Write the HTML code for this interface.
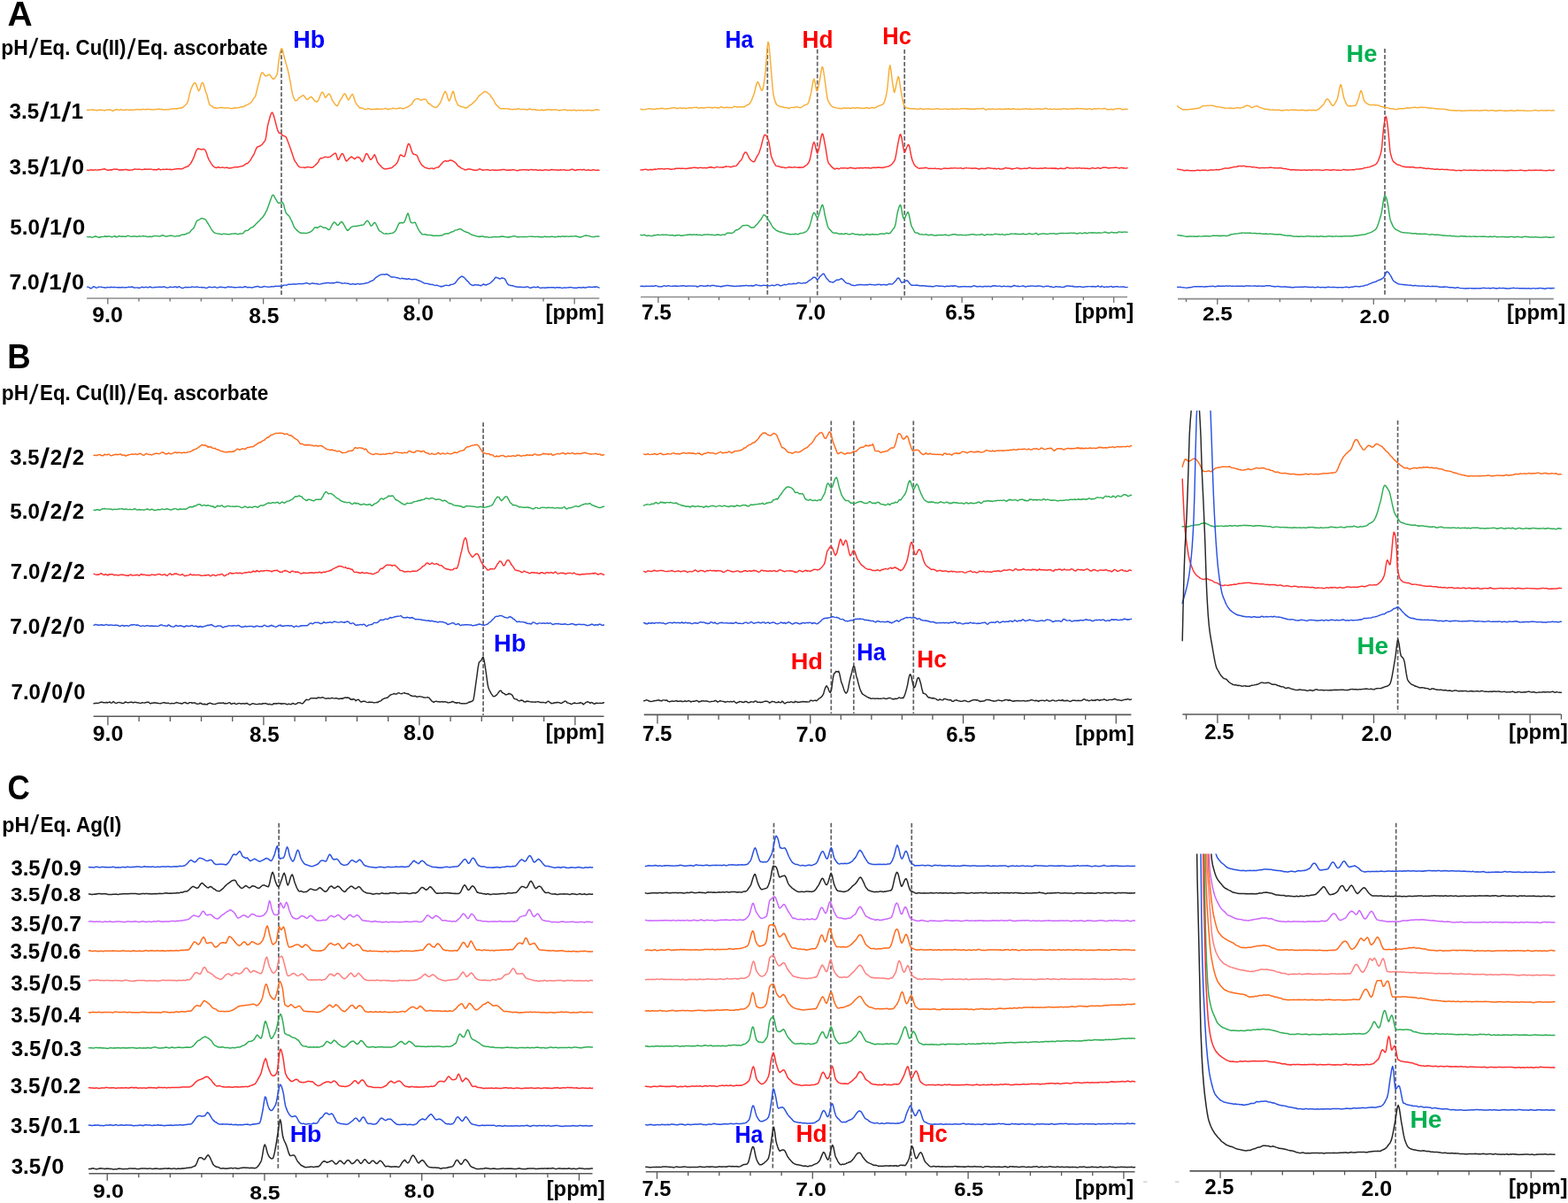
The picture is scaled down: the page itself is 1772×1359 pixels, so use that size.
<!DOCTYPE html>
<html><head><meta charset="utf-8"><style>
html,body{margin:0;padding:0;background:#fff;}
svg{display:block;}
text{font-family:"Liberation Sans",Arial,sans-serif;font-weight:bold;}
</style></head><body>
<svg width="1772" height="1359" viewBox="0 0 1772 1359">
<rect width="1772" height="1359" fill="#fff"/>
<text transform="translate(8.53,29.00) scale(0.9992,1)" font-size="38.99" fill="#000">A</text>
<text transform="translate(1.31,61.90) scale(0.9761,1)" font-size="23.48" fill="#000">pH</text>
<text transform="translate(32.41,65.09) matrix(0.7200,0,-0.2203,1,0,0)" font-size="30.74" fill="#000">/</text>
<text transform="translate(44.75,61.90) scale(0.9485,1)" font-size="23.48" fill="#000">Eq. Cu(II)</text>
<text transform="translate(143.48,65.57) matrix(0.7200,0,-0.1736,1,0,0)" font-size="31.28" fill="#000">/</text>
<text transform="translate(154.94,61.90) scale(0.9587,1)" font-size="23.48" fill="#000">Eq. ascorbate</text>
<text transform="translate(10.50,134.20) scale(1.0075,1)" font-size="24.00" fill="#000">3.5</text>
<text transform="translate(44.57,137.19) matrix(1.0000,0,-0.1291,1,0,0)" font-size="30.60" fill="#000">/</text>
<text transform="translate(55.78,134.20) scale(0.9840,1)" font-size="24.00" fill="#000">1</text>
<text transform="translate(69.37,137.19) matrix(1.0000,0,-0.1291,1,0,0)" font-size="30.60" fill="#000">/</text>
<text transform="translate(80.53,134.20) scale(1.0195,1)" font-size="24.00" fill="#000">1</text>
<text transform="translate(10.50,196.50) scale(1.0015,1)" font-size="24.14" fill="#000">3.5</text>
<text transform="translate(44.57,199.49) matrix(1.0000,0,-0.1291,1,0,0)" font-size="30.60" fill="#000">/</text>
<text transform="translate(55.78,196.50) scale(0.9782,1)" font-size="24.14" fill="#000">1</text>
<text transform="translate(69.37,199.49) matrix(1.0000,0,-0.1291,1,0,0)" font-size="30.60" fill="#000">/</text>
<text transform="translate(80.98,196.50) scale(1.0551,1)" font-size="24.14" fill="#000">0</text>
<text transform="translate(11.27,264.90) scale(0.9924,1)" font-size="24.43" fill="#000">5.0</text>
<text transform="translate(45.07,267.59) matrix(1.0000,0,-0.1183,1,0,0)" font-size="30.74" fill="#000">/</text>
<text transform="translate(55.99,264.90) scale(1.0277,1)" font-size="24.43" fill="#000">1</text>
<text transform="translate(70.36,267.59) matrix(1.0000,0,-0.1139,1,0,0)" font-size="30.74" fill="#000">/</text>
<text transform="translate(81.66,264.90) scale(1.0686,1)" font-size="24.43" fill="#000">0</text>
<text transform="translate(10.51,326.50) scale(1.0589,1)" font-size="23.29" fill="#000">7.0</text>
<text transform="translate(44.85,329.89) matrix(1.0000,0,-0.1008,1,0,0)" font-size="30.74" fill="#000">/</text>
<text transform="translate(55.36,326.50) scale(1.1056,1)" font-size="23.29" fill="#000">1</text>
<text transform="translate(70.05,329.89) matrix(1.0000,0,-0.0964,1,0,0)" font-size="30.74" fill="#000">/</text>
<text transform="translate(80.98,326.50) scale(1.0940,1)" font-size="23.29" fill="#000">0</text>
<text transform="translate(331.24,53.53) scale(0.9980,1)" font-size="27.07" fill="#0000FF">Hb</text>
<text transform="translate(819.58,53.72) scale(0.8974,1)" font-size="27.86" fill="#0000FF">Ha</text>
<text transform="translate(906.49,53.73) scale(0.9551,1)" font-size="27.48" fill="#FF0000">Hd</text>
<text transform="translate(997.35,50.32) scale(0.9221,1)" font-size="27.57" fill="#FF0000">Hc</text>
<text transform="translate(1521.54,69.52) scale(0.9598,1)" font-size="28.29" fill="#00B050">He</text>
<text transform="translate(104.23,363.97) scale(1.0798,1)" font-size="23.10" fill="#000">9.0</text>
<text transform="translate(281.16,364.66) scale(1.0477,1)" font-size="23.52" fill="#000">8.5</text>
<text transform="translate(455.55,362.16) scale(1.0501,1)" font-size="23.66" fill="#000">8.0</text>
<text transform="translate(616.49,360.79) scale(1.0006,1)" font-size="23.85" fill="#000">[ppm]</text>
<text transform="translate(725.02,360.86) scale(1.0038,1)" font-size="24.29" fill="#000">7.5</text>
<text transform="translate(899.22,360.86) scale(1.0202,1)" font-size="23.94" fill="#000">7.0</text>
<text transform="translate(1068.25,360.56) scale(1.0293,1)" font-size="23.52" fill="#000">6.5</text>
<text transform="translate(1214.48,359.98) scale(0.9864,1)" font-size="24.39" fill="#000">[ppm]</text>
<text transform="translate(1358.95,361.87) scale(1.0710,1)" font-size="22.68" fill="#000">2.5</text>
<text transform="translate(1536.54,364.87) scale(1.0732,1)" font-size="22.82" fill="#000">2.0</text>
<text transform="translate(1702.99,361.41) scale(1.0035,1)" font-size="23.74" fill="#000">[ppm]</text>
<line x1="98.1" y1="337.0" x2="677.3" y2="337.0" stroke="#8C8C8C" stroke-width="1.6"/>
<line x1="649.20" y1="337.0" x2="649.20" y2="343.50" stroke="#6E6E6E" stroke-width="1.3"/>
<line x1="614.04" y1="337.0" x2="614.04" y2="340.60" stroke="#6E6E6E" stroke-width="1.3"/>
<line x1="578.88" y1="337.0" x2="578.88" y2="340.60" stroke="#6E6E6E" stroke-width="1.3"/>
<line x1="543.72" y1="337.0" x2="543.72" y2="340.60" stroke="#6E6E6E" stroke-width="1.3"/>
<line x1="508.56" y1="337.0" x2="508.56" y2="340.60" stroke="#6E6E6E" stroke-width="1.3"/>
<line x1="473.40" y1="337.0" x2="473.40" y2="343.50" stroke="#6E6E6E" stroke-width="1.3"/>
<line x1="438.24" y1="337.0" x2="438.24" y2="340.60" stroke="#6E6E6E" stroke-width="1.3"/>
<line x1="403.08" y1="337.0" x2="403.08" y2="340.60" stroke="#6E6E6E" stroke-width="1.3"/>
<line x1="367.92" y1="337.0" x2="367.92" y2="340.60" stroke="#6E6E6E" stroke-width="1.3"/>
<line x1="332.76" y1="337.0" x2="332.76" y2="340.60" stroke="#6E6E6E" stroke-width="1.3"/>
<line x1="297.60" y1="337.0" x2="297.60" y2="343.50" stroke="#6E6E6E" stroke-width="1.3"/>
<line x1="262.44" y1="337.0" x2="262.44" y2="340.60" stroke="#6E6E6E" stroke-width="1.3"/>
<line x1="227.28" y1="337.0" x2="227.28" y2="340.60" stroke="#6E6E6E" stroke-width="1.3"/>
<line x1="192.12" y1="337.0" x2="192.12" y2="340.60" stroke="#6E6E6E" stroke-width="1.3"/>
<line x1="156.96" y1="337.0" x2="156.96" y2="340.60" stroke="#6E6E6E" stroke-width="1.3"/>
<line x1="121.80" y1="337.0" x2="121.80" y2="343.50" stroke="#6E6E6E" stroke-width="1.3"/>
<line x1="724.1" y1="335.5" x2="1274.0" y2="335.5" stroke="#8C8C8C" stroke-width="1.6"/>
<line x1="1258.70" y1="335.5" x2="1258.70" y2="342.00" stroke="#6E6E6E" stroke-width="1.3"/>
<line x1="1224.38" y1="335.5" x2="1224.38" y2="339.10" stroke="#6E6E6E" stroke-width="1.3"/>
<line x1="1190.06" y1="335.5" x2="1190.06" y2="339.10" stroke="#6E6E6E" stroke-width="1.3"/>
<line x1="1155.74" y1="335.5" x2="1155.74" y2="339.10" stroke="#6E6E6E" stroke-width="1.3"/>
<line x1="1121.42" y1="335.5" x2="1121.42" y2="339.10" stroke="#6E6E6E" stroke-width="1.3"/>
<line x1="1087.10" y1="335.5" x2="1087.10" y2="342.00" stroke="#6E6E6E" stroke-width="1.3"/>
<line x1="1052.78" y1="335.5" x2="1052.78" y2="339.10" stroke="#6E6E6E" stroke-width="1.3"/>
<line x1="1018.46" y1="335.5" x2="1018.46" y2="339.10" stroke="#6E6E6E" stroke-width="1.3"/>
<line x1="984.14" y1="335.5" x2="984.14" y2="339.10" stroke="#6E6E6E" stroke-width="1.3"/>
<line x1="949.82" y1="335.5" x2="949.82" y2="339.10" stroke="#6E6E6E" stroke-width="1.3"/>
<line x1="915.50" y1="335.5" x2="915.50" y2="342.00" stroke="#6E6E6E" stroke-width="1.3"/>
<line x1="881.18" y1="335.5" x2="881.18" y2="339.10" stroke="#6E6E6E" stroke-width="1.3"/>
<line x1="846.86" y1="335.5" x2="846.86" y2="339.10" stroke="#6E6E6E" stroke-width="1.3"/>
<line x1="812.54" y1="335.5" x2="812.54" y2="339.10" stroke="#6E6E6E" stroke-width="1.3"/>
<line x1="778.22" y1="335.5" x2="778.22" y2="339.10" stroke="#6E6E6E" stroke-width="1.3"/>
<line x1="743.90" y1="335.5" x2="743.90" y2="342.00" stroke="#6E6E6E" stroke-width="1.3"/>
<line x1="1331.0" y1="337.6" x2="1755.8" y2="337.6" stroke="#8C8C8C" stroke-width="1.6"/>
<line x1="1728.80" y1="337.6" x2="1728.80" y2="344.10" stroke="#6E6E6E" stroke-width="1.3"/>
<line x1="1693.50" y1="337.6" x2="1693.50" y2="341.20" stroke="#6E6E6E" stroke-width="1.3"/>
<line x1="1658.20" y1="337.6" x2="1658.20" y2="341.20" stroke="#6E6E6E" stroke-width="1.3"/>
<line x1="1622.90" y1="337.6" x2="1622.90" y2="341.20" stroke="#6E6E6E" stroke-width="1.3"/>
<line x1="1587.60" y1="337.6" x2="1587.60" y2="341.20" stroke="#6E6E6E" stroke-width="1.3"/>
<line x1="1552.30" y1="337.6" x2="1552.30" y2="344.10" stroke="#6E6E6E" stroke-width="1.3"/>
<line x1="1517.00" y1="337.6" x2="1517.00" y2="341.20" stroke="#6E6E6E" stroke-width="1.3"/>
<line x1="1481.70" y1="337.6" x2="1481.70" y2="341.20" stroke="#6E6E6E" stroke-width="1.3"/>
<line x1="1446.40" y1="337.6" x2="1446.40" y2="341.20" stroke="#6E6E6E" stroke-width="1.3"/>
<line x1="1411.10" y1="337.6" x2="1411.10" y2="341.20" stroke="#6E6E6E" stroke-width="1.3"/>
<line x1="1375.80" y1="337.6" x2="1375.80" y2="344.10" stroke="#6E6E6E" stroke-width="1.3"/>
<line x1="1340.50" y1="337.6" x2="1340.50" y2="341.20" stroke="#6E6E6E" stroke-width="1.3"/>
<line x1="318.0" y1="55.3" x2="318.0" y2="334.5" stroke="#606066" stroke-width="1.7" stroke-dasharray="4.7,2.3"/>
<line x1="867.3" y1="55.0" x2="867.3" y2="335.0" stroke="#606066" stroke-width="1.7" stroke-dasharray="4.7,2.3"/>
<line x1="923.7" y1="55.8" x2="923.7" y2="335.0" stroke="#606066" stroke-width="1.7" stroke-dasharray="4.7,2.3"/>
<line x1="1022.2" y1="56.1" x2="1022.2" y2="335.0" stroke="#606066" stroke-width="1.7" stroke-dasharray="4.7,2.3"/>
<line x1="1565.0" y1="55.0" x2="1565.0" y2="334.3" stroke="#606066" stroke-width="1.7" stroke-dasharray="4.7,2.3"/>
<path d="M98.5 124.3l1 -.2 1 .2 1 -.2 1 0 1 -.2 1 .1 1 .2 1 -.1 1 .3 1 .2 1 .2 1 -.3 1 -.3 1 .1 1 0 1 -.1 1 .1 1 .1 1 .5 1 -.2 1 -.1 1 -.6 1 .1 1 -.1 1 0 1 0 1 .3 1 .7 1 .2 1 -.2 1 -.7 1 -.4 1 -.4 1 .2 1 .4 1 .2 1 -.4 1 -.1 1 .2 1 .2 1 .2 1 -.1 1 -0 1 -.5 1 .1 1 .2 1 .2 1 -0 1 -.2 1 .1 1 0 .5 .1 .5 0 1 -.2 1 -.1 1 -.4 1 .2 1 -.4 1 .3 1 .1 1 .1 1 .1 1 -.5 1 -.1 1 .1 1 .1 1 .3 1 -.4 1 0 1 -.3 1 .2 1 .3 1 0 1 0 1 .2 1 .1 1 -.1 1 -.3 1 0 1 0 1 -.4 1 .1 1 0 1 .4 1 -.4 1 .3 1 .2 1 .3 1 -.3 1 -.1 1 0 1 .2 1 -.1 1 -.2 1 -.3 1 -.2 1 -.3 1 .1 1 .1 1 -.3 1 -.1 1 .2 .5 .3 .5 -.4 1 -.4 1 0 1 0 1 -.5 .5 0 .5 .1 1 -.5 1 -.8 1 -1.1 1 -.8 1 -1.1 1 -1.2 .5 -.9 .5 -1.6 1 -4.1 1 -4.6 1 -3.7 .5 -1.2 .5 -1.1 1 -2.3 1 -1.8 1 -1.1 .8 -.6 1.2 1.4 1 3 1 3 1 2 1 -1.3 1 -2.8 1 -3.7 1 -1.7 1 .5 1 2.9 1 3.5 1 3.5 .5 1.4 .5 .9 1 3.8 1 4 1 3.6 .5 1 .5 .3 1 .6 1 .6 1 .7 1 1.1 1 .1 .5 .1 .5 -.2 1 .6 1 -.2 1 -.2 1 -.2 1 0 1 -.2 1 -.1 1 .1 1 .4 1 .1 1 .1 1 -.2 1 -.2 1 .2 1 .2 1 .1 .5 0 .5 .2 1 .3 1 -.2 1 -.3 1 -.2 1 -.2 1 .2 1 -.1 1 0 1 -.4 1 .1 1 -.7 .5 0 .5 -.2 1 0 1 .1 1 -.5 1 -.2 1 -1.1 1 -.3 1 -.4 .5 -.2 .5 -.4 1 -.5 1 -.4 1 -.8 1 -1.3 1 -1.4 1 -1.8 1 -1.4 .5 -.6 .5 -.5 1 -3.3 1 -4.5 1 -4.1 .5 -1.8 .5 -1.6 1 -4.4 1 -4 1 -2.5 .6 -.8 .4 0 1 .7 1 1.5 1 1.3 .5 .1 .5 .3 1 -.3 1 -.3 1 -.9 .6 -.3 .4 .2 1 1 1 1.7 1 1 1 1.2 .5 -.2 .5 .1 1 -.9 1 -1.3 1 -1.7 .5 -1 .5 -1.9 1 -9.2 1 -8 1 -5.3 1 -4 1 -1 1 2.3 1 4.6 .5 1.8 .5 2.1 1 3.6 1 3.7 .9 2.9 1.1 4.3 1 4.4 1 5.1 .5 2.9 .5 2.4 1 5.9 1 5.3 .5 1.8 .5 1.6 1 2.2 1 1.8 1 .2 1 -.3 1 -.9 1 -1.7 .5 -.3 .5 -.2 1 -.6 1 -.7 1 -.9 1 -.3 .5 0 .5 .3 1 1.4 1 1.6 1 1 .7 .3 1.3 -.5 1 -1.2 1 -1 1 -.5 1 1 1 1.1 1 1.2 1 1.3 1 .6 .9 .6 1.1 -.2 1 -1.1 1 -2 1 -2.8 1 -2.4 1 -1.9 1 -.5 1 1.3 1 2.6 1 2.1 .4 .1 .6 -.4 1 -1.6 1 -1.3 1 -.8 1 .2 1 1.9 1 2.4 1 2.6 .5 .6 .5 .8 1 1.5 1 1.5 1 1.1 1 .6 .6 .5 .4 -.7 1 -1.5 1 -2.7 1 -1.7 .5 -.7 .5 -.6 1 -1.8 1 -2 1 -1.6 1 -.8 1 .9 1 2.3 1 2.4 1 1.6 1 -.8 1 -1.6 1 -2.1 1 -1.3 .6 -.7 .4 .1 1 2.2 1 3.3 1 3 .5 1 .5 .9 1 1.5 1 1 1 1.2 .5 .6 .5 .8 1 0 1 .1 1 0 1 .6 1 .5 1 .2 1 .2 1 -.2 .5 -.3 .5 -.5 1 0 1 .4 1 .3 1 .2 1 .2 1 -.4 1 .3 1 -.4 1 .3 1 -.5 1 .2 1 -.2 1 .3 1 .1 1 -.1 1 -.1 1 -.1 1 -.2 1 -.2 1 -.3 1 .2 1 .6 1 .5 1 -.2 .5 -.6 .5 .1 1 .1 1 -.2 1 -.4 1 -.2 1 .1 1 .3 1 .2 1 -.1 1 -.3 1 -.3 1 0 1 -.3 1 .5 1 .1 .5 .4 .5 -.2 1 -.3 1 -.3 1 -.5 1 -.3 1 -.3 1 -.6 1 -.7 .5 -.6 .5 0 1 -.6 1 -1.3 1 -1.7 1 -1.6 1 -1.1 1 -.7 1 -.2 .9 -.5 1.1 .2 1 .1 1 1 1 .4 1 0 1 -.4 1 -.6 1 .1 .4 -.2 .6 .1 1 .4 1 1.7 1 1.8 1 1.3 .5 -.1 .5 0 1 .7 1 1.2 1 .6 1 .8 1 .4 1 .5 1 -.1 1 -.2 1 -.9 1 -1.4 1 -1.3 .5 -.7 .5 -.6 1 -2.2 1 -2.8 .5 -1.1 .5 -1.7 1 -2.3 1 -2.4 .7 -.4 1.3 1.8 1 4 1 3 1 2 1 -1.5 1 -2.6 1 -3.3 1 -2.9 .5 -.5 .5 .2 1 3.8 1 4.4 .5 1.6 .5 1 1 2.2 1 2.1 .5 .5 .5 .3 1 .1 1 .9 1 .1 1 .4 1 0 1 .4 1 .5 1 .2 1 -.5 1 -.4 1 -.9 .5 -.4 .5 -.9 1 -.3 1 -.3 1 -1 1 -1 1 -1.1 1 -.5 .5 -.7 .5 -.3 1 -1.4 1 -1.6 1 -1.3 1 -1.4 1 -.5 1 -.8 1 -.9 1 -.8 1 -1 1 -.4 1 -.2 .8 .1 1.2 .8 1 .9 1 .8 1 .6 .5 .9 .5 1 1 1.6 1 1 1 1.4 1 2 1 2 .5 1 .5 .6 1 1 1 1 1 1 1 .9 1 .6 .7 .3 1.3 -.3 1 .1 1 -.1 1 .2 1 .1 1 -.1 1 .1 1 .1 1 .2 1 0 1 .3 1 .1 1 .2 .5 -.2 .5 -.1 1 -.2 1 .1 1 .1 1 -.2 1 -.5 1 .1 1 .2 1 .5 1 -.2 1 .1 1 0 1 -.1 1 .1 1 .2 1 .4 1 -.3 1 -.4 1 -.4 1 .3 1 .4 1 .4 1 -.3 1 -.1 1 .1 1 .2 1 .4 1 -.3 1 .4 1 .1 1 -.1 1 -.3 1 -.3 1 .9 1 -.3 1 0 1 -.6 1 .3 1 -.3 1 -.1 1 0 1 0 1 .4 1 -.2 1 .2 1 -.4 1 .1 1 .1 1 0 1 .1 1 .3 1 .4 1 0 1 -.2 1 -.3 1 .1 1 -.5 1 0 1 -.2 1 .5 1 .3 1 .3 1 -.2 1 0 1 0 1 .1 1 0 1 -.3 1 -.3 1 .2 1 .5 1 .3 1 -.6 1 0 1 0 1 .3 1 -.3 1 -.1 1 .3 1 .4 1 -.2 1 -.3 1 -.3 1 .5 1 -.5 1 .1 1 .1 1 .4 1 -.2 1 0 1 .1 1 -.3 1 -.4 1 -.3 1 0 1 .2 1 .1 .5 .3" fill="none" stroke="#F9AD35" stroke-width="1.45" stroke-linejoin="round" stroke-linecap="round" />
<path d="M98.5 192.1l1 .4 1 0 1 -.5 1 -.1 1 -.1 1 .6 1 -.4 1 .1 1 -.3 1 .1 1 .2 1 -.1 1 0 1 -.2 1 0 1 -.4 1 0 1 -.5 1 .1 1 -.2 1 .7 1 .4 1 .3 1 0 1 -.2 1 0 1 -.2 1 .3 1 -.7 1 -.1 1 -.4 1 .5 1 -.3 1 .2 1 .2 1 .7 1 -.3 1 .1 1 -.3 1 .3 1 -.3 1 0 1 -.2 1 0 1 .2 1 .3 1 .3 1 0 1 -.2 1 -.2 1 .2 .5 -.3 .5 -.2 1 -.3 1 -.3 1 .1 1 0 1 .1 1 -.1 1 .1 1 .2 1 .1 1 .1 1 -.1 1 -.2 1 -.3 1 .2 1 -.1 1 .1 1 -.1 1 .3 1 -.4 1 .1 1 .2 1 .3 1 .2 1 -.3 1 .2 1 .1 1 .1 1 -.9 1 -.2 1 .5 1 .5 1 -.2 1 -.2 1 -.1 1 .3 1 -.2 1 -.2 1 -.1 1 .1 1 .2 1 .1 1 -.3 1 .3 1 .2 1 -.3 1 -.2 1 -.3 1 0 1 -.1 .5 -.2 .5 .1 1 0 1 0 1 .1 1 .1 1 -.2 1 -.2 1 -.7 1 -.5 1 -.5 1 0 1 -.8 .5 .2 .5 -.6 1 -.5 1 -1.4 1 -1 1 -1.9 1 -1.9 .5 -1.1 .5 -.8 1 -2.4 1 -3 1 -2.7 .5 -1.3 .5 -.4 1 -1.2 .5 .2 .5 -.3 1 .5 1 .1 1 .4 1 0 .5 -.1 .5 -.5 1 .4 1 .4 .5 .7 .5 .9 1 2.5 1 3.2 1 2.6 .5 1.3 .5 .7 1 1.7 1 1.6 1 1.5 .5 1 .5 .5 1 .8 1 .7 1 .5 1 .2 .5 0 .5 -.5 1 0 1 -.2 1 .7 1 -.1 1 -.2 1 -.3 1 .5 1 .2 1 0 1 -.4 1 .1 1 .2 1 .5 1 .1 .5 -.3 .5 -.1 1 0 1 -.1 1 -.5 1 -.1 1 -.1 1 -.1 1 0 1 -.2 1 .1 1 -.4 1 -.2 .5 -.2 .5 0 1 -.2 1 -.2 1 -.6 1 -1 1 -.6 1 -.5 1 -.1 .5 -.5 .5 -.6 1 -.8 1 -1.2 1 -1.3 1 -2.1 1 -1.5 .5 -.9 .5 -.6 1 -2.1 1 -2.5 1 -2.5 1 -2 .9 -.3 1.1 -.3 1 -.5 1 -.4 .5 -.5 .5 -.2 1 -1.1 1 -1.4 1 -.9 1 -1.7 .5 -.9 .5 -2.5 1 -6.6 1 -6.6 .5 -2.2 .5 -1.8 1 -4 1 -3.5 1 -2.4 1 -1.3 1 1.4 1 2.9 .5 2 .5 1.5 1 4 1 3.9 .5 1.7 .5 1.9 1 2.6 1 1.5 .5 -.2 .5 0 1 .8 1 1.1 1 .7 .5 .6 .5 .1 1 .3 1 .4 1 1 1 2.5 1 2.5 1 2.8 1 2.6 1 3 1 3 1 3 1 3 1 2.8 1 1.9 1 1.4 1 1.5 1 1.5 1 1.2 1 .8 1 .4 1 0 1 0 1 0 1 .2 1 .2 1 -.3 1 -.3 1 -.4 1 .3 1 .1 1 .1 1 .2 .8 0 1.2 -.1 1 -.9 1 -.9 1 -.8 1 -1.3 .5 -.1 .5 -.9 1 -.8 1 -2.5 1 -1.4 1 -.9 1 .1 1 -.1 1 -.6 1 -.4 1 -.4 1 .2 1 .2 1 .1 1 -.2 1 -.1 1 -.3 1 -1 1 -.9 .5 -.4 .5 -.3 1 -.9 1 -.3 .9 -.2 1.1 2.9 1 3.6 .5 .9 .5 -.3 1 -1.3 1 -2.2 1 -2 1 -1.3 1 .5 1 1.8 1 2.5 1 2.5 1 1.3 .5 -.1 .5 -.7 1 -.7 1 -1.5 1 -.7 1 -1 .5 .3 .5 -.5 1 .9 1 .6 1 1.1 .5 -.2 .5 -.5 1 -.8 1 -.8 1 .3 .9 -.2 1.1 1 1 1.3 1 1.8 1 1.1 1 -.9 1 -2.5 1 -2.8 1 -2.5 1 -.5 1 1 1 2.2 1 1.9 1 1.4 .4 .4 .6 -.3 1 -1.1 1 -1.6 1 -1.7 .7 -1.1 1.3 2.1 1 3.4 1 2.8 .5 .8 .5 .4 1 1.8 1 .6 1 1.2 .5 .4 .5 .9 1 .6 1 .7 1 .5 1 .1 1 0 1 -.4 1 0 1 -.2 1 -.3 1 -.2 1 -.1 1 -.7 .5 -.8 .5 -.4 1 -.6 1 -.5 1 -1.4 1 -1.1 .5 -.9 .5 -.7 1 -2.9 1 -2.9 1 -1.9 1 .3 1 .5 1 .8 1 .4 .5 -.1 .5 -.7 1 -3.3 1 -4.1 1 -3.9 1 -2.4 1 .2 1 2.4 1 3.3 .5 1.6 .5 1.1 1 2.4 .5 .3 .5 .6 1 .1 1 .4 1 .1 1 1.2 1 2.4 1 2.5 .5 1 .5 .7 1 2 1 1.5 1 1.1 .5 .1 .5 .4 1 .9 1 .6 1 .4 1 .1 1 .5 1 .1 1 .3 1 -.6 1 0 1 -.1 1 .7 1 0 1 -.7 1 -.4 1 -.5 1 0 .5 -.1 .5 0 1 -1.3 1 -1 1 -1.2 1 -.9 .5 -.8 .5 -.4 1 -.9 1 -.6 1 -.2 1 .5 1 -.2 1 .1 1 -.8 1 0 1 -.5 .9 .4 1.1 .4 1 .8 1 .5 1 .9 .5 .3 .5 .5 1 1.4 1 1.2 1 .9 1 .2 .5 .6 .5 .5 1 .7 1 .3 1 .5 1 .2 .5 .7 .5 -.1 1 .2 1 -.4 1 -.3 1 -.3 1 0 1 .3 1 .1 1 .4 1 .1 1 .5 1 -.1 1 -.1 1 .2 1 -.2 1 -.3 1 -.9 1 0 1 .5 1 .5 1 .4 1 -.3 1 .1 1 -.2 1 -.1 1 0 1 -.1 1 .4 1 .2 1 .1 1 -.3 1 -.1 1 0 1 .2 1 0 1 -.1 1 .3 1 -.2 1 0 1 -.2 1 0 1 -.2 1 -.1 1 -.3 1 .1 1 .2 1 .4 1 .2 1 -.2 1 .2 1 -.3 1 .2 1 -.2 1 0 1 -.3 1 .1 1 .1 1 .2 1 .5 1 .1 1 0 1 -.5 1 -.2 1 -.1 1 0 1 -.1 1 .1 1 -.2 1 .2 1 -.3 1 .4 1 -.1 1 .5 1 -.5 1 -.3 1 -.1 1 .2 1 .3 1 -.1 1 -.2 1 0 1 .3 1 .4 1 -.1 1 -.1 1 -.3 1 .3 1 .1 1 .4 1 -.6 1 0 1 -.4 1 .4 1 -.1 1 .4 1 -.1 1 -.1 1 -.5 1 -.2 1 .2 1 0 1 .4 1 -.2 1 .1 1 0 1 .3 1 -.1 1 -.2 1 -.2 1 .3 1 -.1 1 -.1 1 -.1 1 .3 1 .2 1 -.1 1 .2 1 0 1 -.1 1 -.7 1 -.1 1 -.4 1 .4 1 .2 1 .7 1 .1 1 -.5 1 -.3 1 .1 1 -.1 1 -.1 1 0 1 .4 1 -.2 1 -.3 1 0 1 .8 1 .1 1 -.2 1 -.4 1 .2 1 .3 1 .2 1 -.1 1 -.4 1 -.2 1 0 1 .4 1 .2 1 -.2 1 0 1 0 .5 .2" fill="none" stroke="#FF3030" stroke-width="1.45" stroke-linejoin="round" stroke-linecap="round" />
<path d="M98.5 267.6l1 0 1 .1 1 -.2 1 .1 1 .5 1 .1 1 -.4 1 -.6 1 -.2 1 .3 1 -0 1 .6 1 .1 1 .4 1 -.7 1 -.2 1 .1 1 -.2 1 -0 1 -.7 1 .6 1 -.3 1 .3 1 -.4 1 -.1 1 .6 1 -0 1 .6 1 -.6 1 -.3 1 -.3 1 .2 1 .9 1 -.3 1 -.3 1 -.8 1 .3 1 .4 1 -0 1 -.2 1 -0 1 .4 1 -.1 1 -.1 1 -.8 1 -0 1 -0 1 .5 1 .2 1 .2 1 -0 .5 -.2 .5 -.3 1 .1 1 -0 1 .1 1 .3 1 .1 1 -.4 1 -.4 1 .4 1 .1 1 -.2 1 -.4 1 .2 1 .2 1 .1 1 .1 1 .4 1 -0 1 -.1 1 -.4 1 .7 1 -.4 1 -.1 1 -.6 1 -.1 1 -0 1 .1 1 -0 1 .1 1 .2 1 .1 1 -.2 1 -.9 1 .1 1 -.2 1 .6 1 .4 1 .4 1 -.3 1 -.2 1 -.2 1 -.1 1 -.3 1 .1 1 .2 1 .1 1 .4 1 .2 1 -0 1 -.6 1 .1 1 -.1 1 .3 .5 -.5 .5 -0 1 -.8 1 -.1 1 -.4 1 -0 1 -0 1 -.5 1 -.2 1 -.9 1 -0 1 -.3 1 -.9 1 -1.1 1 -1.4 1 -.7 1 -1 1 -1.5 1 -2.5 1 -2.7 1 -1.8 1 -.8 1 -.1 1 -.6 1 -.8 1 -.4 1 -.2 1 .5 1 .1 .8 .3 1.2 .8 1 1.4 1 2.1 1 1.2 1 1.8 1 1.7 1 1.8 1 1.5 1 1.4 1 1.1 1 .7 1 .4 1 .2 1 .3 1 .1 1 .1 1 .1 1 .3 1 .2 1 -.2 1 -.4 1 -0 1 .2 1 .2 1 -0 1 .1 1 .1 1 -0 1 -.4 1 -0 1 -.2 1 -.1 1 .1 1 -.4 1 .3 1 .1 1 .6 1 -.3 1 -.1 .5 -.4 .5 .1 1 -0 1 -.1 1 -.1 1 -1.2 1 -1.1 1 -1 1 -.1 1 -0 1 -.3 1 -1 1 -.9 1 -1 1 -.1 1 -.7 .8 -.2 1.2 -1.6 1 -.5 1 -1.4 1 -.9 1 -1.1 1 -.8 1 -1 1 -1.2 1 -1.1 1 -.9 1 -1.1 1 -1.6 1 -1.6 1 -2 1 -1.7 1 -2.7 1 -2.8 1 -2.9 1 -2.9 1 -2.6 1 -2.8 1 -.8 1 .7 1 2.2 1 1.6 1 1.7 1 1.8 1 1 .6 .2 .4 -.2 1 .1 1 -.2 1 -.5 .8 -0 1.2 2 1 4.4 1 3.4 1 2.6 1 1 1 .9 1 1 1 1.5 1 2.1 1 1.8 1 2.5 1 2.4 1 2.6 .4 .4 .6 .7 1 1.1 1 1.2 1 .7 1 1 1 .6 1 .5 1 .2 1 .1 1 .1 1 -.2 1 .2 1 .1 1 .1 1 -.6 1 -.1 1 -.4 1 -.2 1 -.8 .8 -.6 1.2 -1.1 1 -1.4 1 -1.2 1 -.4 .9 .2 1.1 .5 1 -.5 1 -.6 1 -.7 1 -.3 1 .6 1 .6 1 .6 1 -0 1 -.1 1 .3 1 1 1 .6 1 .5 1 -.4 1 -1.5 1 -2.1 1 -2 1 -1.3 1 -1.2 1 .4 1 .8 1 1.7 1 .5 .5 .2 .5 -.6 1 -.9 1 -1.6 1 -.9 .8 -.1 1.2 1.4 1 1.8 1 1.7 1 1.9 1 1.7 1 1.3 1 -.1 1 -1.1 1 -1.2 1 -1 1 -.5 1 -.5 1 -.3 1 -.1 1 -0 1 -.1 1 -0 1 -.4 1 .1 1 -.5 1 -0 1 -.5 1 .3 1 -.3 1 -.6 1 -1.6 1 -1.4 1 -.9 .7 -.4 1.3 1.1 1 1.7 1 2.3 .8 .9 1.2 -.5 1 -1.3 1 -1.6 1 -.3 1 .8 1 2.2 1 2 1 2.4 1 1.5 .6 .7 .4 -0 1 .6 1 .8 1 .6 1 .8 1 .2 1 -.1 1 -.2 1 .2 1 .1 1 -.1 1 -.2 1 -.2 1 -0 1 -.4 1 -.3 1 -.7 .5 -.4 .5 -.4 1 -1.7 1 -2.1 1 -2.3 1 -2.2 1 -1.5 .4 .3 .6 -.2 1 .1 1 -.3 1 .3 .7 -.2 1.3 -1.9 1 -2.8 1 -3 1 -2.5 .4 -.5 .6 .8 1 3.7 1 3.9 1 2.2 1 .1 1 .3 1 -.3 1 -.5 .4 -0 .6 .6 1 2.4 1 2.1 .8 1.9 1.2 2.1 1 1.6 1 1.3 1 1 .8 .6 1.2 .2 1 -.2 1 .1 1 .2 1 .5 1 -.1 1 .2 1 -.2 1 .2 1 .2 1 .2 1 .2 1 -.1 1 .4 1 -.4 .9 .1 1.1 -.1 1 .3 1 -.2 1 -.2 1 -0 1 -0 1 -.6 1 -.6 1 -.6 1 -.3 1 .2 1 -.4 1 .3 .5 -.4 .5 -0 1 -.7 1 -.5 1 -.4 1 -.2 1 -.5 1 -.6 1 -.6 1 -.2 1 -.2 1 -.3 1 -.6 1 -.1 1 .1 1 .4 1 .7 1 .8 1 .5 1 .3 1 .7 .8 -0 1.2 .6 1 .1 1 .9 1 .5 1 .6 1 .6 1 -0 1 .4 1 .3 1 .4 1 -0 1 .4 1 .2 1 .3 1 -.5 1 .2 .7 -.1 1.3 -.3 1 .6 1 -0 1 .5 1 -.5 1 .4 1 .1 1 .3 1 -.1 1 -0 1 -.2 1 -0 1 -.5 1 .2 1 -.1 1 .4 1 -.4 1 .1 1 -.2 1 .4 1 -.7 1 .1 1 -.2 1 .2 1 -.1 1 .5 1 .1 1 .2 1 .1 1 -.3 1 .3 1 -.5 1 .1 1 -.4 1 -.3 1 -.1 1 -.2 1 .3 1 .4 1 .4 1 .1 1 -.1 1 -.1 1 -0 1 -0 1 -.2 1 .1 1 -.1 1 .2 1 -.1 1 .1 1 -.2 1 -.3 1 -0 1 -0 1 .1 1 -0 1 -0 1 .2 1 .1 1 -0 1 -.1 1 -.2 1 .3 1 -0 1 .2 1 -0 1 .1 1 .1 1 -.5 1 -.2 1 -.1 1 .6 1 -.3 1 .1 1 -.1 1 .3 1 -.4 1 -.2 1 .1 1 .4 1 .2 1 -.1 1 -.1 1 -0 1 -.6 1 .2 1 -0 1 .4 1 -.6 1 -.1 1 -0 1 .3 1 -0 1 -.3 1 .1 1 .1 1 .1 1 -.1 1 -.1 1 -0 1 -0 1 .1 1 -.2 1 -.1 1 -0 1 .2 1 .2 1 .4 1 .2 1 .2 1 -.3 1 -.2 1 -.4 1 -.5 1 -.2 1 -.4 1 .2 1 -.1 1 .3 1 .2 1 .2 1 .4 1 .2 1 .2 1 -0 1 -.1 1 -.3 1 -.1 1 -.1 1 -0 1 -0 .5 -0" fill="none" stroke="#2FAE55" stroke-width="1.45" stroke-linejoin="round" stroke-linecap="round" />
<path d="M98.5 324.1l1 0 1 .6 1 .5 1 .7 1 -.6 1 -.4 1 -1.1 1 .1 1 .5 1 .7 1 0 1 -.4 1 -.5 1 -.1 1 0 1 .1 1 .3 1 .1 1 .2 1 .2 1 -0 1 -.2 1 -.3 1 .1 1 .1 1 -.2 1 -.2 1 .2 1 -.1 1 .3 1 -.4 1 .3 1 -0 1 .2 1 -.1 1 -.2 1 .4 1 -.1 1 -.1 1 -.3 1 .3 1 .2 1 -.1 1 0 1 -.2 1 -.1 1 -.4 1 .3 1 -.2 1 -0 1 -.2 1 .5 1 .6 1 -0 1 -.2 1 -0 1 .1 1 .3 1 -.1 1 -.1 1 -.5 1 -.4 1 .3 1 .3 1 -.2 1 -.3 1 .1 1 .5 1 -0 1 -.7 1 -0 1 -.1 1 .8 1 -0 1 -0 1 -.4 1 -0 1 -0 1 -0 1 -.1 1 -.3 1 .1 1 .1 1 .2 1 -.3 1 -.1 1 -.3 1 .5 1 .3 1 .5 1 -.2 1 -.2 1 -.3 1 -.3 1 .2 1 .1 1 .2 1 -.3 1 -.3 1 -.1 1 .3 .5 .7 .5 -.4 1 -.4 1 -.4 1 .7 1 .5 1 .4 1 .2 1 -.4 1 -.5 1 -.1 1 -0 1 .2 1 -.2 1 -.1 1 .2 1 -.1 1 -.3 1 -.3 1 .2 1 .3 1 .1 1 -.4 1 -.1 1 .2 1 .4 1 0 1 0 1 -.1 1 .3 1 -.2 1 .2 1 .1 1 .4 1 .1 1 -.3 1 -.7 1 -.3 1 .1 1 .4 1 0 1 .1 1 -.5 1 -0 1 .1 1 .6 1 .2 1 -.1 1 -.6 1 -.1 1 0 1 .2 1 0 1 .1 1 .1 1 .4 1 -.3 1 -.4 1 -.4 1 -0 1 .2 1 -.1 1 .1 1 .2 1 .1 1 .2 1 -0 1 -0 1 -.1 1 0 1 -.1 1 0 1 -.2 1 .3 1 .1 1 -.2 1 -.3 1 -.5 1 .3 1 -0 1 .8 1 -0 1 -.3 1 .1 1 .1 1 .4 1 -.4 1 -.1 1 -.6 1 .1 1 -.5 1 .1 1 -.4 1 .7 1 .3 1 .2 1 -0 1 -.2 1 -.3 .5 -.3 .5 -.3 1 .3 1 .2 1 .1 1 .1 1 .1 1 -.1 1 -.1 1 -.3 1 -0 1 .2 1 -.2 1 -.2 1 -.4 1 .2 1 .1 1 -.3 1 .1 1 .1 1 .5 1 -.3 1 -.6 1 -.7 1 -.1 1 -0 1 .1 1 -.3 1 -.6 1 -.1 1 -.1 1 .3 1 -.3 1 -.2 1 -0 .5 -0 .5 .1 1 -.1 1 .1 1 -.1 1 -.2 1 -.1 1 -.1 1 .1 1 .1 1 -.3 1 -0 1 -0 1 -.3 1 -.3 1 -.2 1 .3 1 .5 1 .3 1 -0 1 -.3 1 -.4 1 -.1 1 .4 1 -0 1 .4 1 -.4 1 .3 .6 -.1 .4 .5 1 .1 1 -0 1 -.2 1 -.5 1 .1 1 -.6 1 .2 1 -.3 1 -0 1 -.3 1 -.1 1 .1 1 .4 1 -.2 1 -.1 1 .1 1 -.2 1 .4 1 -.5 .9 -.2 1.1 -.5 1 .3 1 -0 1 .1 1 .3 1 .3 1 .5 1 -.1 1 -0 1 -.3 1 .1 1 .2 1 .2 1 -.1 1 .4 1 .4 1 .2 1 -.3 1 -.3 1 .3 1 0 1 .5 1 -.5 1 -.2 1 -.1 1 0 1 .6 1 -.4 1 -.1 1 -.1 1 -.2 1 0 1 -.3 1 -.3 .4 -.1 .6 -.2 1 .1 1 -.4 1 -.7 1 -.5 1 -.6 1 -.1 1 -.6 1 -.7 1 -1.2 .5 -.5 .5 -.6 1 -.5 1 -.8 1 -.6 1 -.8 1 -.4 1 -.2 1 -.4 1 .1 1 -.1 1 .2 1 -.2 .4 -.2 .6 0 1 .2 1 .5 1 .5 1 .8 1 .8 1 .4 1 -.1 1 .1 1 .1 1 0 1 .4 1 .2 1 .2 1 .3 1 .5 1 .2 1 -.2 1 -.5 1 .6 1 -.2 1 .4 1 0 1 .5 1 -.3 .8 -.2 1.2 -.2 1 .6 1 .2 1 .2 1 -.1 1 -.1 .5 -.1 .5 -.1 1 .2 1 .1 1 .6 1 .5 1 .2 1 .4 1 .3 1 .6 1 .5 1 .5 1 .8 1 0 1 .3 1 -.2 1 .4 1 .1 1 .5 1 .1 1 .1 1 0 1 .1 1 .6 1 .3 1 -0 1 -.1 1 .2 1 .4 1 .2 1 .6 1 -.2 1 .3 1 -.6 1 0 1 -.7 1 -.1 1 -.2 1 .2 1 .2 1 -.1 1 -.5 1 -.5 .9 -.1 1.1 -.2 1 -.4 1 -.4 1 -.8 .9 -1 1.1 -1.7 1 -1.2 1 -1.1 1 -.9 1 -.8 1 -.7 .7 .1 1.3 .5 1 .6 1 1.2 1 1.1 .8 .9 1.2 1 1 1.1 1 1.4 1 .9 1 .8 1 .2 .6 .6 .4 -.2 1 -.1 1 -.6 1 .2 1 -.1 1 .3 1 -.3 1 .5 1 .2 1 .3 1 -.6 1 -.6 1 -.8 1 .9 1 .1 1 .3 1 -.9 1 -.1 1 -.5 1 -.5 .9 -.6 1.1 -1.1 1 -.9 1 -1 1 -1.1 1 -1.5 1 -.7 .6 .3 .4 .1 1 .4 1 .3 1 .8 .9 -.3 1.1 -.5 1 -.3 1 .2 1 .4 1 .5 1 1.7 1 2 1 1.8 1 1.1 1 .2 1 .6 1 -.1 1 .3 1 .1 1 .3 1 .4 1 .3 1 .3 1 -.1 1 .2 1 0 1 0 1 .1 1 0 1 .3 1 -.1 1 -.1 1 .1 1 -.4 1 0 1 -.2 1 .7 1 .4 1 .3 1 -.5 1 .1 1 -.6 1 0 1 .1 1 .3 1 -.3 1 -.4 1 .3 1 .6 1 .3 1 .2 1 -.5 1 .2 1 -.2 1 .4 1 -.4 .5 .2 .5 -.2 1 .1 1 -.3 1 0 1 .2 1 -.1 1 -.1 1 -.1 1 .2 1 .2 1 .2 1 -.4 1 -.1 1 -.1 1 .4 1 -.2 1 .1 1 .3 1 .2 1 -.3 1 -.2 1 0 1 .2 1 -.1 1 -.1 1 -.1 1 -.1 1 -.3 1 .2 1 .2 1 .3 1 .1 1 -.1 1 .2 1 -.1 1 0 1 -.5 1 -.1 1 .1 1 .5 1 -.4 1 -.1 1 -.2 1 .4 1 0 1 0 1 -.5 1 -.1 1 -.2 1 .1 1 .1 1 .1 1 0 1 -.3 1 .1 1 -.2 1 .2 1 -.3 1 .5 1 .4 .5 .2" fill="none" stroke="#2A52E2" stroke-width="1.45" stroke-linejoin="round" stroke-linecap="round" />
<path d="M724 123.2l1 .3 1 .2 1 .2 1 0 1 -.3 1 -.1 1 -.4 1 -.2 1 -.1 1 -.2 1 .1 1 .4 1 .3 1 -.1 1 -.1 1 .2 1 -.2 1 -.5 1 -0 1 .2 1 .2 1 -.5 1 -.3 1 .2 1 -.1 1 .4 1 .1 1 .2 1 -.1 1 -.3 1 -0 1 -.1 1 -.1 1 -.3 1 -.3 1 -.2 1 -.1 1 .2 1 -0 1 .4 1 .5 1 -.2 1 -.1 1 -.5 1 -.1 1 .5 1 -.1 1 .2 1 -.5 1 .6 1 -0 1 -.1 1 -.3 1 -.1 1 -.3 1 -0 1 .3 1 .1 1 -.5 1 -.2 1 -0 1 -0 1 -.3 1 .6 1 .5 1 -0 1 -.4 1 -.2 1 .1 1 -0 1 .3 1 -0 1 -.2 1 -.4 1 -0 1 -0 1 -0 1 -.1 1 .3 1 -.1 1 .5 1 -.4 1 -.1 1 -.2 1 .1 1 .3 1 .1 1 .5 1 -.8 1 -.4 1 -.5 1 .6 1 .2 1 .5 1 -.5 1 .2 1 -.6 1 .4 1 .1 1 -0 1 .1 1 -0 1 .2 1 -.6 1 -.4 1 -.6 1 .2 1 .1 1 .6 1 -0 1 -0 1 -.6 1 .4 1 -.1 1 .1 1 -.2 1 .1 1 -.7 1 -.8 1 -.4 1 -.4 1 -.4 .4 -.7 .6 -.1 1 -1.3 1 -2 1 -2.4 1 -2.7 .9 -2.2 1.1 -3.7 1 -4.3 1 -4 1 -2.1 1 .6 1 2.4 1 2.6 1 2.7 1 1.3 .4 -.1 .6 -1.2 1 -5 1 -6.8 .6 -4.2 .4 -3.5 1 -12.8 1 -13.7 1 -7.6 1 2.9 1 11 .9 10.9 1.1 13.5 1 12.5 1 8.7 1 4.2 1 3.6 1 2.4 1 1.5 1 .7 1 .2 1 .8 1 .1 1 .5 1 -.4 1 .6 .9 .3 1.1 .3 1 -0 1 -.1 1 .4 1 .4 1 -0 1 -.5 1 -.4 1 -0 1 .1 1 -0 1 -.3 1 -.3 1 -.2 1 .2 .7 .1 1.3 .6 1 -.1 1 .1 1 -.6 1 -.7 1 -.8 1 -.8 1 -.2 1 -.3 1 -.4 .8 -.5 1.2 -2.3 1 -3.5 1 -4.2 .7 -2.9 1.3 -7.4 1 -5.8 .9 -2.1 1.1 3.5 1 6.7 1 3.4 1 -1.4 1 -4 1 -4.9 1 -5.4 1 -6.7 1 -4.6 .4 -.1 .6 1.1 1 5.6 1 7.2 .5 3.7 .5 3.3 1 7.9 1 6.4 .7 2.8 1.3 2.3 1 1.6 1 1.5 1 1 1 .7 1 .3 1 .2 1 .7 1 -0 1 .2 1 .2 1 -.1 1 .5 1 -.4 1 .5 1 -.6 1 -0 1 -.4 1 .4 1 -.1 1 .2 1 -.4 1 .1 1 .3 1 .2 1 -.2 1 -.4 1 -.3 1 .4 1 .2 1 -0 1 -.5 1 -.1 1 .1 1 .4 1 -0 1 .1 1 .1 1 .2 1 -.1 1 -.1 1 -.3 1 -.2 1 -.2 1 .4 1 .5 1 -.1 1 -.6 1 -.3 1 -0 1 .4 1 .1 .6 -0 .4 -.3 1 -.6 1 -.4 1 -.6 1 -.4 1 -.5 1 -.3 1 -.4 1 -.4 1 -.5 1 -1.4 1 -2.7 1 -3.8 1 -4.5 1 -6.9 1 -11.1 1 -10.1 .9 -3.4 1.1 6.1 1 9.1 1 6.8 1 6.7 .8 2.1 1.2 -4.2 .9 -4.9 1.1 -4.9 1 -3.7 .4 -.4 .6 1.9 1 6.9 .8 5.4 1.2 6.6 1 5.6 1 4.2 1 2.3 1 1.5 1 1 .4 .3 .6 .2 1 -.1 1 .1 1 .5 1 .1 1 -.2 1 0 1 -.1 .6 .1 .4 -.1 1 .2 1 .3 1 .1 1 .1 1 0 1 -.2 1 -.7 1 .3 1 .3 1 .7 1 -.3 1 -.3 1 0 1 0 1 -.1 1 .1 1 -.3 1 .2 1 .1 1 .2 1 .1 1 -.2 1 .2 1 -.3 1 -.3 1 0 1 -.1 1 .4 1 .1 1 .4 1 -.2 1 0 1 -.2 1 -.3 1 0 1 .1 1 .6 1 -.4 1 .1 1 .1 1 -.1 1 -.2 1 -.4 1 .6 1 0 1 0 1 -.4 1 .1 1 -.1 1 .3 1 .2 1 -.3 1 -.3 1 0 1 -.1 1 0 1 -.1 1 -.1 1 .5 1 -.3 1 .5 1 -.4 1 .2 1 .2 1 .1 1 -.1 1 0 1 .1 1 0 1 -.6 1 .1 1 .2 1 0 1 -.1 1 -.3 1 .2 1 -.3 1 -.1 1 .3 1 .9 1 .5 1 -.1 1 -.7 1 -.2 1 -0 1 .2 1 -.1 1 -.1 1 -.1 1 .2 1 .2 1 .2 1 -.2 1 -.2 1 -.1 1 -0 1 .1 1 -.1 1 .2 1 .3 1 -.4 1 .2 1 -.4 1 .4 1 -.5 1 .1 1 -.3 1 .7 1 -.2 1 .3 1 -.5 1 -0 1 -.2 1 .4 1 .2 1 .1 1 -.2 1 -0 1 .2 1 -.1 1 .2 1 -.5 1 -0 1 -0 1 .1 1 -.4 1 -0 1 .2 1 .4 1 -.2 1 -.2 1 .2 1 .2 1 .1 1 -.1 1 -.3 1 -.1 1 -.1 1 .3 1 -.2 1 -0 1 -.1 1 .3 1 .1 1 -.1 1 -.1 1 -.3 1 -.2 1 -.3 1 .3 1 .6 1 .2 1 -.2 1 -.3 1 .4 1 .2 1 .1 1 -.5 1 -0 1 .3 1 .1 1 -.2 1 -0 1 -.1 1 .5 1 -.4 1 -.1 1 -.3 1 -.1 1 -0 1 .1 1 .3 1 .1 1 -.1 1 -.1 1 -0 1 -.2 1 .1 1 -.3 1 .3 1 -0 1 -0 1 -.5 1 -0 1 .3 1 -0 1 .1 1 -.2 1 .1 1 -.2 1 .2 1 .4 1 .1 1 -0 1 -0 1 .1 1 -.5 1 -.1 1 .1 1 .5 1 .4 1 -.6 1 -.3 1 -.4 1 .7 1 -.2 1 -.1 1 -.5 1 .3 1 .2 1 -0 1 -0 1 .1 1 -.3 1 -.3 1 .3 1 .4 1 .6 1 -0 1 .2 1 -.4 1 -0 1 -.3 1 .5 1 -.2 1 .2 1 -.6 1 -.2 1 -.2 1 -0 1 -0 1 -.2 1 .1 1 .4 1 .7 1 .1 1 -.3 1 -.3 1 .2 1 .1 1 -.2" fill="none" stroke="#F9AD35" stroke-width="1.45" stroke-linejoin="round" stroke-linecap="round" />
<path d="M724 192l1 .1 1 -.4 1 0 1 -.2 1 -.1 1 -.1 1 .3 1 .4 1 .1 1 -.3 1 -.3 1 0 1 .5 1 -.6 1 0 1 -.4 1 .5 1 -.4 1 -.2 1 -.3 1 .2 1 -.1 1 .1 1 -.4 1 .5 1 .1 1 0 1 -.2 1 -.2 1 0 1 -.1 1 .2 1 .5 1 0 1 0 1 -.2 1 .1 1 -.1 1 -.5 1 -.2 1 0 1 0 1 -.1 1 .1 1 0 1 .2 1 -.4 1 .1 1 .2 1 .1 1 -.1 1 .1 1 -.3 1 0 1 -.4 1 .2 1 -.2 1 .1 1 -.6 1 .1 1 -.2 1 .3 1 0 1 .2 1 0 1 0 1 -.4 1 .1 1 .1 1 .2 1 0 1 -.3 1 .3 1 .1 1 0 1 -.4 1 -.1 1 -.6 1 .3 1 -.3 1 .7 1 -.1 1 .4 1 -.3 1 -.5 1 -.3 1 0 1 .3 1 .2 1 -.1 1 .1 1 -.1 1 .3 1 -.6 1 -.2 1 -.5 1 .3 1 -.2 1 0 1 .1 1 .5 1 .1 1 -.5 1 -.2 1 -.5 1 .1 .6 -.1 .4 0 1 -.2 1 -1.2 1 -1.2 1 -1.4 1 -1.4 .9 -.5 1.1 -1.6 1 -1.8 1 -2.9 1 -2 1 -1.4 .5 .1 .5 -.1 1 1.1 1 1.9 1 2 .4 1 .6 .9 1 1.3 1 1 1 .8 1 .8 1 0 1 -.9 1 -2.1 1 -2.2 .9 -1.5 1.1 -1.8 1 -2.1 1 -3.1 1 -3.2 .6 -2.4 .4 -1.5 1 -4.1 1 -3.3 1 -2.2 .6 .2 .4 -.3 1 .7 1 1.8 1 3 .5 1.3 .5 1.6 1 6 1 6.8 .7 3.2 1.3 3.4 1 2.3 1 2 1 1.5 1 1.5 1 .2 1 .3 1 -.1 1 .5 1 .3 1 .5 1 -.3 1 .3 1 -0 1 .6 .5 -.2 .5 .1 1 -0 1 -.4 1 -.4 1 -.1 1 .3 1 -0 1 .2 1 -.1 1 -.1 1 -.3 1 .2 1 .2 1 .1 1 -0 1 -.2 1 .5 1 -.5 1 .1 .4 -.1 .6 .4 1 -.5 1 -.9 1 -.5 1 -.8 1 -.6 1 -1.3 1 -1.3 1 -2.4 1 -4.2 1 -5 1 -5.3 1 -4.3 .9 -1.8 1.1 2.5 1 4.8 1 4 .8 1.3 1.2 -3 1 -4.4 1 -6.1 1 -4.9 1 -3.5 .4 -.1 .6 .7 1 4.2 1 5.5 .5 2.5 .5 2.7 1 6.4 1 6.3 1 4.3 .5 .8 .5 .4 1 1.3 1 1.4 1 .8 1 1.1 1 .5 1 1.1 1 -.1 .4 -.3 .6 -.5 1 -.1 1 .4 1 .3 1 -.4 1 -.5 1 -.1 1 .2 1 -0 1 -.3 1 .2 1 .1 1 0 1 .4 1 -.5 1 -.1 1 -.6 1 .5 1 -0 1 .3 1 -0 1 .6 1 -.4 1 -.2 1 -.3 1 .2 1 .1 1 -.5 1 .2 1 -.1 1 .5 1 -.4 1 -.1 1 -.3 1 .5 1 -.3 1 .3 1 -.4 1 .7 1 -.1 1 -.3 1 -.2 1 -.4 1 .4 1 -.2 1 .2 1 -.3 1 .1 1 -.3 1 .4 1 -.3 1 .6 1 -.5 1 .5 1 -.7 1 0 1 -.6 1 0 1 -.2 1 -.3 .7 -.2 1.3 -.7 1 -.8 1 -.9 1 -1.2 1 -1.1 1 -1.8 1 -3 1 -5.6 1 -6.1 .5 -2.6 .5 -2.8 1 -4.8 1 -4 .8 -.6 1.2 4.1 1 6.6 1 5.4 1 4.4 1 -.8 1 -3.2 .4 -1.2 .6 -1 1 -2.3 .8 -.3 1.2 2.8 1 6.3 1 4.8 1 3.8 1 2.2 1 2.5 1 1.3 1 1.1 1 .4 1 .9 1 .6 1 .2 1 -.3 1 -.1 1 0 1 0 1 -.1 1 0 1 -.5 1 .3 1 .3 1 .4 1 .3 1 -.3 1 .1 1 -.1 1 .3 1 -.2 1 -.2 1 -.1 1 .4 1 .1 1 -0 1 -.1 1 .2 1 .3 1 .1 1 -.4 1 -.4 1 -.4 1 .3 1 -.1 1 .2 1 .2 1 -.1 1 -.1 1 -.5 1 .3 1 -0 1 -0 1 -.2 1 -.2 1 .2 1 .2 1 -.1 1 .1 1 -.1 1 -.1 1 -.2 1 .7 1 .2 1 -0 1 -.7 1 -0 1 -.2 1 .2 1 -0 1 .1 1 .1 1 -.1 1 .3 1 -.2 1 .1 1 -.2 1 -0 1 .3 1 -.1 1 .5 1 .1 1 .3 1 -.6 1 -.3 1 -0 1 .4 1 -0 1 -.2 1 .1 1 -.5 1 -.1 1 -.5 1 .6 1 -.1 1 .2 1 .1 1 .2 1 .1 1 -.3 1 .3 1 .4 1 -.3 1 -.2 1 -.1 1 .8 1 -0 1 -.1 1 -.4 1 .2 1 -.6 1 -.5 1 -.1 1 .3 1 .3 1 -.3 1 .4 1 -.1 1 .9 1 -.4 1 .1 1 -.4 1 -0 1 -.3 1 -.3 1 .1 1 .1 1 .5 1 -.1 1 .3 1 -.3 1 .2 1 -.4 1 -.1 1 .2 1 .2 1 -.1 1 -.6 1 -.3 1 -.1 1 .5 1 .4 1 -0 1 -0 1 -.4 1 .2 1 .1 1 .2 1 .1 1 -.2 1 -.1 1 -.3 1 .5 1 -.3 1 .1 1 -.5 1 .4 1 -.4 1 .3 1 .1 1 .2 1 -.2 1 -.1 1 .2 1 -.2 1 .3 1 -.3 1 .5 1 -.5 1 .5 1 -.1 1 .5 1 -.5 1 -.2 1 -.2 1 .3 1 .2 1 -0 1 -0 1 -.2 1 -.6 1 -.6 1 .2 1 .5 1 .3 1 -0 1 -.2 1 .2 1 .1 1 -.3 1 -0 1 -.1 1 .3 1 -0 1 -.4 1 .1 1 .1 1 .4 1 -.2 1 -0 1 -.1 1 .3 1 -.2 1 .1 1 -.1 1 .5 1 -.2 1 .2 1 -.5 1 -.3 1 -.2 1 .3 1 .5 1 -0 1 -.4 1 -.1 1 -.5 1 .6 1 .2 1 .1 1 -.5 1 -.6 1 .1 1 -.1 1 -0 1 .1 1 .2 1 .2 1 .3 1 -.2 1 -0 1 -.4 1 .2 1 -.2 1 .1 1 -.4 1 .3 1 -.2 1 .4 1 .3 1 .3 1 -.6 1 -.2 1 -0 1 .6 1 -.2 1 .2 1 .1 1 -.1 1 -.3" fill="none" stroke="#FF3030" stroke-width="1.45" stroke-linejoin="round" stroke-linecap="round" />
<path d="M724 265.5l1 .2 1 -.1 1 0 1 -.5 1 .6 1 .3 1 .6 1 -.4 1 -.2 1 .1 1 .4 1 .1 1 -0 1 -.6 1 -.3 1 -.1 1 .2 1 -.4 1 -.2 1 -.1 1 .4 1 .1 1 -.2 1 -.2 1 -0 1 .1 1 .1 1 -.2 1 -0 1 .2 1 .1 1 .1 1 .1 1 -0 1 -0 1 -.3 1 .7 1 .1 1 .2 1 -.7 1 -0 1 .1 1 -.2 .4 -.1 .6 .1 1 .6 1 -0 1 .1 1 -.5 1 .1 1 -.3 1 -.1 1 -0 1 -.4 1 .1 1 -.3 1 .1 1 .3 1 -0 1 -.1 1 -.2 1 .1 1 .1 1 -.2 1 .2 1 .4 1 -.3 1 .1 1 -0 1 .5 1 -.3 1 -.3 1 -.3 1 -0 1 .1 1 -.2 1 .1 1 -0 1 .1 1 .1 1 -0 1 -.1 1 .3 1 .2 1 .2 1 -.5 1 -.1 1 -.2 1 .3 1 -.1 1 .6 .8 -.2 1.2 -.3 1 -.4 1 .2 1 .3 1 -.9 1 -.6 1 -.7 1 -0 1 -0 1 -0 1 .3 1 -.1 .4 -.3 .6 -0 1 -.6 1 -1 1 -1 1 -.8 1 .1 .8 -.5 1.2 -.7 1 -.5 1 -1 1 -1 1 -1 1 -.3 1 -.1 .7 -.1 1.3 -.1 1 -0 1 .1 1 .2 .4 .7 .6 .3 1 1 1 .2 1 .2 .4 -.2 .6 -0 1 -0 1 -1.1 1 -1.1 1 -1.1 .9 -.7 1.1 -1.2 1 -1.7 1 -1.1 .8 -.8 1.2 -2 1 -2 1 -1.4 .8 .1 1.2 .8 1 1.1 1 1.5 1 1.7 .5 .8 .5 .5 1 1.6 1 1.6 1 2 1 1.7 1 1.1 1 1.1 1 .6 1 1.1 1 .4 1 .5 1 .5 1 .3 1 .4 1 -.1 1 .6 1 .2 1 .4 1 -0 1 .4 1 .3 1 .2 1 -.1 1 .4 1 .4 .8 -.2 1.2 -.1 1 -.2 1 .3 1 -.2 1 -.5 1 .4 1 .2 1 .2 1 -.6 1 -.5 1 -.3 1 -0 1 -.2 1 -.3 1 -.4 .6 -.3 .4 -0 1 -.7 1 -.8 1 -1.4 1 -1.9 1 -2 1 -3.5 1 -3.5 1 -4.2 1 -2.6 .9 -1.4 1.1 1.1 1 1.9 1 2.2 .8 .7 1.2 -2.1 1 -3.3 1 -3.5 1 -3 1 -2.6 .7 -.2 1.3 4.6 1 6 .5 2.3 .5 2 1 4 1 4 1 2.8 .5 .8 .5 .5 1 1.1 1 1.1 1 1.1 1 1 1 .3 1 .2 1 .1 .4 -0 .6 -0 1 .2 1 .3 1 .4 1 -0 1 .1 1 -.3 1 .3 1 .1 1 .1 1 -.5 1 -.2 1 .1 1 .6 1 .1 1 .2 1 -.2 1 -.5 1 -.3 1 .1 1 .3 1 .5 1 -.1 1 .1 1 .1 1 -0 1 .7 1 -.3 1 -.2 1 -0 1 .3 1 .4 1 -.4 1 -.3 1 -.5 1 .2 1 .1 1 -0 1 .6 1 -.6 1 .1 1 -.4 1 .3 1 .2 1 -.3 1 .2 1 -0 1 .2 1 -.4 1 -.4 1 -0 1 -.4 1 .1 1 -0 1 .4 1 -.1 1 -.8 1 -.2 1 .1 1 .3 .7 -0 1.3 -.5 1 -1.2 1 -1.3 1 -1.7 1 -.9 1 -1.6 1 -3 1 -6 1 -6 .5 -2.3 .5 -1.9 1 -3.4 1 -2.1 .5 -.3 .5 .8 1 4.9 1 6.1 1 3.6 1 -.1 1 -1.2 1 -2.7 1 -2.2 1 -1.3 1 2.1 1 4.4 1 5.4 1 4 1 1.8 1 1.9 1 1.9 1 1.8 1 .4 1 -.1 1 .1 1 .7 1 .8 1 .2 1 .1 1 -.3 1 .5 1 -0 1 -.1 1 -.2 1 -0 1 .6 1 .1 1 .2 1 -.4 1 -0 1 -.1 1 .1 1 .5 1 .3 1 -.1 1 -.3 1 -0 1 -0 1 -.2 1 -0 1 -0 1 .3 1 -.4 1 .2 1 -.3 1 -0 1 -.2 1 .6 1 .2 1 .1 1 -.4 1 -0 1 -.4 1 -.2 1 -.3 1 .1 1 -.1 1 .3 1 -0 1 .6 1 -.1 1 -0 1 -.2 1 .1 1 -0 1 -0 1 .2 1 -0 1 .1 1 -.3 1 .2 1 -.2 1 -.1 1 -.1 1 -.3 1 -.2 1 -.1 1 .2 1 -0 1 .5 1 .1 1 .1 1 -.4 1 -0 1 .1 1 -.2 1 -.5 1 .1 1 .5 1 .6 1 .1 1 -.5 1 -.5 1 -0 1 .2 1 .1 1 -.2 1 .1 .9 .2 1.1 -.1 1 -.2 1 -.5 1 -.2 1 .2 1 .2 1 .1 1 -.1 1 .3 1 -0 1 -.1 1 -.3 1 .6 1 .3 1 .1 1 -.8 1 -.1 1 .1 1 .2 1 -.3 1 -.3 1 -.3 1 .1 1 -0 1 .1 1 -0 1 -.2 1 .4 1 -0 1 .1 1 -.1 1 .1 1 .1 1 -.4 1 -.2 1 .2 1 .4 1 .2 1 -0 1 -.4 1 -.2 1 -.6 1 .5 1 .1 1 .5 1 -.2 1 -.1 1 -.3 1 -.6 1 -.1 1 .7 1 .8 1 -0 1 -.5 1 -.2 1 -.1 1 -.1 1 -0 1 -0 1 .1 1 .1 1 .3 1 -.1 1 -.3 1 -0 .4 -.2 .6 -.1 1 .1 1 -0 1 -.1 1 -.1 1 .2 1 .5 1 -.3 1 .1 1 -.3 1 -.2 1 -.3 1 .1 1 -0 1 -0 1 -.1 1 .2 1 -0 1 -.1 1 -.1 1 .1 1 .1 1 -.3 1 -.2 1 -0 1 .5 1 -.3 1 -.1 1 .2 1 .5 1 .1 1 -.3 1 -.2 1 -.4 1 -0 1 .4 1 .3 1 -.2 1 -.4 1 -.5 1 .7 1 -0 1 .3 1 -.5 1 -.4 1 .1 1 .1 1 -.2 1 .2 1 -.1 1 -0 1 -0 1 .2 1 .1 1 -.3 1 -0 1 -0 1 .2 1 -0 1 -.2 1 -.3 1 -.5 1 .1 1 .3 1 .4 1 -0 1 .3 1 -.2 1 -.3 1 -.4 1 .1 1 .6 1 -.2 1 -.2 1 .3 1 .1 1 -.2 1 -.8 1 -.1 1 .2 1 .1 1 .3 1 -.2 1 -.2 1 -.2 1 .2 1 .3 1 -.1" fill="none" stroke="#2FAE55" stroke-width="1.45" stroke-linejoin="round" stroke-linecap="round" />
<path d="M724 323.3l1 .2 1 -.4 1 .4 1 -.1 1 .1 1 -.2 1 0 1 .1 1 -.2 1 .2 1 -.1 1 -.1 1 0 1 .1 1 -.1 1 -.2 1 -.4 1 .3 1 .2 1 .7 1 0 1 .1 1 -.2 1 .1 1 -.5 1 -.4 1 -.1 1 .4 1 .1 1 -.2 1 -.4 1 -0 1 .4 1 .3 1 -0 1 -.3 1 .1 1 -.3 1 .3 1 -.2 1 .2 1 -0 1 .2 1 -.3 1 -.1 1 -0 1 -0 1 -.2 1 -0 1 .4 1 -.1 1 .1 1 -0 1 -.3 1 .2 1 -.1 1 .1 1 -.1 1 .1 1 .1 1 -.1 1 0 1 .4 1 .5 1 -.2 1 -.5 1 -.5 1 -.1 1 0 1 .2 1 .3 1 0 1 .2 1 -.4 1 0 1 -.5 1 .3 1 .1 1 .3 1 -.7 1 -.1 1 .1 1 -0 1 .4 1 -0 1 .7 1 -.4 1 .1 1 .1 1 .5 1 -.4 1 .2 1 -.7 1 .2 1 -.4 1 .1 1 -.4 1 -0 1 -.1 1 .3 1 .1 1 .2 1 -0 1 .2 1 .1 1 .1 1 -0 1 -.1 1 -.1 1 -.1 1 -.1 1 .2 1 -.2 1 -0 1 -.3 1 .1 1 -0 1 -.1 1 -.4 1 .3 1 -0 1 .5 1 -.4 1 .2 1 -.4 1 .5 1 -.2 1 .2 1 -.8 1 -.4 1 -.1 1 .4 1 .3 1 -0 1 .3 1 -0 1 -0 1 -.3 1 -.1 1 .1 1 .1 1 .1 1 -0 1 -0 1 .2 1 .1 1 -.3 1 -.3 1 -0 1 .2 1 .2 1 -.3 1 -.5 1 -.5 1 -0 1 .3 1 .8 1 .2 1 .1 1 -.4 1 -.5 1 -.3 1 -.3 1 .6 1 -.3 1 -.4 1 -.4 1 -.1 1 .2 .8 -0 1.2 -.1 1 -.3 1 -.2 1 .3 1 -.1 1 -0 1 -.7 .7 -.3 1.3 -0 1 .1 1 .5 1 -0 1 -.1 1 -.4 1 -0 .6 -.1 .4 .5 1 -.6 1 -.4 1 -1 1 -.7 1 -.9 .9 -.2 1.1 -.9 1 -.9 1 -.9 1 -.4 1 .3 1 .6 1 1.6 .8 .3 1.2 -.9 1 -1.7 1 -1.3 1 -.8 1 -1 1 -.8 .9 -.1 1.1 1.4 1 2 1 1.8 1 .7 1 1.2 1 1.2 1 .7 1 .3 1 -0 1 .4 1 -.3 1 -.5 1 -1 1 -.7 .9 -.3 1.1 -0 1 -.2 1 -.3 1 -.5 .7 -.5 1.3 .6 1 .9 1 1.3 1 1 1 .9 1 .5 1 .3 1 .1 1 .3 1 .5 1 .8 1 .3 1 .1 .9 .2 1.1 .1 1 -.1 1 -.6 1 -0 1 -.3 1 .1 1 -.3 1 .3 1 -.3 1 .4 1 .1 1 -0 1 -.3 1 .1 1 -0 1 -0 1 -.3 1 -.1 1 .2 1 -.1 1 .2 1 -0 1 .5 1 -.2 1 -.2 1 -.2 1 -0 1 -.3 1 .2 1 .1 1 .5 1 -.4 1 -.1 1 -.1 1 .4 1 -0 1 .3 1 -.6 1 -.4 1 -.4 1 -0 1 .4 1 -0 1 -.5 1 -1.2 1 -.9 1 -1.1 1 -1.1 1 -1.6 1 -.6 .4 -.2 .6 .6 1 1.5 1 1.8 1 1.6 .5 -.2 .5 -.1 1 -.6 1 -.3 1 -.5 1 -.6 .4 -.2 .6 -.2 1 1 1 1.1 1 1.5 1 1 1 .9 1 .1 1 -0 1 .1 1 -.1 1 .1 1 -.4 1 .3 1 .2 1 .2 1 -.1 1 .2 1 .2 1 -.2 1 -.1 1 .3 1 -0 1 .2 1 -.1 1 .5 1 -.3 1 .2 1 -.1 1 .3 1 -.1 1 .1 .5 -.2 .5 -.1 1 -.3 1 -.3 1 .1 1 .1 1 .3 1 -.1 1 .1 1 .1 1 -.1 1 .1 1 .4 1 -.1 1 -.2 1 -.3 1 -0 1 .3 1 -.2 1 -.1 1 -.4 1 .4 1 -.2 1 .2 1 -.6 1 .5 1 .1 1 .5 1 .3 1 -.1 1 .1 1 -.3 1 .2 1 -.3 1 .1 1 -.3 1 .4 1 -0 1 .1 1 -.2 1 -0 1 -0 1 .4 1 -.3 1 -.2 1 -.8 1 .1 1 .3 1 .3 1 .3 1 -0 1 -.1 1 -.3 1 .1 1 .3 1 .1 1 -0 1 -.4 1 -0 1 -.1 1 .3 1 -.3 1 -0 1 -0 1 .3 1 .1 1 -.6 1 -.2 1 -.2 1 .3 1 -.3 1 .3 1 .2 1 .1 1 -.3 1 -.1 1 .6 1 .2 1 -.2 1 -.3 1 -.1 1 .4 1 -0 1 -.2 1 -0 1 .1 1 .3 1 -0 1 .2 1 -.7 1 -.3 1 -.5 1 .3 1 .3 1 .2 1 .2 1 -.2 1 .3 1 -0 .7 -.2 1.3 -.3 1 -.3 1 .5 1 .3 1 .4 1 -.4 1 -.1 1 -.3 1 .2 1 -.1 1 -.4 1 .2 1 -.1 1 .1 1 .3 1 -.1 1 .3 1 -.4 1 -.2 1 -.1 1 .2 1 .1 1 .2 1 .3 1 .4 1 -.2 1 -.4 1 -.1 1 -.2 1 -0 1 .1 1 .4 1 .3 1 -.4 1 .5 1 .5 1 -0 1 -.4 1 -.6 1 .1 1 .1 1 .3 1 -.1 1 -.1 1 .3 1 .2 1 .2 1 -.4 1 -.2 1 -.5 1 -.3 1 -.3 1 .1 1 -0 1 .4 1 -.1 1 .3 1 -.5 1 .8 1 -.2 1 .4 1 -.1 1 -0 1 -0 1 -.3 1 .2 1 -.1 1 .3 1 .1 1 .2 1 -.1 1 -.3 1 -.1 1 -.2 1 .1 1 -.2 1 -0 1 -0 1 .1 1 .1 1 -.3 1 .3 1 -.1 1 .3 1 -.2 1 -.3 1 -.6 1 .9 1 .1 1 .3 1 -1 1 .5 1 .4 1 .4 1 -.4 1 -0 1 -.3 1 .5 1 -.2 1 -.3 1 -.2 1 -.2 1 .9 1 -.2 1 .1 1 -.5 1 .1 1 -.1 1 .1 1 .2 1 .1 1 -0 1 -.1 1 -.1 1 -0 1 .1 1 .3 1 .2 1 .1 1 -.2" fill="none" stroke="#2A52E2" stroke-width="1.45" stroke-linejoin="round" stroke-linecap="round" />
<path d="M1330.7 119.8l1 1 1 .6 1 .8 1 .5 1 .7 1 .3 1 .3 1 -.2 1 0 1 0 1 -.1 1 .1 1 -.2 1 -.1 1 -.1 1 -.2 1 0 1 -.3 1 .1 1 -.3 1 -.2 1 0 .5 -.1 .5 .1 1 -.4 1 -.3 1 -.4 1 -.7 1 -.6 1 -.5 1 -.2 1 .2 1 -.1 1 -.1 1 -.1 1 .1 1 -.1 1 -.2 .8 0 1.2 .1 1 .2 1 .1 1 .4 1 .5 1 .1 1 .2 .4 -.1 .6 0 1 0 1 .3 1 .4 1 .2 1 -.1 1 .4 1 .1 1 .5 1 -.3 1 -0 1 -0 1 .1 1 0 1 -.2 1 .2 1 .1 1 .2 1 0 1 -.4 1 -.2 1 -.2 1 -.1 1 .1 1 .2 1 0 1 -.2 1 -.4 .5 .1 .5 -.2 1 -.3 1 -.7 1 -.6 1 -.3 1 -.2 1 .3 1 .2 1 .8 1 .7 .7 .4 1.3 -.1 1 -.6 1 -.2 1 -.6 .8 .1 1.2 -.3 1 .5 1 .5 1 .6 1 .3 1 .2 1 .4 1 .3 1 .5 1 .2 1 -.1 1 .2 1 0 1 .3 1 .3 1 .1 1 0 1 -.1 1 -.1 1 .4 1 -0 1 .1 1 -.1 1 -.1 1 -0 1 -0 1 .4 .9 .2 1.1 .2 1 -.2 1 -.2 1 -.1 1 -.1 1 -.1 1 -0 1 .2 1 .2 1 -.4 1 -.2 1 -.1 1 .2 1 -0 1 -0 1 -.1 1 .2 1 .2 1 -0 1 -0 1 .1 1 .1 1 -.6 1 .2 1 -.1 1 .5 1 -0 1 -.1 1 .1 1 -.2 1 .2 1 -.5 1 .2 1 -0 1 .3 1 -.3 1 -0 1 -0 1 .3 1 -.2 .7 -.3 1.3 -.7 1 -.7 1 -.7 1 -1.1 1 -1.1 1 -1 1 -1 1 -1.6 1 -2 1 -1.6 1 -.8 .4 .1 .6 .2 1 1.1 1 1.3 1 1.8 1 1.6 1 1.3 .5 .1 .5 -.1 1 -1.1 1 -1.4 1 -1.9 1 -2 .6 -1.3 .4 -1.2 1 -4.7 1 -5.5 1 -4 .5 -.6 .5 .6 1 4.1 1 5.5 1 4.8 1 2.7 1 2.4 1 1.9 1 1.4 1 .8 .4 -0 .6 -0 1 -.3 1 .2 1 -0 1 -.1 1 -.3 1 -0 1 -0 1 -1.3 1 -2.4 1 -2.9 .4 -.9 .6 -2.1 1 -4 1 -3 .4 -.3 .6 .8 1 3.4 1 4.2 1 3.2 1 1.1 1 .9 1 .9 1 .5 1 .7 1 -0 1 .6 1 -.1 1 -0 1 -.2 1 -0 1 .3 1 -0 1 .2 1 -.1 1 .3 1 .2 1 .7 1 .3 1 .3 1 .1 1 .3 1 .2 1 .3 1 .1 1 .2 1 .1 1 .5 1 .1 1 .4 1 -.2 1 .2 1 -.1 .4 .4 .6 -0 1 .3 1 .2 1 -.1 1 -.3 1 -.5 1 -.1 1 -.1 1 .1 1 .1 1 -0 1 -.1 1 -.3 1 -.2 1 -.2 1 -.2 1 .2 1 -.1 1 .1 1 -.2 1 -.2 1 -.1 1 -.3 1 .1 1 -0 1 .3 1 -0 1 .1 1 -.2 1 -.2 1 -.1 1 -0 1 .2 1 -0 1 -.1 1 .1 1 .1 1 .3 1 .1 1 -0 1 -0 1 .3 1 .1 1 -.2 1 -0 1 .3 1 .3 1 .1 1 .1 1 .1 1 -0 .4 -.1 .6 .1 1 .1 1 .1 1 -.1 1 -0 1 -0 1 .2 1 .3 1 .2 1 .2 1 .2 1 .2 1 .1 1 .1 1 .2 1 -.1 1 -0 1 .1 1 .2 1 -.1 1 -0 1 -0 1 -.2 1 .2 1 -0 .9 .4 1.1 -.1 1 -.1 1 -.2 1 -0 1 .2 1 -.1 1 -.1 1 -.2 1 -0 1 .1 1 -.1 1 .1 1 .1 1 -0 1 -0 1 -.2 1 -0 1 .1 1 .2 1 .1 1 -.1 1 -0 1 -.2 1 -0 1 -.2 1 -.2 1 .1 1 -.1 1 .3 1 .3 1 .1 1 -.3 1 -.2 1 -0 1 .2 1 -0 1 .1 1 .3 1 -0 1 -0 1 -.2 1 -.2 1 -.1 1 -.1 1 .2 1 .1 1 .2 1 -.1 1 .3 1 -.1 1 -0 1 -.3 1 .2 1 -.1 1 -0 1 -.3 1 .1 1 .2 1 .4 1 -.2 1 -.1 1 -.3 1 -.1 1 -.2 1 .2 1 .2 1 -0 1 -.1 1 .1 1 .1 1 -0 1 -.1 1 .2 1 -0 1 .1 1 -.1 1 -0 1 -0 1 -0 1 -.1 1 -.1 1 -.3 1 -.1 1 -.1 1 .2 1 .5 1 -0 1 -0 1 -.5 1 -0 1 .1 1 .2 1 -.1 1 .1 1 -.1 1 .2 1 -.3 1 -.1 1 -0 1 .2 1 .1 1 -0 1 -.1 1 -.1 .5 .1" fill="none" stroke="#F9AD35" stroke-width="1.45" stroke-linejoin="round" stroke-linecap="round" />
<path d="M1330.7 191.1l1 .2 1 .3 1 -.2 1 .3 1 .2 1 .4 1 .2 1 .2 1 -.2 .7 0 1.3 -.2 1 .2 1 0 1 .2 1 -.1 1 .2 1 -.2 1 .3 1 -.2 1 -0 1 -.1 1 -.4 1 -0 1 -0 1 .5 1 -.2 1 -.1 1 -.1 1 -0 1 -.1 1 -.1 1 .2 1 .2 1 .1 1 -.1 1 -.3 1 -.2 1 -.1 1 .1 1 .1 1 -0 1 -.2 1 -.1 1 -.3 1 .2 1 -.1 1 .1 1 -.2 1 -.1 1 -.3 1 -.4 1 -.2 1 -.4 1 -.1 1 -.1 .6 .2 .4 .1 1 -.1 1 -.1 1 -.3 1 -.2 1 -.2 1 -.2 1 -.3 1 -.2 1 -.1 1 .1 1 -.3 1 -.3 1 -.3 1 -.1 1 -0 1 .2 1 0 .5 0 .5 -.4 1 0 1 .3 1 .3 1 .2 1 .1 1 .1 1 -.2 1 .2 1 0 1 .5 1 -.2 1 .1 1 .1 1 .2 1 .2 1 -.1 1 .4 1 .1 1 .2 1 -.2 1 -.2 1 .1 1 0 1 .2 1 -.2 1 -.1 1 .1 1 0 1 -.1 1 -.2 1 -.2 1 .1 1 .2 1 .2 1 .1 1 0 1 .1 1 .1 1 0 1 -.1 1 -.1 1 -.1 .9 .2 1.1 .2 1 .3 1 .2 1 .1 1 0 1 .2 1 .3 1 .3 1 -.1 1 .5 1 0 1 .2 1 -.2 1 -.1 1 0 1 .3 1 -.1 1 .1 1 -.1 1 .2 1 0 1 .1 1 0 1 0 1 -.1 1 0 1 -.1 1 .3 1 -.1 1 .1 1 -.4 1 .2 1 -.1 1 .3 1 -.1 1 -.2 1 -.1 1 -0 1 .1 1 -.1 1 .1 1 .1 1 -0 1 -.1 1 .1 1 .3 1 .1 1 -.1 1 -.4 1 -.1 1 -.2 1 -0 1 .2 1 .1 1 .2 1 -.1 1 .1 1 -.2 1 -.2 1 -0 1 .1 1 .2 1 .1 1 -0 1 -.1 1 .1 1 .2 1 0 1 -.3 1 -.5 1 -.1 1 .2 1 .4 1 0 1 0 1 0 .4 -.1 .6 0 1 -.1 1 0 1 -.1 1 0 1 0 1 .1 1 -.5 1 -.3 1 -.2 1 .2 1 -.1 1 -.2 1 -.1 1 -0 1 -.1 1 -.4 1 -.5 1 -.1 1 -.2 .8 -0 1.2 -.4 1 -.1 1 -.2 1 -.4 1 -.4 1 -.4 1 -.3 1 -.5 1 -.4 1 -.8 1 -.7 1 -1.8 1 -1.7 1 -2.8 1 -2.8 1 -3.8 .4 -1.4 .6 -4.6 1 -11.9 .9 -9.2 1.1 -7.6 1 -5 .5 -.6 .5 .8 1 6.3 1 8 1 10.7 1 11.2 .6 4.3 .4 1.4 1 3.7 1 2.8 1 1.8 .4 .2 .6 .6 1 .7 1 1 1 .6 1 .5 1 .1 1 .3 1 .4 1 .6 1 .3 1 .3 1 -0 1 .3 1 .2 1 .1 1 -.3 1 .2 1 .1 1 .2 1 -.3 1 -.1 1 .2 1 .2 1 .3 1 .2 1 0 1 .1 1 -.1 1 0 1 -.2 1 0 1 .3 1 .2 1 .2 1 -.1 1 .4 1 .2 1 0 .7 -.3 1.3 .1 1 .2 1 .1 1 .1 1 .1 1 .1 1 .3 1 0 1 0 1 -.3 1 .1 1 .4 1 .1 1 0 1 -.1 1 -.1 1 .1 1 .1 1 .1 1 -.1 1 -.1 1 .1 1 .3 1 .1 1 .2 1 -.1 1 .1 1 0 1 .2 1 0 1 .3 1 .1 1 -.1 1 -.2 1 0 1 .1 1 .3 .9 -.1 1.1 -.3 1 -.3 1 -.1 1 .1 1 .2 1 .1 1 0 1 .1 1 -.2 1 0 1 0 1 .1 1 0 1 -.2 1 .1 1 -.1 1 .2 1 0 1 .1 1 .1 1 0 1 -.1 1 -.2 1 0 1 0 1 .4 1 -.2 1 .1 1 -.3 1 .2 1 -.1 1 0 1 .2 1 .1 1 -.3 1 -.2 1 .1 1 .4 1 -.2 1 0 1 0 1 .1 1 -.1 1 0 1 .1 1 0 1 -.1 1 .2 1 .2 1 -.1 1 0 1 -.3 1 .3 1 -.4 1 0 1 -.2 1 .3 1 0 1 .1 1 0 1 0 1 0 1 0 1 0 1 -.2 1 -.1 1 -.1 1 .1 1 .2 1 .1 1 .2 1 0 1 0 1 -.2 1 -.1 1 -.2 1 0 1 .1 1 0 1 0 1 -.1 1 .2 1 -.3 1 0 1 .1 1 .1 1 0 1 -.2 1 .1 1 0 1 .2 1 0 1 .1 1 0 1 .1 1 0 1 -.1 1 -.1 1 -.4 1 .2 1 .2 1 .1 1 -.1 1 -.3 .5 .1" fill="none" stroke="#FF3030" stroke-width="1.45" stroke-linejoin="round" stroke-linecap="round" />
<path d="M1330.7 265.6l1 0 1 .2 1 .2 1 .3 1 0 1 .1 1 .2 1 .3 1 .2 .7 .1 1.3 -.1 1 .2 1 -.3 1 -.1 1 .1 1 -.1 1 .2 1 -.1 1 0 1 .2 1 0 1 0 1 -.2 1 -.2 1 .1 1 .2 1 0 1 0 1 -.4 1 .1 1 0 1 0 1 -.1 1 0 1 .1 1 .2 1 -.1 1 -.2 1 -.3 1 -.3 1 .2 1 0 1 0 1 -.1 1 .1 1 .2 1 -.2 1 .2 1 -.2 1 .2 .5 -.1 .5 -.1 1 0 1 0 1 .1 1 0 1 .1 1 -.2 1 -.3 1 -.5 1 -.5 1 -.2 1 -.2 1 -.1 1 -.3 1 -.1 1 -.2 1 .2 1 -.2 1 -.1 1 -.4 1 0 1 -.1 1 -.1 .5 -.2 .5 .1 1 0 1 .1 1 0 1 .2 1 -.2 1 0 1 0 1 .1 1 0 1 .2 1 .1 1 -.1 1 -.1 1 .1 1 .2 1 0 1 .2 1 -.1 1 0 1 0 1 .3 1 .2 1 0 1 0 1 0 1 -.3 1 .3 1 .2 1 -.1 1 -.1 1 -.1 1 .2 1 -.1 1 .2 1 .2 1 .1 1 -.1 1 .1 1 .2 1 -.2 1 0 1 0 1 .2 1 .3 1 .1 1 .3 1 .1 1 .2 1 .1 1 .2 1 0 1 -.1 1 0 1 .1 1 .3 1 .1 1 .2 1 .3 1 -.1 1 -.1 1 -.1 1 .3 1 0 1 0 1 -.2 1 0 1 .1 1 .1 1 .1 1 -.2 1 -.1 1 -.3 1 .2 1 -.2 1 .2 1 0 1 .1 1 .1 1 -.2 1 .3 1 -.1 1 0 1 -.3 1 .4 1 0 1 0 1 -.2 1 -.2 1 .1 1 0 1 .4 1 0 1 .1 1 -.1 1 -.3 1 -.1 1 -.2 1 .1 1 .1 1 0 1 .1 1 .2 1 -.1 1 -.1 1 -.2 1 .1 1 .1 1 .1 1 -.1 1 0 1 -.1 1 .3 1 -.3 1 -.2 1 0 1 .1 1 .1 1 -.2 1 .2 1 -.1 1 0 1 -.2 1 .1 1 .1 .5 -.2 .5 -.4 1 -0 1 -.1 1 .1 1 -.2 1 -0 1 -.2 1 -.4 1 -0 1 -.1 1 -0 1 -.2 1 -.2 1 -0 1 -.5 .8 -.3 1.2 -.4 1 -.3 1 -.3 1 -.4 1 -.4 1 -.6 1 -.5 1 -.7 1 -.6 1 -.9 1 -1.3 1 -2.5 1 -2.7 1 -3 1 -3.2 1 -3.8 .4 -1.5 .6 -3.1 1 -6.6 1 -6.8 1 -3.4 1 .5 1 2.2 .7 2 1.3 6.7 1 7.2 1 6.5 .6 2.5 .4 1 1 2.4 1 2.3 1 1.9 1 1.4 1 .9 1 .8 1 .4 1 .6 1 .4 1 .7 1 .4 1 .3 1 .4 1 .1 1 .1 1 .1 1 .1 1 .1 1 -.1 1 .1 1 -0 1 .3 1 .1 1 .4 1 -.2 1 -0 1 -.1 1 .2 1 .2 1 .2 1 .1 1 -.1 1 -0 1 -0 1 .2 1 -0 1 -.1 1 0 1 -.1 1 .2 1 0 .7 .2 1.3 .3 1 .4 1 -.2 1 -.3 1 0 1 .1 1 .3 1 0 1 .1 1 0 1 0 1 -.1 1 .4 1 -.1 1 .1 1 .1 1 .3 1 .2 1 -.2 1 .1 1 .1 1 .2 1 -0 1 -.2 1 -0 1 .3 1 .1 1 .1 1 -.1 1 .2 1 .1 1 -0 1 .2 1 -0 1 .1 1 -.3 1 -.1 .9 -0 1.1 -0 1 .3 1 -.3 1 .2 1 -0 1 .4 1 -.3 1 0 1 -.1 1 .3 1 .1 1 -.3 1 0 1 -.1 1 .2 1 0 1 .1 1 .1 1 -.1 1 -.2 1 0 1 .2 1 0 1 0 1 -.2 1 .1 1 -0 1 .2 1 .2 1 -.1 1 0 1 -.3 1 .1 1 .2 1 0 1 -.1 1 -.5 1 .2 1 .3 1 .3 1 0 1 -.1 1 0 1 0 1 -.2 1 0 1 0 1 .2 1 .1 1 0 1 -.1 1 .1 1 .1 1 0 1 -.3 1 -.1 1 -.1 1 .4 1 .1 1 .3 1 -.3 1 -.2 1 -.3 1 .2 1 .1 1 .2 1 .1 1 0 1 0 1 -.4 1 -.1 1 -.1 1 .2 1 0 1 0 1 .2 1 .2 1 .1 1 -.2 1 .1 1 0 1 0 1 -.1 1 -.1 1 .2 1 0 1 .1 1 .1 1 .2 1 0 1 -.2 1 -.2 1 0 1 0 1 -.1 1 0 1 .1 1 .3 1 .1 1 -.3 1 .2 1 -.1 1 0 1 -.3 .5 -.1" fill="none" stroke="#2FAE55" stroke-width="1.45" stroke-linejoin="round" stroke-linecap="round" />
<path d="M1330.7 324.2l1 .2 1 0 1 -.2 1 .3 1 .1 1 .3 1 -.1 1 .1 1 .2 .7 0 1.3 .1 1 -.3 1 -.1 1 -.1 1 0 1 -.3 1 -.2 1 -.4 1 .1 .9 -.1 1.1 0 1 0 1 -.1 1 .1 1 0 1 0 1 -.1 1 -.1 1 .3 1 .1 1 0 1 -.3 1 -.1 1 .1 1 -.1 1 -.1 1 0 1 0 1 -.1 1 -.2 1 .2 1 .4 1 .1 1 -.4 1 -.2 1 -.3 1 .3 1 -.1 1 0 1 0 1 .1 1 -.1 1 0 1 -.1 1 0 1 -.1 1 .2 1 -.1 1 0 1 0 1 .3 1 -.1 1 -.1 1 .2 1 0 .8 -.1 1.2 -.1 1 0 1 0 1 0 1 -.1 1 .1 1 0 1 .1 1 .2 1 -.3 1 -.2 1 -.3 1 .2 1 0 1 .1 1 -.1 1 .2 1 0 1 0 1 -.1 1 0 1 -.1 1 .3 1 0 1 .1 1 -.3 1 .1 1 .1 1 0 1 -.1 1 .1 1 0 1 -.1 1 -.4 1 -.1 1 .1 1 0 1 .1 1 .1 1 .4 .6 .1 .4 0 1 0 1 .3 1 .1 1 0 1 -.2 1 -.2 1 .1 1 .2 1 .2 1 0 1 0 1 .1 1 .1 1 -.3 1 .2 1 0 1 .4 1 -.1 1 .2 1 -.2 1 .2 1 .2 1 0 1 0 1 -.3 1 .1 1 -.2 1 .1 1 -.1 1 .1 1 -.2 1 0 1 .1 1 -.1 1 .1 1 -.3 1 -.1 1 .1 1 .1 1 .4 1 -.2 1 .1 1 0 1 0 1 0 1 -.1 1 .3 1 .1 1 0 1 -.1 1 -.3 1 -.1 1 .3 1 .1 1 .1 1 -.2 1 .1 1 -.1 1 .2 1 .1 1 -.1 1 -.3 1 -.2 1 .1 1 .1 1 .2 1 -.1 1 0 1 -.1 1 .1 1 0 1 .1 1 .1 1 .1 1 0 1 -.2 1 0 1 .1 1 .1 1 -0 1 -.2 1 -.2 1 -.1 1 -0 1 .1 1 .3 .4 -.1 .6 .1 1 -.2 1 -.1 1 -.1 1 -.1 1 -.3 1 -.2 1 -.2 1 -0 1 .1 1 .1 1 -0 1 .2 1 -.4 1 -.1 1 -.3 1 -0 1 -.3 1 -.5 1 -.2 1 -.1 1 -.3 1 -.5 1 -.6 1 -.2 1 -.4 1 -.6 1 -.4 .4 -.2 .6 .1 1 -.3 1 -.3 1 -.7 1 -.5 1 -.5 1 -.3 1 -.3 1 -.5 1 -.5 1 -.7 .9 -.7 1.1 -1.7 1 -2.4 1 -1.9 .7 -.8 1.3 .7 1 1.2 1 1.4 .6 1 .4 .5 1 2 1 2 1 1.6 .4 .4 .6 .3 1 .8 1 .6 1 .6 1 .6 1 .3 1 .2 1 .1 1 .2 1 .1 1 -0 1 .3 1 -0 1 .2 1 -.1 1 .3 1 -0 1 .1 1 -0 1 -0 1 .4 1 .2 1 -0 1 -.3 1 -0 .9 .3 1.1 .1 1 .1 1 -.1 1 .2 1 -0 1 -.1 1 -.1 1 .2 1 .1 1 .2 1 .1 1 -0 1 -.2 1 -0 1 .2 1 .1 1 -.1 1 -.2 1 .2 1 -0 1 -0 1 -0 1 -0 1 .3 1 .1 .4 .1 .6 .2 1 -.1 1 .1 1 -.1 1 .2 1 -.3 1 .2 1 -.2 1 .1 1 .1 1 .2 1 .3 1 -0 1 .1 1 -0 1 -0 1 .1 1 .3 1 -0 1 -.2 1 -.3 1 .1 1 .3 1 .3 1 .2 1 -0 1 -0 1 .1 1 .2 1 .1 1 -.3 1 .1 1 -.1 1 -0 1 -.1 1 -0 1 .1 1 .1 .7 -0 1.3 .2 1 -.2 1 -.1 1 -0 1 .2 1 -.2 1 -0 1 -.1 1 .1 1 -.2 1 -.1 1 -.1 1 .2 1 -0 1 .1 1 -0 1 -.1 1 -0 1 .2 1 -0 1 -.2 1 -.1 1 -.1 1 .2 1 .2 1 .1 1 .2 1 -.4 1 -.1 1 -.2 1 .3 1 -0 1 -.1 1 -0 1 -0 1 .2 1 -0 1 .3 1 -0 1 .1 1 -.4 1 -0 1 -.1 1 -.1 1 -.1 1 -.2 1 .4 1 -0 1 -0 1 -.1 1 .1 1 .1 1 -0 1 -.1 1 .1 1 -0 1 -0 1 -.1 1 .1 1 .2 1 -0 1 -.2 1 -0 1 .1 1 .3 1 -0 1 -.3 1 -.2 1 -0 1 .3 1 -0 1 -.1 1 -.2 1 .1 1 -.3 1 .1 1 .1 1 .1 1 .1 1 .2 1 .2 1 -.2 1 -.3 1 -.2 1 .1 1 -.1 1 .2 1 -.2 1 .2 1 -.2 1 .1 .5 -.1" fill="none" stroke="#2A52E2" stroke-width="1.45" stroke-linejoin="round" stroke-linecap="round" />
<text transform="translate(8.32,415.90) scale(0.9377,1)" font-size="38.99" fill="#000">B</text>
<text transform="translate(1.72,452.20) scale(0.9847,1)" font-size="23.19" fill="#000">pH</text>
<text transform="translate(32.71,455.59) matrix(0.7200,0,-0.2203,1,0,0)" font-size="30.74" fill="#000">/</text>
<text transform="translate(45.05,452.20) scale(0.9604,1)" font-size="23.19" fill="#000">Eq. Cu(II)</text>
<text transform="translate(143.78,456.07) matrix(0.7200,0,-0.1736,1,0,0)" font-size="31.28" fill="#000">/</text>
<text transform="translate(155.23,452.20) scale(0.9741,1)" font-size="23.19" fill="#000">Eq. ascorbate</text>
<text transform="translate(11.30,524.60) scale(1.0070,1)" font-size="23.71" fill="#000">3.5</text>
<text transform="translate(44.96,527.68) matrix(1.0000,0,-0.1185,1,0,0)" font-size="31.01" fill="#000">/</text>
<text transform="translate(56.65,524.60) scale(1.0191,1)" font-size="23.71" fill="#000">2</text>
<text transform="translate(70.16,527.68) matrix(1.0000,0,-0.1185,1,0,0)" font-size="31.01" fill="#000">/</text>
<text transform="translate(81.85,524.60) scale(1.0191,1)" font-size="23.71" fill="#000">2</text>
<text transform="translate(11.17,585.60) scale(1.0347,1)" font-size="23.43" fill="#000">5.0</text>
<text transform="translate(44.97,588.49) matrix(1.0000,0,-0.1268,1,0,0)" font-size="30.47" fill="#000">/</text>
<text transform="translate(56.65,585.60) scale(1.0315,1)" font-size="23.43" fill="#000">2</text>
<text transform="translate(70.17,588.49) matrix(1.0000,0,-0.1268,1,0,0)" font-size="30.47" fill="#000">/</text>
<text transform="translate(81.85,585.60) scale(1.0315,1)" font-size="23.43" fill="#000">2</text>
<text transform="translate(11.84,654.00) scale(1.0423,1)" font-size="23.14" fill="#000">7.0</text>
<text transform="translate(45.48,657.19) matrix(1.0000,0,-0.1422,1,0,0)" font-size="30.60" fill="#000">/</text>
<text transform="translate(57.60,654.00) scale(0.9902,1)" font-size="23.14" fill="#000">2</text>
<text transform="translate(70.48,657.19) matrix(1.0000,0,-0.1466,1,0,0)" font-size="30.60" fill="#000">/</text>
<text transform="translate(82.67,654.00) scale(1.0262,1)" font-size="23.14" fill="#000">2</text>
<text transform="translate(11.32,716.40) scale(1.0523,1)" font-size="23.29" fill="#000">7.0</text>
<text transform="translate(45.48,719.29) matrix(1.0000,0,-0.1401,1,0,0)" font-size="30.74" fill="#000">/</text>
<text transform="translate(57.60,716.40) scale(0.9842,1)" font-size="23.29" fill="#000">2</text>
<text transform="translate(70.48,719.29) matrix(1.0000,0,-0.1445,1,0,0)" font-size="30.74" fill="#000">/</text>
<text transform="translate(82.54,716.40) scale(1.0307,1)" font-size="23.29" fill="#000">0</text>
<text transform="translate(12.54,790.20) scale(1.0326,1)" font-size="23.29" fill="#000">7.0</text>
<text transform="translate(46.07,793.38) matrix(1.0000,0,-0.1381,1,0,0)" font-size="31.14" fill="#000">/</text>
<text transform="translate(58.18,790.20) scale(0.9855,1)" font-size="23.29" fill="#000">0</text>
<text transform="translate(71.07,793.38) matrix(1.0000,0,-0.1381,1,0,0)" font-size="31.14" fill="#000">/</text>
<text transform="translate(83.15,790.20) scale(1.0216,1)" font-size="23.29" fill="#000">0</text>
<text transform="translate(557.92,736.33) scale(1.0152,1)" font-size="26.94" fill="#0000FF">Hb</text>
<text transform="translate(893.73,755.53) scale(1.0188,1)" font-size="26.67" fill="#FF0000">Hd</text>
<text transform="translate(968.34,746.32) scale(0.9133,1)" font-size="28.00" fill="#0000FF">Ha</text>
<text transform="translate(1036.30,753.72) scale(0.9449,1)" font-size="27.71" fill="#FF0000">Hc</text>
<text transform="translate(1533.39,739.12) scale(0.9869,1)" font-size="28.29" fill="#00B050">He</text>
<text transform="translate(104.73,837.37) scale(1.0668,1)" font-size="23.38" fill="#000">9.0</text>
<text transform="translate(281.97,837.97) scale(1.0348,1)" font-size="23.38" fill="#000">8.5</text>
<text transform="translate(456.05,835.97) scale(1.0823,1)" font-size="23.24" fill="#000">8.0</text>
<text transform="translate(616.69,835.00) scale(0.9830,1)" font-size="24.28" fill="#000">[ppm]</text>
<text transform="translate(726.04,837.46) scale(1.0152,1)" font-size="23.71" fill="#000">7.5</text>
<text transform="translate(899.81,837.56) scale(1.0548,1)" font-size="23.52" fill="#000">7.0</text>
<text transform="translate(1069.26,837.56) scale(1.0197,1)" font-size="23.52" fill="#000">6.5</text>
<text transform="translate(1215.08,836.57) scale(1.0008,1)" font-size="23.96" fill="#000">[ppm]</text>
<text transform="translate(1361.26,834.56) scale(1.0197,1)" font-size="23.52" fill="#000">2.5</text>
<text transform="translate(1538.42,837.47) scale(1.0864,1)" font-size="23.10" fill="#000">2.0</text>
<text transform="translate(1704.88,835.26) scale(0.9836,1)" font-size="24.49" fill="#000">[ppm]</text>
<line x1="105.6" y1="809.3" x2="682.5" y2="809.3" stroke="#585858" stroke-width="1.6"/>
<line x1="649.90" y1="809.3" x2="649.90" y2="819.30" stroke="#585858" stroke-width="1.3"/>
<line x1="614.70" y1="809.3" x2="614.70" y2="815.00" stroke="#585858" stroke-width="1.3"/>
<line x1="579.50" y1="809.3" x2="579.50" y2="815.00" stroke="#585858" stroke-width="1.3"/>
<line x1="544.30" y1="809.3" x2="544.30" y2="815.00" stroke="#585858" stroke-width="1.3"/>
<line x1="509.10" y1="809.3" x2="509.10" y2="815.00" stroke="#585858" stroke-width="1.3"/>
<line x1="473.90" y1="809.3" x2="473.90" y2="819.30" stroke="#585858" stroke-width="1.3"/>
<line x1="438.70" y1="809.3" x2="438.70" y2="815.00" stroke="#585858" stroke-width="1.3"/>
<line x1="403.50" y1="809.3" x2="403.50" y2="815.00" stroke="#585858" stroke-width="1.3"/>
<line x1="368.30" y1="809.3" x2="368.30" y2="815.00" stroke="#585858" stroke-width="1.3"/>
<line x1="333.10" y1="809.3" x2="333.10" y2="815.00" stroke="#585858" stroke-width="1.3"/>
<line x1="297.90" y1="809.3" x2="297.90" y2="819.30" stroke="#585858" stroke-width="1.3"/>
<line x1="262.70" y1="809.3" x2="262.70" y2="815.00" stroke="#585858" stroke-width="1.3"/>
<line x1="227.50" y1="809.3" x2="227.50" y2="815.00" stroke="#585858" stroke-width="1.3"/>
<line x1="192.30" y1="809.3" x2="192.30" y2="815.00" stroke="#585858" stroke-width="1.3"/>
<line x1="157.10" y1="809.3" x2="157.10" y2="815.00" stroke="#585858" stroke-width="1.3"/>
<line x1="121.90" y1="809.3" x2="121.90" y2="819.30" stroke="#585858" stroke-width="1.3"/>
<line x1="727.8" y1="807.4" x2="1278.4" y2="807.4" stroke="#585858" stroke-width="1.6"/>
<line x1="1261.25" y1="807.4" x2="1261.25" y2="817.40" stroke="#585858" stroke-width="1.3"/>
<line x1="1226.70" y1="807.4" x2="1226.70" y2="813.10" stroke="#585858" stroke-width="1.3"/>
<line x1="1192.15" y1="807.4" x2="1192.15" y2="813.10" stroke="#585858" stroke-width="1.3"/>
<line x1="1157.60" y1="807.4" x2="1157.60" y2="813.10" stroke="#585858" stroke-width="1.3"/>
<line x1="1123.05" y1="807.4" x2="1123.05" y2="813.10" stroke="#585858" stroke-width="1.3"/>
<line x1="1088.50" y1="807.4" x2="1088.50" y2="817.40" stroke="#585858" stroke-width="1.3"/>
<line x1="1053.95" y1="807.4" x2="1053.95" y2="813.10" stroke="#585858" stroke-width="1.3"/>
<line x1="1019.40" y1="807.4" x2="1019.40" y2="813.10" stroke="#585858" stroke-width="1.3"/>
<line x1="984.85" y1="807.4" x2="984.85" y2="813.10" stroke="#585858" stroke-width="1.3"/>
<line x1="950.30" y1="807.4" x2="950.30" y2="813.10" stroke="#585858" stroke-width="1.3"/>
<line x1="915.75" y1="807.4" x2="915.75" y2="817.40" stroke="#585858" stroke-width="1.3"/>
<line x1="881.20" y1="807.4" x2="881.20" y2="813.10" stroke="#585858" stroke-width="1.3"/>
<line x1="846.65" y1="807.4" x2="846.65" y2="813.10" stroke="#585858" stroke-width="1.3"/>
<line x1="812.10" y1="807.4" x2="812.10" y2="813.10" stroke="#585858" stroke-width="1.3"/>
<line x1="777.55" y1="807.4" x2="777.55" y2="813.10" stroke="#585858" stroke-width="1.3"/>
<line x1="743.00" y1="807.4" x2="743.00" y2="817.40" stroke="#585858" stroke-width="1.3"/>
<line x1="1336.4" y1="807.0" x2="1764.4" y2="807.0" stroke="#585858" stroke-width="1.6"/>
<line x1="1764.42" y1="807.0" x2="1764.42" y2="812.70" stroke="#585858" stroke-width="1.3"/>
<line x1="1729.10" y1="807.0" x2="1729.10" y2="817.00" stroke="#585858" stroke-width="1.3"/>
<line x1="1693.78" y1="807.0" x2="1693.78" y2="812.70" stroke="#585858" stroke-width="1.3"/>
<line x1="1658.46" y1="807.0" x2="1658.46" y2="812.70" stroke="#585858" stroke-width="1.3"/>
<line x1="1623.14" y1="807.0" x2="1623.14" y2="812.70" stroke="#585858" stroke-width="1.3"/>
<line x1="1587.82" y1="807.0" x2="1587.82" y2="812.70" stroke="#585858" stroke-width="1.3"/>
<line x1="1552.50" y1="807.0" x2="1552.50" y2="817.00" stroke="#585858" stroke-width="1.3"/>
<line x1="1517.18" y1="807.0" x2="1517.18" y2="812.70" stroke="#585858" stroke-width="1.3"/>
<line x1="1481.86" y1="807.0" x2="1481.86" y2="812.70" stroke="#585858" stroke-width="1.3"/>
<line x1="1446.54" y1="807.0" x2="1446.54" y2="812.70" stroke="#585858" stroke-width="1.3"/>
<line x1="1411.22" y1="807.0" x2="1411.22" y2="812.70" stroke="#585858" stroke-width="1.3"/>
<line x1="1375.90" y1="807.0" x2="1375.90" y2="817.00" stroke="#585858" stroke-width="1.3"/>
<line x1="1340.58" y1="807.0" x2="1340.58" y2="812.70" stroke="#585858" stroke-width="1.3"/>
<line x1="546.1" y1="477.2" x2="546.1" y2="807.9" stroke="#606066" stroke-width="1.7" stroke-dasharray="4.7,2.3"/>
<line x1="939.3" y1="475.5" x2="939.3" y2="806.0" stroke="#606066" stroke-width="1.7" stroke-dasharray="4.7,2.3"/>
<line x1="964.8" y1="475.5" x2="964.8" y2="806.0" stroke="#606066" stroke-width="1.7" stroke-dasharray="4.7,2.3"/>
<line x1="1032.3" y1="475.6" x2="1032.3" y2="806.0" stroke="#606066" stroke-width="1.7" stroke-dasharray="4.7,2.3"/>
<line x1="1579.6" y1="475.0" x2="1579.6" y2="804.6" stroke="#606066" stroke-width="1.7" stroke-dasharray="4.7,2.3"/>
<path d="M106.1 514.4l1 -.1 1 .2 1 0 1 -.2 1 -.4 1 -.3 1 0 1 .9 1 0 1 .4 1 -.6 1 -1.1 1 .3 1 .1 1 .3 1 -.8 1 0 1 1 1 .5 1 .1 1 -.3 1 -.4 1 -.4 1 -.1 1 -.2 1 .2 1 .2 1 -.3 1 -.1 1 -.4 1 .8 1 .6 1 -.4 1 .5 1 -.3 1 1.2 1 -.8 1 -.1 1 -.8 1 .2 1 -.4 1 -.2 1 -.3 1 .5 1 -.2 1 -.1 1 -.4 1 .4 1 .4 1 -.3 1 -.5 .9 -.4 1.1 .2 1 .7 1 .6 1 .5 1 -.3 1 -.9 1 -.6 1 -0 1 .8 1 .1 1 -0 1 -0 1 .6 1 -.4 1 -.5 1 -.3 1 -.2 1 -.3 1 -.2 1 .3 1 .3 1 -.2 1 -.4 1 -.6 1 -.6 1 .1 1 .5 1 .7 1 .6 1 .2 1 -.5 1 -.4 1 -.4 1 .8 1 .2 1 -.1 1 -.5 1 -.4 1 -.6 1 -0 1 -0 1 .7 1 -.6 1 -.2 1 .1 1 .3 1 .5 1 -.5 1 -.1 1 -.2 1 .4 1 -.1 1 -.2 1 -.5 1 -.1 1 -.2 1 -0 1 -.7 1 -.4 1 -1 1 -.1 1 -.6 1 -.2 .9 -.6 1.1 -.5 1 -1.2 1 -.1 1 -1 1 -.7 1 -.8 1 .2 1 .5 1 -.2 1 -.2 1 1 1 -0 1 1.5 .9 -.7 1.1 .6 1 -.5 1 .7 1 .8 1 .1 1 .4 1 -.4 .7 .8 1.3 .5 1 .5 1 -0 1 .7 1 .7 1 .1 1 .1 1 .3 1 .6 1 -0 1 .3 1 -.3 1 .1 1 -.4 1 .2 1 -.3 1 .3 1 -.4 1 .3 1 -.8 1 .2 1 -1 1 -.8 1 -.9 1 .3 .9 .6 1.1 .2 1 -.6 1 -.2 1 -.7 1 .4 1 .2 1 .3 1 -1 1 -.9 1 -.2 1 -0 1 -.3 1 -.3 1 -.1 1 .1 1 -.4 .6 -.4 .4 -.3 1 -.7 1 -.8 1 -.2 1 -1.1 1 -.5 1 -.8 1 .4 1 -.9 1 -.5 1 -1 1 -.3 1 -.4 1 -1.4 1 -.5 1 -1.1 1 .2 1 -.8 1 -.7 1 -1.2 1 -.3 1 -.2 1 -.3 1 -.5 1 -.6 1 -.2 1 -.1 1 .4 1 -.4 .9 -.1 1.1 -.1 1 .3 1 .1 1 .1 1 .9 1 -0 1 -.4 1 -.1 1 .5 1 .8 1 .6 1 -.1 1 .6 .5 -.4 .5 .9 1 .4 1 1.3 1 .6 1 .7 1 .4 1 .5 1 1.4 1 1.5 1 1.5 1 .3 1 -.3 1 .7 1 .2 1 .8 1 -.2 1 -0 1 .4 1 -.9 1 .6 1 -.2 1 .5 1 -.1 1 .2 1 .5 1 .1 1 -.5 1 .2 1 -0 .8 .6 1.2 -0 1 -.6 1 .1 1 -.2 1 .8 1 .3 1 1 1 .6 1 .6 1 .6 1 .4 1 .2 1 .2 1 .4 1 -.1 1 -.4 1 .4 1 .5 1 -.1 1 .3 .9 .5 1.1 .4 1 -.4 1 -.2 1 .6 1 .5 1 .4 1 .9 1 -.4 .9 -0 1.1 -0 1 -.3 1 -.4 1 -.9 1 -0 1 -.4 1 -.2 1 .1 .9 -0 1.1 -1 1 -1.4 1 -1.2 1 -0 1 .7 1 -0 1 -.4 1 -.1 1 -.1 1 .4 1 -.1 1 .6 1 .6 1 .7 .4 -.7 .6 -.2 1 .6 1 1.8 1 1.2 1 .8 1 .6 1 .4 1 .6 1 .2 1 .3 1 -.5 1 -.6 1 .1 1 -.1 1 .5 1 .1 1 .1 1 .3 1 -.3 1 -.1 1 -.1 1 .1 1 .1 1 -.1 1 -.7 1 .1 1 -.1 1 -.1 1 -0 1 .2 1 .1 1 -.5 1 -1 1 -.1 1 -.1 1 -.2 1 .2 1 .4 1 .1 1 -0 1 .1 1 .3 1 -0 1 -.2 1 -.4 1 .1 1 .3 1 -.1 1 -1 1 -.9 1 -.2 1 .6 1 .5 1 .4 1 .4 1 -.3 1 -.3 1 -1.2 1 -.1 1 -.2 1 .4 1 -.3 1 .7 .6 .5 .4 .1 1 -.9 1 -.2 1 .1 1 1.1 1 .6 1 .6 1 -.2 1 .5 1 .9 1 .1 1 -.4 1 -.8 1 .8 1 .4 1 -0 1 .1 1 -.4 1 -.7 1 -.9 1 .6 1 .9 1 .4 1 -.7 1 -.6 1 .2 1 .8 1 -0 1 -.3 1 -.6 1 -.1 1 .5 1 .3 1 .2 1 -.3 1 -.1 1 -.7 1 -.6 1 -.2 1 .3 1 .4 1 -.5 1 -.7 1 -.7 1 -.4 1 -0 1 -.3 .6 -0 .4 -.2 1 -.5 1 -.8 1 -1.5 1 -.8 1 -.5 1 -.1 .8 -0 1.2 -.5 1 -.5 1 -.4 .9 -.2 1.1 -.1 1 -.1 1 -.6 .9 .3 1.1 -.3 1 .7 1 1 1 1.4 .4 1.1 .6 .6 1 1.7 1 1.6 1 1 .9 .3 1.1 .4 1 .2 1 .5 1 -.5 1 .4 1 .1 1 1.1 1 -.1 1 .1 1 .1 1 1.4 1 .3 1 .2 1 -1 1 .8 1 -.2 1 .2 1 -.6 1 -.3 1 -.2 1 -.1 1 .1 .5 .6 .5 -0 1 .9 1 -.2 1 -.1 1 -.7 1 .2 1 .2 1 -0 1 -.3 1 -.3 1 -.2 1 .6 1 .1 1 -.1 1 -1 1 -.2 1 .1 1 .3 1 .5 1 .2 1 -.1 1 -.5 1 -.1 1 .2 1 -.1 1 -.9 1 .3 1 -0 1 .6 1 -.7 1 .4 1 -.1 1 .2 1 -1.1 1 -.2 1 -.1 1 .7 1 .3 1 -.1 1 .1 1 -.3 1 -0 1 -.3 1 -.6 1 -.6 .7 .5 1.3 -0 1 .4 1 -.4 1 .3 1 .5 1 -.8 1 .2 1 -.2 1 1.3 1 .3 1 -.4 1 -.4 1 -.4 1 -.2 1 -.5 1 .2 1 .3 1 -.2 1 -.5 1 -.4 1 -.2 1 .3 1 .5 1 .8 1 -.6 1 -.5 1 -.3 1 .5 1 .3 1 -.5 1 -.2 1 -.4 1 .9 1 .3 1 .1 1 -.1 1 -.6 1 .5 1 -.3 1 .2 1 .2 1 -.6 1 .1 1 -.5 1 -.1 1 -.3 1 .2 1 .6 1 .2 1 .2 1 .1 1 .6 1 -.2 1 -.1 1 -0 1 -0 1 -.2 1 -.5 1 .4 1 .7 1 -.1 1 -.1 1 -.1 1 1.1 1 .2 1 -.3 1 -.2 .4 -0" fill="none" stroke="#FF6A1A" stroke-width="1.45" stroke-linejoin="round" stroke-linecap="round" />
<path d="M106.1 576.2l1 .2 1 -.1 1 -.6 1 0 1 -.1 1 .9 1 -.2 1 -.6 1 -.5 1 -.5 1 0 1 -.2 1 .3 1 .1 1 .2 1 -.1 1 .1 1 -.2 1 .3 1 .1 1 .6 1 -.4 1 -.1 1 -.1 1 .1 1 0 1 -.2 1 -.2 1 0 1 -.1 1 -.1 1 -.2 1 .7 1 0 1 .3 1 -.7 1 .2 1 .4 1 .1 1 0 1 -.4 1 .5 1 -.1 1 0 1 -.3 1 -.6 1 .3 1 .6 1 .4 1 0 1 -.6 1 .8 1 -.5 1 .2 1 -.1 1 .4 1 -.1 1 -.4 1 -.4 1 0 1 -.3 1 .7 1 .2 1 .2 1 -.9 1 .1 1 .5 1 .6 1 0 1 -.2 1 -.1 1 -.4 1 -.2 1 .4 1 -.1 1 -.5 1 -.4 1 .2 1 .5 1 0 1 -.4 1 -.2 1 -.2 1 .3 1 .4 1 .4 1 .1 1 -.2 1 -.6 1 -.2 1 -.4 1 0 1 .3 1 .7 1 -.1 1 .2 1 -.9 1 .5 1 -.5 1 .6 1 -.2 1 -.3 1 .6 1 -.5 1 -.2 1 -.8 1 -.8 1 -.2 1 -.8 1 .8 1 -.4 1 .1 1 -1.2 1 .4 1 -.7 1 -.1 1 -1 1 -.4 1 0 1 0 1 .9 .9 .8 1.1 -.3 1 -.5 1 -.1 1 .8 1 0 1 -.3 1 -.3 1 .4 1 .1 1 .6 1 0 1 .5 1 -.3 1 1.3 1 .1 1 -.7 1 -.8 1 -1 1 1 1 -.2 1 0 1 -.7 1 0 1 1.2 1 .4 1 .3 1 -.7 1 -.1 1 -.6 1 .1 1 .1 1 .5 1 -.1 1 0 1 -.1 1 .4 1 -.1 1 0 1 -.3 1 0 1 .1 1 0 1 .6 1 .4 1 .5 1 -.1 1 -.7 1 -.3 1 -.4 1 .5 1 .5 1 .4 1 -.5 1 -.3 1 .1 1 .4 1 .2 1 -.9 .6 .1 .4 -.2 1 -.2 1 .1 1 .3 1 .7 1 -.6 1 -.8 1 -.8 1 -.1 1 -.1 1 .3 1 -.6 1 -.1 1 -.9 1 -.5 1 -.5 1 -.4 1 -.2 .6 .2 .4 .4 1 0 1 -.6 1 -.3 1 -.1 1 .5 1 -.1 1 -.2 1 -.5 1 .2 1 1 1 .4 1 -.6 1 -1 1 -.1 1 .3 .4 .3 .6 .5 1 -.5 1 -.6 1 -1 1 -.1 1 -.1 1 -.3 1 -.6 1 -.3 1 -.8 1 -.4 1 -1.4 1 -.8 1 -.7 1 .3 1 -.2 1 -.4 1 -.6 .5 .8 .5 -.2 1 .6 1 0 1 1.6 1 .9 1 .6 1 .5 1 .7 1 .3 .5 -.8 .5 -.7 1 .1 1 .2 1 .3 1 .3 1 .4 1 .5 1 -.4 1 -.6 1 -.7 1 .2 1 -.2 1 0 1 0 1 .1 1 -.4 1 -2.2 1 -1.2 1 -2.4 1 -1.2 1 -1.5 1 .6 1 .7 1 1.2 1 -.3 1 -.2 1 .2 1 .6 .7 .4 1.3 .7 1 1.2 1 1 1 .7 1 .6 1 .7 1 .4 .6 .2 .4 1 1 .4 1 .7 1 .1 1 .8 1 .1 1 -.1 1 .5 1 .3 1 -.3 1 0 1 -.1 1 .9 1 .7 1 .5 1 -.5 1 -.7 1 -.4 1 1.1 1 -.8 1 .6 1 -.2 1 1 1 .1 1 .6 1 -.4 1 -.3 1 -.5 1 .7 1 .1 1 .2 1 .1 1 -.1 1 -.7 1 .2 1 .6 .6 1 .4 -.1 1 -.2 1 -1.2 1 -.3 1 -.9 1 -.2 1 -.5 1 -.9 1 -.9 1 -1.4 1 -1.2 1 -.6 1 .4 1 .9 1 -.5 1 -.9 1 -.5 1 -.5 1 -.5 1 -1.3 1 .6 1 -.3 1 .2 1 -.5 1 .1 1 1.5 1 1.2 1 2 1 -.4 1 1 1 .3 1 1.1 1 .3 1 .8 1 1.1 1 0 1 .8 1 .2 1 .1 1 -1.3 1 -.5 1 .2 1 .1 1 -.2 1 .1 1 -.3 1 -.2 1 -.9 1 -.4 1 -.1 1 -.2 1 -.1 1 -.7 1 .1 .8 -.5 1.2 .3 1 -1 1 .3 1 -.4 1 0 1 -.7 1 -1 1 .2 1 .1 1 .4 1 .4 1 -.8 1 0 1 -.7 1 .5 1 .4 1 .5 1 .8 1 -.2 1 0 1 -.3 1 -.1 1 .2 1 .3 1 1.1 1 .3 1 0 1 -.6 .7 .1 1.3 .7 1 .8 1 1 1 .4 1 .7 1 -.2 1 .5 1 .3 1 .9 1 .5 1 0 1 .3 1 .1 1 0 1 .2 1 .3 1 -.1 1 .3 1 .3 1 1 1 -.3 1 .1 1 -1.1 1 -.3 1 -.3 1 .3 1 .2 1 -.3 1 .3 1 .1 1 .1 1 .1 1 0 1 .4 1 .1 1 .4 1 0 1 -.3 1 -.3 1 -.2 1 .3 1 .1 1 .7 1 -.1 1 -.2 1 -.2 1 -.4 1 0 1 -.4 1 -.1 1 -.6 1 -.2 1 -.6 1 -1.1 1 -2 1 -1.8 1 -2.2 1 -.8 1 -1.5 1 .3 1 .2 1 2.1 1 1.3 .8 .7 1.2 -1.4 1 -1.1 1 -1.3 1 -.9 1 0 1 .1 1 1.9 1 1.7 1 2.3 1 1.2 1 .6 .5 .6 .5 .6 1 .8 1 -.5 1 .4 1 .1 1 .5 1 .6 1 .2 1 .8 1 -.4 1 .3 1 0 1 .3 1 0 1 .1 1 .1 1 -.4 1 0 .6 0 .4 .5 1 -.3 1 .5 1 .3 1 .7 1 .1 1 .1 1 -.6 1 -.9 1 0 1 .2 1 .7 1 .1 1 -.2 1 -.5 1 -.3 1 -.1 1 .1 1 0 1 .1 1 .4 1 -.5 1 .1 1 -.3 1 .4 1 -.2 1 .3 1 -.4 1 .3 1 .2 1 .4 1 -.1 1 -.6 1 .1 1 .2 1 .3 1 0 1 0 1 0 1 -.6 1 -.6 1 -.1 1 1.3 1 .7 1 0 .8 -.7 1.2 -.5 1 .1 1 -.2 1 0 1 -.6 1 -.2 1 -.6 1 -.2 1 -.2 1 .4 1 .1 1 .2 1 -.8 1 -.3 1 -.8 1 -.1 1 -.4 1 -.5 1 -.1 1 -.5 1 .6 1 -.3 1 -.1 1 -.5 1 .2 1 1.3 1 .4 1 .6 1 0 1 .7 .4 .2 .6 .2 1 0 1 .7 1 .3 1 .4 1 0 1 -.3 1 -.2 1 -.7 1 -.2 .4 .1" fill="none" stroke="#2FAE55" stroke-width="1.45" stroke-linejoin="round" stroke-linecap="round" />
<path d="M106.1 648.2l1 .5 1 .4 1 .3 1 -.4 1 .2 1 -.2 1 -.7 1 -.6 1 .3 1 1 1 .3 1 .2 1 -.9 1 .6 1 0 1 .9 1 -1.3 1 .2 1 -.3 1 0 1 0 1 .5 1 .7 1 -.5 1 -0 1 .1 1 .4 1 -0 1 -.5 1 .1 1 -.6 1 .6 1 -.2 1 .2 1 .4 1 .1 1 .3 1 -.3 1 .6 1 -1 1 -.1 1 -.6 1 1.2 1 -.1 1 -.1 1 -.1 1 -.1 1 -.2 1 -.2 1 .6 1 .4 1 -.7 1 -.6 1 -.5 1 1 1 -.4 1 .3 1 -.1 1 .6 1 -.2 1 -.1 1 .4 1 0 1 -.1 1 -1 1 .2 1 .1 1 .3 1 .3 1 -.6 1 0 1 -.3 1 -.5 1 .3 1 .1 1 .7 1 0 1 .1 1 -.6 1 -.2 1 .6 1 .9 1 .1 1 -1.3 1 -.6 1 -.7 1 .8 1 .8 1 -.3 1 -.1 1 -1 1 .4 1 -.4 1 .5 1 .4 1 .1 1 .6 1 -.1 1 -.3 1 -.6 1 1 1 .6 1 .6 1 -.6 1 -.2 1 .1 1 -.2 1 -.5 1 -1 1 .9 1 .2 1 .3 1 -.8 1 .7 1 -.1 1 0 1 -.2 1 0 1 .1 1 .3 1 .5 1 .1 1 -.2 1 -.1 1 -.1 1 -.3 1 .3 1 -.4 1 -.2 1 0 1 .9 1 .5 1 -.6 1 -.9 1 .2 1 .3 1 .6 1 -.1 1 -.5 1 -.4 1 -.2 1 .2 1 -.4 1 -.4 1 -.1 1 .9 1 1.1 1 .1 1 -.7 1 -.8 1 -.2 1 -.2 1 -1.3 1 -.1 1 0 1 .9 1 -.5 1 0 1 -.1 1 -.2 1 -.2 1 0 1 .6 1 -.5 1 0 1 0 1 .7 1 -.3 1 -.4 1 -.2 1 -.4 1 .3 1 -.2 1 -.4 1 -.3 1 .2 1 .5 1 -.6 1 -.2 1 -1.1 1 .8 1 -.2 1 .3 1 -1.3 1 .5 1 .5 1 .4 1 -.8 1 -.2 1 .1 1 -.1 1 .1 1 -.3 1 -.1 1 -.1 1 0 1 .2 1 .1 .6 0 .4 .3 1 0 1 .8 1 -.8 1 -.3 1 -.4 1 .1 1 .1 1 -.5 1 .9 1 .3 1 1 1 -.1 1 -.1 1 .3 1 -1.3 1 0 1 -.8 1 .8 1 -.2 1 .6 1 .7 1 .5 1 0 1 -1.3 1 -.2 1 0 1 .6 1 .4 1 -.2 1 .4 1 -.4 1 .3 1 .5 1 .7 1 .6 1 -.4 1 .1 1 -1 1 .4 1 -.1 1 .4 1 .1 1 -.5 1 .1 1 -.3 1 .1 1 -.2 1 .2 1 .3 1 0 1 -.5 .6 -.1 .4 .1 1 .2 1 -.2 1 -.3 1 -.2 1 .2 1 .8 1 -.6 1 -.3 1 -.3 1 .4 1 -.2 1 -.8 1 -.1 1 -.1 1 -.2 .4 -.5 .6 -.3 1 .2 1 -1.1 1 -.6 1 -.5 1 -.4 1 -.5 1 -.6 1 -.3 1 -.5 1 -.7 .6 .4 .4 0 1 0 1 0 1 .5 1 .8 1 .1 1 0 .4 -.5 .6 .7 1 .7 1 .4 1 -.6 1 .7 1 .2 1 .7 1 -.3 1 1.7 1 1.3 1 .5 1 -.2 1 -.2 1 .6 1 -.2 1 .7 1 0 1 .1 1 -.9 1 .3 1 .5 1 .4 1 -.6 1 -.2 1 .3 1 .3 1 .2 1 .2 1 -.1 1 .7 1 0 1 0 1 -.6 1 -.5 1 -.1 1 -.8 1 -.1 1 -1.3 1 -1.5 1 -.9 1 -.6 1 .3 1 -1 1 -.7 1 -1 1 -1 .9 -.4 1.1 -.2 1 .4 1 -.3 1 .2 1 0 1 .9 1 -.7 1 0 1 -.2 1 .8 1 .8 1 1 1 1.2 1 .8 1 1.2 1 .3 1 .1 1 .3 1 .9 1 .2 1 0 1 -.4 1 .1 1 -.3 1 .3 1 .2 1 -.2 1 -.1 1 -.6 1 .2 1 0 1 -.1 1 .2 1 -.4 .9 -.1 1.1 -1.2 1 -.5 1 -.7 1 -1 1 -1.1 1 -.7 1 -.4 1 -.8 1 -1.2 1 -1.1 .9 -.1 1.1 .5 1 1 1 -.1 1 -.6 1 -.9 1 .4 1 .8 1 .3 1 -.3 1 -.6 .9 .7 1.1 .1 1 1.2 1 .1 1 .3 1 -.1 1 .9 1 1.1 1 .8 1 .5 1 .4 1 .5 1 0 1 .2 1 .5 .6 -.2 .4 .3 1 .1 1 -.1 1 -.4 1 -1.1 1 -.2 1 -.1 1 .2 1 -1.6 1 -3.4 1 -4.2 1 -4.4 1 -4.3 .5 -1.4 .5 -2.7 1 -4.5 1 -4.6 1 -2.5 1 -1.1 1 2 1 5.7 1 6 .8 2.5 1.2 1.9 1 1.5 1 1.5 1 .7 .4 -.3 .6 -.6 1 -1.2 1 -.8 1 -.8 1 0 1 .6 1 1.9 1 2.5 1 2.6 1 2 1 1.6 .4 .7 .6 .9 1 1.2 1 .8 1 1.3 1 1.1 1 1.4 1 -.3 .8 -.2 1.2 -1.2 1 .3 1 -.2 1 .2 1 .1 1 -.5 1 -1.5 1 -1.8 1 -1.9 1 -.9 1 -1.8 .7 -.6 1.3 .4 1 1.3 1 2 1 1.5 1 -.5 1 -1.8 1 -2.2 1 -1.4 .9 -.6 1.1 .3 1 1.7 1 1.5 1 2.3 1 .6 1 1.7 1 1.4 1 1.7 1 .4 1 -.1 1 .7 1 0 1 .4 1 .4 1 .8 1 .3 1 -.7 1 -.9 1 .3 1 .6 1 .6 1 -.2 1 .7 1 .5 1 .1 1 -.7 .6 -.3 .4 .1 1 0 1 .2 1 -.2 1 .3 1 .1 1 -.2 1 .7 1 .1 1 .2 1 -1.3 1 0 1 0 1 .9 1 .2 1 .1 1 -1.1 1 .1 1 -.3 1 .7 1 -.2 1 -.3 1 -.2 1 .5 1 .6 1 -.6 1 -1 1 .2 1 .9 1 .8 1 .1 1 -.4 1 -.3 1 -.2 1 .3 1 -.3 1 .3 1 .5 1 .3 1 -.1 1 -.7 1 .1 1 -.3 1 .1 1 .2 1 .3 1 .2 1 -.8 1 0 1 .7 1 .6 1 .1 1 -.1 1 .6 1 .1 1 0 1 -.6 1 0 1 -.2 1 .3 1 -.3 1 0 1 -.3 1 .2 1 -.3 1 .1 1 0 1 -.3 1 -.1 1 -.3 1 .8 1 -1.1 1 .5 1 .3 1 .8 1 .3 1 -.7 1 -.1 1 -.5 1 .4 1 .7 1 .6 .4 -.4" fill="none" stroke="#FF3030" stroke-width="1.45" stroke-linejoin="round" stroke-linecap="round" />
<path d="M106.1 706.4l1 -.6 1 -.5 1 .5 1 .2 1 .4 1 -.4 1 0 1 0 1 -.3 1 .6 1 -.1 1 .1 1 -.4 1 -.5 1 .6 1 -0 1 .6 1 -.7 1 .2 1 -.1 1 .3 1 .1 1 .1 1 -.4 1 .2 1 -.1 1 .3 1 .3 1 .6 1 .1 1 -.9 1 -.1 1 -.1 1 1 1 -.4 1 -.2 1 -0 1 -0 1 .5 1 -.4 1 -.5 1 -.4 1 -.3 1 .4 1 -.5 1 .2 1 .1 1 .4 1 -.3 1 .2 1 .4 1 .6 1 .2 1 -.2 1 -.3 1 -0 1 .5 1 -0 1 -.5 1 -.3 1 .2 1 .3 1 .3 1 -.4 1 .2 1 -.3 1 .7 1 -.4 1 .1 1 -.2 1 .3 1 .2 1 -.5 1 -.3 1 -.7 1 -0 1 -0 1 .6 1 .2 1 -.1 1 .3 1 .1 1 -0 1 -1.1 1 -0 1 .9 1 .5 1 .3 1 .1 1 .3 1 -.4 1 -.9 1 -.4 1 .5 1 .4 1 -.1 1 -.5 1 -.1 1 .7 1 -.1 1 .7 1 -.3 1 .3 1 -.9 1 -0 1 -0 1 .6 1 -.4 1 -0 1 -.7 1 -.1 1 .7 1 .3 1 .1 1 -.5 1 .1 1 1.1 1 -.3 1 .3 .6 -.9 .4 .3 1 -.2 1 1 1 -.6 1 .1 1 -.6 1 -.1 1 -.4 1 -.4 1 -.2 1 .2 1 -.6 1 .1 1 -.5 1 1 1 .4 1 .7 1 .3 1 .1 1 -.7 1 -.1 1 -.3 1 .2 1 -.2 1 .7 1 .9 1 .4 1 -.6 1 -.5 1 -0 1 -.1 1 -.3 1 -.6 1 .1 1 -0 1 .2 1 -0 1 -0 1 -.5 1 .2 1 .1 1 .2 1 -.4 1 -.3 1 .2 1 .8 1 .6 1 .2 1 .2 1 -.4 1 -0 1 -.8 1 .7 1 -.1 1 -0 1 -.4 1 .1 1 -0 1 -.1 1 -0 1 .8 1 -.3 1 .2 1 -.9 1 -0 1 -.1 1 .5 1 .1 1 -0 1 -.1 1 .3 1 -.5 1 -1 1 -.1 1 .4 1 .8 1 .3 1 -.4 1 .5 1 -1.2 1 .2 1 -.7 1 1 1 -0 1 .7 1 .2 1 .1 1 -.6 1 -.3 1 -1 1 .4 1 -.6 1 1.1 1 -.1 1 .4 1 -.5 1 -0 1 -.1 1 -.3 1 .1 1 -.1 1 .6 1 -.4 1 -.1 1 .5 1 .5 1 .8 1 -.8 .9 -.2 1.1 -.4 1 .6 1 .2 1 -.1 1 -.7 1 -.3 1 .2 1 -.2 1 -.1 1 -.1 1 .1 1 -0 1 -0 1 -.5 1 -.8 1 -1.3 1 -.2 1 .3 1 .6 1 -.5 1 -.7 1 -.5 1 .3 1 -.1 .8 -.1 1.2 .3 1 .3 1 .7 1 -0 1 -.3 1 -.8 1 -.8 1 .9 1 -.1 1 .3 1 -.5 1 -0 1 -.2 1 -.3 1 .4 1 .5 1 -.4 1 -.9 1 -.2 1 .3 1 .3 1 .2 1 .2 1 -0 1 -.2 1 -.4 1 -0 1 .4 1 .1 1 .4 1 -.7 .9 -0 1.1 -.5 1 -.2 1 .6 1 1.2 1 .7 1 -0 1 -.6 1 -0 1 .6 1 1.2 1 .5 1 -0 1 -.2 1 -0 1 -.1 1 -.4 1 .1 1 .3 1 -.4 1 -.3 1 .4 1 1.1 1 .8 1 -.4 1 -.7 1 -.5 1 -.1 1 -.2 1 -0 1 -.7 1 -1 1 -.5 1 -0 1 .3 1 -.4 1 -.3 1 -1.2 1 -.7 1 -1.1 1 .6 1 -.4 1 .3 1 -.6 1 -.6 1 -.4 1 .6 1 .1 1 -.7 1 -1 1 -.4 1 .5 1 -.2 1 -.2 1 -.5 1 -.5 1 .2 1 -.5 1 -0 .8 -.1 1.2 -.1 1 -.2 1 -.3 1 1 1 .8 1 .3 1 -0 1 .1 1 -0 1 -.6 1 .3 1 .1 1 .7 1 -.7 1 .4 1 -.5 1 .9 1 .4 1 .7 1 .2 1 -.3 .9 .2 1.1 .1 1 -0 1 .2 1 .1 1 .5 1 -.1 1 .1 1 .2 1 .2 1 .4 1 -.4 1 .4 1 -.3 1 .9 1 -.6 1 .2 1 -.1 1 .7 1 .2 1 -.2 1 .2 1 .6 1 .1 1 -.4 1 -.4 1 .4 1 -.1 1 -0 1 .4 1 .4 1 .2 1 .4 1 .8 1 .9 1 -.4 1 -.2 1 -.6 1 -.3 1 -.5 1 .2 1 .3 1 1 1 .4 1 -.1 1 -.6 1 -.2 1 1 1 1 1 -.2 1 -.4 1 -0 1 .1 1 -.4 1 -0 1 .1 1 -.1 1 .1 1 .1 1 .2 1 -.3 1 .6 1 .4 1 -.1 1 -.3 1 -.2 1 .1 1 -.7 1 -.1 1 -.5 1 .3 1 -0 1 .4 1 .3 .4 -0 .6 .1 1 .4 1 -.6 1 -.2 1 -.4 1 -.3 1 -1 1 -1.1 1 -.3 .6 -.5 .4 -.4 1 -1.1 1 -1.1 1 -.8 1 -1.4 1 -.6 1 -.5 1 .2 1 -.2 1 -.5 1 -.3 1 -0 1 .4 .5 .1 .5 .3 1 .4 1 .7 1 .1 1 .5 1 .1 1 -.1 1 -1 1 .1 .7 -.6 1.3 1.3 1 .3 1 1.4 1 .1 1 1.2 1 .8 1 1 1 -0 1 -.4 1 .2 1 .2 1 .1 1 -0 1 -0 1 .2 1 .6 1 -.3 1 1.1 1 -0 1 .3 1 -0 1 -0 1 .6 .6 -.4 .4 -.6 1 -1.1 1 .1 1 .3 1 .6 1 .6 1 .2 1 -.3 1 -.6 1 -0 1 .2 1 .1 1 -.2 1 -.1 1 .1 1 .4 1 -.3 1 -0 1 -.3 1 .7 1 -.6 1 -.1 1 .7 1 .8 1 .3 1 -.5 1 -.5 1 .1 1 -.3 1 .4 1 -.3 1 .3 1 .2 1 .3 1 -0 1 -.1 1 -0 1 -.5 1 .3 1 .2 1 .4 1 -0 1 -.2 1 -.1 1 -.5 1 -.1 1 .1 1 .1 1 .8 1 -.2 1 .6 1 -.7 1 .2 1 -.4 1 -0 1 .4 1 -.2 1 .1 1 -0 1 -.1 1 .5 1 .1 1 .5 1 .2 1 -.4 1 .1 1 -.6 1 -.3 1 -.5 1 .8 1 .2 1 .6 1 -1 1 .6 1 -.4 1 .3 1 -1 1 .1 1 .3 1 .9 1 .1 1 -.5 .4 -.1" fill="none" stroke="#2A52E2" stroke-width="1.45" stroke-linejoin="round" stroke-linecap="round" />
<path d="M106.1 794.7l1 -.3 1 .1 1 -.3 1 .4 1 -.4 1 -.3 1 -.4 1 -.3 1 -.1 1 .2 1 .5 1 -0 1 .1 1 -.6 1 .7 1 -.5 1 -.1 1 -.4 1 1.1 1 -0 1 -.5 1 -1 1 .6 1 .9 1 .3 1 -.2 1 -.7 1 .1 1 -.1 1 .3 1 .2 1 .4 1 -0 1 -.2 1 -1 1 -.2 1 .4 1 .3 1 0 1 -.1 1 -.3 1 -0 1 -.1 1 .6 1 -0 1 -.6 1 .2 1 -0 1 .5 1 -.1 1 .3 1 .3 1 -.1 1 -.3 1 -.4 1 .3 1 .2 1 -.5 1 .1 1 -.5 1 -.1 1 .1 1 1.1 1 .6 1 -.6 1 -0 1 -.4 1 .3 1 -.6 1 .6 1 .1 1 -0 1 .2 1 .1 1 .3 1 -.5 1 -.2 1 -.4 1 -0 1 -.1 1 .6 1 .1 1 -.1 1 -.1 1 .4 1 .3 1 -.1 1 -.4 1 .2 1 .1 1 -.2 1 -.4 1 -.6 1 .2 1 .2 1 .5 1 .1 1 -0 1 .5 1 -.2 1 -.6 1 -.6 1 -.1 1 .5 1 .5 1 .4 1 -.5 1 -.8 1 0 1 .1 1 .7 1 -.4 1 .1 1 -.3 1 .8 1 .4 1 .3 1 -.2 1 -.1 .6 -.7 .4 .2 1 -.3 1 1.1 1 -0 1 .5 1 -.7 1 .7 1 -.2 1 .3 1 -1.1 1 -.1 1 -.7 1 .6 1 0 1 .7 1 .1 1 0 1 .2 1 -.6 1 -.1 1 -.5 1 -.2 1 -.1 1 .2 1 0 1 -.1 1 -.4 1 .9 1 -.2 1 .3 1 0 1 -.2 1 -.4 1 -.5 1 .4 1 1.1 1 0 1 -.5 1 -.3 1 0 1 .9 1 .1 1 -.2 1 -.6 1 -.1 1 .1 1 .4 1 0 1 -.2 1 0 1 .2 1 0 1 -.5 1 0 1 .5 1 .8 1 .4 1 -.2 1 -.7 1 -.5 1 -.1 1 .4 1 .2 1 .3 1 0 1 -.2 1 .1 1 -.6 1 .6 1 -.3 1 .2 1 -.8 1 .2 1 0 1 -.4 1 .6 1 .2 1 .6 1 -.5 1 .2 1 .4 1 .1 1 -.1 1 -1.1 1 .2 1 -.4 1 .6 1 -.6 1 .1 1 -.3 1 .4 1 -.2 1 .8 1 -.7 1 .4 1 -.4 1 .2 1 .3 1 .5 1 0 1 -.5 1 .1 1 .4 1 -.1 1 -.8 1 -.3 1 .4 1 .6 .9 .1 1.1 -.6 1 -.7 1 -.6 1 .2 1 -.1 1 .6 1 .3 1 0 1 -.9 1 -1.3 1 -1.3 1 -1 1 .3 1 .1 1 -.1 1 -.8 1 -1 1 .2 1 -.3 1 .3 1 -.3 1 .1 1 -.1 1 .4 1 -1 1 0 1 .2 1 .2 1 -.1 1 -.6 1 .2 1 .5 1 .4 1 .4 1 0 1 -.4 1 -0 1 .3 1 -.1 1 -.1 1 -.6 1 .3 1 .3 1 .2 1 -.3 1 -.2 1 .4 1 .2 1 .6 .6 -.5 .4 0 1 -.1 1 -.2 1 .5 1 -1.1 1 .1 1 -.7 1 .5 1 0 .8 -.5 1.2 .9 1 -.2 1 1.7 1 -.2 1 .4 1 -1 1 .6 1 .4 1 1.3 1 -.8 1 -.5 1 -.2 1 1 1 1.1 1 .8 1 -.3 1 -.6 1 0 1 0 1 .5 1 .4 1 .3 1 .2 1 -.6 1 .2 1 0 1 .1 1 .1 1 .4 1 .1 1 -.3 1 0 .9 -.3 1.1 .2 1 -1 1 -.2 1 -.5 1 -.6 1 -1.2 1 -.3 1 -.5 1 -.5 1 -.1 .9 -.3 1.1 -.1 1 -1.4 1 -.6 1 -1.1 1 -.4 1 -.3 1 -.3 1 -.6 1 .3 1 .3 1 0 1 -.9 1 -.4 1 .1 1 .5 1 .2 1 .1 1 -.6 1 -.2 1 -.3 1 .7 1 .1 1 .4 1 -.4 1 1 1 .6 1 .8 1 .2 1 .3 1 .2 1 0 1 -.3 1 .5 1 .6 1 -.1 1 -.4 1 -0 1 .1 1 .2 1 .2 1 .3 1 .5 1 -.2 1 .2 1 -.2 1 -.3 1 .5 1 .2 1 1.7 1 .9 1 1.3 1 .5 1 .7 1 -.7 1 -.3 1 -.3 1 .5 1 .1 1 .1 1 .3 1 -.3 1 .1 1 -.4 1 .6 1 -.3 1 -.2 1 .5 1 .1 1 .7 1 -.2 1 -.3 .6 .2 .4 -0 1 -.6 1 -.5 1 .2 1 .5 1 .7 1 -.2 1 .7 1 -.7 1 .2 1 -.1 1 .8 1 .1 1 -0 1 .1 1 .1 1 -.3 1 .3 1 -.3 1 -.3 1 -.5 1 -.8 1 .2 1 -.8 1 -0 1 -1 .4 -0 .6 -1.5 1 -5.6 1 -7.5 1 -7.2 1 -7 1 -7.9 1 -5.4 .4 -1.2 .6 -.7 1 -.6 .6 -.6 .4 -.8 1 -2 1 -1.4 1 4.1 1 5.7 1 6.7 1 7.4 1 7.2 .9 3.9 1.1 2.8 1 1.6 1 2.2 1 1.3 1 1.5 1 .3 1 -.1 1 -.7 1 -.7 .9 -1.1 1.1 -1.5 1 -1.3 1 -1.1 1 .1 .6 .5 .4 1.3 1 .4 1 .9 1 .2 1 1.1 1 .1 1 -.3 1 -.4 1 -.9 .8 .9 1.2 -.1 1 .7 1 .9 1 2 1 1.8 1 .2 1 .3 1 -0 1 1.2 1 .5 1 .3 1 -.5 1 -.4 1 .2 1 .3 .4 .7 .6 .6 1 -.1 1 .3 1 -1 1 .2 1 -.1 1 .5 1 .2 1 .1 1 -0 1 -0 1 .2 1 -.2 1 .3 1 -.3 1 -.1 1 -.2 1 .3 1 .5 1 -0 1 -0 1 .1 1 -0 1 .1 1 .3 1 -0 1 -.9 1 -.6 1 -.1 1 1 1 .6 1 .8 1 -.2 1 -0 1 -.7 1 .3 1 -.6 1 .3 1 -.5 1 .3 1 .2 1 .3 1 .4 1 -.4 1 -.7 1 -.6 1 -.7 1 .1 1 .5 1 1.3 1 .1 1 .3 1 .2 1 .8 1 .1 1 -.6 1 -.5 1 -.4 1 .3 1 .3 1 -0 1 -0 1 -.4 1 .2 1 -.9 1 .7 1 .2 1 1.5 1 -.8 1 -.6 1 -1.1 1 -.2 1 -.6 1 .6 1 .4 1 .8 1 -.9 1 .1 1 .8 1 .6 1 .2 1 -1 1 .3 1 -.3 1 .4 1 -.2 1 -.1 1 .2 1 -.1 1 -.1 1 -.6 .4 -0" fill="none" stroke="#262626" stroke-width="1.45" stroke-linejoin="round" stroke-linecap="round" />
<path d="M727.6 512.9l1 .4 1 .3 1 -.3 1 -.5 1 0 1 .6 1 .2 1 -.2 1 -.1 1 .1 1 -.4 1 -.5 1 .1 1 .7 1 .2 1 -.3 1 -.5 1 -.4 1 -.2 1 .4 1 .9 1 -0 1 .1 1 -.1 1 -.2 1 -.2 1 -.5 1 .3 1 .1 1 .2 1 -.5 1 -.5 1 -.2 1 -.2 1 .9 1 -.2 1 .3 1 -.3 1 .3 1 .3 1 -.2 1 -.5 1 -.3 1 -.2 1 -.2 1 0 1 .5 1 .2 1 -.2 1 -.6 1 .6 1 -.5 1 .4 1 -.2 1 .6 .6 -.5 .4 -.1 1 .6 1 .4 1 -.1 1 -.4 1 -.5 1 .5 1 -.3 1 1.2 1 .3 1 .3 1 -.7 1 -.9 1 0 1 0 1 -.3 1 -.7 1 -.1 1 .3 1 .5 1 -.2 1 .2 1 -.1 1 .1 1 .4 1 .6 1 -.4 1 -.4 1 -.6 1 -.4 1 -.5 1 -.1 1 .6 1 .7 1 -.2 1 0 1 -.4 1 .1 1 0 1 -.5 1 -.7 1 .2 1 .5 1 1 1 -.7 1 -.3 1 -.7 1 -.7 1 .2 1 -.2 1 .2 1 -.4 1 -.1 1 -.5 1 -.1 1 -.5 1 -.6 1 -1.1 1 -.3 1 -.2 .6 -.5 .4 -.5 1 -1 1 -.5 1 -1 1 .1 1 -.3 1 -1 1 -.8 1 -.3 1 .1 1 -1.1 .7 -1 1.3 -.9 1 -1.2 1 -1.1 1 -2.1 1 -.6 1 -1.6 1 -.6 1 -.9 1 .3 .5 -.1 .5 -.3 1 .7 1 .9 1 .8 1 0 .7 .6 1.3 .1 1 -.2 1 -.9 1 -1 1 -.5 1 .4 1 .8 1 1 .4 .2 .6 1.9 1 2.2 1 2.5 1 2.1 1 2.7 1 2.1 .7 .5 1.3 .2 1 .9 1 .5 1 1.7 1 .6 1 1.4 1 0 1 .2 1 .1 1 .6 1 .2 1 -.6 1 -.5 1 -.7 1 .1 1 .3 1 .1 1 -.2 1 -.1 1 -.4 1 -.8 1 -.5 1 -1 1 -.5 1 -.9 1 -.3 1 -.3 1 -.7 1 -1.1 1 -1.2 1 -.9 1 -.7 .9 -.7 1.1 -1.8 1 -1.4 1 -1.7 1 -1.7 1 -1.2 1 -.8 1 -1 1 -.9 1 -1.1 1 -.1 .6 -.4 .4 .2 1 1.1 1 2.3 1 2.4 1 .9 .7 0 1.3 -2.4 1 -1.9 1 -2.3 1 -1 .4 .6 .6 .4 1 3.7 1 3.7 .6 2.3 .4 1.4 1 2.3 1 2.8 1 2.4 1 3.1 1 1.8 .9 .3 1.1 -.8 1 -.7 1 -.2 1 .5 1 .6 1 .8 1 0 1 .2 1 -.9 .4 0 .6 -.5 1 .2 1 .2 1 0 1 -.1 1 -.6 1 -.7 1 -.8 1 .3 1 -.1 1 0 1 -1.3 1 -.9 1 -.8 1 -1 1 -.3 1 -.5 1 .1 1 -.1 1 -.8 1 -.5 1 -1.1 1 .9 1 -.3 1 .5 1 -.9 1 .4 1 -.5 1 -.1 .6 -1.2 .4 .6 1 2.7 1 3.8 .8 .8 1.2 .1 1 -.1 1 0 1 .6 1 .7 1 .5 1 -.4 1 -.6 1 .2 1 -.4 1 -.3 1 -.1 1 -.2 1 -.5 1 -1.2 1 -.5 1 -1.1 1 -.2 1 -.1 1 .1 .7 -.5 1.3 -2.9 1 -3.4 1 -4.1 1 -3.9 1 -1.5 .6 .2 .4 0 1 .9 1 1.4 1 2.9 1 .7 .7 .3 1.3 -1 1 -1.3 1 -1.3 1 .6 1 2.2 1 3.9 1 3 1 3.2 1 2.7 .9 1.2 1.1 -.1 1 -.4 1 -.6 1 .5 1 -.5 1 .5 1 .2 1 1.6 1 1.3 1 .5 .9 .9 1.1 .4 1 -.4 1 -.8 1 -.8 1 1.2 1 .2 1 0 1 -.5 1 -.3 1 .6 1 .4 1 0 1 .1 1 -.1 1 .2 1 0 1 -.3 1 .5 1 -.3 1 .1 1 .2 1 .4 1 0 1 -1.6 1 -.2 1 -.1 1 1.1 1 -.2 1 .1 1 -.3 1 .4 1 .5 1 .5 1 -.9 1 -.7 1 -.4 1 -.4 1 .4 1 -.5 1 .9 1 -.6 1 .4 1 -.9 1 -.8 1 -.4 1 0 1 .3 1 0 1 .5 1 .6 1 -.2 1 -.7 1 -.4 1 -.1 1 0 1 -.2 1 .6 1 .4 1 -.6 1 .2 1 -.6 1 .7 1 -1 1 .7 1 0 .9 .7 1.1 -.3 1 -.3 1 0 1 -.8 1 -.5 1 -.9 1 .5 1 .2 1 .1 1 .3 1 .2 1 .1 1 -.8 1 .5 1 .2 1 .2 1 -.7 1 -.1 1 -.1 1 .2 1 -.2 1 0 1 .1 1 -.3 1 .6 1 -.4 1 0 1 -.1 1 -.3 1 .2 1 0 1 0 1 -.5 1 -.2 1 .4 1 -.6 1 -.1 1 0 1 .4 1 .2 1 -.6 1 0 1 -.5 1 .3 1 0 1 -.1 1 -.2 1 .3 1 -.5 1 .3 .7 .2 1.3 .3 1 -.4 1 -.4 1 .4 1 .6 1 -.1 1 -.2 1 -.8 1 0 1 -.1 1 0 1 -.3 1 .7 1 .4 1 -.2 1 -.4 1 -1.1 1 .4 1 0 1 1 1 .2 1 -.2 1 -.3 1 -.3 1 -.1 1 -.3 1 .1 1 -.3 1 .7 1 .8 1 1 1 .6 1 -.9 1 -.8 1 -.7 1 -.2 1 .4 1 -.4 1 .4 1 -.4 1 .7 1 .3 1 .4 1 -1 1 0 1 -.4 1 -.1 1 -.3 1 .5 1 -.1 .5 .2 .5 -.5 1 .4 1 -.1 1 0 1 -.2 1 .1 1 -.7 1 .5 1 -.8 1 1.2 1 -.8 1 .9 1 -1 1 .9 1 -.4 1 .5 1 -.8 1 .3 1 0 1 .2 1 -.3 1 -.3 1 .3 1 -.2 1 .5 1 -.5 1 0 1 .4 1 0 1 -.1 1 -.6 1 -.3 1 -.3 1 .3 1 -.3 1 .8 1 -.4 1 .5 1 -.4 1 -.2 1 .5 1 -.2 1 -.3 1 -.6 1 .5 1 -.2 1 -.3 1 -.2 1 .6 1 .4 1 -.5 1 -.3 1 -.5 1 .3 1 -.1 1 .2 1 -.2 1 .1 1 -.1 1 -.2 1 .2 1 0 1 .1 1 -.6 1 .3 1 .1 1 .1 1 -.8 1 -.2" fill="none" stroke="#FF6A1A" stroke-width="1.45" stroke-linejoin="round" stroke-linecap="round" />
<path d="M727.6 571.2l1 -.5 1 -.6 1 -.1 1 -.4 1 .3 1 .2 1 0 1 -.3 1 -.7 1 .3 1 -.1 1 -.5 1 -1.1 1 -.1 1 .7 1 .7 1 -.4 1 -.5 1 -1 1 .7 1 -.6 1 .9 1 -.6 1 .9 1 -.6 1 -.2 1 0 1 0 1 .4 1 -.7 1 .5 .9 .1 1.1 .5 1 .2 1 -.4 1 0 1 -.1 1 1.1 1 .3 1 .4 1 .2 1 .6 1 .6 1 -.5 1 .6 1 0 1 .8 1 .1 1 -.5 1 .4 1 -.3 1 1.1 .4 -.5 .6 .2 1 -.9 1 -.3 1 .3 1 .2 1 .5 1 -.4 1 -.1 1 -.2 1 -0 1 .6 1 -.1 1 -.2 1 .3 1 .6 1 .2 1 -.8 1 -.4 1 -.2 1 .8 1 -.1 1 -.1 1 -.6 1 -.4 1 .2 1 -.3 1 .3 1 .3 1 .6 1 -.4 1 -.2 1 -.3 1 -.2 1 -.2 1 .4 1 .5 1 -.1 1 -.6 1 -.1 1 .2 1 .3 1 .4 1 .1 1 .2 1 -.5 1 -.2 1 -.3 1 .2 1 -.1 1 .8 1 -.6 1 0 1 -1 1 .5 1 -.1 1 .7 1 -.3 1 -.3 1 -.5 1 .1 1 -.5 1 .4 1 -.4 1 1.2 1 -.3 1 .7 1 -.5 1 -.8 1 -.8 1 .3 1 -0 1 .3 1 -.6 1 -.1 1 .1 1 -.3 1 -0 1 -.5 1 .2 1 -.1 1 -.4 1 -.3 .6 -.1 .4 .9 1 .3 1 -.1 1 -.9 1 -.6 1 .4 1 -.5 1 -.5 1 .4 1 -.6 1 -.2 1 -2.2 1 0 1 -.5 1 -.5 1 -.3 .4 .5 .6 0 1 -1.5 1 -1.5 1 -1.6 1 -.9 1 -1.5 1 -1.7 1 -1.2 1 -1.4 1 -.7 1 -1.5 1 -.3 1 -.4 1 .6 1 -.1 1 .5 1 .5 1 .7 1 1.2 1 1.6 .9 1.5 1.1 .2 1 -.4 1 .4 1 .8 1 .6 1 -.3 1 .1 1 -.1 1 .9 1 1.9 1 2.5 1 1.1 1 .5 1 .4 1 .3 .7 -.4 1.3 -.5 1 .3 1 .7 1 .3 1 -.1 1 -.6 1 .3 1 .4 1 .1 1 -.6 1 -.5 1 -.1 .4 .5 .6 0 1 -1.4 1 -1.8 1 -2.2 1 -1.4 1 -3 1 -4.2 1 -3.7 1 -1.5 1 1.1 1 1.7 1 1.6 1 1 1 -1.4 1 -2.7 1 -3.1 1 -2.9 1 -1.3 .6 -.5 .4 .3 1 3.1 1 4.6 .7 3 1.3 4.2 1 3.2 1 2.5 1 1.5 1 1.7 1 .9 1 1.3 1 -.2 1 .2 1 -.1 1 1.3 1 .4 1 1.3 1 -.2 1 0 1 -.2 1 .5 1 .1 1 -.5 1 -.6 1 -.3 1 -.2 1 -.7 1 .3 1 -.1 1 .8 1 .3 1 .8 1 0 1 -.1 1 .1 1 -.4 1 -.6 1 -.9 1 .1 1 1 1 .8 1 -.2 1 .2 1 -.2 1 .6 .4 -.7 .6 -.2 1 -.8 1 .5 1 .1 1 1.2 1 .5 1 .1 1 .2 1 .2 1 .3 1 .5 1 -.6 1 -.4 1 -.7 1 .8 1 .5 1 -.8 1 -1 1 -.1 1 0 1 -.2 1 -1.2 1 .5 1 .1 1 -.6 1 -1.8 1 -.9 .5 .3 .5 .3 1 -1.1 1 -1.5 1 -1.3 1 -1.4 1 -1.3 1 -2 1 -2.9 1 -4.1 1 -3.9 1 -2.1 .5 -.4 .5 .2 1 2.5 1 3.4 1 2.6 .4 .9 .6 .3 1 -1.6 1 -2.4 1 -1.8 .4 -.3 .6 .5 1 1.4 1 3.2 1 2.7 1 2.7 1 1.8 1 2.1 1 2.1 1 1.4 1 .6 1 .9 1 .7 1 .1 1 .7 1 -1 1 .8 1 -.8 1 .7 1 -.2 1 .3 1 .4 1 0 1 .1 1 .1 1 .1 1 -.7 1 -.5 1 -.1 1 .4 1 .5 1 .2 1 .1 1 -.4 1 -.5 1 .1 1 .8 1 -.1 1 .9 1 -.7 1 .5 1 -.8 1 -.4 1 .3 1 0 1 .2 1 -.2 1 .6 1 .1 1 0 1 -.1 1 -.2 1 .3 1 .4 1 .3 1 -.8 1 -.5 1 -.1 1 1 1 -.2 1 .2 1 -.8 1 .3 1 0 1 .5 1 -.3 1 0 1 -.1 1 -.2 1 -.7 1 -.3 1 -.1 1 .9 .9 .5 1.1 -.3 1 -.9 1 -1 1 0 1 -.2 1 .1 .7 -.4 1.3 -.2 1 .4 1 -.2 1 .6 1 -.5 1 .7 1 -.5 1 -.2 1 -.1 1 -.1 1 -.1 1 -.4 1 .2 1 0 1 -.1 1 .1 1 .1 1 -.4 1 -.2 1 .4 1 .5 1 .6 1 -1.1 1 0 1 -1.2 1 .7 1 -.3 1 .6 1 -.1 1 -.1 1 -.2 1 -.3 1 .6 1 .7 1 -.2 1 -.6 1 -.4 1 -.2 1 -.1 1 .1 1 .2 1 1 1 -.5 .7 .7 1.3 -.1 1 .1 1 -.4 1 -1.3 1 .2 1 -.1 1 .6 1 .4 1 -.8 1 .5 1 -.5 1 .9 1 -.8 1 .2 1 -.2 1 .5 1 .1 1 -.1 1 -1 1 -.2 1 .3 1 .9 1 -.3 1 -.4 1 .1 1 .4 1 .2 1 .4 1 -.3 1 .4 1 -.5 1 .1 1 .1 1 .3 1 .4 1 .1 1 -.3 1 -.1 1 -.2 1 .1 1 0 1 -.1 1 -.1 1 -.1 1 -.4 1 .2 1 .2 1 -.4 1 0 1 -.6 .5 .4 .5 -.1 1 -.1 1 .3 1 -.4 1 -.2 1 .5 1 -.1 1 -.1 1 -.7 1 .8 1 -.2 1 .4 1 -.9 1 .5 1 -.5 1 .5 1 -.4 1 .6 1 -.6 1 -.3 1 -.7 1 .4 1 .6 1 .1 1 -.4 1 .2 1 -.1 1 -.4 1 -.7 1 -.6 1 .1 1 .1 1 0 1 0 1 .1 1 .4 1 .4 1 -1.4 1 -.6 1 -.8 1 .8 1 -.1 1 -.2 1 .3 1 .7 1 -.1 1 -.1 1 -1.3 1 .5 1 .2 1 1 1 -.6 1 -.9 1 -.5 1 .6 1 .3 1 .1 1 -.4 1 -.6 1 -.9 1 -.4 1 .1 1 .7 1 .1 1 1.2 1 -.3 1 -.4 1 -.7 1 .1" fill="none" stroke="#2FAE55" stroke-width="1.45" stroke-linejoin="round" stroke-linecap="round" />
<path d="M727.7 645.4l1 .6 1 .2 1 -.3 1 -1 1 .1 1 -.1 1 .6 1 -.1 1 -0 1 -.4 1 -.5 1 -.3 1 .6 1 .1 1 .3 1 -.4 1 -0 1 -.4 1 .2 1 -.3 1 .5 1 -.1 1 .4 1 .3 1 .2 1 -.1 1 -0 1 -.3 1 -.1 1 -.1 1 -.3 1 -.2 1 .6 1 .5 1 .2 1 -.4 1 -.1 1 -.2 1 -.3 1 .4 1 .6 1 -0 1 -.4 1 -.3 1 -.2 1 .1 1 .2 1 .6 1 .8 1 -.4 1 -.4 1 -.4 1 .2 1 .3 1 -.2 1 -.6 1 -.6 1 -.5 1 .5 1 .7 1 .6 1 -.2 1 -.9 1 -.2 1 -.1 1 .4 1 -0 1 .9 1 .1 1 -.2 1 -1.2 1 .4 1 -0 1 -.2 1 -.4 1 .4 1 .1 1 .2 1 -.6 1 .7 1 -.3 1 .5 1 -.7 1 .2 1 .1 1 .1 1 .1 1 .3 1 1 1 .3 1 -.4 1 -.7 1 -.6 1 -.4 1 -.4 1 .5 1 .3 1 .3 1 .5 1 .1 1 .3 1 -.5 1 -0 1 -.1 1 -.6 1 -0 1 .2 1 .9 1 -.1 1 .1 1 -.2 1 -.1 1 -.9 1 -.1 1 -.1 1 .8 1 .1 1 -.3 1 -.5 1 0 1 .9 1 -.7 1 .1 1 -.8 1 .7 1 -.5 1 .7 1 .2 1 .8 1 .1 1 -.3 1 -1.2 1 -.5 1 .1 1 .7 1 -.2 1 -0 1 .2 1 .3 1 -0 1 -.1 1 -.4 1 .2 1 .2 1 .1 1 -.4 1 -.3 1 .1 1 .9 1 -.1 1 -0 1 -.9 1 -.7 1 -.1 1 .4 1 .4 1 .4 1 .3 1 .5 1 -.4 1 -.5 1 -0 1 -0 1 .1 1 -.4 1 .6 1 -.4 1 .5 1 -.1 1 1 1 -.2 1 .5 1 -.3 1 -.4 1 -1.1 1 -.3 1 .4 1 .6 1 .3 1 .1 1 -.8 1 -.4 1 -.4 1 .9 1 -.3 1 .3 1 -.2 1 .5 1 -.6 1 -.2 1 -.9 1 -.2 1 -.2 1 .1 1 .2 1 .1 1 -0 1 -.3 1 -.8 1 -.8 1 -1 1 -1.2 1 -1.2 .9 -1.4 1.1 -3.8 1 -5.5 1 -4.6 .5 -1.1 .5 -.4 1 -1.8 1 -1.7 1 -1.2 .6 .1 .4 .7 1 1.4 1 2.6 1 2.8 1 2.6 .7 .1 1.3 -2.5 1 -4 1 -4.3 1 -4.4 1 -2.9 1 .9 1 3.8 1 2.2 1 -1.2 1 -3.1 1 -1.5 1 1.2 1 4 1 4.9 1 4.3 1 3.1 1 -.5 1 -1.7 1 -2.7 1 -.9 1 .9 1 2.4 1 3.1 .6 1.6 .4 1.2 1 1.5 1 1.4 1 1.6 1 1.7 1 1.1 1 .7 1 .4 1 1.3 1 .7 1 .8 1 .4 1 .4 1 .2 1 -.2 1 .2 1 .3 1 .7 1 .3 1 -.2 1 .1 1 -0 1 -.1 1 -.8 1 .6 1 .5 1 .1 1 -.6 1 -.9 1 .4 1 -.8 1 -0 1 -.6 1 .4 1 .2 1 .1 1 -1.1 1 -.3 1 -.4 1 1.1 1 -.3 1 -.3 1 -.6 1 -.3 .4 .8 .6 -.2 1 .9 1 -.1 1 1.3 1 .3 .9 .9 1.1 -.8 1 -.1 1 -1.5 1 -1.3 1 -2.4 1 -1.5 1 -2.8 1 -3.4 1 -5.1 1 -5.4 1 -4.7 1 -2.9 .4 -.1 .6 .4 1 3.9 1 4.9 1 3.9 .4 .6 .6 .1 1 -.5 1 -2.2 1 -2.2 1 -.9 .6 .2 .4 .7 1 1 1 3 1 4.2 1 3.3 1 2.6 .5 .7 .5 .9 1 1.7 1 .7 1 .9 1 .6 1 .7 1 1 1 .6 1 -.3 .7 -0 1.3 .1 1 .7 1 .3 1 .9 1 -.2 1 -.1 1 -.6 1 .1 1 .6 1 -.2 1 .7 1 -.4 1 -0 1 -.2 1 .3 1 .5 1 -0 1 .3 1 -.6 1 .1 1 -.2 1 .6 1 -.5 1 .2 1 .2 1 .4 1 -0 1 -.1 1 -.2 1 .1 1 -.1 1 -0 1 -0 1 .4 1 .6 1 .2 1 -.2 1 -.8 1 -.2 1 -.3 1 -.1 1 -.7 1 .7 1 .7 1 .2 .7 -.3 1.3 -.2 1 .8 1 .4 1 -.4 1 -.4 1 -1 1 .2 1 -.1 1 .4 1 -.4 1 -.2 1 .7 1 .2 1 -0 1 -.4 1 .4 1 -.2 1 .1 1 .2 1 .1 1 -.4 1 -.6 1 .1 1 -.1 1 .3 1 -.7 1 .1 1 -.4 1 .9 1 -0 1 -.1 1 -.5 1 -.6 1 -.3 1 -.1 1 .3 1 .2 1 -.4 1 -.3 1 -.4 1 .4 1 .2 1 .5 1 .3 1 -.5 1 -1.1 1 -.4 1 .2 1 .9 1 .2 1 -0 1 -.2 1 -0 1 -.1 .8 -.7 1.2 -.2 1 .3 1 .5 1 .3 1 -.1 1 -.1 1 -.3 1 .6 1 -.1 1 .2 1 -1 1 .6 1 -.4 1 .2 1 -0 1 1 1 -.5 1 -.2 1 -1.1 1 .9 1 .1 1 -0 1 -.1 1 .2 1 .2 1 -0 1 -.1 1 .3 1 -.5 1 -0 1 -0 1 .1 1 .9 1 .2 1 .4 1 -1.3 1 -.5 1 -.1 1 .3 1 -.3 1 -.4 1 .3 1 -0 1 .9 1 -.4 1 -0 1 -.9 1 .5 1 .6 1 -.1 1 -.1 1 .1 1 .1 1 -.7 1 -.6 1 .2 1 .5 1 .9 1 .5 1 .2 1 -.9 1 -.7 1 -.1 1 .3 1 .3 1 -.3 1 .1 1 .3 1 .3 1 -.5 1 -.4 1 -.5 1 -.1 1 .5 1 .3 1 1.3 1 -.1 1 .2 1 -.9 1 -.4 1 -0 1 .1 1 .7 1 .1 1 .4 1 -.4 1 -.6 1 .1 1 -.2 1 .3 1 -.1 1 .1 1 -.1 1 -.7 1 .5 1 .7 1 .1 1 .1 1 .1 1 .8 1 -0 1 -.8 1 -1 1 -.5 1 .4 1 .9 1 .6 1 -.1 1 -.3 1 -.5 1 -.5 1 -.3 1 .4 1 .9 1 .2 1 -.3 1 .5 1 .2 1 -.1 1 -1.2 1 -.3 1 .3 .7 .4" fill="none" stroke="#FF3030" stroke-width="1.45" stroke-linejoin="round" stroke-linecap="round" />
<path d="M727.7 703.7l1 -.1 1 1.1 1 -.3 1 .5 1 -1.2 1 .3 1 0 1 .3 1 -.7 1 .2 1 .2 1 .2 1 -.6 1 0 1 0 1 .3 1 -.6 1 .3 1 .1 1 .2 1 0 1 -.1 1 .6 1 .4 1 -.1 1 -.3 1 -.6 1 -.2 1 -.2 1 -.1 1 .4 1 .1 1 -.1 1 -.6 1 .1 1 .4 1 .1 1 -.3 1 -.1 1 .5 1 0 1 -.2 1 -.9 1 1.1 1 -.2 1 .2 1 -.7 1 .3 1 .6 1 -.4 1 .2 1 -.2 1 .5 1 .5 1 0 1 -.5 1 -.4 1 -.2 1 .5 1 0 1 .3 1 -.8 1 -.6 1 -.3 1 .5 1 -.1 1 0 1 .1 1 .4 1 .5 1 0 1 .7 1 -.5 1 .1 1 -1.4 1 -.1 1 .2 1 .8 1 .1 1 -.8 1 .7 1 .6 1 .4 1 -.4 1 -.5 1 -.4 1 0 1 -.2 1 .2 1 .3 1 .1 1 0 1 -.2 1 0 1 .4 1 -.2 1 .1 1 0 1 -.3 1 .6 1 0 1 -.5 1 -.3 1 -.6 1 .9 1 .2 1 .4 1 -.2 1 -.1 1 .3 1 .2 1 -.4 1 -.2 1 -.8 1 -.1 1 0 1 .8 1 .3 1 -.4 1 -.5 1 -.9 1 .4 1 .7 1 .8 1 -.2 1 -.5 1 -.1 1 -.1 1 -.4 1 0 1 .7 1 .1 1 -.2 1 -.7 1 .2 1 -.2 1 1.1 1 0 1 -.6 1 -.2 1 .1 1 1 1 -.4 1 -.3 1 -.3 1 -.3 1 .1 1 .5 1 .8 1 .2 1 .2 1 -.4 1 -.3 1 -.6 1 -.6 1 .8 1 -.2 1 .5 1 -.8 1 1.3 1 -.6 1 -.1 1 -1 1 0 1 .7 1 .5 1 .6 1 .5 1 -.6 1 -.3 1 -.8 1 .1 1 .1 1 .8 1 -.1 1 .6 1 -.6 1 .2 1 -1.1 1 .2 1 .2 1 .3 1 -.5 1 -.1 1 0 1 .2 1 -.5 1 .2 1 .2 1 .9 1 -.5 1 -.3 1 -.2 1 .8 .7 .3 1.3 .1 1 -.8 1 -.6 1 -1 1 -.7 1 -1.4 1 -.5 1 -.7 1 -.5 1 -.1 .7 -.3 1.3 .4 1 -.5 1 -.1 1 -.3 1 0 1 -.3 1 -.6 1 0 .9 .4 1.1 .3 1 .2 1 -.3 1 .6 1 .1 1 .9 1 .5 1 .2 1 -.1 1 .1 1 .7 1 .8 1 .4 1 -.1 .6 .3 .4 -.1 1 .1 1 -.4 1 -.4 1 -0 1 -.3 1 .3 1 -1 1 -.1 1 -.5 1 .2 1 -.4 1 .3 .5 -.2 .5 0 1 -.2 1 .3 1 .1 1 -.1 1 .3 1 .6 1 .3 1 -.3 1 .3 1 .1 .5 .5 .5 -.6 1 .6 1 .1 1 .4 1 -.1 1 -.1 1 .7 1 .3 1 .6 1 -1.1 1 -.2 1 -.2 1 .8 1 0 1 .4 1 -.4 1 .1 1 .1 1 .2 1 -.1 1 -.1 1 -.5 1 .5 1 -.3 1 1.1 1 -.1 1 .7 1 -.7 1 -.3 1 -.6 1 -.7 1 -.4 1 -.4 1 .8 1 .6 1 -.5 .9 -1.3 1.1 -.5 1 -.4 1 -.1 1 -.8 1 -.4 1 -.4 1 -.3 1 .3 1 -.2 1 0 1 -.2 1 .5 1 .1 1 -.2 1 0 1 -.2 1 .4 1 .7 1 .9 1 -.7 1 -.1 1 .3 1 1.1 1 .3 1 .3 1 .3 1 0 1 -.3 1 .7 1 -.4 1 .7 1 -.2 1 .9 1 -.1 1 .3 1 -.2 .7 -.2 1.3 .7 1 .2 1 .7 1 -.2 1 .2 1 -.3 1 -.2 1 .3 1 -.1 1 -.1 1 -.1 1 .1 1 .3 1 -.4 1 0 1 .2 1 .5 1 -.3 1 -.3 1 -.6 1 .6 1 -.3 1 -.2 1 -.6 1 0 1 1.3 1 .2 1 .6 1 -1 1 .4 1 .1 1 .6 1 .3 1 -.1 1 -.3 1 -.3 1 -.3 1 0 1 .5 1 -.4 1 -.2 1 -.8 1 .6 1 .3 1 .3 .7 -.6 1.3 .5 1 0 1 .3 1 0 1 -.4 1 .4 1 -.2 1 -.1 1 -.6 1 -.1 1 0 1 -.3 1 .3 1 1.1 1 .7 1 -.3 1 -.9 1 -.8 1 0 1 -.3 1 .3 1 -.3 1 .4 1 .1 1 -.8 1 -.6 1 .1 1 1 1 .4 1 -.1 1 -.8 1 -.3 1 -.4 1 .6 1 0 1 -.3 1 0 1 -.1 1 .3 1 -.9 1 0 1 -.1 1 .9 1 -.1 1 -.7 1 -.9 1 .3 1 .8 1 .3 1 -.7 1 0 1 -.1 1 .2 1 -.8 .8 -.7 1.2 .1 1 1 1 .7 1 -.5 1 -.1 1 -.3 1 -.3 1 -.5 1 .4 1 .3 1 .2 1 -.1 1 .3 1 .4 1 .1 1 .1 1 0 1 -.2 1 .1 1 -.6 1 .1 1 -.3 1 .5 1 .3 1 -.2 1 -.7 1 -.6 1 -.1 1 .1 1 .3 1 .1 1 .7 1 .5 1 .9 1 -.4 1 -.2 1 -.7 1 .2 1 -.1 1 .1 1 -.3 1 .4 1 .6 1 -.1 1 -1.3 1 -1.4 1 0 1 .5 1 .9 1 .2 1 .1 1 -.2 1 -.3 1 .3 1 1 1 .2 1 -.5 1 -.4 1 .1 1 -.1 1 -.2 1 .3 1 -.3 1 .2 1 -.8 1 .3 1 0 1 .3 1 -.1 1 -.7 1 -.2 1 -.3 1 .6 1 .2 1 -.1 1 0 1 .1 1 1 1 0 1 0 1 -.7 1 -.2 1 -.3 1 .2 1 0 1 -.1 1 -.3 1 .6 1 -.2 1 -.2 1 -.4 1 .5 1 .7 1 .5 1 -.4 1 -.3 1 -.1 1 .6 1 -.6 1 -.8 1 -.3 1 .5 1 -.2 1 .2 1 -.5 1 .5 1 0 1 .3 1 .1 1 -.3 1 -.1 1 .1 1 -.3 1 -.2 1 -.9 1 .7 1 -.1 1 .7 1 -.5 1 .3 1 -.4 1 -.2 .7 -.2" fill="none" stroke="#2A52E2" stroke-width="1.45" stroke-linejoin="round" stroke-linecap="round" />
<path d="M727.7 791.7l1 -.2 1 -.4 1 -.4 1 .4 1 .4 1 .5 1 .3 1 .2 1 -.1 1 -.2 1 -.5 1 .1 1 -.4 1 .1 1 -.4 1 0 1 -.4 1 .9 1 -.1 1 .4 1 -1 1 0 1 .2 1 -.2 1 .3 1 -.2 1 1.3 1 .1 1 .4 1 -.5 1 .1 1 -.6 1 .4 1 0 1 -.1 1 -.4 1 -.2 1 .9 1 -.2 1 .1 1 -.3 1 0 1 .5 1 0 1 -.1 1 -.4 1 -.2 1 .7 1 -.4 1 -.5 1 .2 1 .3 1 1 1 -.7 1 -.1 1 -.2 1 .1 1 -.1 1 -.7 1 .1 1 .6 1 .9 1 -.5 1 .1 1 -.8 1 .3 1 -.4 1 .4 1 -.1 1 -.1 1 .1 1 .3 1 .3 1 .3 1 0 1 -.4 1 -.1 1 0 1 0 1 -1 1 .1 1 .4 1 1.1 1 -.3 1 -.3 1 -.8 1 .4 1 .1 1 .3 1 .1 1 .2 1 .6 1 -.4 1 -.3 1 0 1 .3 1 -.1 1 -.4 1 .3 1 .1 1 -.5 1 0 1 .9 1 .8 1 .2 1 -.7 1 -.2 1 -.7 1 0 1 .1 1 .6 1 -.1 1 .3 1 -.9 1 0 1 0 1 .8 1 .3 1 -.2 1 .1 1 -1 1 .3 1 0 1 .4 1 -.9 1 -.5 1 .2 1 1.2 1 0 1 .1 1 -.3 1 .6 1 -.4 1 0 1 -.5 1 -.4 1 -.2 1 .1 1 -.1 1 .5 1 .5 1 .9 1 -.7 1 -.4 1 -.7 1 .3 1 .1 1 .5 1 .5 1 -.1 1 0 1 -.9 1 .6 1 .4 1 -.2 1 -1.2 1 .2 .9 1.3 1.1 .9 1 -.1 1 -1 1 -.2 1 -.2 1 .4 1 -.4 1 -.3 1 -.2 1 .8 1 -.1 1 .1 1 -1.3 1 .6 1 .1 1 .7 1 -.5 1 .1 1 -.2 1 -.2 1 0 1 -.3 1 .2 1 -.1 1 .4 1 -.4 1 .5 1 -.2 1 -.2 1 -1.4 1 -.1 1 .2 1 .6 1 -.6 1 -.1 1 -.2 .7 .7 1.3 -.8 1 -.9 1 -1.2 1 -.3 1 -.9 1 -.8 1 -1.4 1 -1.9 1 -3.7 1 -3.1 1 -1.7 .6 -.3 .4 .8 1 1.5 1 2.9 1 1.8 .8 .6 1.2 -4 1 -7.4 1 -6.8 .9 -3.4 1.1 -.7 1 -1.7 1 .3 1 .1 .5 .2 .5 -.8 1 2.6 1 4.8 1 4.8 1 2.4 1 2.9 1 3.2 1 2.5 1 1.4 .7 .3 1.3 -2 1 -4 1 -5.8 1 -4.5 1 -3.8 1 -3.6 1 -4.5 1 -2.3 1 .8 1 5 1 5 .6 2.2 .4 .7 1 4.4 1 3.7 1 3.4 1 2.6 1 2.1 1 1.6 1 .4 1 .8 1 .5 1 .8 1 .6 1 .5 1 .7 1 -.1 .4 .4 .6 .3 1 .3 1 -.2 1 -.2 1 .2 1 .1 1 0 1 -.1 1 -.1 1 .4 1 -.1 1 .1 1 -.2 1 -.1 1 -.2 1 -.3 1 .5 1 .2 1 .3 1 -.5 1 -.4 1 -.2 1 0 1 .4 1 .2 1 .7 1 -.1 1 .2 1 -.8 1 .4 1 -.3 1 -.3 1 -.8 1 -.1 1 .8 1 -.3 1 0 .6 -.4 .4 .6 1 -1.8 1 -2.4 1 -3.4 1 -3.6 1 -4.2 1 -5.9 1 -4 .9 -1.7 1.1 2 1 4.6 1 4.6 1 3.6 .5 0 .5 0 1 -2.6 1 -3.6 1 -3.6 1 -1.3 1 .9 1 2.9 1 3.5 1 4.9 1 3.6 .6 2.1 .4 -.3 1 .6 1 .3 1 .8 1 1.6 1 1.1 1 .8 1 -.4 1 .8 1 -.1 1 .5 1 -.5 1 .5 1 .1 1 .3 1 1 1 .5 1 .1 1 -1.1 1 .3 1 .5 1 .2 1 -.2 1 -1.2 1 -.1 1 .3 1 .2 1 .7 1 0 1 .2 1 -.2 1 .2 1 1.3 1 .1 1 0 1 -1 1 -.1 1 -.4 1 .6 1 .3 1 .3 1 .1 1 .4 1 -.1 1 -.2 1 -.4 1 -.2 1 0 1 .4 1 .4 1 .4 1 -.1 1 0 1 -.7 1 -.4 1 -.4 1 0 .7 -.7 1.3 .4 1 -.2 1 .6 1 -.5 1 .8 1 .4 1 .7 1 -.5 1 .1 1 -.2 1 0 1 -.2 1 -.9 1 -.3 1 0 1 -.2 1 .4 1 0 1 .6 1 .1 1 .1 1 .6 1 -.2 1 .1 1 -.3 1 -.5 1 -.2 1 -.2 1 .5 1 0 1 .3 1 0 1 -.3 1 -.1 1 -.6 1 -.3 1 .2 1 .2 1 .6 1 -.8 1 .7 1 0 1 .7 1 0 1 .3 1 -.7 1 .3 1 -.5 1 .6 1 -.6 1 .5 1 -.1 1 .1 1 -.1 1 -.2 1 0 1 .2 1 .2 1 .1 1 -.6 1 .2 1 -.3 1 .1 1 -.8 1 .1 1 0 1 .4 1 .2 1 .4 1 -.7 1 .6 1 -.1 1 .8 1 -1 1 .2 1 -.4 1 .2 1 -.2 1 .4 1 .2 1 -.4 1 -.6 1 .3 1 .5 1 .6 1 -.3 1 -.1 1 -.7 1 -.2 1 .2 1 .6 1 .2 1 -.1 1 -.2 1 -.5 1 -.1 1 .4 1 -.2 1 .3 1 -1 1 1.2 1 -.4 1 .7 1 -.8 1 .3 1 -.2 1 .5 1 .4 1 .3 1 -.7 1 -.5 1 -.2 1 .1 1 -.1 1 .5 1 -.2 1 .1 1 -.2 1 .3 1 0 1 -.1 1 -.1 1 -.9 1 -.8 1 .2 1 .8 1 .4 1 -.1 1 .3 1 .5 1 -.4 1 -.3 1 -.4 1 .7 1 -.2 1 -.2 1 .4 1 -.8 1 -.1 1 -.3 1 .8 1 .4 1 -.7 1 .2 1 -.3 1 -.1 1 -.7 1 .6 1 .3 1 .6 1 -.2 1 -.1 1 -.6 1 0 1 .2 1 0 1 -.3 1 -.5 1 -.3 1 .3 1 .5 1 .6 1 -.1 1 -.1 1 .4 1 .2 1 .2 1 -.6 1 -.2 1 -.3 1 -.1 1 0 1 -.5 1 -.1 1 .2 1 .7 1 -.2 .7 -.4" fill="none" stroke="#262626" stroke-width="1.45" stroke-linejoin="round" stroke-linecap="round" />
<defs><clipPath id="clipBR"><rect x="1330" y="463.8" width="440" height="360"/></clipPath></defs>
<g clip-path="url(#clipBR)"><path d="M1336.2 527.4l1 -3.5 1 -3 1 -1.9 .8 -.3 1.2 .9 1 .9 1 .2 .5 -.1 .5 .2 1 -.2 1 -.8 1 -.8 1 -.6 1 -.2 .8 -.2 1.2 .5 1 .9 1 1.3 1 1.5 .8 1.1 1.2 2.2 1 2.3 1 2.1 1 1.8 .8 .6 1.2 .3 1 0 1 0 1 -.3 1 -.4 1 0 1 .4 1 .4 .5 .2 .5 -.3 1 -.8 1 -.8 1 -1.1 1 -.7 1 -.5 .8 -.1 1.2 -.4 1 -.2 1 0 1 0 1 -.6 1 -.1 1 -.2 1 .3 1 -.1 1 .1 1 .1 1 -.1 1 -.1 1 -.3 1 .4 1 .7 1 .4 1 0 1 .1 1 .5 1 0 1 .4 1 .2 1 .6 1 0 1 .4 1 0 1 .4 1 0 1 -.1 1 -.2 1 -.1 1 -.1 1 -.6 1 -.3 1 0 1 .7 1 .1 1 0 1 -.4 1 -.2 1 -.4 1 -.3 1 -.5 1 -.2 1 .1 1 .5 1 -.1 1 .1 .8 -.4 1.2 0 1 0 1 -.2 1 .7 1 .4 1 .5 1 0 1 0 1 .4 1 .5 1 .3 1 .3 1 0 1 .8 1 .4 1 .7 1 -.1 1 -.3 1 .1 .8 .4 1.2 .7 1 .1 1 .2 1 .1 1 0 1 -.3 1 0 1 .3 1 .4 1 -.2 1 .4 1 .2 1 .3 1 -.4 1 0 1 .1 1 -.1 1 .5 1 -.1 1 .5 1 -.2 .9 -.1 1.1 .2 1 -.1 1 .1 1 -.2 1 0 1 .1 1 -.5 1 -.4 1 .2 1 .2 1 .4 1 -.4 1 .1 1 -.4 1 .1 1 .2 1 .3 1 -.1 1 -.3 1 0 1 .3 1 0 1 0 1 -.4 1 0 1 -.1 1 -.1 1 -.4 1 -.2 1 .2 1 .1 1 -.1 1 0 1 0 1 -.4 1 0 1 -.1 1 .2 1 -.5 1 0 1 -.1 1 -.1 1 -1.2 1 -1.4 1 -2.4 1 -2.5 1 -2.4 1 -2.1 1 -2.1 1 -1.8 1 -1.7 1 -1.3 .8 -.8 1.2 -1.5 1 -.7 1 -1.2 1 -.7 1 -1.1 .8 -.2 1.2 -2.1 1 -2.1 1 -2.8 1 -2.3 1 -1.8 1 -1 1 .1 1 .7 1 1.9 1 2.2 .8 1.3 1.2 1.8 1 1.5 1 1.7 1 .4 1 -.3 1 -1.3 1 -1.2 1 -1.2 1 -.5 .4 -.4 .6 0 1 .2 1 1 1 .4 .8 .3 1.2 -.6 1 -1.1 1 -1.2 1 -.8 1 .2 1 .2 1 .5 1 .6 1 .6 1 .6 1 .6 1 1.1 1 1.1 1 1.4 1 .8 1 .9 1 .7 1 1.1 1 1.5 1 1.1 1 1 1 .9 1 1.4 1 1.2 1 .9 1 .9 1 1 1 1 .4 0 .6 .5 1 .7 1 1.3 1 .6 1 .8 1 .5 1 1.1 1 .2 1 .4 1 -.2 1 -.1 .5 .1 .5 .4 1 .6 1 .3 1 -.4 1 -.3 1 -.2 1 -.3 1 -.3 1 .1 1 .2 1 .4 1 -.5 1 -.1 1 -.6 1 .5 1 -.1 1 0 1 -.6 1 .2 1 -.1 1 .1 1 -.3 1 0 1 .3 1 .3 1 .2 1 -.2 1 -.1 1 .3 1 .3 1 -.2 1 .1 1 -.2 1 .4 1 .3 1 .6 1 -.1 1 .2 1 -.2 1 .7 1 .3 1 .5 1 .4 1 .2 1 .1 1 0 1 .2 .6 0 .4 .1 1 .2 1 .3 1 .6 1 .4 1 .5 1 .1 1 0 1 .3 1 .4 1 .6 1 0 1 .3 1 .3 1 .3 1 .1 1 .1 1 .3 1 .3 1 .1 1 .3 1 0 1 .3 1 -.2 1 -.2 1 0 1 .1 1 .2 1 -.2 1 -.1 1 0 1 .1 1 0 1 0 1 -.1 1 .1 1 -.1 1 -.1 1 .1 1 -.1 1 .1 1 -.2 1 -.1 1 -.3 1 0 1 0 1 .6 1 .2 1 -.1 1 -.2 1 -.1 1 .1 1 -.1 1 -.3 1 -.2 1 .1 1 .1 1 .2 1 -.2 1 .2 1 0 1 .2 1 -.5 1 -.3 1 -.4 .4 .3 .6 .1 1 .3 1 -.1 1 .1 1 -.3 1 0 1 -.2 1 -.1 1 -.4 1 -.3 1 -.3 1 .1 1 .3 1 -.2 1 -.3 1 -.4 1 .3 1 -.1 1 0 1 -.1 1 0 1 .2 1 -.1 1 0 1 -.4 1 -.3 1 .5 1 0 1 .3 .8 -.5 1.2 0 1 .1 1 0 1 -.2 1 -.5 1 0 1 .2 1 .5 1 .3 1 .1 1 -.2 1 -.2 1 -.3 1 0 1 0 1 .5 1 0 1 .3 1 -.2 1 -.1 1 -.3 1 0 1 .2 1 .2 1 -.1 1 -.2 1 .3 1 .6 1 .4 1 -.3 1 0 1 -.2 .2 0" fill="none" stroke="#FF6A1A" stroke-width="1.45" stroke-linejoin="round" stroke-linecap="round" />
<path d="M1336.2 594.8l1 -.2 1 .1 1 .4 1 .2 1 0 1 -.3 1 -.3 1 -.1 1 -.4 1 -.3 1 -.2 1 -.2 1 -.3 .8 -.1 1.2 -.2 1 0 1 0 1 -.1 1 0 1 -.6 1 -.6 1 -.5 1 .2 .8 -.4 1.2 .2 1 -.1 1 .5 1 .6 1 .1 1 .7 1 .5 1 .6 1 .3 1 -0 1 .3 1 .5 1 .1 1 -.6 1 -.4 1 0 1 .2 1 -0 1 -.3 1 -0 1 .2 1 .3 1 -.2 1 -0 1 -.4 1 .4 1 -.1 1 -.1 1 -.5 1 0 1 .3 1 .3 1 -.3 1 -.1 1 -.3 1 .2 1 .3 1 .2 1 -0 1 -.6 1 .1 1 -.2 1 .2 1 -.2 1 -.2 1 .1 1 -.2 1 .5 1 -.4 1 .3 1 -.1 1 .2 1 0 1 0 1 .4 1 0 1 .2 1 -.6 1 .2 1 -.3 1 .4 1 -.4 1 -.1 1 .1 1 .3 1 .2 1 0 1 .1 1 .2 1 -0 1 -0 1 .1 1 .2 1 -0 1 -0 1 .1 1 .6 1 .1 1 .2 1 -.4 1 -.2 1 -.1 1 -0 1 .2 1 .3 1 -.1 1 .4 1 -.3 1 -0 1 -.1 1 .2 1 .2 1 -.1 1 -0 1 .2 1 -.1 1 .2 1 -.2 1 .3 1 -.1 1 .2 1 -.5 1 .2 1 -.1 1 .3 1 -.1 .9 -0 1.1 -.2 1 .3 1 -0 1 .1 1 -.2 1 -.1 1 .2 1 -0 1 .2 1 -.4 1 -.1 1 -.4 1 .3 1 -.1 1 -.1 1 -.2 1 .4 1 .2 1 .3 1 -.1 1 0 1 .1 1 .1 1 -0 1 -.4 1 -0 1 .3 1 .1 1 -.2 1 -.1 1 -.1 1 .1 1 -.1 1 0 1 -.2 1 -.5 1 0 1 -.1 1 .4 1 -.1 1 .2 1 .1 1 .2 1 -.1 1 -.1 1 -.2 1 -.1 1 -.2 1 .1 1 .3 1 .2 1 .1 1 -.3 1 -.2 1 -.6 1 .2 1 -.1 1 -.1 1 0 1 .1 1 .1 1 -.6 1 -.2 1 .3 1 .3 1 .3 1 .3 1 0 1 -.3 1 -.6 .6 .4 .4 0 1 .1 1 -.4 1 0 1 -.3 1 -.1 1 -.5 1 -.4 1 -1 1 -.7 1 -.6 1 -.3 1 -.7 1 -.7 1 -1 1 -1.4 1 -1.9 1 -2.2 1 -2.8 1 -3.1 1 -4.1 1 -3.3 .6 -2.3 .4 -1.1 1 -4.6 1 -5.2 1 -4.7 1 -2.8 .6 -.6 .4 0 1 .7 1 1.5 1 1.5 1 1.8 .9 1.6 1.1 4 1 4.4 1 4.9 1 4.3 1 4 .8 2.6 1.2 2.3 1 1.6 1 1.3 1 1.6 1 1.6 1 1.3 1 .7 1 .5 .7 .1 1.3 .4 1 .3 1 .5 1 .4 1 0 1 .3 1 -.1 1 .5 1 0 1 .4 1 -.2 1 .1 1 -.1 1 .3 .4 -.3 .6 .4 1 .1 1 .6 1 -.2 1 .2 1 -.2 1 0 1 -.1 1 0 1 .4 1 .1 1 .3 1 -.3 1 .3 1 .3 1 .2 1 .1 1 0 1 .2 1 -.5 1 -.1 1 .2 1 .6 1 .6 1 -.3 1 0 1 -.6 1 0 1 -.2 1 .1 1 .3 1 .5 1 .2 1 -.2 1 0 1 .1 1 0 1 0 1 0 1 .4 1 -.3 1 -.1 1 -.1 1 -.1 .5 .1 .5 .1 1 .4 1 0 1 -.3 1 -.1 1 .3 1 .1 1 .2 1 -.5 1 .1 1 .1 1 -.3 1 .3 1 0 1 .4 1 -.6 1 .3 1 .2 1 .2 1 -.7 1 .1 1 -.3 1 .3 1 -.2 1 .1 1 -.1 1 -.1 1 .4 1 .2 1 .4 1 -.4 1 .2 1 -.1 1 .4 1 -.3 1 .1 1 -.4 1 .2 1 0 1 .1 1 -.3 1 0 1 -.2 1 0 1 -.2 1 .4 1 0 1 .6 1 .1 1 -.3 1 -.3 1 -.3 1 .1 1 -.2 1 .4 1 .5 1 .2 1 -.4 1 -.2 1 0 1 -.2 1 -.1 1 .3 1 .2 1 -.1 1 -.7 1 .6 1 .3 1 .4 1 0 1 -.3 1 -.5 1 -.1 1 -.2 1 .5 1 0 1 .3 1 .2 1 -.1 1 -.2 1 -.4 1 .1 1 .1 1 .3 1 -.2 1 .2 1 -.3 1 0 1 -.4 1 .1 1 .1 1 .2 1 0 1 0 1 .3 1 0 1 -.2 1 0 1 .1 1 -.2 1 -.2 1 .5 1 .1 1 .1 1 -.8 1 .1 1 .1 1 .3 1 .1 1 -.1 1 .4 1 -.2 1 0 1 .3 1 .3 1 -.2 1 -.7 1 -.3 1 .3 1 .3 1 -.1 .2 -.1" fill="none" stroke="#2FAE55" stroke-width="1.45" stroke-linejoin="round" stroke-linecap="round" />
<path d="M1336.2 541.1l.9 20.3 1.1 22.7 .5 8.4 .5 6.1 1 9.1 1 7.5 1 6.5 1 6 1 4.5 .8 2.8 1.2 3.7 1 2.6 1 2.7 1 1.8 .8 1.4 1.2 1.4 1 1.4 1 .6 1 .9 1 .7 1 1 1 .4 1 .3 1 .4 1 .3 1 -.1 1 -.6 1 -.2 1 .1 1 .4 1 .4 1 .6 1 .1 1 .4 1 .5 1 .8 1 .7 1 .4 1 .2 .8 .1 1.2 .5 1 .7 1 .8 1 .3 1 .4 1 .3 1 0 1 0 1 -.5 .8 .2 1.2 0 1 .3 1 -.1 1 -.3 1 -.1 1 -.4 1 .3 1 -.4 1 -.1 1 -.3 1 .3 1 -.1 1 -.4 1 -.6 1 -.1 1 .2 1 -.2 1 0 1 -.3 1 0 1 -.3 1 -.1 1 0 1 0 1 -.2 1 .2 1 -.2 1 .5 1 -.1 1 .4 1 .1 1 .2 1 0 1 -.1 1 0 1 .2 1 .2 1 0 1 .1 1 0 1 0 1 0 1 .2 1 .2 1 .3 1 0 1 -.1 1 .2 1 .2 1 .1 1 -.3 1 .1 1 -.2 1 .1 1 0 1 .3 1 .2 1 .3 1 .2 .8 -.1 1.2 -.4 1 -.1 1 .3 1 .6 1 .3 1 0 1 0 1 -.3 1 -.1 1 -.1 1 .4 1 .3 1 .1 1 .3 1 -.1 1 0 1 -.3 1 -.2 1 .2 1 .1 1 .5 1 0 1 .3 1 -.3 1 -.1 1 0 1 .3 1 0 1 -.1 1 .2 1 0 1 .3 1 -.3 1 .4 1 -.1 1 .2 1 -.2 1 -.2 1 .4 1 .1 1 .6 1 -.1 1 -.1 1 -.3 1 0 1 .2 1 0 1 0 1 .1 1 .3 1 .2 .4 -.1 .6 -.2 1 -.3 1 -.5 1 .3 1 .3 1 -.2 1 -.2 1 -.3 1 .5 1 -.3 1 0 1 -.3 1 .4 1 .1 1 .5 1 -.4 1 -.3 1 -.4 1 .5 1 .1 1 .3 1 -.2 1 .1 1 -.5 1 -.4 1 -.2 1 0 1 -.1 1 .2 1 .4 1 0 1 -.1 1 -.1 1 0 1 .1 1 -.2 1 .1 1 0 1 -.1 1 -.5 1 -.1 1 -.3 1 .1 1 -.2 1 .6 1 -.1 1 -.1 1 -.6 1 -.2 1 -.5 1 -.4 1 -.1 1 .1 1 .2 1 -.2 1 -.2 1 .2 1 -.2 1 .2 1 -.6 1 -.4 1 -1 1 -.8 1 -.9 1 -1.1 1 -1.5 1 -2 1 -2.1 1 -4.3 1 -7 1 -5.4 .6 -1.1 .4 .3 1 1.9 1 2.6 .5 .4 .5 -.8 1 -7.7 1 -11.5 1 -10.8 1 -6 1 1.4 1 4.8 1 11.9 1 20.7 .4 4.1 .6 3.3 1 4 1 2.8 1 1.3 1 .7 1 .9 1 .6 1 .2 1 .3 1 .3 1 0 1 0 1 .1 1 .6 1 .4 1 .5 1 .3 1 0 1 -.2 1 0 .4 0 .6 0 1 .4 1 .1 1 .3 1 .1 1 0 1 .2 1 .4 1 .2 1 .1 1 0 1 .4 1 .1 1 -.1 1 0 1 -.1 1 0 1 0 1 .3 1 .1 1 .2 1 -.2 1 .1 1 -.1 1 .4 1 .5 1 0 1 0 1 -.2 1 .4 1 -.1 1 .2 1 -.3 1 .3 1 .1 1 .3 1 -.1 1 -.4 1 .1 1 0 1 -.2 1 .2 1 .2 1 .7 .5 -.2 .5 0 1 -.1 1 -.3 1 .1 1 -.2 1 .6 1 -.1 1 .2 1 -.4 1 -.4 1 0 1 .3 1 .7 1 -.3 1 0 1 -.3 1 0 1 -.1 1 .3 1 .5 1 -.3 1 0 1 -.2 1 .3 1 -.3 1 0 1 -.3 1 .3 1 .5 1 .1 1 .2 1 -.3 1 -.2 1 -.2 1 -.1 1 .1 1 .1 1 .1 1 -.1 1 -.5 1 -.2 1 .2 1 .6 1 .1 1 0 1 0 1 .2 1 -.2 1 -.2 1 -.1 1 0 1 -.1 1 -.1 1 .1 1 .3 1 0 1 -.2 1 -.2 1 .2 1 -.1 1 .1 1 .1 1 .2 1 -.2 1 -.3 1 -.1 1 .1 1 .4 1 .2 1 0 1 -.4 1 -.3 1 .2 1 0 1 .4 1 -.2 1 .4 1 -.1 1 -.1 1 -.1 1 -.2 1 -.1 1 0 1 .1 1 0 1 0 1 .1 1 .2 1 -.2 1 .2 1 -.1 1 .3 1 -.2 1 .3 1 -.1 1 -.2 1 0 1 -.2 1 0 1 -.4 1 .1 1 .2 1 .1 1 -.3 1 .4 1 .2 1 .4 1 -.3 1 .1 1 -.2 1 .2 1 -.2 1 0 1 -.1 1 .1 1 .1 1 -.4 1 -.2 1 -.2 1 .1 1 .2 .2 .1" fill="none" stroke="#FF3030" stroke-width="1.45" stroke-linejoin="round" stroke-linecap="round" />
<path d="M1336.2 681.3l1 -3.5 1 -3.4 1 -3.7 .8 -2.9 1.2 -4.6 1 -4.5 1 -5.3 .5 -2.9 .5 -3.5 1 -7.8 1 -9.4 1 -11.6 1 -15.3 .5 -9.4 .5 -12.1 .8 -25.5 1.2 -50.3 1 -35.6 1 -14 1 -9.9 1 -8.8 1 -6.4 1 -5.6 1 -3.2 1 -2 .8 .3 1.2 .6 1 2.3 1 3.7 1 5.1 1 6.5 1 7.2 1 9.8 .8 8 1.2 32.4 1 30.2 1 28.6 1 22.5 1 18.9 .5 8.5 .5 7.8 1 13.7 1 11.9 1 8.9 1 7.6 1 6.3 1 5.7 1 4.4 1 3.1 1 2.4 1 2.3 1 2.6 1 2.1 1 1.7 1 1.4 1 1.4 .8 1.1 1.2 .8 1 1 1 .6 1 .9 1 .6 1 .4 1 .8 1 .3 1 .5 .8 0 1.2 .3 1 .2 1 .2 1 .6 1 -0 1 .2 1 -0 1 .4 1 -.1 1 .1 1 -.3 1 .2 1 .2 1 .6 .8 -.5 1.2 -.3 1 -.2 1 .1 1 .5 1 -0 1 -0 1 .1 1 -0 1 -.1 1 -.8 1 -.2 1 .3 1 .5 1 -.1 1 -.1 1 -.3 1 .2 1 .2 1 -.3 1 -0 1 -.2 1 .1 .5 .3 .5 -.2 1 .2 1 -.6 1 .5 1 .2 1 .2 1 -.1 1 -0 1 .4 1 -.1 1 .4 1 .1 1 .6 1 -0 1 .3 1 .3 1 .4 1 -0 1 .3 1 .2 1 -0 1 -.2 1 -0 1 .2 1 .2 1 .2 1 .5 1 .1 1 .1 .9 -0 1.1 -.2 1 -.1 1 -.5 1 -0 1 .2 1 .2 1 .1 1 .2 1 .4 1 .1 1 -.5 1 -.5 1 -0 1 -.1 1 .2 1 -.1 1 .2 1 -.1 1 .4 1 -0 1 .3 1 -.3 1 .3 1 -.4 1 .1 1 -.4 1 -0 1 .4 1 -0 1 .1 1 -.7 1 .1 1 .3 1 .3 1 -.2 1 -.3 1 -.2 1 -0 1 -0 1 .3 1 .3 1 -.1 1 -.5 1 .2 1 .2 1 .2 1 -.3 1 -.2 1 .1 1 -.5 1 -0 1 .4 1 .6 1 -0 1 -.2 1 -.1 1 .3 1 -.2 .8 -.2 1.2 -.1 1 .2 1 -0 1 -0 1 -.1 1 -0 1 -.1 1 -0 1 -.3 1 -.2 1 -.3 1 .5 1 -.5 1 -.4 1 -.8 1 -0 1 -0 1 -0 1 -.1 1 -.2 1 -.1 1 -0 1 -.1 1 -.3 1 -.4 1 -.2 1 -.2 1 -.1 1 -.3 1 -.3 1 -.4 1 -.5 1 -.2 1 -.4 1 -.4 1 -.5 1 .1 1 -.1 1 -.4 1 -1.1 1 -.5 1 -.5 1 -.1 .9 -.6 1.1 -.2 1 -.5 1 -.7 1 -.8 1 -.9 1 -.2 1 -.2 1 -.7 1 -.4 .4 -.3 .6 .4 1 .7 1 .9 1 1.3 1 1.3 .7 .6 1.3 1.4 1 .8 1 1.4 1 .5 1 1 1 .5 1 .9 1 .3 1 .5 1 .1 1 .1 .4 .3 .6 -.2 1 .5 1 0 1 .6 1 .1 1 0 1 .2 1 0 1 .1 1 .2 1 .1 1 .1 1 0 1 -.2 1 .1 1 .1 1 -.1 1 0 1 .2 1 .1 1 -.1 1 -.1 1 .1 1 .2 1 0 1 0 1 .3 1 .2 1 .3 1 0 1 -.3 1 .2 1 -.1 1 .6 1 -.3 1 .1 1 -.6 1 .2 1 -.2 1 .3 1 .2 1 .4 1 -.2 1 -.1 1 -.3 1 .1 1 -.2 .5 .1 .5 .1 1 -.3 1 .2 1 -0 1 .3 1 -.1 1 .3 1 -0 1 .1 1 -.3 1 .2 1 -.2 1 -0 1 .1 1 -.1 1 -.2 1 -.2 1 .2 1 -.1 1 -0 1 -.1 1 .4 1 .1 1 .2 1 -0 1 -0 1 -.2 1 -0 1 .1 1 -0 1 .2 1 -.2 1 .3 1 0 1 .2 1 -.3 1 -.1 1 -.1 1 -.2 1 .1 1 .4 1 .2 1 -.1 1 -.2 1 .2 1 -0 1 -.1 1 0 1 -.1 1 .1 1 -.3 1 .2 1 -0 1 .7 1 -.3 1 -.2 1 -.1 1 .1 1 .4 1 -0 1 -.2 1 -.4 1 -.2 1 .3 1 .2 1 -.1 1 -0 1 -.3 1 -0 1 -.4 1 .7 1 -.3 1 .7 1 -.1 1 .5 1 -.2 1 -.2 1 -.2 1 .2 1 -.2 1 -0 1 -.1 1 .1 1 .3 1 -.4 1 -0 1 -.3 1 .1 1 .1 1 -0 1 .1 1 .1 1 .1 1 .1 1 -0 1 -.1 1 -0 1 .1 1 .1 1 .2 1 -.1 1 .1 1 -.1 1 .3 1 -.4 1 -.1 1 -.1 1 -0 1 .1 1 -.3 1 -.1 1 -0 1 .3 1 -.1 1 -.1 1 -0 1 .4 1 -.1 1 -0 1 -.4 1 -0 .2 -0" fill="none" stroke="#2A52E2" stroke-width="1.45" stroke-linejoin="round" stroke-linecap="round" />
<path d="M1336.2 723.8l1 -43.7 1 -36 .5 -14.3 .5 -11.8 1 -18.4 1 -19.9 1 -26.2 .8 -23.4 1.2 -38.5 1 -16.5 1 -11.3 1 -15.3 1 -17.6 1 -16.5 1 -11.4 .8 -3.3 1.2 7.4 1 14.5 1 18.3 1 18.7 1 17.3 .8 16.3 1.2 37.8 1 21.4 .8 16.4 1.2 28.6 .8 21.2 1.2 37.2 .5 12.5 .5 9.7 1 16.6 1 12 1 8.2 1 6.5 1 5.7 .8 4.3 1.2 7.2 1 5.6 1 5.3 1 4.2 .8 2.3 1.2 2.1 1 1.7 1 1.9 1 1.6 1 1.3 1 1 1 1.2 1 .8 1 .4 .8 -0 1.2 .7 1 1.1 1 1.2 1 .9 1 .7 1 .7 1 .5 1 .6 1 .3 .8 .1 1.2 .1 1 -0 1 .5 1 .2 1 -.3 1 .4 1 -0 1 .6 1 -.1 1 -.1 1 -.1 1 -.2 1 .6 1 -.2 .8 .3 1.2 -.3 1 .2 1 -.6 1 -.4 1 -0 1 -.2 1 -.2 1 -.3 1 -0 1 -.3 1 -.3 1 -.3 1 -.5 1 -.6 1 -.6 1 .1 1 .1 1 .3 1 .1 .8 -.2 1.2 .1 1 -.3 1 -0 1 .1 1 .5 1 .7 1 .3 1 .5 1 -.1 1 .1 1 -.1 1 .4 1 .4 1 .5 1 .2 1 .3 1 .5 1 .2 1 .1 1 .1 1 .5 1 .7 1 .5 1 -.3 1 -.3 1 -.1 1 .3 1 .7 1 .2 1 .4 1 -0 1 .4 1 .3 1 .2 1 .2 1 -.1 .9 -0 1.1 -.5 1 -0 1 .2 1 .2 1 -0 1 -0 1 -0 1 .4 1 .2 1 .4 1 -.2 1 -.3 1 -.4 1 .3 1 -0 1 .6 1 -.4 1 -.1 1 -1 1 -0 1 -.1 1 .5 1 .3 1 -0 1 -.1 1 -.1 1 .1 1 .2 1 .1 1 -.1 1 -.1 1 -0 1 .1 1 .2 1 -.3 1 .2 1 -.3 1 .2 1 -.3 1 .1 1 -.3 1 .3 1 -.2 1 .2 1 -0 1 -.2 1 .1 1 -.2 1 .1 1 -0 1 -.1 1 .4 1 -.2 1 .2 1 -.1 1 .2 1 -.5 1 -.2 1 -.3 1 -.1 1 -.1 1 .3 1 -.2 1 .2 1 -.2 1 .4 1 -0 1 -.1 1 -.1 1 -.1 1 -0 1 -.1 1 -.1 1 -.1 1 -.2 1 -0 1 -.2 1 .3 1 .1 1 .2 1 -.1 1 -.3 1 .1 1 .5 1 .1 1 -.1 1 -.6 1 -.4 1 -.1 1 -.1 1 -0 1 -0 1 .1 1 -.4 1 -.3 1 -.5 1 -.3 1 -.4 1 -.3 1 -.2 1 -.3 1 -.8 .9 -.6 1.1 -1.7 1 -3.4 1 -4.7 1 -5.7 1 -5.8 1 -6 .4 -2.1 .6 -4.2 1 -8.4 1 -7.3 .7 -1.8 1.3 5.5 1 7.6 1 5.2 1 1.3 1 .9 1 1.4 1 3.3 1 6.1 1 6.9 1 5.2 .5 1.9 .5 .9 1 1.6 1 1 1 1 1 .9 1 .3 1 .4 1 .6 1 .5 .4 .3 .6 -0 1 .3 1 .4 1 .6 1 .2 1 .2 1 -.2 1 -.2 1 .3 1 .1 1 .5 1 -0 1 .1 1 .1 1 .4 1 .6 1 -0 1 -.2 1 -.5 1 -0 1 -0 1 .5 1 .4 1 .1 1 .3 1 -.1 1 .2 1 -.2 1 .1 1 -0 1 .4 1 -0 1 -0 1 -.2 1 .3 1 .3 1 .2 1 -0 1 -.3 1 .2 1 .3 1 .3 1 -.2 1 -.4 .5 -.3 .5 .1 1 -0 1 .1 1 .4 1 .2 1 .2 1 -.5 1 .3 1 -.2 1 .2 1 -.2 1 .1 1 -.1 1 .1 1 .4 1 .1 1 -0 1 -.5 1 .2 1 -.3 1 .5 1 -.1 1 .2 1 -.2 1 -.1 1 -.1 1 .1 1 .3 1 -0 1 -.3 1 -.3 1 -0 1 .4 1 .2 1 .2 1 -.1 1 .1 1 .1 1 .1 1 -.4 1 .1 1 -.1 1 .5 1 -.7 1 .1 1 -.1 1 .4 1 -0 1 -.2 1 -.1 1 .2 1 .1 1 .3 1 -0 1 -.1 1 -.1 1 -.1 1 .3 1 .3 1 -0 1 -.1 1 .1 1 -.1 1 -0 1 -.4 1 -.3 1 .4 1 .2 1 .6 1 -.1 1 -.2 1 -.3 1 -.2 1 .1 1 .3 1 .3 1 -.3 1 .2 1 -.3 1 .2 1 -.3 1 -0 1 -.3 1 -.2 1 -0 1 .5 1 .2 1 .1 1 -.3 1 -0 1 .1 1 .6 1 .1 1 -.1 1 -.3 1 -.1 1 -.1 1 .2 1 -.1 1 -.2 1 -.1 1 .1 1 .2 1 -.3 1 .2 1 -.1 1 -0 1 .1 1 -0 1 -.3 1 -.3 1 -0 1 .7 1 .2 1 -.2 1 -.4 1 .3 1 .2 1 .2 1 -.1 1 .2 .2 -.1" fill="none" stroke="#262626" stroke-width="1.45" stroke-linejoin="round" stroke-linecap="round" /></g>
<text transform="translate(8.50,902.82) scale(0.9093,1)" font-size="38.45" fill="#000">C</text>
<text transform="translate(2.29,939.70) scale(0.9747,1)" font-size="23.77" fill="#000">pH</text>
<text transform="translate(33.90,942.49) matrix(0.7200,0,-0.1981,1,0,0)" font-size="30.47" fill="#000">/</text>
<text transform="translate(45.53,939.70) scale(0.9488,1)" font-size="23.77" fill="#000">Eq. Ag(I)</text>
<text transform="translate(12.40,988.80) scale(1.0131,1)" font-size="23.57" fill="#000">3.5</text>
<text transform="translate(46.08,991.99) matrix(1.0000,0,-0.1335,1,0,0)" font-size="30.60" fill="#000">/</text>
<text transform="translate(57.82,988.80) scale(1.0421,1)" font-size="23.57" fill="#000">0.9</text>
<text transform="translate(11.90,1017.80) scale(1.0646,1)" font-size="22.57" fill="#000">3.5</text>
<text transform="translate(45.77,1020.99) matrix(1.0000,0,-0.1247,1,0,0)" font-size="30.60" fill="#000">/</text>
<text transform="translate(57.32,1017.80) scale(1.0908,1)" font-size="22.57" fill="#000">0.8</text>
<text transform="translate(12.30,1051.90) scale(1.0135,1)" font-size="23.86" fill="#000">3.5</text>
<text transform="translate(46.36,1054.80) matrix(1.0000,0,-0.1088,1,0,0)" font-size="30.20" fill="#000">/</text>
<text transform="translate(57.40,1051.90) scale(1.0431,1)" font-size="23.86" fill="#000">0.7</text>
<text transform="translate(11.60,1082.80) scale(1.0288,1)" font-size="23.43" fill="#000">3.5</text>
<text transform="translate(45.56,1086.09) matrix(1.0000,0,-0.1052,1,0,0)" font-size="30.74" fill="#000">/</text>
<text transform="translate(56.70,1082.80) scale(1.0711,1)" font-size="23.43" fill="#000">0.6</text>
<text transform="translate(12.30,1119.40) scale(1.0448,1)" font-size="23.14" fill="#000">3.5</text>
<text transform="translate(46.37,1122.10) matrix(1.0000,0,-0.1108,1,0,0)" font-size="30.07" fill="#000">/</text>
<text transform="translate(57.41,1119.40) scale(1.0664,1)" font-size="23.14" fill="#000">0.5</text>
<text transform="translate(12.29,1154.70) scale(1.0227,1)" font-size="23.71" fill="#000">3.5</text>
<text transform="translate(46.46,1157.69) matrix(1.0000,0,-0.0979,1,0,0)" font-size="30.34" fill="#000">/</text>
<text transform="translate(57.32,1154.70) scale(1.0315,1)" font-size="23.71" fill="#000">0.4</text>
<text transform="translate(12.69,1193.30) scale(1.0289,1)" font-size="23.57" fill="#000">3.5</text>
<text transform="translate(46.86,1196.09) matrix(1.0000,0,-0.0979,1,0,0)" font-size="30.34" fill="#000">/</text>
<text transform="translate(57.71,1193.30) scale(1.0550,1)" font-size="23.57" fill="#000">0.3</text>
<text transform="translate(11.79,1235.20) scale(1.0259,1)" font-size="23.71" fill="#000">3.5</text>
<text transform="translate(46.07,1237.80) matrix(1.0000,0,-0.1060,1,0,0)" font-size="29.80" fill="#000">/</text>
<text transform="translate(56.91,1235.20) scale(1.0462,1)" font-size="23.71" fill="#000">0.2</text>
<text transform="translate(12.00,1280.20) scale(1.0133,1)" font-size="23.71" fill="#000">3.5</text>
<text transform="translate(45.87,1282.89) matrix(1.0000,0,-0.1200,1,0,0)" font-size="30.34" fill="#000">/</text>
<text transform="translate(57.23,1280.20) scale(1.0184,1)" font-size="23.71" fill="#000">0.1</text>
<text transform="translate(12.70,1325.50) scale(1.0416,1)" font-size="23.14" fill="#000">3.5</text>
<text transform="translate(46.67,1328.29) matrix(1.0000,0,-0.1289,1,0,0)" font-size="30.34" fill="#000">/</text>
<text transform="translate(58.18,1325.50) scale(1.1007,1)" font-size="23.14" fill="#000">0</text>
<text transform="translate(327.76,1289.74) scale(1.0144,1)" font-size="26.39" fill="#0000FF">Hb</text>
<text transform="translate(830.48,1290.53) scale(0.9309,1)" font-size="26.86" fill="#0000FF">Ha</text>
<text transform="translate(899.48,1289.53) scale(0.9887,1)" font-size="26.80" fill="#FF0000">Hd</text>
<text transform="translate(1038.04,1289.83) scale(0.9349,1)" font-size="27.29" fill="#FF0000">Hc</text>
<text transform="translate(1593.47,1274.23) scale(1.0270,1)" font-size="27.43" fill="#00B050">He</text>
<text transform="translate(105.12,1353.47) scale(1.0998,1)" font-size="22.82" fill="#000">9.0</text>
<text transform="translate(282.16,1355.27) scale(1.0800,1)" font-size="22.96" fill="#000">8.5</text>
<text transform="translate(456.86,1352.57) scale(1.0725,1)" font-size="22.96" fill="#000">8.0</text>
<text transform="translate(617.69,1351.41) scale(1.0020,1)" font-size="23.74" fill="#000">[ppm]</text>
<text transform="translate(725.46,1350.67) scale(1.0271,1)" font-size="23.00" fill="#000">7.5</text>
<text transform="translate(899.21,1351.07) scale(1.0806,1)" font-size="22.96" fill="#000">7.0</text>
<text transform="translate(1078.16,1350.87) scale(1.0544,1)" font-size="22.68" fill="#000">6.5</text>
<text transform="translate(1214.68,1350.29) scale(1.0038,1)" font-size="23.85" fill="#000">[ppm]</text>
<text transform="translate(1361.47,1349.17) scale(1.0286,1)" font-size="23.10" fill="#000">2.5</text>
<text transform="translate(1538.42,1351.07) scale(1.0864,1)" font-size="23.10" fill="#000">2.0</text>
<text transform="translate(1704.88,1348.88) scale(0.9833,1)" font-size="24.39" fill="#000">[ppm]</text>
<line x1="1292" y1="1335" x2="1296.5" y2="1335" stroke="#BBBBBB" stroke-width="1"/>
<line x1="1328" y1="1335" x2="1332.5" y2="1335" stroke="#BBBBBB" stroke-width="1"/>
<line x1="100.5" y1="1325.7" x2="669.5" y2="1325.7" stroke="#585858" stroke-width="1.6"/>
<line x1="654.45" y1="1325.7" x2="654.45" y2="1333.70" stroke="#585858" stroke-width="1.3"/>
<line x1="618.90" y1="1325.7" x2="618.90" y2="1330.20" stroke="#585858" stroke-width="1.3"/>
<line x1="583.35" y1="1325.7" x2="583.35" y2="1330.20" stroke="#585858" stroke-width="1.3"/>
<line x1="547.80" y1="1325.7" x2="547.80" y2="1330.20" stroke="#585858" stroke-width="1.3"/>
<line x1="512.25" y1="1325.7" x2="512.25" y2="1330.20" stroke="#585858" stroke-width="1.3"/>
<line x1="476.70" y1="1325.7" x2="476.70" y2="1333.70" stroke="#585858" stroke-width="1.3"/>
<line x1="441.15" y1="1325.7" x2="441.15" y2="1330.20" stroke="#585858" stroke-width="1.3"/>
<line x1="405.60" y1="1325.7" x2="405.60" y2="1330.20" stroke="#585858" stroke-width="1.3"/>
<line x1="370.05" y1="1325.7" x2="370.05" y2="1330.20" stroke="#585858" stroke-width="1.3"/>
<line x1="334.50" y1="1325.7" x2="334.50" y2="1330.20" stroke="#585858" stroke-width="1.3"/>
<line x1="298.95" y1="1325.7" x2="298.95" y2="1333.70" stroke="#585858" stroke-width="1.3"/>
<line x1="263.40" y1="1325.7" x2="263.40" y2="1330.20" stroke="#585858" stroke-width="1.3"/>
<line x1="227.85" y1="1325.7" x2="227.85" y2="1330.20" stroke="#585858" stroke-width="1.3"/>
<line x1="192.30" y1="1325.7" x2="192.30" y2="1330.20" stroke="#585858" stroke-width="1.3"/>
<line x1="156.75" y1="1325.7" x2="156.75" y2="1330.20" stroke="#585858" stroke-width="1.3"/>
<line x1="121.20" y1="1325.7" x2="121.20" y2="1333.70" stroke="#585858" stroke-width="1.3"/>
<line x1="729.8" y1="1323.8" x2="1282.5" y2="1323.8" stroke="#585858" stroke-width="1.6"/>
<line x1="1269.90" y1="1323.8" x2="1269.90" y2="1331.80" stroke="#585858" stroke-width="1.3"/>
<line x1="1234.74" y1="1323.8" x2="1234.74" y2="1328.30" stroke="#585858" stroke-width="1.3"/>
<line x1="1199.58" y1="1323.8" x2="1199.58" y2="1328.30" stroke="#585858" stroke-width="1.3"/>
<line x1="1164.42" y1="1323.8" x2="1164.42" y2="1328.30" stroke="#585858" stroke-width="1.3"/>
<line x1="1129.26" y1="1323.8" x2="1129.26" y2="1328.30" stroke="#585858" stroke-width="1.3"/>
<line x1="1094.10" y1="1323.8" x2="1094.10" y2="1331.80" stroke="#585858" stroke-width="1.3"/>
<line x1="1058.94" y1="1323.8" x2="1058.94" y2="1328.30" stroke="#585858" stroke-width="1.3"/>
<line x1="1023.78" y1="1323.8" x2="1023.78" y2="1328.30" stroke="#585858" stroke-width="1.3"/>
<line x1="988.62" y1="1323.8" x2="988.62" y2="1328.30" stroke="#585858" stroke-width="1.3"/>
<line x1="953.46" y1="1323.8" x2="953.46" y2="1328.30" stroke="#585858" stroke-width="1.3"/>
<line x1="918.30" y1="1323.8" x2="918.30" y2="1331.80" stroke="#585858" stroke-width="1.3"/>
<line x1="883.14" y1="1323.8" x2="883.14" y2="1328.30" stroke="#585858" stroke-width="1.3"/>
<line x1="847.98" y1="1323.8" x2="847.98" y2="1328.30" stroke="#585858" stroke-width="1.3"/>
<line x1="812.82" y1="1323.8" x2="812.82" y2="1328.30" stroke="#585858" stroke-width="1.3"/>
<line x1="777.66" y1="1323.8" x2="777.66" y2="1328.30" stroke="#585858" stroke-width="1.3"/>
<line x1="742.50" y1="1323.8" x2="742.50" y2="1331.80" stroke="#585858" stroke-width="1.3"/>
<line x1="1344.5" y1="1322.9" x2="1756.9" y2="1322.9" stroke="#585858" stroke-width="1.6"/>
<line x1="1730.30" y1="1322.9" x2="1730.30" y2="1330.90" stroke="#585858" stroke-width="1.3"/>
<line x1="1695.18" y1="1322.9" x2="1695.18" y2="1327.40" stroke="#585858" stroke-width="1.3"/>
<line x1="1660.06" y1="1322.9" x2="1660.06" y2="1327.40" stroke="#585858" stroke-width="1.3"/>
<line x1="1624.94" y1="1322.9" x2="1624.94" y2="1327.40" stroke="#585858" stroke-width="1.3"/>
<line x1="1589.82" y1="1322.9" x2="1589.82" y2="1327.40" stroke="#585858" stroke-width="1.3"/>
<line x1="1554.70" y1="1322.9" x2="1554.70" y2="1330.90" stroke="#585858" stroke-width="1.3"/>
<line x1="1519.58" y1="1322.9" x2="1519.58" y2="1327.40" stroke="#585858" stroke-width="1.3"/>
<line x1="1484.46" y1="1322.9" x2="1484.46" y2="1327.40" stroke="#585858" stroke-width="1.3"/>
<line x1="1449.34" y1="1322.9" x2="1449.34" y2="1327.40" stroke="#585858" stroke-width="1.3"/>
<line x1="1414.22" y1="1322.9" x2="1414.22" y2="1327.40" stroke="#585858" stroke-width="1.3"/>
<line x1="1379.10" y1="1322.9" x2="1379.10" y2="1330.90" stroke="#585858" stroke-width="1.3"/>
<line x1="315.2" y1="930.0" x2="314.3" y2="1321.3" stroke="#606066" stroke-width="1.7" stroke-dasharray="4.7,2.3"/>
<line x1="874.5" y1="929.7" x2="873.3" y2="1321.4" stroke="#606066" stroke-width="1.7" stroke-dasharray="4.7,2.3"/>
<line x1="939.3" y1="929.7" x2="938.5" y2="1321.4" stroke="#606066" stroke-width="1.7" stroke-dasharray="4.7,2.3"/>
<line x1="1030.3" y1="930.1" x2="1029.8" y2="1321.5" stroke="#606066" stroke-width="1.7" stroke-dasharray="4.7,2.3"/>
<line x1="1577.7" y1="929.8" x2="1577.0" y2="1321.2" stroke="#606066" stroke-width="1.7" stroke-dasharray="4.7,2.3"/>
<path d="M100.5 979.6l1 .1 1 0 1 0 1 .1 1 .1 1 -0 1 -.5 1 -.2 1 0 1 .3 1 .3 1 0 1 .1 1 -.3 1 -.3 1 .1 1 .2 1 .2 1 -.2 1 .2 1 -.1 1 .1 1 -0 1 -0 1 -.1 1 -.3 1 -.2 1 .2 1 .2 1 .6 1 -.2 1 -.1 1 -.1 1 .2 1 -0 1 -0 1 -.4 1 -0 1 -.1 1 .3 1 -0 1 -.1 1 -.4 1 -0 1 .1 1 .2 1 .1 1 -.2 1 .1 1 -.4 1 .2 1 -.1 1 -0 1 -.3 1 -.1 1 -0 1 .3 1 .1 1 .3 1 -0 1 -.3 1 -.4 1 -.2 1 .2 1 .3 1 -0 1 .1 1 -.2 1 .3 1 -.2 1 .1 1 -.2 1 -0 1 .3 1 .1 1 .1 1 -.3 1 -0 1 -0 1 .2 1 -.2 1 -.3 1 -.1 1 .2 1 -0 1 -0 1 .1 1 -.1 1 -.3 .5 -.2 .5 .3 1 .2 1 .1 1 .1 1 -.1 1 -.3 1 -0 1 -.2 1 .2 1 -.1 1 .2 1 -.2 1 -.3 1 -.2 1 .3 1 -.1 1 -0 .4 -.3 .6 -.1 1 -.2 1 -.6 1 -.8 .7 -.6 1.3 -1.4 1 -1.2 1 -1 1 -.6 .6 -0 .4 .1 1 .7 1 .8 1 .4 .8 .2 1.2 -.8 1 -.9 1 -1.5 1 -.7 .8 -.7 1.2 .3 1 -0 1 .4 1 .3 1 .5 1 .8 1 .5 1 .4 1 0 1 -.3 1 -.4 1 -.2 .5 -.1 .5 -.1 1 .7 1 1.1 1 1.7 1 .8 1 .7 1 -0 1 .1 1 -0 1 -.2 1 -.1 1 0 1 .1 1 -0 1 .2 1 -0 1 .4 .4 -.1 .6 .2 1 -.9 1 -.8 1 -1.3 .6 -.8 .4 -.6 1 -1.6 1 -2 1 -1.9 1 -1.6 .6 -.5 .4 -0 1 .4 1 .3 .4 -0 .6 -.4 1 -1.2 1 -1.3 1 -1 .6 -0 .4 .4 1 1.6 1 2.7 1 1.2 1 .8 1 .1 1 .9 1 -.2 .4 -.2 .6 -.1 1 1.3 1 1.1 1 1 .6 .1 .4 -0 1 -.7 1 -.5 1 -.6 .8 -.4 1.2 .3 1 .4 1 .8 1 .5 1 .5 .5 .3 .5 .2 1 -.5 1 -.5 1 -.5 1 -.3 1 -.5 1 -.8 1 -.4 1 -.2 1 .3 1 .5 1 1 1 .9 1 .3 1 -1.1 1 -2 1 -2.4 .4 -1 .6 -1.6 1 -3.8 1 -3.5 .9 -1.5 1.1 5 1 7.1 .8 2.4 1.2 -.4 1 -.4 1 -.1 1 -.4 1 -2.1 1 -3.9 1 -3.8 1 -2.3 1 1.6 1 4.8 1 4.1 1 2.4 1 1.9 1 1.3 .6 .1 .4 -.4 1 -1.7 1 -2.8 1 -3.3 1 -3.1 1 -1.5 1 1 1 3.3 1 3.8 .8 2 1.2 2.1 1 1.4 1 1.6 1 .8 .7 .5 1.3 .1 1 .5 1 .3 1 .4 1 .4 1 .2 .7 .1 1.3 -.2 1 -.4 1 -.3 1 -.5 1 -.2 1 -.7 .8 -.4 1.2 -1.2 1 -1.2 1 -1.1 1 -.4 1 0 1 .2 1 .3 1 .4 1 0 1 -1.9 1 -2.3 1 -2.3 1 -1.3 1 .7 1 1.6 1 2.1 1 1.1 .4 0 .6 .3 1 -.3 1 0 1 -.4 1 .7 1 .8 1 1.6 1 1.5 1 1.1 .6 .3 .4 .1 1 .6 1 .3 1 .1 1 -.3 1 -.1 1 -.3 1 -.8 1 -1.1 1 -1.2 1 -1.3 1 -.6 .6 .1 .4 -0 1 .5 1 .8 1 .6 1 .3 1 -.6 1 -.9 1 -1 1 -.2 1 .4 1 1.2 1 1.4 1 1.6 1 1.2 1 .8 .4 .3 .6 -.1 1 .3 1 .4 1 .3 1 .2 1 .1 1 .2 1 .2 .9 -.2 1.1 .3 1 .1 1 .3 1 -.2 1 -.2 1 -.3 1 -.3 1 .3 1 -.3 1 .3 1 0 1 .5 1 -.2 1 0 1 -.3 1 -.2 1 -.2 1 0 .5 0 .5 .4 1 .1 1 -.1 1 -.1 1 -.1 1 0 1 -.2 1 -.1 1 .2 1 -.1 1 .2 1 -.2 1 0 1 -.3 1 .4 1 -.2 1 .4 1 -.3 1 .3 1 -.4 1 -.1 .5 0 .5 -.2 1 -.5 1 -1.6 1 -.8 1 -1.3 1 -1.2 1 -1 .6 -.2 .4 .7 1 .6 1 .5 1 .8 1 .5 .5 .4 .5 -.4 1 -.9 1 -1.4 1 -.6 .8 -.1 1.2 .8 1 .6 1 1.3 1 1 1 1 1 .4 1 .2 1 .5 1 .3 1 .7 1 .1 1 .4 1 -.2 1 .4 1 -.2 1 .1 1 .1 .4 .5 .6 0 1 -.3 1 .2 1 -.2 1 .4 1 -.5 1 -.2 1 -.3 1 0 1 -.2 1 0 1 .4 1 .2 1 .1 1 -.5 1 0 1 -.1 1 -.1 1 -.1 1 -.1 1 0 1 -.1 1 -.4 1 -.6 1 -1.2 1 -1.1 1 -1.1 1 -1.3 1 -1.3 1 -.9 1 -.4 1 .5 1 1.5 1 1.8 1 1.1 1 -.7 1 -1.6 1 -1.9 1 -1.5 .9 -.5 1.1 .4 1 1.3 1 1.6 1 2.1 1 1.6 1 1.2 1 .5 1 .5 1 .2 1 .3 1 -.1 1 .1 1 0 1 .4 1 .3 1 .2 1 0 1 0 1 0 1 0 1 .1 1 .4 .5 -.3 .5 .1 1 -.5 1 .3 1 -.3 1 -.1 1 .1 1 .1 1 .4 1 -.3 1 -.2 1 -.1 1 0 1 0 1 -.4 1 0 1 -.4 1 0 1 -.1 1 .3 1 .1 1 -.1 1 -.2 1 -.3 1 .2 1 -.3 .9 0 1.1 -.9 1 -1.2 1 -1.4 1 -1.3 1 -1.1 1 -1.1 .9 -.4 1.1 .4 1 .8 1 .7 1 .1 1 -.6 1 -1.8 1 -1.8 1 -1.5 1 -.7 1 .4 1 1.5 1 2.1 1 2.1 1 1.2 .7 0 1.3 -.8 1 -1.1 1 -.9 1 -.6 .4 .2 .6 .3 1 .9 1 1.1 1 1.4 1 1.2 1 1.1 1 .9 .7 .7 1.3 .1 1 .1 1 0 1 .3 1 .3 1 .2 1 .1 1 .4 1 .1 1 .3 1 0 1 0 1 -.5 1 0 1 -.2 1 .7 1 -.2 1 .2 1 -.5 1 -.1 1 0 1 .2 1 .4 1 .1 1 .2 1 0 1 -.3 1 0 1 -.4 1 .3 1 -.2 1 .2 1 .1 1 .1 1 -.2 1 -.4 1 -.1 1 .1 1 .3 1 0 1 .3 1 .2 1 0 1 -.4 1 -.3 1 .1 1 .2 1 .2 1 -.5 1 -.1 1 .1 1 .3 1 -.1 .1 -.1" fill="none" stroke="#2A52E2" stroke-width="1.5" stroke-linejoin="round" stroke-linecap="round" />
<path d="M100.5 1010.1l1 0 1 .1 1 .2 1 .1 1 -.3 1 .1 1 -.2 1 .1 1 -.4 1 -.1 1 -.1 1 -.1 1 .2 1 -.1 1 .3 1 -.1 1 -0 1 -.1 1 0 1 .4 1 .2 1 .2 1 -.1 1 .2 1 -.1 1 -.1 1 -.1 1 -0 1 -.1 1 0 1 -.1 1 .3 1 0 1 -.1 1 -.2 1 -.1 1 -.1 1 -.2 1 0 1 .1 1 0 1 0 1 0 1 0 1 -.1 1 -.1 1 0 1 -.1 1 0 1 -.1 1 0 1 .1 1 .1 1 .2 1 0 1 .3 1 -.2 1 0 1 -.2 1 -.1 1 0 1 -.1 1 .2 1 -.3 1 .1 1 -.1 1 .3 1 -.1 1 .2 1 -.1 1 .2 1 -.2 1 0 1 -.1 1 .1 1 -.1 1 .1 1 -.3 1 0 1 -.2 1 .2 1 0 1 .1 1 -.1 1 -.3 1 -.2 1 -.1 1 .1 1 0 .5 .4 .5 -.1 1 .1 1 -.2 1 .1 1 .1 1 -.2 1 -.2 1 0 1 .2 1 -.4 1 -.1 1 .1 1 .1 1 -.4 .6 -.4 .4 0 1 .2 1 -.1 1 -.6 1 -.3 1 -.3 1 .1 .7 0 1.3 -.8 1 -.8 1 -1.1 1 -.9 1 -1.1 1 -.6 .7 -.4 1.3 .7 1 .4 1 .7 .9 .2 1.1 -.2 1 -1 1 -1.4 1 -1.7 1 -1.1 .6 -.3 .4 0 1 .7 1 .9 1 1.2 .8 .5 1.2 1.1 1 .7 .6 .1 .4 .1 1 -.8 1 -.4 .5 -.2 .5 .2 1 .7 1 .9 1 .8 .7 .2 1.3 .9 1 .9 1 .3 1 .2 1 .1 1 -.2 1 -.8 1 -.8 1 -.8 1 -.9 1 -1.1 1 -1.2 1 -.8 1 -1.1 1 -.7 1 -.7 .6 -.4 .4 -.2 1 -.9 1 -.8 1 -.6 1 -.1 1 -.4 1 .2 1 .9 1 2.1 1 1.7 .5 .8 .5 .2 1 1.2 1 1.2 1 .7 .7 .4 1.3 -.7 1 -.6 1 -1 1 -.7 1 .2 1 .7 1 .8 1 .7 1 -.2 1 -.7 1 -.9 1 -.4 .4 .1 .6 -0 1 .3 1 .3 1 .9 1 .4 1 .5 1 -0 1 -.3 1 -1 1 -1 1 -.7 1 -.2 1 -.1 1 .3 1 .5 1 .5 1 .2 .4 .3 .6 -.3 1 -3 1 -4.7 1 -4.5 1 -3.3 .7 -.7 1.3 3.2 1 4.6 .8 2.8 1.2 2.9 1 2 1 .9 .4 -0 .6 -.7 1 -2.4 1 -2.8 1 -2.8 1 -3.3 1 -2.7 .7 -.7 1.3 3.2 1 4.8 1 4.2 .9 1.5 1.1 -2.3 1 -3.4 1 -3.5 1 -2.3 .6 -.5 .4 .2 1 2.7 1 4.1 .7 2.2 1.3 3.4 1 2.4 1 1.9 1 1.6 .6 .4 .4 .2 1 -.3 1 -.1 1 .4 1 .6 1 -0 1 -.1 .7 -.2 1.3 -0 1 -.7 1 -.8 1 -1.1 1 -.5 1 -.2 .7 .3 1.3 .4 1 .5 1 .2 1 .1 1 -.2 1 -.5 1 -.9 1 -.9 .9 -.3 1.1 .5 1 .8 1 1 1 .9 1 .8 1 .4 1 -.1 1 -.9 1 -1.2 1 -1.7 1 -1.2 1 -.7 .6 -.3 .4 -.1 1 .6 1 1.2 1 .4 1 .1 1 -.7 1 -.7 1 -.8 .4 .1 .6 .3 1 .5 1 1 1 1.2 1 1.3 1 .8 1 .5 .4 .6 .6 -0 1 -.4 1 -1.6 1 -.9 1 -1 1 -.7 1 -.9 1 -.7 .9 0 1.1 .5 1 .9 1 .8 1 .5 1 -.2 1 -.7 1 -.9 .6 -.2 .4 -.4 1 .7 1 .9 1 1.5 1 1.1 1 1.1 1 .5 1 .7 1 .3 1 .6 1 0 1 .2 1 .1 1 0 1 .4 1 .2 .9 .4 1.1 -.1 1 -.2 1 -.4 1 0 1 -.1 1 .3 1 0 1 0 1 -.7 1 0 1 -.2 1 .7 1 0 1 0 1 -.2 1 .1 1 .1 1 0 .5 -.5 .5 -.2 1 -.2 1 .3 1 -.1 1 -.1 1 -.1 1 .1 1 .4 1 .2 1 .2 1 0 1 -.2 1 -.4 1 .1 1 -.1 1 .2 1 -.2 1 0 1 0 1 .1 1 .3 1 .3 1 0 1 -.2 1 -.2 1 -.3 1 -.2 1 0 1 0 1 .3 1 -.5 1 -.5 1 -1 1 -1 1 -1.5 1 -1 1 -.9 .8 0 1.2 .3 1 1 1 .7 1 .8 1 -.4 1 -.8 1 -1.2 1 -1 .9 -.2 1.1 .7 1 1.2 1 1.1 1 1.2 1 1.5 1 1.1 1 .6 1 -.1 1 .2 1 -.2 1 0 1 -.1 1 .2 1 -.2 1 -.2 1 -.1 1 0 1 0 1 0 1 .1 1 .1 1 -.1 1 .2 1 .2 1 .1 1 0 1 .1 1 -.1 1 .1 1 0 1 .2 1 -.3 .4 -.1 .6 -.4 1 -1.1 1 -1.9 1 -2.2 1 -2.2 1 -1.3 .7 -.3 1.3 1.4 1 1.9 1 1.8 1 .6 1 -.7 1 -1.3 1 -1.5 1 -1 .6 -.2 .4 .3 1 .6 1 1.4 1 1.6 1 2.1 1 1.4 .5 .1 .5 0 1 .4 1 .3 1 0 1 .3 1 .2 1 .2 1 0 1 .3 1 .3 .4 -.2 .6 -.4 1 .1 1 .2 1 .5 1 -.1 1 0 1 -.3 1 0 1 -.1 1 0 1 .2 1 -.1 1 -.1 1 -.1 1 -.1 1 0 1 -.2 1 -.2 1 .1 1 -.1 1 .3 1 -.1 1 -.2 1 -.4 1 -.2 1 0 1 .1 1 0 1 0 1 -.2 1 -.2 1 .1 .9 0 1.1 -.3 1 -.9 1 -1.3 1 -1.2 1 -1.4 1 -1 1 -.9 1 -.2 1 .3 1 .4 1 .6 .9 .2 1.1 -.4 1 -1.6 1 -2 1 -2.1 1 -1.4 .5 0 .5 .1 1 1.7 1 1.5 1 2.5 1 1.6 1 1 1 -.6 1 -1 1 -.8 1 -.1 .4 0 .6 .2 1 .7 1 1.6 1 1.4 1 1.4 1 1 .7 .8 1.3 0 1 0 1 -.2 1 .5 1 .5 1 .4 1 .3 1 .1 1 -.1 1 0 1 -.1 1 .4 1 .2 1 .1 1 -.2 1 -.2 1 0 1 -.1 1 -.1 1 0 1 -.1 1 .3 1 -.2 1 0 1 0 1 .4 1 .1 1 0 1 -.4 1 -.2 1 0 1 .2 1 .1 1 .1 1 .2 1 0 1 -.3 1 -.4 1 .1 1 .2 1 .4 1 -.1 1 -.2 1 -.3 1 .4 1 .3 1 .1 1 -.3 1 -.3 1 0 1 .2 1 .1 1 0 .1 -.3" fill="none" stroke="#262626" stroke-width="1.5" stroke-linejoin="round" stroke-linecap="round" />
<path d="M100.5 1041.1l1 -.2 1 -.3 1 .3 1 .1 1 .2 1 0 1 0 1 0 1 -.3 1 .3 1 0 1 -.1 1 0 1 .3 1 .3 1 -.2 1 -.2 1 -.3 1 0 1 .2 1 .2 1 -.1 1 -.4 1 -.1 1 .4 1 .3 1 0 1 -.1 1 -.1 1 -0 1 -.2 1 -0 1 -0 1 -.2 1 .2 1 .1 1 0 1 .2 1 0 1 .3 1 -.2 1 -.3 1 -.1 1 -0 1 -.1 1 .1 1 .2 1 -.1 1 .2 1 -.4 1 .1 1 -.3 1 .1 1 .2 1 .3 1 .1 1 .1 1 -.3 1 0 1 -.5 1 -.1 1 .3 1 .2 1 .3 1 -.2 1 .1 1 -.3 1 -.2 1 .3 1 .3 1 -.1 1 -.3 1 -.3 1 .1 1 0 1 .1 1 -.2 1 -.2 1 0 1 .1 1 .4 1 .1 1 -.1 1 .1 1 -.2 1 .1 1 0 1 -.1 1 -.1 .5 0 .5 .1 1 -.1 1 -.1 1 -.2 1 -.2 1 0 1 .1 1 .2 1 0 1 -.4 1 .2 1 -.2 1 .1 1 -.3 1 -.1 1 0 1 -.1 1 -.4 1 0 1 -.3 1 -.1 .7 -.1 1.3 -.4 1 -.3 1 -1 1 -.8 1 -1 1 -.7 1 -.6 1 -.3 1 .5 1 .4 1 .3 1 .3 .4 .1 .6 .3 1 -.9 1 -1.5 1 -1.8 1 -1.5 1 -.8 1 .6 1 1.4 1 1.7 1 .7 1 .1 1 -.3 1 -.3 .8 -.3 1.2 .5 1 .6 1 1.2 1 .7 1 1 1 .5 1 .4 .5 0 .5 .1 1 -.1 1 -.7 1 -1 1 -1.1 1 -.9 1 -.5 .6 -.5 .4 -.2 1 -.7 1 -.9 1 -.6 1 -.9 1 -.4 1 -.6 1 -.7 1 -.1 1 .2 1 .9 .9 .7 1.1 1 1 1.2 1 1.5 1 2.1 1 1.3 .5 .3 .5 -.2 1 -.4 1 -.5 1 -.8 1 -.7 1 -.5 1 -.2 .6 .1 .4 0 1 .6 1 .7 1 .7 .8 .2 1.2 -.6 1 -1.1 1 -1.2 1 -.8 .7 .1 1.3 .3 1 .4 1 .5 1 .8 1 .4 1 .1 1 0 .5 .2 .5 .1 1 -.4 1 -.1 1 -.4 1 -.2 1 -1 .8 -.6 1.2 -1.7 1 -1.6 .7 -1.4 1.3 -6.3 1 -4.2 1 1.9 1 4.8 .6 2.5 .4 1.4 1 2.7 1 1.9 1 .8 1 0 1 .1 1 -.1 .7 .1 1.3 -7.5 1 -6.2 1 .4 1 2.2 1 2.3 1 1 1 -1.3 1 -3 1 -2.2 1 1 1 3 1 4 1 2.4 1 2.8 1 2 1 1.6 .6 .7 .4 -.1 1 .6 1 .4 1 .4 .8 0 1.2 -.3 1 -.5 1 -.9 1 -1 1 -.6 1 -.1 1 .2 1 .3 1 .7 1 1 1 .4 1 -.3 1 -.9 1 -1.1 1 -.6 1 -.1 1 .6 1 .7 1 1.1 1 1.1 1 .8 1 .9 1 .5 .8 .1 1.2 -.1 1 -0 1 .1 1 -.4 1 -.3 1 -.2 1 .3 1 -.1 1 .1 1 -1 1 -.9 1 -1.4 1 -.7 1 -.8 .6 -.2 .4 -.2 1 .6 1 .6 1 .4 1 -.2 1 -.7 1 -.7 1 -.6 .4 -.1 .6 0 1 .6 1 1 1 .9 1 1 1 .8 1 .7 .4 .2 .6 0 1 -.9 1 -.7 1 -1.4 1 -1 1 -1.1 .8 -.2 1.2 .3 1 1 1 .8 1 .4 1 -.4 1 -.6 1 -.8 1 -.6 1 .3 1 1.1 1 1.1 1 1.3 1 1.2 1 1 .6 .3 .4 .2 1 0 1 .1 1 -.1 1 .5 1 0 1 0 1 .2 1 .1 1 .5 1 -.2 .9 0 1.1 -.4 1 -.2 1 .1 1 .3 1 .4 1 -.1 1 0 1 0 1 .4 1 .1 1 0 1 0 1 -.4 1 0 1 -.3 1 .5 1 .2 1 .1 .5 -.3 .5 -.2 1 .1 1 0 1 0 1 -.2 1 .1 1 .1 1 0 1 0 1 -.1 1 .3 1 0 1 0 1 -.1 1 0 1 -.1 1 -.1 1 -.3 1 .2 1 -.2 1 .2 1 -.1 1 .3 1 .1 1 0 1 -.2 1 -.5 1 .1 1 -.1 1 -.1 1 -.1 1 .4 1 .2 1 .1 1 0 1 0 1 -.2 1 -.5 1 -1 1 -1.2 1 -1.4 1 -1.5 1 -1.3 .8 -.4 1.2 .6 1 .7 1 .9 1 .7 1 .7 1 -.5 1 -.9 1 -1.1 1 -.6 1 .2 1 .8 1 .4 1 .9 1 .7 1 1.5 1 .8 1 .4 1 -.3 1 -.1 1 .1 1 .2 1 .4 1 .1 1 .1 1 -.1 1 .3 1 .2 1 -.1 1 -.2 1 .1 1 .2 1 -.2 1 -.9 1 -1 1 -.9 1 -1 1 -1.1 1 -1.6 1 -1.3 1 -.8 1 .3 1 1 1 1.5 1 1.4 1 1.1 1 -.1 1 -1.6 1 -1.9 1 -1.3 .5 -.1 .5 .1 1 .7 1 .9 1 1.8 1 1.4 1 1.7 1 .3 .5 .4 .5 -.2 1 .3 1 .1 1 .1 1 .4 1 .2 1 .1 1 0 1 -.1 1 .1 1 .1 1 .3 1 0 1 -.1 1 -.2 1 .1 1 -.1 1 .2 1 -.3 1 .1 1 0 1 .3 1 -.3 1 -.1 1 -.2 1 .2 1 0 1 .4 1 .1 1 -.2 1 0 1 0 1 .1 1 -.3 1 0 1 .3 1 -.3 1 -.1 1 -.1 1 .4 1 .1 1 -.4 .9 .1 1.1 -.5 1 -.4 1 -1.6 1 -1.2 1 -1.3 1 -.3 .9 -.4 1.1 -.3 1 -.3 1 -.1 1 0 1 -1.1 1 -1.8 1 -2.3 1 -1.5 .7 -.4 1.3 1.4 1 2.2 1 2.4 1 1.5 1 .6 1 -.5 1 -.9 1 -1.3 1 -.6 1 .5 1 1.4 1 1.9 1 1.6 1 1.2 .9 .6 1.1 .3 1 .3 1 .4 1 .1 1 .1 1 -.1 1 .3 1 .3 1 .3 1 .3 1 0 1 -.2 1 -.1 1 .2 1 .1 1 .1 1 0 1 0 1 -.1 1 -.4 1 -.1 1 -.2 1 .2 1 0 1 .3 1 .2 1 0 1 -.1 1 -0 1 -.2 1 0 1 -.1 1 -0 1 -0 1 .1 1 .4 1 -.1 1 -0 1 .1 1 .1 1 -.3 1 -0 1 -.2 1 .2 1 -0 1 .3 1 .3 1 -.6 1 -0 1 -.5 1 .5 1 -.4 1 .3 1 .1 1 .3 1 -.1 .1 -.2" fill="none" stroke="#CC66FF" stroke-width="1.5" stroke-linejoin="round" stroke-linecap="round" />
<path d="M100.5 1073.9l1 -.1 1 .4 1 .2 1 -0 1 .1 1 -.3 1 .1 1 -.1 1 .3 1 .2 1 -.2 1 -0 1 -.3 1 .4 1 -0 1 .2 1 -.4 1 -.2 1 -0 1 -0 1 .1 1 -.1 1 -0 1 .1 1 -0 1 -0 1 -.3 1 .3 1 -.1 1 .1 1 -.1 1 .1 1 .1 1 0 1 .1 1 -.2 1 0 1 -.2 1 0 1 -.1 1 .3 1 .2 1 0 1 -.2 1 0 1 .1 1 .3 1 -.3 1 0 1 -.6 1 .4 1 -.1 1 .3 1 0 1 0 1 -.1 1 -.2 1 .2 1 .3 1 -0 1 -0 1 -.3 1 -.3 1 -.3 1 -0 1 .3 1 .2 1 -0 1 -.2 1 -.1 1 -.2 1 .2 1 .1 1 .4 1 -.3 1 -.2 1 -.1 1 .1 1 .2 1 .1 1 -0 1 -.2 1 -.2 1 .4 1 -.1 1 .3 1 -.2 1 -.3 1 -0 .5 -0 .5 .3 1 -.3 1 -.1 1 .2 1 -0 1 .1 1 -.1 1 -.1 1 -.2 1 -.1 1 .4 1 -0 1 -.1 1 -.3 1 -.3 1 .1 1 -.1 1 .1 1 -.1 1 -0 1 -.2 1 .2 1 -.3 1 -.2 1 -1.3 1 -1.5 1 -1.7 1 -1.7 1 -1.4 1 -1.1 .8 -.1 1.2 .8 1 1.1 1 .8 1 .3 1 -1 1 -1.6 1 -2.4 1 -1.7 1 -1.5 .7 -.2 1.3 2 1 2.9 1 2.1 1 -.1 1 -.2 1 -.4 1 -0 .5 -.3 .5 -0 1 .5 1 1.5 1 1.6 1 1.2 1 .6 1 -.3 1 -.4 1 -1 1 -1.1 1 -1.2 1 -.7 1 -.3 1 .1 1 -.4 1 .3 1 -0 .4 .6 .6 -.5 1 -1.8 1 -2.7 1 -2 .6 -.5 .4 -.1 1 .5 1 .7 1 1.2 .9 .9 1.1 1.4 1 1.3 1 1.3 1 1 1 .9 1 .8 .9 .3 1.1 -.4 1 -.9 1 -1.3 1 -.9 1 -.8 .6 -.1 .4 -0 1 1.1 1 1.4 1 1 1 -.2 1 -.2 1 -1.3 1 -1 1 -1 .7 .2 1.3 .4 1 .7 1 .4 1 .9 1 .3 1 .1 1 -.2 1 -.5 1 -.7 1 -1.2 1 -1.5 .7 -1 1.3 -3.6 1 -4.2 1 -4.3 1 -2.9 .7 -.6 1.3 4.1 1 5.2 .5 2 .5 1.7 1 3.6 1 3.2 1 1.2 1 -.5 1 -.8 1 -1.1 .5 -.4 .5 -1.6 1 -6 1 -6.3 1 -3.7 1 1.7 1 2.1 1 -.5 1 -1.8 1 -1 1 2.1 1 5 1 5.6 .5 2.3 .5 1.9 1 3.7 1 2.3 1 .1 1 -.3 1 -.3 1 -.3 1 -.4 1 -.8 1 -.4 1 -.4 1 -.1 1 -0 1 .3 1 .6 1 1 1 .6 1 .7 1 -.9 1 -1 1 -1.2 .7 -.1 1.3 .4 1 .9 1 .7 1 1.3 1 1.2 1 1.2 1 .5 1 .4 1 .1 1 -0 1 .1 1 .3 1 .1 1 -.1 1 -0 1 -.2 1 .2 1 -.4 1 -.3 .4 -.2 .6 -.2 1 -.4 1 -1.2 1 -1.1 1 -1.1 1 -1.2 1 -1.3 1 -.8 1 -.5 .6 .1 .4 .1 1 .6 1 .8 1 .5 .8 0 1.2 -.2 1 -.9 1 -.4 .4 -.3 .6 .4 1 .8 1 1.5 1 1.4 1 1.2 1 .5 1 -.4 1 -.7 1 -1 1 -1.3 1 -1.2 1 -1 1 -.4 .8 0 1.2 .8 1 1.1 1 .9 1 .4 1 -.4 1 -.6 1 -.7 1 -.3 1 .4 1 .5 1 .8 1 1.2 1 1.7 1 1.4 1 1 1 0 1 0 1 .1 1 .4 1 .4 1 -.1 1 -.4 1 -.2 1 .4 1 .1 1 0 1 0 1 -.1 1 .1 1 -.1 1 .2 1 .1 1 0 1 .1 1 -.1 1 .4 1 -.2 1 -.1 1 -.4 1 .1 1 .2 1 .5 1 .1 1 -.4 .5 -.5 .5 0 1 0 1 .3 1 0 1 .1 1 .1 1 -.2 1 0 1 -.2 1 .5 1 -.2 1 -.3 1 -.3 1 -.1 1 -.1 1 .3 1 .1 1 0 1 -.3 1 .1 1 0 1 0 1 .1 1 .2 1 -.1 1 0 1 .1 1 .1 1 -.6 1 -.1 1 -.2 1 .4 1 -.3 1 -.1 1 -.4 1 0 1 .3 1 -.3 1 -.7 1 -1.3 1 -1.3 1 -1.2 1 -1.3 1 -.6 1 -.6 .5 .1 .5 -.1 1 1 1 1.1 1 .9 1 .3 .5 .3 .5 .1 1 -.5 1 -1.6 1 -1.2 1 -.7 1 .3 1 .8 1 1.2 1 1.3 1 1.4 1 1.3 1 .6 .5 .1 .5 .3 1 .4 1 0 1 -.3 1 .4 1 .3 1 .2 1 -.2 1 0 1 .1 1 -.1 1 -.3 1 -.1 1 .1 .6 .4 .4 -.1 1 -.8 1 -1.3 1 -1.5 1 -1.7 1 -1.7 1 -1.6 1 -.9 1 .1 1 1.3 1 1.9 1 1.6 .6 .4 .4 .1 1 -1.4 1 -2.5 1 -2.3 .8 -.8 1.2 1.4 1 1.8 1 2.1 1 1.8 1 1.8 1 1.3 .8 0 1.2 -.1 1 -.3 1 .3 1 .5 1 .2 1 -.3 1 -.4 1 0 1 .1 1 .3 1 -.1 1 -.1 1 .1 1 .3 1 .2 1 -.3 1 -.1 1 .4 1 0 1 -.1 1 -.5 1 .2 1 -.1 1 .1 1 -.1 1 -.1 1 -.2 1 .1 1 0 1 0 1 -.1 1 -.1 1 .1 1 -0 1 .1 1 -.4 1 -.1 1 -.2 .6 .3 .4 .1 1 -.4 1 -.8 1 -1.2 1 -1.3 1 -1.3 1 -1.2 1 -.8 1 -.6 1 0 1 .1 1 .6 .6 .3 .4 .1 1 -1.7 1 -2.4 1 -2.2 .9 -.6 1.1 1.2 1 2.3 1 2.6 1 1.4 1 0 1 -.4 1 -.4 1 -.5 1 -.2 1 .5 1 1.3 1 1.6 1 1.6 1 1.5 1 .7 .4 .3 .6 .1 1 .1 1 .1 1 0 1 0 1 .1 1 0 1 .3 1 .1 1 .1 1 -.2 1 .2 1 .1 1 .1 1 -.3 1 -.1 1 .4 1 .2 1 .2 1 -.3 1 -.1 1 .1 1 -.2 1 0 1 -.2 1 .1 1 .3 1 0 1 .5 1 0 1 0 1 0 1 -.1 1 .1 1 .1 1 0 1 .1 1 -.4 1 .1 1 0 1 .4 1 -.2 1 .2 1 -.1 1 .1 1 -.4 1 0 1 -.2 1 .3 1 -.2 1 -.2 1 .1 1 .2 1 .3 1 0 1 -.1 1 .2 1 0 1 .1 1 -.2 .1 -.1" fill="none" stroke="#FF6A1A" stroke-width="1.5" stroke-linejoin="round" stroke-linecap="round" />
<path d="M100.5 1107.7l1 .2 1 -.5 1 .1 1 -.3 1 .1 1 0 1 .1 1 -.2 1 -.2 1 0 1 .4 1 0 1 .3 1 -.1 1 0 1 .1 1 0 1 .1 1 -.4 1 0 1 .1 1 .1 1 .1 1 .1 1 -.1 1 .1 1 -.1 1 .2 1 -.5 1 .2 1 -.1 1 .4 1 -.3 1 .1 1 0 1 .4 1 .1 1 -.1 1 -.5 1 -.1 1 -.2 1 0 1 .1 1 0 1 .5 1 0 1 .2 1 .3 1 0 1 -.1 1 -.3 1 .2 1 -.4 1 0 1 -.3 1 .1 1 -.2 1 0 1 .2 1 .1 1 -.1 1 -.1 1 .2 1 .1 1 .2 1 -.1 1 .2 1 -.2 1 -.4 1 .3 1 .2 1 .1 1 -.2 1 -.2 1 0 1 .2 1 .2 1 .1 1 -.1 1 -.2 1 0 1 -.3 1 -.3 1 0 1 .1 1 .2 1 -.2 1 0 1 .1 .5 .1 .5 -.1 1 -.2 1 .1 1 .2 1 0 1 .2 1 -.3 1 0 1 .3 1 -.1 1 .2 1 -.6 1 .3 1 -.2 1 .3 1 -.1 1 -.3 1 .2 1 0 1 .2 1 -.6 1 -.4 1 -.1 1 .3 .5 0 .5 -.4 1 -.8 1 -1.2 1 -1.2 1 -1.8 1 -1.2 1 -1.2 1 -.4 1 0 1 .6 1 .5 1 .5 .5 -.1 .5 0 1 -1.7 1 -2.2 1 -2.2 1 -1.2 .4 -.2 .6 0 1 1.2 1 2.1 1 1.6 .6 .7 .4 -.1 1 .5 1 .4 1 .8 1 .4 1 1 1 .7 1 1.2 1 .6 1 .8 1 .2 1 .5 1 .3 1 .7 .8 0 1.2 -.3 1 -.8 1 -1 1 -1.1 1 -1.3 1 -.7 1 -.7 1 -.3 1 -.1 1 .6 1 .8 1 .6 .5 .2 .5 -.5 1 -.9 1 -.9 1 -.5 .7 -.3 1.3 .2 1 .2 1 .5 .9 .3 1.1 -.4 1 -.5 1 -1 1 -1.2 1 -1.4 1 -1.3 1 -.8 1 -.2 .4 .2 .6 .3 1 1 1 1.5 1 1.6 .6 .5 .4 0 1 -.7 1 -.9 1 -.5 .8 .2 1.2 .5 1 .6 1 .4 1 .4 1 .5 1 .4 1 .4 .6 -.5 .4 0 1 -2.1 1 -3.2 1 -4.2 1 -4.1 1 -3.3 1 -1.4 1 2.5 1 4.9 .8 3 1.2 2.5 1 2.3 1 1.7 1 1.1 .7 .3 1.3 -.8 1 -1.3 1 -1.6 1 -3.6 1 -6.2 1 -4.2 1 -.5 1 -.7 .9 -.3 1.1 1.8 1 3.7 .7 2.6 1.3 5.1 1 4.3 1 3.4 .9 1.3 1.1 -.1 1 -.5 1 -.5 1 -.8 1 -.5 1 -.4 1 .1 1 .8 1 .8 1 .8 1 .3 1 -.3 1 -.5 1 -.7 1 -.5 .5 -.4 .5 .1 1 .7 1 1.2 1 1 1 1.1 1 1.2 1 1 1 .6 .9 0 1.1 0 1 0 1 -.1 1 .1 1 0 1 .1 1 -.2 1 .2 1 -.1 1 0 1 -.3 1 .2 1 .2 1 .2 1 -.3 1 -.1 .9 -.2 1.1 -.3 1 -.9 1 -1.1 1 -1.6 1 -.9 1 -1.3 1 .1 .6 -.4 .4 .5 1 .1 1 1.2 1 .5 1 -.5 1 -1 1 -1.2 1 -.2 .4 0 .6 .3 1 .6 1 1 1 1.3 1 1.1 1 .9 1 .6 .4 .2 .6 .1 1 -.5 1 -.9 1 -1.1 1 -1 1 -1.4 1 -.8 1 -.9 1 .8 1 1.1 1 1.5 1 .8 .4 0 .6 -.2 1 -1 1 -1.2 1 -1.3 .6 -.1 .4 0 1 1 1 1 1 1 1 1.5 1 1.1 1 .9 1 .5 .4 .2 .6 .5 1 .1 1 .3 1 .1 1 -.2 1 -.1 1 0 1 .2 1 0 1 -.1 1 .2 1 -.1 1 -.3 1 -.1 1 0 1 .3 1 .2 1 0 1 0 1 -.2 1 0 1 -.1 1 0 1 .3 1 -.1 1 .1 1 -.1 .5 .1 .5 .2 1 .2 1 .1 1 .1 1 -.2 1 .1 1 -.1 1 0 1 0 1 -.2 1 -.2 1 -.4 1 .2 1 0 1 .3 1 -.3 1 .1 1 -.1 1 .2 1 0 1 0 1 .1 1 .1 1 -.4 1 0 1 -.1 1 .2 1 -.2 .6 -.3 .4 .2 1 -.3 1 0 1 -.5 1 -.4 1 -.6 1 -.5 .6 -.2 .4 -.3 1 -.9 1 -1 1 -1.1 1 -.7 .6 -.3 .4 0 1 .6 1 1 1 .8 1 .5 .5 -.1 .5 -.1 1 -.6 1 -.8 1 -.6 .8 -.3 1.2 .7 1 .7 1 1.1 1 .7 1 1 1 .6 .8 .3 1.2 .4 1 .4 1 .6 1 .1 1 .3 .5 -.2 .5 .1 1 .2 1 -.1 1 -.3 1 -.2 1 0 1 0 1 -.2 1 -.4 1 .1 1 0 1 -.2 1 -.2 1 -.1 .6 0 .4 -.2 1 -.9 1 -1.1 1 -1.3 1 -1.3 1 -1.7 1 -1.2 .6 -.5 .4 .1 1 1.2 1 1.5 1 1.7 .8 .8 1.2 -.6 1 -.9 1 -1.1 1 -1 .8 -.7 1.2 .3 1 1.3 1 1.5 1 1.5 1 1.2 1 .8 1 .6 1 .3 1 .4 1 .1 1 .3 .8 -.1 1.2 .2 1 -.3 1 -.2 1 .2 1 .3 1 .1 1 -.2 1 .2 1 .3 1 -.3 1 -.5 1 -.5 1 -.1 1 .2 1 .4 1 0 1 -.4 1 -.7 1 -.2 1 .1 .9 .2 1.1 -.6 1 -.7 1 -1.2 1 -1.1 1 -1.2 .6 0 .4 -.2 1 -.4 1 -.3 1 -.2 .8 -.4 1.2 -1.4 1 -1.6 1 -1.6 1 -1.1 1 .1 1 1.2 1 2 1 1.9 1 .8 .7 .2 1.3 -.4 1 .2 1 -.1 .9 -.2 1.1 0 1 1 1 1.3 1 1.8 1 1 .6 .3 .4 .2 1 .2 1 .5 1 .1 1 .4 1 .2 1 .3 1 .2 1 .4 1 .2 1 -.1 1 0 1 .4 1 .3 1 -.2 1 -.2 1 -.1 1 .1 1 -.1 1 -.3 1 -.2 1 .1 1 .6 1 0 1 -.1 1 -.3 1 0 1 0 1 .2 1 .1 1 -.1 1 -.1 1 0 1 -.1 1 -.2 1 -.2 1 .1 1 .1 1 0 1 -.1 1 .4 1 .1 1 .3 1 -.4 1 .1 1 -.5 1 0 1 -.1 1 .3 1 .1 1 -.3 1 0 1 .1 1 .4 1 0 1 -.1 1 .1 1 -.2 1 .1 1 -.3 1 .2 1 .2 1 -.1 1 0 1 0 1 0 1 -.1 1 -.2 1 .4 1 .2 1 0 1 -.6 1 -.3 1 .1 1 .3 .1 .1" fill="none" stroke="#FF7F7F" stroke-width="1.5" stroke-linejoin="round" stroke-linecap="round" />
<path d="M100.5 1143.7l1 .1 1 .1 1 -.5 1 .1 1 -.2 1 .3 1 -.1 1 .3 1 -.2 1 0 1 -.4 1 .2 1 0 1 .4 1 0 1 0 1 -.3 1 .1 1 -.1 1 .1 1 -.1 1 0 1 -.1 1 .1 1 .1 1 .3 1 0 1 -.4 1 -.3 1 -.3 1 .2 1 .1 1 .3 1 .1 1 -.1 1 0 1 .1 1 -.2 1 -.1 1 -.1 1 .3 1 .1 1 .2 1 -.1 1 -.2 1 -.2 1 .2 1 .2 1 .1 1 -.1 1 .1 1 -.1 1 0 1 .1 1 0 1 .1 1 -.2 1 -.1 1 -.2 1 -.2 1 .2 1 -.1 1 .2 1 -.2 1 .4 1 .1 1 .1 1 -.1 1 -.2 1 .1 1 -.1 1 .1 1 0 1 -.2 1 .2 1 0 1 .2 1 -.2 1 -.1 1 .4 1 -.1 1 -.1 1 -.5 1 -.4 1 .1 1 0 1 .4 1 -.2 1 .2 .5 .3 .5 0 1 0 1 -.2 1 .2 1 -.1 1 0 1 .1 1 -.1 1 -.6 1 -.1 1 -.1 1 .6 1 -.2 1 0 1 -.6 1 .1 1 -.1 1 .5 1 -.1 1 0 1 -.2 1 -.5 1 0 1 -.1 1 .1 .9 -.1 1.1 -.7 1 -1 1 -1.3 1 -1.2 1 -1 1 -.8 .9 -.3 1.1 -.1 1 .5 1 .3 .5 .3 .5 -.6 1 -1.2 1 -1.9 1 -1.5 1 -1.2 .4 -.1 .6 .2 1 .7 1 .6 1 .9 1 .6 1 .9 1 .9 1 1.4 1 1.2 1 .9 1 .5 1 .3 1 .4 1 .5 1 .9 1 .8 1 .3 1 -0 .8 -0 1.2 -0 1 .1 1 .1 1 .1 1 .1 1 -.2 1 -.2 1 .1 1 -.1 1 0 1 -.5 1 -.3 1 -.2 1 -.7 1 -.4 1 -.8 1 -.5 1 -.8 1 -.7 1 -.5 1 -.5 1 -.1 1 -.2 1 -.1 1 -0 1 -.2 1 -.2 1 -.2 1 -.1 1 0 .8 -.2 1.2 -.1 1 -.2 1 -.1 1 -.4 1 0 1 -.3 1 .5 1 .4 1 .9 .7 -.1 1.3 -.3 1 -1.2 1 -1.1 1 -1.5 1 -1.9 1 -2.6 1 -4.3 1 -4.7 1 -4.2 1 -2.3 1 .8 1 3 1 4 1 3.1 .5 1.4 .5 .7 1 1.7 1 1 1 1 1 .6 .4 -0 .6 -.6 1 -2.4 1 -3.1 1 -3.6 1 -5.2 1 -4.2 .8 -1.4 1.2 1.9 1 3 .6 2.2 .4 1.7 1 8.2 1 7.6 .4 1.7 .6 .4 1 1 1 .3 .9 .7 1.1 -.7 1 -.7 1 -1 .5 .1 .5 .2 1 .9 1 1 1 .9 1 .5 .4 -.1 .6 -0 1 -.8 1 -.4 1 -.6 .6 -.1 .4 .1 1 .7 1 1.5 1 1.4 1 1.2 1 .8 1 .3 1 -.2 1 .4 1 -.1 1 .5 1 -.2 1 -0 1 -0 1 .1 1 -.1 1 .1 1 .2 1 .1 1 .2 1 -0 .8 .1 1.2 -.4 1 -.2 1 -.5 1 -.3 1 -.7 1 -.5 .9 -.9 1.1 -.7 1 -.9 1 -.8 1 -1 1 -.9 1 -.4 1 .2 1 1.1 1 .9 .7 .5 1.3 -.9 1 -1.2 1 -1 1 .4 1 .6 1 1.1 1 1.2 1 1.3 1 1.1 1 .8 1 .6 1 .3 .4 .4 .6 0 1 -.5 1 -1.1 1 -.9 1 -.9 1 -1.2 1 -1.1 1 -1 1 -.4 .6 -.2 .4 .2 1 .9 1 1.6 1 .9 .8 .3 1.2 -1 1 -1.2 1 -.8 1 -.3 1 .3 1 .6 1 1.1 1 1.6 1 1.6 1 1.2 1 .5 .8 0 1.2 .3 1 .1 1 0 1 -.5 1 .2 1 .1 1 .5 1 -.3 1 -.2 1 -.4 1 .5 1 .1 1 0 1 0 1 -.5 1 .4 1 .1 1 .2 1 -.3 1 -.4 1 .3 1 .2 1 .1 1 .2 1 -.1 .5 .2 .5 -.2 1 .1 1 0 1 -.1 1 -.2 1 -.3 1 0 1 .2 1 .4 1 0 1 -.2 1 -.3 1 -.1 1 -.2 1 -.2 1 0 1 .3 1 .2 1 -.4 1 -.9 1 -.8 1 -.9 1 -.8 1 -.7 1 -.7 1 -.2 .9 -.4 1.1 .3 1 .5 1 .7 1 .5 .4 .1 .6 0 1 -.7 1 -1.1 1 -1.2 .4 0 .6 .5 1 .7 1 .8 1 1.1 1 1.2 1 .8 1 .5 .7 .1 1.3 -.1 1 -.2 1 -.3 1 0 1 .1 1 .4 1 .1 1 -.1 1 0 1 -.1 1 0 1 -.1 1 .1 1 0 1 .3 1 -.1 1 .3 1 -.1 1 0 1 -.1 1 -.2 1 .3 1 .2 1 0 1 -.5 1 -.2 1 .3 1 .3 1 -.2 1 -.5 1 -.9 1 -.7 1 -1 1 -1.2 1 -1.2 1 -1 1 -.6 1 -.8 1 -.3 1 .1 1 1.7 1 1.8 1 1.6 .4 0 .6 -.4 1 -1 1 -1.7 1 -1.8 1 -.9 1 .3 1 1.2 1 1.1 1 1.5 1 1.2 1 1.2 1 .7 .4 .3 .6 -.1 1 -.4 1 -.6 1 -.8 1 -.8 1 -.9 1 -.9 1 -1.2 1 -.5 1 -.4 1 -.3 1 -.8 1 -.8 1 -.3 .5 0 .5 .5 1 .7 1 .7 1 .9 1 1 1 .3 .9 0 1.1 -.5 1 0 1 .1 .4 .2 .6 .4 1 .6 1 .8 1 1.1 1 1 1 .9 1 1 1 .6 1 .3 1 -.1 1 -.1 1 .2 1 .1 1 .1 1 0 1 .4 1 .1 1 .4 1 -.5 1 .1 1 0 1 -.1 1 .4 .7 0 1.3 .2 1 0 1 -.2 1 .2 1 -.2 1 .1 1 -.2 1 -.1 1 -.2 1 .2 1 .1 1 0 1 -.2 1 -.3 1 .2 1 .1 1 .1 1 -.2 1 0 1 .1 1 0 1 0 1 .1 1 0 1 .2 1 .1 1 0 1 -.1 1 -.1 1 .1 1 .2 1 .1 1 -.1 1 0 1 -.2 1 -.1 1 0 1 .1 1 .2 1 -.1 1 .2 1 -.1 1 0 1 -.5 1 .1 1 0 1 .1 1 -.3 1 -.2 1 .2 1 .1 1 .2 1 -.3 1 0 1 0 1 .1 1 .2 1 .2 1 .1 1 .1 1 -.1 1 -.2 1 -.1 1 .2 1 .1 1 .1 1 -.2 1 0 1 -.4 1 -.2 1 -.1 1 .4 1 0 1 .2 1 0 1 .1 1 -.2 1 -.3 1 .1 1 0 1 .1 1 -.1 1 .1 1 .2 .1 .1" fill="none" stroke="#FF6A1A" stroke-width="1.5" stroke-linejoin="round" stroke-linecap="round" />
<path d="M100.5 1183.8l1 -.1 1 .1 1 0 1 .2 1 -.1 1 0 1 -.3 1 -0 1 -.2 1 .3 1 -.1 1 .2 1 -.2 1 .1 1 .2 1 -.1 1 .1 1 0 1 .3 1 .1 1 .1 1 -.1 1 -.4 1 -.1 1 -.2 1 .3 1 0 1 .2 1 -.3 1 .1 1 -.2 1 0 1 -.1 1 .1 1 .2 1 0 1 -.1 1 0 1 0 1 -.1 1 .2 1 -.2 1 .4 1 -.4 1 .1 1 -.1 1 0 1 -.1 1 -.2 1 .3 1 -.1 1 .4 1 -0 1 .3 1 -.2 1 -.2 1 -.2 1 0 1 .2 1 .2 1 -.1 1 -.2 1 .3 1 -.2 1 .1 1 -.6 1 .4 1 -.1 1 .2 1 .1 1 -.3 1 -.3 1 -.5 1 .2 1 -.1 1 .1 1 .4 1 .2 1 .2 1 -0 1 -0 1 -0 1 -.1 1 -0 1 -.1 1 -.5 1 -.1 1 .1 1 .2 .5 .2 .5 .2 1 .2 1 -.4 1 -.3 1 -.3 1 .5 1 .1 1 .1 1 -.1 1 -.2 1 -.2 1 -0 1 -.1 1 .1 1 .2 1 -0 1 .2 1 -.2 1 -.1 1 -0 1 -.2 1 .2 1 -.2 1 .2 1 -.1 .9 -0 1.1 -.6 1 -.4 1 -.8 1 -.9 1 -1.4 1 -1.1 1 -1.2 1 -1 .4 -.3 .6 -.1 1 -.4 1 -.6 1 -.9 1 -.8 1 -.6 1 -.5 1 -.5 .8 .2 1.2 .5 1 .5 1 .6 1 .8 1 1 .5 .2 .5 .4 1 1.3 1 1.8 1 1.4 1 1 1 .6 1 .4 1 .7 1 .2 1 .3 1 -.1 1 .3 1 -.4 1 -0 1 .1 1 .5 1 -0 1 -0 1 -0 1 .1 1 .2 1 .3 1 -.1 1 -.1 1 -.2 1 -0 1 .2 1 -.1 1 -.2 1 -.4 1 -.1 1 -0 1 .1 1 -.3 1 -.7 1 -.6 1 -.2 1 -.3 1 -.6 1 -.5 1 -1 1 -.9 1 -1.1 1 -.4 1 -0 1 -.2 1 -.3 1 -.5 1 -.7 .8 -.7 1.2 -1.9 1 -1.7 1 -1.3 .4 .2 .6 .2 1 1.3 1 1.2 1 .9 .6 -.1 .4 -.6 1 -3.4 1 -5.4 1 -5.5 1 -4 .5 -.2 .5 .5 1 2.8 1 3.5 .4 1.3 .6 2.1 1 4.2 1 3.6 .9 1.4 1.1 -.5 1 -1.4 1 -1.8 1 -2.1 .8 -1.6 1.2 -3.7 1 -4.6 1 -4.8 1 -4 1 -2.5 .5 -.6 .5 .3 1 3 1 4.5 1 5.8 1 7.1 .4 1 .6 .6 1 .4 1 .6 1 .3 .6 .2 .4 -.1 1 .6 1 .8 1 .8 1 .4 1 .2 1 .3 1 .3 1 .7 1 .7 .5 .6 .5 -0 1 .8 1 1.4 1 1.7 1 1.4 1 1.1 .9 .5 1.1 .2 1 .1 1 -0 1 .4 1 .4 1 .3 1 -0 1 -.3 1 .2 .7 -0 1.3 -0 1 -.2 1 .2 1 -0 1 .1 1 -.3 1 .3 1 -.1 1 -.2 1 -.3 1 -.3 1 -.1 1 -1.1 1 -.8 1 -1.5 1 -1.4 1 -.8 .4 .1 .6 .4 1 .4 1 .8 1 .6 .6 -0 .4 -.3 1 -1.2 1 -1.1 1 -1 1 .4 1 .8 1 1.1 1 1.2 .4 .5 .6 .6 1 .5 1 .8 1 .7 1 .7 1 .1 1 .4 .4 -.1 .6 -0 1 -.7 1 -.4 1 -1.1 1 -1 1 -1.1 1 -.9 1 -.6 1 -.6 1 -.1 1 -.1 1 .8 1 .9 1 1.1 1 .6 1 -.3 1 -1 1 -1.3 1 -1.2 .5 -.2 .5 -.1 1 .9 1 .9 1 1.4 1 1.3 1 1.4 1 .9 1 .5 1 .1 1 .2 1 -.2 1 -.2 1 -.2 1 .1 1 .1 1 .3 1 .3 1 -.3 1 -.1 1 -.3 1 .2 1 -.1 1 .1 1 -.3 1 .2 1 .2 1 .1 1 .1 1 -0 1 -.1 1 .1 1 -.1 .5 -0 .5 -.1 1 .1 1 .1 1 -.5 .6 -.2 .4 -.2 1 -.1 1 -.5 1 -.6 1 -1 1 -.9 1 -.9 1 -.8 1 -.7 1 -.2 .5 .1 .5 .5 1 .7 1 1.2 1 .5 .7 .1 1.3 -.7 1 -1.2 1 -1 .9 -.4 1.1 .6 1 .6 1 .6 1 .9 1 1 1 1.3 1 .7 1 .2 .4 -.3 .6 -.1 1 .1 1 .2 1 -0 1 .1 1 .1 1 -0 1 -0 1 -0 1 .1 1 .2 1 -.3 1 -.1 1 -.1 1 .3 1 -.3 1 -0 1 -.1 1 .4 1 -.1 1 -0 1 -.1 1 -.1 1 -0 1 -.2 1 .1 1 .1 1 .3 1 .1 1 .1 1 -0 1 -0 1 -.3 1 -.1 1 .1 .7 -0 1.3 .1 1 -.3 1 -0 1 -.6 1 -.4 1 -.9 1 -.6 1 -.6 1 -1.1 1 -2.7 1 -3.1 1 -2.7 1 -1.3 1 .5 1 1.2 1 1.4 1 .4 1 -.2 1 -1.9 1 -2.4 1 -2.5 1 -1.3 1 .7 1 2.5 1 3.5 1 2.3 .5 .9 .5 .4 1 .8 1 .5 1 .2 1 .8 1 .4 1 .8 1 .4 1 .7 1 .8 1 .8 1 .7 1 .8 1 .4 .6 -0 .4 .2 1 .2 1 .3 1 -.1 1 -0 1 .2 1 .3 1 .2 1 -.1 1 -.1 1 .2 1 .2 1 .2 1 -0 1 -0 1 -0 1 -0 1 .2 1 -0 1 .1 1 -.1 1 .1 1 -.1 1 -0 .6 -.1 .4 -.2 1 -.1 1 -.1 1 .2 1 .2 1 .1 1 -.2 1 -.1 1 .3 1 -.1 1 .2 1 -.1 1 .2 1 .2 1 -.1 1 -.3 1 -.1 1 .1 1 -0 1 -.1 1 -0 1 .2 1 -0 1 -.3 1 -0 1 -.2 1 .4 1 .1 1 .1 1 -.3 1 -0 1 .1 1 .1 1 -.2 1 -.2 1 -.1 1 -.1 1 .2 1 .1 1 .3 1 -.1 1 .1 1 -.2 1 .1 1 .2 1 .2 1 -.1 1 -.1 1 -.2 1 -.1 1 -.4 1 -.2 1 .3 1 .3 1 .1 1 -.1 1 -.3 1 .1 1 .2 1 .2 1 -0 1 -.3 1 -0 1 .1 1 -0 1 -0 1 -0 1 .1 1 -.2 1 .1 1 -.1 1 -.1 1 -0 1 .2 1 .3 1 -.2 1 -.4 1 -.1 1 -.2 1 .2 1 .1 1 .1 1 .2 1 -0 1 .3 1 -.1 1 -0 1 -.2 1 -.2 1 -.2 1 -.2 1 -0 1 -.1 1 -0 1 -.1 1 .1 1 .1 1 .2 1 -.1 .1 -0" fill="none" stroke="#2FAE55" stroke-width="1.5" stroke-linejoin="round" stroke-linecap="round" />
<path d="M100.5 1228.8l1 -.1 1 .2 1 .1 1 .1 1 .2 1 -.1 1 .1 1 -.2 1 0 1 .1 1 .3 1 0 1 -.2 1 -.3 1 -.1 1 .2 1 0 1 -.2 1 -.5 1 0 1 .2 1 .3 1 0 1 0 1 -.1 1 .1 1 -.2 1 .1 1 .3 1 .2 1 .1 1 -.4 1 0 1 .1 1 -.1 1 0 1 -.2 1 .3 1 0 1 0 1 -.4 1 0 1 .2 1 .2 1 .1 1 -.4 1 -.1 1 -.4 1 .3 1 .1 1 .3 1 -.5 1 .2 1 -.1 1 .6 1 0 1 -.2 1 0 1 -.1 1 .4 1 -.4 1 0 1 0 1 .3 1 0 1 -.3 1 -.2 1 -.2 1 .2 1 -.2 1 .3 1 -.1 1 .3 1 -.4 1 .5 1 .1 1 -.1 1 -.6 1 -.2 1 .1 1 .2 1 0 1 .1 1 0 1 -.2 1 .1 1 .2 1 .1 1 -.2 .5 -.3 .5 0 1 .3 1 .1 1 -.2 1 -.2 1 0 1 .1 1 0 1 0 1 -.1 1 .1 1 0 1 .1 1 -.1 1 -.3 1 -.2 1 -.1 1 0 1 0 1 .1 1 -.1 1 .2 1 -.1 1 .1 1 -.3 .9 -.3 1.1 -.6 1 -.6 1 -.9 1 -1.2 1 -1.1 1 -1.1 1 -.6 1 -.7 .4 -.2 .6 -.4 1 -.3 1 -.3 1 -.4 1 -.4 1 -.4 1 -.7 1 -.6 1 -.5 1 -.2 1 .1 1 .6 1 1.1 1 .9 .5 .5 .5 .6 1 1.3 1 1.5 1 .9 1 1.4 1 .8 1 .7 1 .2 1 -.1 1 -.1 1 0 1 .4 1 .3 1 .4 1 0 1 .3 1 -.1 1 .1 1 -.1 1 .1 1 -.4 1 .4 1 -.1 1 .3 1 0 1 -.1 1 -.2 1 -.2 1 0 1 .1 1 -.2 1 .2 1 0 1 .1 1 -.2 1 0 1 -.3 1 .2 1 -.3 1 .2 1 -.2 1 .3 1 -.2 1 -.2 1 -.6 1 -.3 1 -.4 1 -.3 1 -.3 .8 -.6 1.2 -.7 1 -1.5 1 -1.5 1 -1.9 1 -1.7 1 -1.8 .9 -1.8 1.1 -3.2 1 -3.9 1 -4.1 1 -3.5 1 -2.3 .8 -1.1 1.2 3.5 1 4.3 .4 1.8 .6 1.4 1 2.6 1 2.4 1 2 1 1 1 .6 1 -.4 1 -.1 1 -1.2 1 -1.1 1 -3.4 1 -8 1 -8.9 1 -6.2 .5 -.9 .5 .4 1 3 1 4.4 1 5.7 1 7.8 1 5.8 1 2.4 1 2 1 1.2 1 1.2 1 1 1 1 1 .6 1 -.2 1 -.5 1 -.7 1 -.6 1 -.4 .8 0 1.2 .7 1 1.3 1 .7 1 .5 1 0 1 .3 1 -.1 1 0 1 -.2 1 -.1 1 -.4 1 -.4 1 -.1 1 0 1 .2 1 .2 .7 -.1 1.3 .4 1 .7 1 1.2 1 .8 1 .7 1 .6 .8 .3 1.2 0 1 -.3 1 -.5 1 -.8 1 -.9 1 -.3 1 -.5 1 -.4 1 -.6 1 0 1 -.3 1 .2 1 .4 1 .5 .6 .1 .4 -.3 1 -.5 1 -1 1 -.1 1 .2 1 .8 1 .9 1 1.4 1 1.3 1 .7 1 .3 1 .1 1 .3 1 0 1 .1 1 .1 1 .1 1 -.3 1 0 1 -.5 1 -.3 1 -.7 1 -.7 1 -.9 1 -1.2 1 -1.1 1 -.8 1 -.2 1 .6 1 1.3 1 1.2 .6 .1 .4 -.3 1 -1.2 1 -1.2 1 -1.1 .9 -.2 1.1 .4 1 1.2 1 1.6 1 1.7 1 1.3 1 .8 1 .5 1 .1 1 0 1 .1 1 .3 1 .3 1 .1 1 0 1 0 1 0 1 .2 1 -.2 1 0 1 .2 1 .1 1 -.2 1 -.4 1 -.4 1 -.4 1 -.6 1 -.4 1 -1 1 -1.3 1 -1.3 1 -.7 1 -.5 .5 -.2 .5 .2 1 .6 1 .9 1 .3 .7 0 1.3 -.7 1 -.8 1 -.4 1 -.3 .4 .2 .6 -.1 1 .6 1 .7 1 1.4 1 1.1 1 1.1 1 .7 1 .3 1 .5 1 -.2 1 .5 1 -.2 1 .3 1 -.5 1 .1 1 -.1 1 .4 1 0 1 0 1 -.2 1 .2 1 .1 1 .3 1 -.3 1 0 1 0 1 .1 1 -.2 1 -.1 1 -.1 1 -.1 1 0 1 .1 1 0 1 -.3 1 -.1 1 -.3 1 .4 .8 -.1 1.2 -.2 1 -.7 1 -.9 1 -1 1 -1.4 1 -.9 1 -.6 1 -.1 1 0 1 0 1 .3 1 .2 .5 0 .5 -.3 1 -1.1 1 -1.4 1 -1.8 1 -1.1 .8 -.4 1.2 1.3 1 1 1 1.2 .6 .2 .4 .2 1 -.1 1 -.3 1 0 1 -.7 1 -2.2 1 -2.4 .7 -.8 1.3 1.6 1 2.8 1 2.7 .9 1.3 1.1 -.5 1 -1.1 1 -1.5 1 -.6 .6 .1 .4 .5 1 .8 1 .9 1 1.6 1 1.7 1 2 1 1.2 .9 .7 1.1 -.2 1 -.1 1 -.1 1 .7 1 .4 1 .3 1 0 1 .2 1 .1 1 .3 1 .1 1 .5 .6 0 .4 -.3 1 -.1 1 0 1 .2 1 -.3 1 0 1 0 1 0 1 -.1 1 .2 1 .2 1 -.1 1 -.2 1 -.1 1 .2 1 0 1 .1 1 .1 1 .1 1 -.1 1 -.1 1 -.4 1 -.1 1 -.2 1 0 1 .1 1 .3 1 .2 1 0 1 -.2 1 0 1 .2 1 .3 1 0 1 0 1 -.4 1 -.1 1 0 1 .1 1 -.1 1 .3 1 .2 1 .1 1 -.2 1 -.1 1 -.1 1 -.1 1 -.1 1 .2 1 0 1 0 1 -.3 1 -.1 1 0 1 .1 1 .3 1 .1 1 0 1 -.2 1 0 1 -.3 1 .2 1 0 1 .4 1 -.1 1 0 1 -.2 1 -.2 1 .1 1 -.1 1 .3 1 -.3 1 .2 1 0 1 .1 1 .3 1 -.1 1 .1 1 -.6 1 .1 1 -.3 1 .1 1 -.3 1 .2 1 .4 1 .1 1 0 1 -.3 1 0 1 -.3 1 .1 1 .1 1 0 1 -.3 1 -.2 1 .2 1 .2 1 -.2 1 .1 1 -.1 1 .3 1 .1 1 0 1 -.1 1 -.1 1 .4 1 .1 1 .1 1 0 1 -.1 1 -.3 1 -.1 1 .2 1 .1 1 0 1 .1 1 .1 1 .1 1 -.2 1 -.2 1 .1 1 .2 1 0 .1 -.3" fill="none" stroke="#FF3030" stroke-width="1.5" stroke-linejoin="round" stroke-linecap="round" />
<path d="M100.5 1271.1l1 .1 1 .1 1 .2 1 .1 1 -.3 1 -.1 1 -.1 1 .2 1 -.3 1 -.1 1 .1 1 .5 1 0 1 .1 1 0 1 .2 1 -.2 1 -.2 1 -.3 1 0 1 .1 1 -.1 1 -.1 1 -.3 1 .2 1 .2 1 .2 1 .1 1 -.5 1 -.2 1 -.1 1 .5 1 .3 1 -.2 1 -.2 1 -.3 1 .3 1 0 1 .3 1 -.1 1 -.1 1 -.3 1 .2 1 -.1 1 .1 1 -.1 1 .1 1 .3 1 -0 1 .4 1 -0 1 -.2 1 -0 1 -0 1 -0 1 -.2 1 -.1 1 -.3 1 .3 1 .1 1 .4 1 -.4 1 -.3 1 -.3 1 .1 1 .2 1 -.1 1 .1 1 -0 1 .3 1 .2 1 -.1 1 -.2 1 -.2 1 .4 1 -.3 1 -.1 1 -.2 1 .2 1 .3 1 -.2 1 .1 1 -0 1 .4 1 .2 1 -.2 1 -.1 1 -.3 1 -0 .5 -0 .5 -.1 1 .3 1 -.4 1 .3 1 -.2 1 .3 1 -.1 1 -.3 1 -.1 1 -0 1 .2 1 -0 1 -.3 1 -.1 1 -0 1 .2 1 -0 1 -.2 1 .1 1 -.2 1 -.1 1 -.2 1 -0 1 -.4 1 .1 .9 -.1 1.1 -.4 1 -1.1 1 -1.4 1 -1.1 1 -1.7 1 -1.3 1 -1.3 1 -.6 1 -.4 1 -.1 1 .1 1 .4 1 .1 1 -.2 1 -.3 .4 .1 .6 -.1 1 -1.4 1 -1.5 1 -1.1 .4 .2 .6 .5 1 1.2 1 1.6 1 1.8 1 1.7 1 1.3 1 1 1 1 1 .6 1 .5 1 .6 1 .7 1 .7 1 -0 .8 -0 1.2 -.1 1 -.1 1 .2 1 -.1 1 .2 1 -.1 1 -.1 1 .1 1 .2 1 -0 1 .2 1 -.4 1 .4 1 .3 1 -.1 1 -.1 1 -.2 1 .4 1 .1 1 -0 1 -0 1 -.2 1 .2 1 -0 1 -0 1 -.4 1 -.1 1 -0 1 -.1 1 -.1 1 .2 1 .3 1 .2 1 -0 1 -.5 1 -.1 1 -.4 1 .2 1 -.2 1 -.1 1 -.3 1 -.1 1 -.3 .5 -0 .5 -.5 1 -2.5 1 -4.5 1 -4.9 .7 -3.6 1.3 -8.8 1 -5.2 1 .8 1 4.1 1 4.1 .4 1.3 .6 1.5 1 2.1 1 1.2 .5 .2 .5 .3 1 -.4 1 -1.1 1 -1.8 1 -1.6 .8 -1.2 1.2 -4.3 1 -5.6 .7 -3.7 1.3 -6.7 1 -3 1 .6 1 2.4 1 3.4 1 4.6 1 7.2 1 5.5 1 3 1 2.5 1 2.3 1 1.6 1 1.4 1 1 1 .8 1 -0 1 -.2 1 -.5 .7 -.1 1.3 .5 1 1.5 1 1.8 1 2 1 1.4 1 .9 1 .4 1 .2 1 -.1 1 -0 1 .5 .7 .3 1.3 -0 1 -.3 1 -.3 1 -.1 1 .4 1 .1 1 -.2 1 -.6 1 -.3 1 .2 1 -0 1 .2 1 -.6 1 -1.2 1 -1.8 1 -1.7 1 -.9 1 -.5 1 -.9 1 -1.4 1 -1.6 1 -.9 1 -.5 1 .3 1 .6 1 .8 .5 .2 .5 -0 1 -.5 1 -.6 1 .4 1 1.1 1 2.1 1 1.7 1 2 1 1.8 1 1.3 .4 -0 .6 .1 1 .3 1 .5 1 .2 1 .1 1 .1 1 -0 1 .2 .8 .2 1.2 .1 1 -.1 1 -.4 1 -.7 1 -.7 1 -.9 .9 -.5 1.1 -.9 1 -.9 1 -1.2 1 -.5 .8 -.4 1.2 1 1 1.3 1 1.3 .4 .2 .6 -0 1 -1.3 1 -1.7 1 -1.3 1 -.5 1 .4 1 1.6 1 2 1 2 1 1.1 1 .3 1 -.1 1 -0 1 .2 1 .3 1 .3 1 -.2 1 .1 .7 -.2 1.3 -.5 1 -1.1 1 -1.2 1 -1.5 1 -1.2 1 -1.1 .8 -.1 1.2 .4 1 .9 1 .8 1 .5 1 -.2 1 -.8 1 -.4 1 -0 .8 -0 1.2 -0 1 .6 1 1.1 1 1 1 .8 1 .8 1 1 1 .6 .6 .1 .4 -.1 1 .2 1 .2 1 -0 1 -.4 1 .1 1 -.1 1 .1 1 -.2 1 -0 1 .5 1 .1 1 -.1 1 -.4 1 -0 1 .2 1 .1 1 .2 1 -0 1 -.4 1 -.2 1 -.5 1 -.8 1 -1.3 1 -1.2 1 -.8 1 -.6 1 -.5 .5 -.3 .5 -.1 1 .3 1 .5 1 .2 1 -.7 1 -1.2 1 -1.3 1 -1.2 1 -1 1 -.7 .4 -.2 .6 .1 1 1 1 1.3 1 1.4 1 1.3 1 .9 .6 .3 .4 -.2 1 -.2 1 -.4 1 0 1 .1 1 .6 1 .7 1 .9 1 1 1 .7 1 1 1 .4 1 .1 1 -.2 1 .2 1 .3 1 0 1 -.3 1 -.1 1 -.9 1 -1.3 1 -1.9 1 -2.1 1 -1.3 1 -.4 1 .9 1 1.2 1 1.2 1 1.1 .9 .5 1.1 -.9 1 -1.7 1 -1.9 .6 -.3 .4 -.3 1 1.1 1 1.1 1 1.5 1 1.5 1 1.6 1 1 1 .6 1 .2 1 .3 1 .1 1 .3 1 .2 1 .4 1 .1 1 .2 1 -.3 1 0 1 -.2 1 -.1 1 .3 1 -.2 1 .2 1 -.1 1 0 1 0 1 -.1 1 .2 1 -.3 1 .3 1 -.2 1 0 1 0 1 .5 1 .3 1 .2 1 -.5 1 .1 1 -.2 1 .1 1 .2 1 .3 1 .1 1 -.5 1 -.2 1 .1 1 .2 1 .2 1 -.2 1 0 1 0 1 0 1 -.1 1 .1 1 0 1 .1 1 -.3 1 .1 1 0 1 .1 1 0 1 0 1 -.1 1 0 1 -.1 1 0 1 .2 1 -.3 1 -.2 1 -.2 1 .3 1 .6 1 .1 1 .3 1 -.5 1 -.2 1 -.4 1 0 1 .2 1 .1 1 .2 1 -.1 1 0 1 -.3 1 -.1 1 .3 1 0 1 0 1 -.2 1 .1 1 .2 1 .1 1 -.2 1 -.1 1 0 1 .5 1 .1 1 -.1 1 -.2 1 -.2 1 .1 1 -.2 1 0 1 -.2 1 .2 1 .3 1 .1 1 .2 1 0 1 .2 1 -.1 1 -.1 1 -.2 1 .1 1 -.1 1 -.1 1 0 1 .1 1 .1 1 -.2 1 -.2 1 -.2 1 .2 1 0 1 .4 1 0 1 0 1 -.2 1 -.4 1 .1 1 -.2 1 .4 1 0 1 .2 1 -.2 1 -.1 1 -.2 1 .3 1 .2 1 .1 1 -.2 1 -.2 1 .1 1 -.1" fill="none" stroke="#2A52E2" stroke-width="1.5" stroke-linejoin="round" stroke-linecap="round" />
<path d="M100.5 1320.6l1 -.2 1 .1 1 -.5 1 0 1 -.3 1 .4 1 .3 1 .4 1 -.1 1 -.1 1 -.3 1 -.3 1 -.2 1 .2 1 -0 1 .1 1 .3 1 -.1 1 .1 1 -.4 1 .2 1 -.1 1 .3 1 -.1 1 .1 1 .1 1 .4 1 0 1 -.1 1 -0 1 -0 1 -.1 1 -.4 1 -.2 1 .1 1 .1 1 .3 1 -.1 1 .2 1 -.2 1 .1 1 0 1 -.1 1 0 1 -.4 1 0 1 -.2 1 .2 1 0 1 .2 1 -.2 1 -.1 1 .3 1 .2 1 .1 1 0 1 -.2 1 -.2 1 -.2 1 0 1 .1 1 -.1 1 .1 1 0 1 .1 1 0 1 0 1 -.1 1 -.2 1 .2 1 .3 1 .2 1 -.3 1 -.1 1 -.2 1 .2 1 -.3 1 .4 1 .1 1 .1 1 -.3 1 .2 1 -.2 1 .1 1 -.2 1 0 1 -.1 1 0 1 .3 .5 -.3 .5 -.2 1 .1 1 .3 1 .1 1 .1 1 -.3 1 -.2 1 .1 1 .4 1 .1 1 -.2 1 -.2 1 .1 1 .1 1 0 1 -.2 1 -.4 1 .2 1 -.2 1 .1 1 -.5 .7 .1 1.3 -.2 1 .1 1 -.3 1 -.1 1 -.2 1 -.4 1 -.4 1 -.6 .8 .1 1.2 -1.7 1 -2.1 1 -2.7 1 -2.1 1 -1 .5 -.1 .5 0 1 .1 1 .6 1 .8 1 .7 .4 0 .6 -.4 1 -1.5 1 -1.6 1 -1.2 .6 -.4 .4 .1 1 1.4 1 1.6 1 2.4 1 2.1 1 2.4 1 1.4 .7 .6 1.3 .7 1 .8 1 0 1 .3 1 .2 1 .8 1 .4 1 -.1 1 -.2 1 0 1 .2 1 .1 1 .3 1 -.2 1 0 1 -.3 1 0 1 -.2 1 -.1 1 .2 1 .2 1 -.3 1 -.1 1 0 1 .5 1 .1 1 -.2 1 0 1 -.4 1 0 1 -.3 1 0 1 -.2 1 0 1 .3 1 -.1 1 0 1 0 1 .2 1 .1 1 -.2 1 .2 1 -.2 1 .3 1 .1 1 -.3 1 -.2 1 -.6 1 -1.1 1 -1.2 1 -1.8 1 -1.7 .6 -1.2 .4 -1.1 1 -4.8 1 -6.3 1 -5 .8 -1.4 1.2 2.6 1 4.1 1 3.6 .4 .9 .6 1.1 1 1.7 1 1.1 1 .7 1 .1 1 -.5 1 -2.8 1 -4.4 .8 -4.2 1.2 -7.1 1 -6.8 .7 -4.2 1.3 -9.3 1 -4.9 1 2.7 1 8.6 1 7.3 1 3.5 1 2.4 1 2.1 .8 1.8 1.2 3.4 1 3.4 1 3 1 2.4 .8 .2 1.2 -.1 1 -.3 1 0 .7 0 1.3 1.1 1 2.3 1 2 1 1.8 1 1 1 1.2 1 1.1 1 .9 1 .5 1 .5 1 .5 1 .5 .7 .3 1.3 -.2 1 0 1 -.1 1 -.2 1 0 1 -.4 1 .2 1 .1 1 .2 1 -.1 1 -.2 1 0 1 -.3 .8 .3 1.2 -.6 1 -.8 1 -1.4 1 -1.5 1 -1 1 -.9 .9 -.2 1.1 .3 1 .7 1 .6 .4 -.2 .6 -.1 1 -.4 1 -.3 1 -.7 1 -.3 1 0 1 .9 1 1 1 1.1 1 .8 1 -.3 1 -.9 1 -1.4 1 -1 1 -.3 1 .4 1 1.1 1 1.1 1 .9 .4 .2 .6 -.5 1 -1.4 1 -1.2 1 -1.1 .7 -.1 1.3 .4 1 1.2 1 1.3 1 1.1 .6 0 .4 -.1 1 -.5 1 -.8 1 -1.1 1 -1.3 1 -.7 1 .3 1 1.2 1 1.6 1 1 .5 .2 .5 -.4 1 -1 1 -1.7 1 -1 .7 -.6 1.3 .9 1 1.4 1 1.3 1 .7 .6 .3 .4 0 1 -.8 1 -1.2 1 -.9 .9 -.3 1.1 .6 1 1 1 1.2 1 .6 1 -.3 1 -1.2 1 -1.1 1 -.7 1 .5 1 .8 1 1.1 1 1.5 1 1.4 1 1.2 .4 0 .6 .1 1 -.4 1 .1 1 0 1 .5 1 0 1 .3 1 -.2 1 -.2 1 0 1 -.1 1 .2 1 -.1 1 .3 1 .2 1 -.5 1 -1.3 1 -1.8 1 -1.6 1 -1.2 1 -.9 .6 -.6 .4 -.2 1 1.1 1 1.6 1 .7 1 -.2 1 -1.4 1 -1.8 1 -2.3 1 -1.8 1 -1.1 1 .4 1 1.3 1 1.5 1 1.8 1 2.2 1 1.3 .8 .3 1.2 -1.3 1 -1 1 -.9 .5 0 .5 -.1 1 .8 1 1 1 1.5 1 1.4 1 1.4 1 .8 .8 .6 1.2 .4 1 .2 1 0 1 .2 1 .2 1 0 1 -.1 1 .1 1 .2 1 -.1 1 .1 1 .2 1 .5 1 .2 .5 -.2 .5 -.3 1 -.1 1 -.1 1 -.1 1 .2 1 -.3 1 0 1 -.7 1 .1 1 -.4 1 0 1 -.3 1 -.4 1 -1.2 1 -1.6 1 -2.1 1 -1.7 1 -.7 1 .7 1 1.5 1 1.4 1 1.2 .5 .1 .5 0 1 -1.3 1 -1.3 1 -1.9 .9 -.7 1.1 .1 1 .9 1 1.2 1 1.5 1 1.6 1 1.7 1 .9 1 .7 1 .2 1 .4 1 .4 1 .5 1 .5 1 -.1 1 0 1 -.1 1 0 1 -.1 1 -.1 1 .2 1 -.3 1 -.1 1 -.5 1 .2 1 .1 1 .2 1 0 1 .4 1 0 1 -.2 1 0 1 -.2 1 .3 1 -.2 1 .4 1 -.1 1 .1 1 0 1 0 1 -.2 1 0 1 -.2 1 -.1 1 0 1 .4 1 -.1 1 0 1 -.2 1 .1 1 -.1 1 .1 1 -.1 1 .1 1 0 1 .2 1 .1 1 0 1 -.1 1 -.1 1 -.3 1 -.2 1 .2 1 .2 1 .3 1 0 1 -.1 1 .3 1 -.3 1 .3 1 -.6 1 .2 1 -.2 1 0 1 -.1 1 0 1 .1 1 0 1 0 1 .1 1 .2 1 0 1 -.2 1 .1 1 0 1 -.1 1 -.2 1 0 1 .3 1 -.2 1 0 1 0 1 -.1 1 .2 1 -.4 1 .3 1 -.1 1 .1 1 -.4 1 -.1 1 .2 1 .3 1 .3 1 .1 1 -.1 1 -.3 1 -.3 1 .1 1 .1 1 .2 1 0 1 0 1 -.1 1 .1 1 .1 1 0 1 0 1 -.6 1 .3 1 .1 1 .4 1 0 1 -.4 1 .1 1 0 1 .5 1 -.2 1 -.1 1 -.5 1 -.2 1 .1 1 .2 1 .1 1 0 1 .2 1 .1 1 0 1 -.2 1 .1 1 .1 1 -.1 1 .1 1 -.5 1 .1 1 0" fill="none" stroke="#262626" stroke-width="1.5" stroke-linejoin="round" stroke-linecap="round" />
<path d="M729.5 978.4l1 .1 1 -.4 1 -.1 1 -.2 1 .1 1 0 1 0 1 .2 1 0 1 -.3 1 -.2 1 .2 1 .2 1 .2 1 -.1 1 -0 1 -0 1 .1 1 .2 1 -.3 1 -.1 1 -.2 1 .2 1 -.2 1 -.1 1 -0 1 .3 1 .1 1 -.2 1 .1 1 .1 1 .3 1 -.3 1 -.1 1 -.1 1 .1 1 -.2 1 -.1 1 -.4 1 .2 1 -.1 1 .5 1 .1 1 .3 1 -0 1 -.1 1 -.2 1 -.1 1 -.1 1 -.1 1 -.1 1 .1 1 .4 1 .1 1 -.2 1 -.6 1 -.4 1 0 1 .4 1 .2 1 0 1 -.1 1 0 1 .2 1 .1 1 0 1 -.2 1 -.3 1 0 1 0 1 .4 1 .1 1 -.1 1 0 1 -.3 1 .2 1 -.1 1 0 1 -.1 1 -.1 1 .3 1 -.1 1 -.1 1 0 1 .1 1 .2 1 -.2 1 -.2 1 0 1 .1 1 .5 1 -.2 1 -.3 1 -.4 1 0 1 0 1 -.1 1 -.1 1 .1 1 .2 1 -.1 1 .4 1 -.2 1 .1 1 -.5 1 .1 1 0 1 0 1 -.2 1 .2 1 0 1 .2 1 -.5 .7 .3 1.3 -.6 1 -.7 1 -1.4 1 -.9 .5 -.9 .5 -.8 1 -2.9 1 -3.4 1 -3.6 1 -2.8 1 -1 1 1.8 1 3.6 .4 1.3 .6 1.8 1 3.3 1 2.6 1 1.3 1 0 1 .2 1 .2 1 -.2 1 -.1 .9 0 1.1 0 1 -.9 1 -1.1 1 -1.7 1 -2.1 1 -1.7 1 -2.8 1 -4.1 1 -5.3 1 -5 1 -3.8 .7 -.9 1.3 1.7 1 2.8 1 4.2 1 4.6 .5 .3 .5 -.1 1 .4 1 .2 1 -.3 1 -.3 1 .6 1 1.9 1 2.5 1 2.4 1 2.3 1 2 1 1.9 1 1.4 1 1.5 1 .6 .5 .6 .5 0 1 .7 1 .2 1 .2 1 .2 1 .3 1 .5 1 .3 1 -.2 1 -.3 1 .1 1 .4 1 .1 1 -.1 1 -.1 1 -.3 1 -.2 1 0 1 0 1 .4 1 -.2 1 -.3 1 -.5 1 -.3 1 -.5 .7 -.4 1.3 -1.6 1 -2.3 1 -2.5 .7 -1.7 1.3 -2.8 1 -2.1 .9 -.7 1.1 .5 1 2.1 1 2.3 1 2.4 1 1.1 .4 -.1 .6 -1 1 -3.1 1 -3.9 1 -3.3 .8 -1.2 1.2 2.3 1 4.7 1 3.9 1 2.3 1 1.4 1 1.7 1 1 1 .9 1 .1 1 -.1 1 -.2 1 -.2 1 .3 1 -.2 1 -.2 1 .1 1 .2 .5 .1 .5 -.3 1 -.1 1 -.3 1 -.5 1 -.5 1 -.7 1 -.7 1 -1.3 1 -1.2 1 -1 1 -1.6 1 -1.9 1 -2.3 1 -1.6 1 -1.1 .5 0 .5 .1 1 1.2 1 1.6 1 2 1 2 1 1.7 1 1.5 1 1.4 1 1.7 1 1.1 .8 .6 1.2 .3 1 .3 1 .2 1 .1 1 .1 1 .1 1 .1 .5 -.1 .5 0 1 -.2 1 -.1 1 .1 1 -.1 1 .1 1 0 1 0 1 -.2 1 .2 1 .1 1 .1 1 -.3 1 -.2 1 -.1 .7 .1 1.3 -.9 1 -1.5 1 -1.9 1 -2.4 .8 -2.1 1.2 -4.5 1 -4.5 1 -2.9 .5 -.5 .5 .4 1 2.7 1 4.2 1 4.3 1 2.9 .6 .5 .4 .1 1 -1.4 1 -2.7 1 -2.8 1 -1.7 .4 .1 .6 .6 1 1.8 1 3.5 1 3.1 1 2.7 .4 .5 .6 .9 1 1.1 1 .5 1 .6 1 .8 .5 .5 .5 -.1 1 -.2 1 -.1 1 .1 1 0 1 -.1 1 -.1 1 -.2 1 0 1 0 1 .4 1 .1 1 0 1 -.4 1 -.1 1 .1 1 .2 1 .2 1 .3 1 .2 1 -.4 1 -.4 1 -.4 1 .2 1 -0 1 .4 1 -.1 1 -.1 1 0 1 .1 1 .3 1 .1 1 0 1 .2 1 -.3 1 .1 1 -.1 1 -.3 1 .1 1 -.1 1 .4 1 .2 1 -0 1 -.1 1 -.1 1 .1 1 .2 1 -.1 1 -0 1 -.1 1 .3 1 -.2 1 -.1 1 -.4 1 -0 1 -.2 1 .1 1 0 1 .2 1 -0 1 .1 1 .2 1 .1 1 -.1 1 -.2 1 -.1 1 .2 1 -.1 1 .1 1 .2 1 .2 1 -.3 1 -0 1 .1 1 .1 1 -.2 1 -0 1 .1 1 -.1 1 -0 1 -.3 1 .1 1 -.2 1 .2 1 .2 1 .3 1 .1 1 -.3 1 -.2 1 .1 1 -0 1 -0 1 -0 1 .2 1 -.2 1 -.1 1 -.1 1 .2 1 -.1 1 -0 1 -.1 1 -.1 1 -0 1 .5 1 .3 1 .5 1 -.6 1 -.1 1 -.3 1 -0 1 -.1 1 -0 1 .4 1 -0 1 -.2 1 -.2 1 .4 1 .1 1 -.1 1 -.3 1 -.1 1 -.2 1 -0 1 .3 1 .2 1 -0 1 -.2 1 .1 1 .2 1 -.1 1 -0 1 .4 1 -0 1 -.3 1 -.5 1 -.2 1 -0 1 -0 1 .2 1 -0 1 -0 1 -.1 1 .1 1 .1 1 .1 1 -0 1 -0 1 .1 1 .3 1 -.1 1 -.2 1 -.4 1 .2 1 -.1 1 .1 1 -.1 1 .3 1 -.1 1 0 1 0 1 .1 1 -.2 1 .1 1 -.2 1 .3 1 -.4 1 .2 1 -.2 1 .3 1 -.1 1 .4 1 -.1 1 .2 1 -.2 1 0 1 .1 1 .1 1 -.2 1 -.2 1 -.2 1 .2 1 0 1 -.2 1 -.2 1 0 1 .3 1 .3 1 -.3 1 0 1 -.2 1 .2 1 0 1 0 1 -.1 1 -.3 1 .3 1 .1 1 .4 1 .1 1 .2 1 .1 1 -.3 1 -.3 1 -.1 1 -.1 1 .3 1 .2 1 .1 1 -.1 1 -.1 1 0 1 -.4 1 -.3 1 -.3 1 .3 1 .3 1 .3 1 .1 1 -.1 1 .1 1 -.3 1 .1 1 -.2 1 .1 1 -.1 1 .1 1 -.1 1 -.1 1 .2 1 -.1 1 .4 1 -.2 1 .1 1 -.1 1 .1 1 .1 1 0 1 -.1 1 -.1 1 0 1 -.1 1 .1 1 .2 1 -.1 1 0 1 -.1 1 .1 1 0 1 -.1" fill="none" stroke="#2A52E2" stroke-width="1.5" stroke-linejoin="round" stroke-linecap="round" />
<path d="M729.5 1008.8l1 .3 1 .3 1 -.1 1 -.1 1 -.1 1 -.1 1 -.2 1 0 1 0 1 0 1 -.1 1 .1 1 .1 1 -.1 1 -.1 1 -.3 1 .1 1 .2 1 .3 1 -.3 1 -.2 1 0 1 0 1 -.2 1 .1 1 .4 1 .1 1 -.1 1 0 1 -.2 1 0 1 -.1 1 .1 1 0 1 0 1 .1 1 0 1 -.1 1 -.1 1 .1 1 .2 1 0 1 .2 1 -.1 1 -.2 1 -.3 1 -.1 1 .3 1 -.2 1 .1 1 -.6 1 .2 1 -.2 1 .5 1 .1 1 .2 1 -.1 1 -.2 1 0 1 -.3 1 .2 1 -.2 1 .3 1 -.1 1 .1 1 0 1 .4 1 .2 1 -.7 1 -.3 1 -.2 1 .3 1 -.2 1 0 1 0 1 .3 1 -.2 1 .2 1 -.1 1 .3 1 -.3 1 -.1 1 -.3 1 .3 1 0 1 -.1 1 -.1 1 0 1 .1 1 0 1 -.3 1 0 1 .1 1 .4 1 -.1 1 -.3 1 -.1 1 -.1 1 -.1 1 0 1 .1 1 .2 1 .2 1 -.1 1 .1 1 -.3 1 .3 1 .1 1 -.1 1 -.4 1 -.4 1 -.1 1 .2 1 -.7 1 -.7 1 -1.6 1 -1.4 1 -1.5 .5 -.7 .5 -.7 1 -3.2 1 -3.4 1 -3.2 1 -2.1 .5 -.4 .5 .2 1 3 1 3.6 .4 1.5 .6 1.7 1 2.5 1 2 1 1.8 1 .9 1 -.1 1 -.3 1 -.3 1 -.4 1 -.2 1 -.4 .4 -.2 .6 -.9 1 -2.3 1 -3 1 -3.4 .4 -1.6 .6 -3 1 -6 1 -4.1 .5 -.3 .5 .1 1 .3 1 .3 .7 .6 1.3 3.2 1 4.3 1 3.2 .7 .7 1.3 -.7 1 -.3 1 -.4 1 -.2 1 -.3 1 .8 1 1.9 1 2.9 1 2.8 .9 1.6 1.1 1.4 1 1 1 1.1 1 .9 1 .7 .5 .4 .5 .2 1 .8 1 .5 1 .8 1 .3 1 .3 .8 -.1 1.2 0 1 -.2 1 .1 1 .2 1 0 1 0 1 -.4 1 -.1 1 0 1 .1 1 .2 1 0 1 0 1 .1 1 -.4 .6 0 .4 -.3 1 -.3 1 -1.4 1 -1.1 1 -1.7 1 -1.3 .9 -1.6 1.1 -2.2 1 -2.2 1 -2 .9 -.7 1.1 .9 1 2.5 1 2.2 1 1.6 .6 .1 .4 -.1 1 -1.5 1 -3.3 1 -3.6 1 -3.4 .8 -1 1.2 2.7 1 5.1 1 4.2 1 2.6 1 2.1 1 1.7 1 1.2 1 .3 1 .3 1 0 1 .3 1 0 1 .3 1 -.1 1 .1 1 -.5 1 -.1 1 -.4 1 -.5 1 -1 1 -.9 1 -.9 1 -1.1 1 -1.2 1 -.7 1 -.9 1 -.5 1 -1.4 1 -1.3 1 -1.7 1 -1.6 1 -1.3 1 -.5 1 1.2 1 1.6 1 2.2 1 2 1 2.6 1 1.9 .6 .7 .4 .5 1 1.1 1 1 1 .3 1 .5 1 .2 .9 .5 1.1 0 1 .2 1 .4 1 -.4 .5 .2 .5 -.3 1 .2 1 -.1 1 -.1 1 -.2 1 -.2 1 .3 1 0 1 .4 1 -.5 1 .1 1 -.3 1 -.1 1 -.4 1 0 1 -.3 1 -.3 .4 .1 .6 -.4 1 -2.4 1 -4.3 1 -4.5 1 -4 1 -3.1 1 -1.8 1 .8 1 2.9 1 4.5 1 4.2 1 3.1 .6 .4 .4 -.6 1 -1.9 1 -2.4 1 -2.4 1 -1.2 .4 -.2 .6 .7 1 2.5 1 4 1 3.3 1 2.7 .4 .1 .6 .6 1 .3 1 .7 1 .3 1 .7 1 .4 1 .5 1 -.4 1 -.3 1 0 1 0 1 .2 1 -0 1 .1 1 -.1 1 -.2 1 .2 1 .1 1 -0 1 -0 1 -.1 1 -.1 1 -.3 1 .2 1 -0 1 .4 1 -.2 1 -0 1 -.3 1 -0 1 .3 1 -0 1 -.2 1 -.1 1 .1 1 .2 1 -.1 1 .2 1 -.3 1 -0 1 -0 1 .3 1 .1 1 -.2 1 -.1 1 -.1 1 0 1 .2 1 .3 1 0 1 -.1 1 -.2 1 .2 1 -.3 1 -0 1 -.1 1 .1 1 -0 1 -.2 1 0 1 .1 1 .1 1 .1 1 .1 1 .2 1 -.1 1 -.2 1 -.1 1 -.2 1 0 1 .2 1 .1 1 .1 1 -.3 1 .1 1 -0 1 .1 1 -.3 1 -.2 1 -0 1 .2 1 .2 1 -0 1 -.3 1 -.1 1 -.1 1 .4 1 .2 1 .1 1 .1 1 -0 1 -.1 1 -.3 1 .1 1 -0 1 .2 1 -.4 1 .2 1 -0 1 .4 1 -.3 1 -.2 1 -.1 1 -0 1 .1 1 -.1 1 .1 1 .1 1 -.1 1 -.1 1 .1 1 .3 1 -.2 1 -.2 1 -0 1 .3 1 -.1 1 -.1 1 -.3 1 -0 1 .4 1 -.1 1 .3 1 -.3 1 .4 1 -0 1 .2 1 -.1 1 -0 1 -.3 1 -.1 1 -.1 1 .4 1 -0 1 -.1 1 -0 1 -0 1 -0 1 -.4 1 .1 1 -.1 1 .1 1 -0 1 -.1 1 -.2 1 -.4 1 .3 1 .2 1 .3 1 -0 1 .1 1 .5 1 .2 1 -.1 1 -.5 1 .1 1 -.2 1 -0 1 -.1 1 .1 1 .2 1 -.4 1 .1 1 -.2 1 .1 1 -.3 1 -0 1 -0 1 .3 1 .2 1 .1 1 -0 1 -.1 1 -.2 1 .1 1 -.1 1 .2 1 .2 1 -.1 1 -.1 1 -0 1 -0 1 .2 1 .3 1 -0 1 -.1 1 -.3 1 -.3 1 -0 1 -.1 1 .3 1 -.1 1 -0 1 -.1 1 .2 1 .2 1 .1 1 -0 1 -.2 1 -0 1 -.2 1 .1 1 -.2 1 .2 1 -.1 1 .2 1 .1 1 .1 1 .1 1 -.3 1 -.1 1 -.4 1 .1 1 .2 1 .3 1 -0 1 -.1 1 -.3 1 -.2 1 -0 1 -.1 1 .4 1 -.2 1 .5 1 -.5 1 .3 1 -.5 1 .2 1 -.2 1 .4 1 .2 1 .3 1 -.3 1 -.1 1 -.4 1 .1 1 .1 1 -0 1 -0 1 -.2 1 -0 1 .2 1 -.3 1 .4 1 -.1 1 .3 1 -0 1 -.2 1 .1 1 -.1 1 .1 1 -0 1 -.2 1 .1" fill="none" stroke="#262626" stroke-width="1.5" stroke-linejoin="round" stroke-linecap="round" />
<path d="M729.5 1039.5l1 .1 1 .3 1 .3 1 -.1 1 -.3 1 .2 1 0 1 .3 1 -.2 1 0 1 -.1 1 0 1 .1 1 0 1 0 1 -.4 1 .1 1 -.1 1 .3 1 -.3 1 0 1 -.1 1 .1 1 .1 1 0 1 0 1 0 1 .3 1 0 1 -.2 1 -.4 1 .1 1 .3 1 .1 1 -.1 1 -.1 1 -.2 1 .2 1 0 1 .3 1 -.4 1 0 1 .1 1 .2 1 -.1 1 -.3 1 0 1 .2 1 .2 1 .1 1 0 1 -.1 1 -.3 1 -.4 1 .1 1 .2 1 .2 1 .2 1 -.1 1 0 1 -.5 1 -.1 1 -.2 1 .2 1 .5 1 .2 1 .1 1 -.5 1 -.1 1 -.2 1 .3 1 0 1 .3 1 -.3 1 0 1 0 1 .3 1 .3 1 -.2 1 -.1 1 -.3 1 .1 1 -.2 1 0 1 -.2 1 0 1 -.1 1 .3 1 -.4 1 .1 1 -.1 1 .2 1 0 1 .2 1 0 1 .1 1 -.3 1 -.1 1 -.2 1 0 1 .2 1 .1 1 .2 1 0 1 -.2 1 -.3 1 .1 1 .2 1 -.1 1 .2 .6 -.3 .4 .4 1 -.8 1 -.4 1 -1 1 -.8 1 -1.2 .9 -1.2 1.1 -2.7 1 -4 1 -3.7 1 -3.1 .6 -.2 .4 .4 1 2.8 1 3.7 .8 2.3 1.2 2.1 1 1.5 1 1.5 1 1.3 1 1 1 .4 1 0 1 -.3 1 -.5 1 -.4 1 -.6 .7 -.4 1.3 -5 1 -6.5 1 -5.5 .6 -1.5 .4 -.3 1 -.8 1 -.8 .5 -.6 .5 -.3 1 -.9 1 -.1 1 1.1 1 3.1 .5 1.1 .5 1.6 1 3 1 2.6 .7 .5 1.3 -.8 1 -1.2 1 -1.3 1 -.8 .4 -.2 .6 .3 1 1.2 1 2.1 1 2 1 2 1 1.3 1 1.6 1 1.5 1 1.7 1 1.5 1 .8 .5 0 .5 -.5 1 .4 1 .4 1 .5 1 .2 1 .1 1 -.2 1 -.1 .4 -.1 .6 .3 1 0 1 .1 1 .3 1 -.1 1 -.3 1 -.5 1 .1 1 .1 1 .6 1 -.3 1 -.2 1 -.5 1 .2 1 .4 1 .3 1 -.1 .7 -.3 1.3 -1.7 1 -2.7 1 -2.8 1 -2.7 1 -2.3 1 -1.1 1 .5 1 1.9 1 2.1 1 1.8 .8 .3 1.2 -2.2 1 -3.8 1 -4 1 -2.6 .5 -.4 .5 .5 1 2.1 1 3.2 .7 1.8 1.3 3.2 1 2.2 1 2 1 1.6 .4 .5 .6 .4 1 .4 1 .3 1 0 1 .2 1 .2 1 .4 1 0 1 .2 1 .2 1 0 .5 -.4 .5 -.3 1 -.1 1 -.1 1 -.1 1 -.3 1 -.8 1 -1 1 -.8 1 -.7 1 -.7 1 -1.6 1 -2 1 -2 1 -1.7 1 -1.1 .5 -.2 .5 .2 1 1.2 1 1.8 1 2.1 1 1.9 1 2 1 1.5 .6 .5 .4 .1 1 .3 1 .7 1 .5 1 .5 1 .6 .9 -0 1.1 .5 1 -.1 1 .7 1 .1 .5 .2 .5 -.7 1 -0 1 .1 1 .5 1 -.1 1 .1 1 -.1 1 -.1 1 -.4 1 -.4 1 0 1 -.1 1 -.1 1 -.5 1 -.3 1 -.2 1 -.4 .4 -.3 .6 -.4 1 -2.2 1 -3.3 1 -4 1 -3.3 1 -2.3 .9 -1 1.1 1.2 1 2.8 1 3.4 1 3.4 1 1.7 1 -.1 1 -2.6 1 -2.7 1 -2.2 .5 -.2 .5 .1 1 1.4 1 2.6 1 3.2 1 2.9 1 1.9 .4 .5 .6 .3 1 .6 1 .5 1 .5 1 .3 1 .3 1 .5 1 -0 .9 .2 1.1 -.3 1 -0 1 -.4 1 -.2 1 .1 1 .1 1 .5 1 .1 1 .2 1 .2 1 .1 1 -.2 1 -.5 1 -.2 1 0 1 .2 1 0 1 -.1 1 .1 1 .1 1 .3 1 0 1 -.2 1 0 1 -.1 1 .2 1 -.1 1 -.1 1 -.2 1 -.3 1 -.1 1 -0 1 -.1 1 .3 1 .2 1 .2 1 -0 1 -.3 1 .3 1 -.3 1 .3 1 -.3 1 .1 1 -0 1 -0 1 .2 1 -0 1 .1 1 .1 1 -0 1 -.1 1 -.3 1 -0 1 -.3 1 -.1 1 -0 1 .4 1 .2 1 -.1 1 -.2 1 -.1 1 .2 1 .1 1 .1 1 -.2 1 .2 1 -.3 1 -0 1 -.3 1 .3 1 -0 1 -0 1 .2 1 -.1 1 .2 1 -.1 1 -0 1 -0 1 .1 1 -0 1 -.1 1 .1 1 -.3 1 -.1 1 -.1 1 .2 1 .1 1 -.1 1 -.2 1 .1 1 .1 1 .2 1 -.3 1 -.3 1 .2 1 .1 1 .3 1 -.2 1 .1 1 -0 1 -0 1 -.4 1 -.1 1 -0 1 .1 1 .2 1 .3 1 .3 1 -.2 1 .2 1 -.2 1 -0 1 -.4 1 -0 1 .1 1 .1 1 -0 1 -.3 1 -0 1 .1 1 -.1 1 -.1 1 .1 1 -0 1 -0 1 .3 1 .3 1 -0 1 -.3 1 -.1 1 -0 1 .2 1 -0 1 .2 1 -.2 1 -.1 1 -0 1 .3 1 .1 1 -.2 1 -.1 1 -0 1 .1 1 -.2 1 -.1 1 -.1 1 -0 1 -.2 1 .3 1 .1 1 .3 1 -.3 1 .1 1 -0 1 -0 1 .1 1 -.1 1 .1 1 -.1 1 -.1 1 -.1 1 -0 1 .1 1 -0 1 .1 1 -.1 1 -.2 1 -0 1 -0 1 .2 1 .3 1 .1 1 .2 1 -.3 1 -.1 1 -.2 1 -0 1 .1 1 .1 1 -0 1 -.1 1 -0 1 -.3 1 -0 1 -.1 1 .5 1 .2 1 .2 1 -.2 1 -.3 1 -.2 1 -.2 1 .2 1 -0 1 -0 1 .1 1 .2 1 .3 1 -.1 1 -.1 1 -.1 1 -0 1 -.1 1 -.1 1 -.3 1 -0 1 -0 1 .3 1 -0 1 -.1 1 .4 1 .2 1 .1 1 -.5 1 -0 1 -.2 1 -.2 1 -0 1 .4 1 .1 1 -.4 1 -.4 1 .4 1 .2 1 -0 1 -.2 1 .2 1 .2 1 -0 1 .2 1 -.2 1 .1 1 -.2 1 -0 1 -.1 1 -.3 1 -0 1 .3 1 .5 1 .1 1 -.2 1 -.4 1 -0 1 -.2 1 .1" fill="none" stroke="#CC66FF" stroke-width="1.5" stroke-linejoin="round" stroke-linecap="round" />
<path d="M729.5 1073.5l1 -.3 1 -.1 1 -0 1 .3 1 0 1 .1 1 .2 1 -.1 1 -.5 1 -.3 1 .1 1 .6 1 .3 1 -.1 1 -.2 1 -.3 1 0 1 -.3 1 .1 1 .2 1 .2 1 -.2 1 -.1 1 -.4 1 0 1 -.3 1 .3 1 .4 1 .4 1 -.1 1 -.2 1 -.1 1 .1 1 -.1 1 -.3 1 .3 1 -0 1 -0 1 -.5 1 .2 1 -0 1 .2 1 -.4 1 .1 1 .1 1 .2 1 -0 1 -.1 1 -0 1 .1 1 .2 1 -.3 1 .1 1 -0 1 .1 1 -.2 1 -.1 1 .2 1 .1 1 .1 1 .2 1 -.3 1 -0 1 -.1 1 -0 1 -.4 1 -0 1 -0 1 -0 1 -.2 1 .2 1 -0 1 .3 1 -.4 1 0 1 -.2 1 .3 1 .4 1 0 1 -.2 1 -.5 1 .1 1 .1 1 .2 1 -.2 1 0 1 -.1 1 0 1 0 1 0 1 .1 1 0 1 -.3 1 -.4 1 -.2 1 .2 1 .3 1 .2 1 0 1 -.1 1 -.3 1 -.1 1 0 1 -.1 1 0 1 -.2 1 -.1 1 -.2 1 -.2 1 -.2 1 -.4 1 -.3 1 -.3 1 -.7 1 -.4 1 -1.2 1 -2.5 1 -4 1 -3.8 1 -3.5 1 -2 1 .8 1 4 1 5 .8 2.6 1.2 2.1 1 1.5 1 .8 1 .6 .5 -.3 .5 -.1 1 -.2 1 -.4 1 0 1 -.7 1 -1 .9 -.8 1.1 -4.3 1 -6.8 1 -6.7 .8 -2.4 1.2 -.5 1 -.1 1 -.1 1 .3 1 -.2 1 1 1 2.5 1 3.4 .5 1.3 .5 1.2 1 2.5 1 1.4 .7 .3 1.3 -.9 1 -.8 1 -1.3 1 -.8 .4 -.3 .6 .5 1 1.7 1 2.4 1 2.5 1 2 1 1.6 1 1.8 1 1.8 1 1.4 1 .8 1 .1 .5 .1 .5 -.1 1 .3 1 0 1 .5 1 .3 1 0 1 -.1 1 .1 1 .3 1 .1 1 .1 1 -.2 1 .4 1 .1 1 .4 1 -.1 1 -.4 1 -.1 1 -.4 1 .1 1 -.6 1 .1 1 0 1 .1 1 -.4 .7 -.7 1.3 -1.9 1 -2.5 1 -3 1 -3.2 1 -2.8 1 -1.3 1 .7 1 2.8 1 2.8 1 1.6 1 -1.5 1 -3.2 1 -4.5 1 -3.6 1 -2.3 .5 0 .5 .4 1 4 1 4.7 .7 2.7 1.3 3.2 1 2.4 1 1.9 1 1.4 .4 .1 .6 -.1 1 0 1 0 1 .3 1 -.2 1 0 1 -.1 1 .1 1 .1 1 .1 1 .1 .5 -.1 .5 -.4 1 -.4 1 -.4 1 -.6 1 -.7 1 -1 1 -.8 1 -1.2 1 -1 1 -.9 1 -1.2 1 -1.4 1 -1.8 1 -1.3 1 -.7 .5 -.2 .5 .1 1 .8 1 1.7 1 2.2 1 2.3 1 2.4 1 1.6 .6 .5 .4 .5 1 .9 1 .8 1 .6 1 .9 1 .3 .9 .2 1.1 -.3 1 .3 1 -.1 1 .3 .5 .3 .5 0 1 -.2 1 -.4 1 .1 1 .2 1 -.2 1 -.1 1 0 1 -.3 1 -.3 1 -.1 1 .1 1 -.1 1 0 1 -.2 .7 -.2 1.3 -1.6 1 -2.5 1 -3.3 1 -3.8 1 -3.7 1 -3.2 1 -2 1 -.9 1 .8 1 2.7 1 4.1 1 4.7 1 2.9 .6 .6 .4 -.4 1 -1.7 1 -2.7 1 -2.8 1 -1.8 .4 -.4 .6 .4 1 2 1 3.1 1 3.9 1 3.4 1 2.1 1 .4 1 .5 1 .5 1 .5 1 .6 1 0 1 .3 1 -.2 1 0 1 -.3 1 0 1 -.1 1 .3 1 0 1 .3 1 -.3 1 .2 1 -.2 1 .1 1 -.1 1 -.2 1 .1 1 0 1 .4 1 0 1 .1 1 -.4 1 0 1 .4 1 0 1 -.4 1 -.1 1 .4 1 .3 1 -.3 1 -.3 1 0 1 0 1 .1 1 0 1 .3 1 -.2 1 0 1 -.1 1 .1 1 .1 1 -.1 1 -.1 1 -.3 1 -.1 1 .2 1 .3 1 .1 1 -.1 1 -.1 1 .2 1 .1 1 -.1 1 -.5 1 .4 1 .1 1 .5 1 -.3 1 -.1 1 -.2 1 -.1 1 .2 1 .2 1 0 1 -.3 1 -.2 1 .2 1 .3 1 -.3 1 -.1 1 -.6 1 .2 1 .1 1 .5 1 .3 1 .1 1 -.3 1 .1 1 .1 1 0 1 -.4 1 0 1 -.1 1 -.1 1 0 1 .2 1 0 1 -.1 1 0 1 0 1 .1 1 -.2 1 .1 1 -.1 1 .3 1 -.2 1 .2 1 .3 1 -.1 1 -.2 1 -.4 1 .1 1 -.1 1 -.1 1 0 1 .5 1 .2 1 -.2 1 -.6 1 .2 1 .2 1 0 1 -.3 1 .2 1 .4 1 .4 1 0 1 -.1 1 -.2 1 -.4 1 .1 1 0 1 .2 1 0 1 .3 1 -.2 1 -.2 1 -.3 1 .1 1 .2 1 0 1 -.1 1 -.1 1 -.1 1 0 1 .1 1 0 1 .1 1 0 1 0 1 -.1 1 -.2 1 .2 1 .1 1 .2 1 -.1 1 .1 1 0 1 .2 1 -.2 1 -.3 1 -.1 1 .1 1 .4 1 -.1 1 -.1 1 -.1 1 .2 1 .1 1 -.3 1 -.3 1 0 1 .1 1 .5 1 -.2 1 .1 1 -.4 1 .2 1 .3 1 -.2 1 -.1 1 -.4 1 .4 1 -.1 1 .1 1 -.2 1 .3 1 .1 1 .1 1 -.5 1 -.2 1 0 1 .2 1 .3 1 -.3 1 .5 1 -.2 1 .4 1 -.5 1 -.2 1 0 1 .4 1 .2 1 .1 1 -.2 1 -.1 1 -.1 1 0 1 .1 1 .1 1 -.1 1 .2 1 -.1 1 -.1 1 -.1 1 -.2 1 0 1 -.2 1 .2 1 .2 1 .1 1 0 1 0 1 -.2 1 .1 1 -.2 1 .2 1 .2 1 .1 1 -.2 1 -.5 1 -.1 1 0 1 .1 1 -.1 1 0 1 .1 1 .1 1 0 1 .3 1 0 1 0 1 -.1 1 0 1 0 1 -.2 1 -.1 1 0 1 .3 1 -.1 1 .1 1 -.2 1 .2 1 .3 1 0 1 -.2 1 0 1 .1" fill="none" stroke="#FF6A1A" stroke-width="1.5" stroke-linejoin="round" stroke-linecap="round" />
<path d="M729.5 1106.7l1 -.2 1 -.1 1 -.2 1 .4 1 -0 1 -0 1 -0 1 -.3 1 .2 1 -0 1 -0 1 -.3 1 -.3 1 .2 1 .3 1 .1 1 -.4 1 -.1 1 -0 1 .4 1 -.2 1 .2 1 -.1 1 .3 1 -.1 1 .1 1 -.2 1 .1 1 -.3 1 .3 1 -.1 1 .1 1 -.1 1 -0 1 .1 1 .1 1 -0 1 -0 1 .2 1 -.1 1 -.2 1 -.2 1 .2 1 .3 1 .1 1 .1 1 -.3 1 0 1 -.4 1 .1 1 -.2 1 .2 1 0 1 .2 1 -.1 1 -.2 1 .1 1 .3 1 0 1 -.4 1 -.3 1 .2 1 .2 1 0 1 -.1 1 .2 1 0 1 -.3 1 -.3 1 0 1 .2 1 -.2 1 .4 1 -.1 1 .1 1 -.1 1 .1 1 .1 1 0 1 -.2 1 .2 1 -.3 1 -0 1 -.4 1 0 1 .2 1 .3 1 .3 1 -.1 1 -.4 1 -.4 1 -.3 1 .1 1 .3 1 .2 1 .1 1 -.3 1 0 1 0 1 -.1 1 0 1 -.2 1 .5 1 -.2 1 .2 1 -.4 1 -.1 .4 -.3 .6 -.2 1 .1 1 .2 1 0 1 0 1 -.5 1 -.3 1 -.7 1 -.7 .9 -.7 1.1 -2.4 1 -4 1 -4.6 1 -3.7 1 -1.8 1 1.6 1 4.1 1 4.4 .6 1.5 .4 .6 1 1.4 1 1.3 1 1.1 1 .7 1 .4 1 0 1 -.3 1 -.5 1 -.9 1 -1.4 1 -1.8 .4 -1 .6 -1.9 1 -6.2 1 -5.7 .6 -1.8 .4 -.2 1 -.8 1 -.4 1 -.6 .6 -.4 .4 .4 1 2.3 1 3.3 .7 1.4 1.3 2.7 1 1.3 .9 .7 1.1 -.3 1 -.7 1 -1 1 -.9 1 -.7 1 .4 1 1.7 1 2.2 1 2.2 1 1.5 1 1.5 1 1.3 1 1.1 1 1.3 1 1 1 1.2 .5 0 .5 .2 1 .2 1 .4 1 .1 1 .5 1 0 1 .3 1 .1 1 .2 1 .3 1 0 1 0 1 0 1 .3 1 .1 1 0 1 -.4 1 -.1 1 -.2 1 .1 1 -.1 1 -.3 1 -.4 1 -.3 1 -.1 .7 .3 1.3 -1.6 1 -2.3 1 -2.8 1 -2.3 1 -2.3 1 -1.9 .9 -.8 1.1 1.4 1 1.9 1 2.6 1 1.5 .6 .1 .4 -.2 1 -2.5 1 -4 1 -4.3 1 -2.3 1 1.3 1 4.3 1 4.5 .5 1.3 .5 .9 1 2.1 1 1.6 1 1.1 1 1 1 .9 1 .7 1 .1 1 .2 1 -.1 1 -.3 1 -.2 1 .1 .9 .2 1.1 .1 1 -.2 1 -.6 1 -.6 1 -1.1 1 -.9 1 -1.1 1 -.7 1 -1 .4 -.3 .6 -.9 1 -1 1 -1.3 1 -1.1 1 -1.3 1 -1 1 -.7 .5 .2 .5 .1 1 1 1 1.2 1 1.9 1 1.9 1 1.7 1 1.5 .6 .6 .4 .4 1 .3 1 .9 1 .8 1 .9 1 .5 1 -.1 1 .4 .5 .1 .5 .2 1 0 1 0 1 .2 1 -.2 1 0 1 0 1 .2 1 -.1 1 .2 1 -.1 1 .1 1 .1 .5 .1 .5 .1 1 -.1 1 .4 1 0 1 .2 1 -.6 1 -.2 .4 -.2 .6 .2 1 -.7 1 -1.2 1 -1.8 1 -1.6 .5 -1 .5 -1 1 -4.1 1 -4.3 1 -3.4 .7 -.6 1.3 1.8 1 3.2 1 3.5 1 3 1 1.5 1 -.8 1 -2 1 -2.8 1 -1.8 .4 -.3 .6 .7 1 2.2 1 3.4 1 2.7 1 1.6 1 1.1 1 1 1 .8 .5 -0 .5 .3 1 .6 1 .7 1 .4 1 .1 .6 -.4 .4 .1 1 .1 1 .4 1 -.3 1 -.2 1 -.4 1 .2 1 .3 1 -0 1 .1 1 -.3 1 .4 1 -.2 1 -.1 1 -.3 1 .1 1 .2 1 -.1 1 .1 1 .2 1 -0 1 .1 1 -.1 1 .3 1 .2 1 .2 1 -.3 1 -.1 1 -.3 1 .1 1 -0 1 -0 1 -.1 1 .1 1 -.1 1 -0 1 -.3 1 -.1 1 .2 1 .3 1 .1 1 -.2 1 .1 1 -0 1 -0 1 -.3 1 .1 1 .1 1 .3 1 -0 1 .1 1 -.5 1 -.3 1 .2 1 .5 1 .2 1 -.1 1 -.2 1 -.1 1 -.2 1 .1 1 -0 1 -0 1 -.3 1 -0 1 .1 1 .4 1 -.1 1 -0 1 -.3 1 -.1 1 -0 1 .2 1 -0 1 -.1 1 -.4 1 .2 1 .2 1 -0 1 .1 1 -.1 1 .6 1 -.2 1 -0 1 -.2 1 .2 1 -.1 1 -.1 1 -.1 1 .2 1 -.2 1 -.2 1 .2 1 .3 1 .1 1 .1 1 -0 1 .1 1 -.1 1 -.1 1 -.1 1 -0 1 -.1 1 -0 1 -.5 1 -.1 1 -.2 1 .6 1 -.1 1 .2 1 -.1 1 .2 1 -0 1 -.2 1 -.2 1 -0 1 .2 1 .4 1 -0 1 -.2 1 -0 1 -.1 1 .1 1 -0 1 -.1 1 -0 1 -.1 1 .5 1 -.1 1 -0 1 -0 1 .2 1 -.1 1 -.3 1 -.3 1 .2 1 -.2 1 .2 1 -.3 1 .3 1 -.1 1 .3 1 -.3 1 -.3 1 -.2 1 .1 1 .4 1 .1 1 .3 1 -.3 1 -.2 1 -.2 1 .2 1 .1 1 .2 1 -.1 1 .3 1 -.1 1 .2 1 -.7 1 -.1 1 -0 1 .3 1 .1 1 -.4 1 .1 1 .2 1 .2 1 .2 1 -.3 1 .1 1 -.1 1 .1 1 -.3 1 -0 1 -0 1 -0 1 .2 1 -0 1 -0 1 -0 1 -.2 1 .2 1 -.4 1 .4 1 -0 1 .2 1 -.3 1 -.2 1 .2 1 .1 1 .3 1 -.3 1 -0 1 -.3 1 .2 1 -.3 1 .3 1 -.3 1 .4 1 -.1 1 .1 1 -0 1 .2 1 -.1 1 -.1 1 -.1 1 .2 1 .3 1 -.1 1 -.1 1 -.2 1 -0 1 .1 1 .1 1 -.2 1 -.1 1 .2 1 -0 1 .2 1 -.4 1 -.1 1 -.4 1 .4 1 -0 1 .2 1 .1 1 .1 1 -.2 1 -.3 1 -.3 1 .3 1 .1 1 .1 1 -.1 1 .1 1 .3 1 .3 1 -.2 1 -0 1 -.1 1 .1 1 -.5 1 -.1" fill="none" stroke="#FF7F7F" stroke-width="1.5" stroke-linejoin="round" stroke-linecap="round" />
<path d="M729.5 1142l1 -.2 1 .3 1 -.4 1 .4 1 .1 1 0 1 -.5 1 0 1 .3 1 .1 1 0 1 -.1 1 .1 1 -.1 1 -.2 1 -.2 1 0 1 .2 1 .4 1 -.3 1 .1 1 .1 1 .3 1 0 1 -.4 1 -.1 1 -.1 1 0 1 -.2 1 -.2 1 -.1 1 .3 1 .3 1 .4 1 -.2 1 0 1 -.4 1 0 1 0 1 .1 1 -.2 1 -.1 1 0 1 .3 1 -.1 1 0 1 -.2 1 0 1 .2 1 .1 1 .2 1 0 1 -.1 1 -.1 1 -.1 1 -.1 1 -.1 1 0 1 -.2 1 -.1 1 .1 1 .2 1 .1 1 0 1 0 1 .2 1 .1 1 -.1 1 -.1 1 -.1 1 -.3 1 .2 1 -.2 1 .4 1 -.4 1 .1 1 0 1 -.1 1 .1 1 -.6 1 .2 1 -0 1 .2 1 -0 1 .1 1 -.3 1 -.1 1 -.1 1 .2 1 -.2 1 -.1 1 -0 1 .1 1 .3 1 .2 1 -0 1 .1 1 -.3 1 .3 1 -.2 1 -0 1 -.6 1 .1 1 -.2 1 .4 1 -.5 1 -.1 .4 -.3 .6 -0 1 -0 1 -0 1 -.2 1 -.3 1 -.5 1 -.7 1 -.8 1 -1.1 .9 -.9 1.1 -2.9 1 -4.5 1 -4.5 1 -2.3 1 1.1 1 4.2 1 5.1 1 4.2 .6 1.2 .4 -0 1 .7 1 .4 1 .3 1 -0 1 -0 1 -.2 1 -.3 1 -.7 1 -.8 1 -1.7 .7 -1.1 1.3 -5.9 1 -6.7 1 -5.5 .6 -1.5 .4 -.5 1 -1.2 1 -.5 1 -.2 .6 .2 .4 .3 1 2.9 1 4.1 1 2.9 1 1.6 1 1.3 1 1.3 .7 .3 1.3 -.5 1 -1.3 1 -1 1 -.3 1 1 1 1.3 1 2 1 2.3 1 2.1 1 1.4 1 .9 1 1.2 1 .9 1 1 1 .6 .5 .2 .5 .3 1 .3 1 .4 1 .4 1 .2 1 .1 1 .1 1 .2 1 .2 .9 .2 1.1 .3 1 -.2 1 -.1 1 -.2 1 -0 1 -.2 1 -.1 1 -0 1 -.1 1 -.1 1 -0 1 -.3 1 -0 1 -.2 1 .1 .7 -.4 1.3 -1.8 1 -2.2 1 -2.2 .7 -1.3 1.3 -2.6 1 -2.2 1 -1 1 .5 1 2.2 1 2.6 1 1.8 .6 .3 .4 -.7 1 -2.2 1 -3.5 1 -3.1 1 -2.5 .8 -.7 1.2 2.2 1 4.1 1 3.9 1 2.5 1 2.2 1 1.8 1 1.2 1 .4 1 -.2 1 -.2 1 -.4 1 -0 1 -0 1 -.2 1 -.6 1 -.3 1 -.4 .5 .1 .5 -.5 1 -0 1 -.9 1 -.1 1 -1 1 -.5 1 -1 1 -1.1 1 -1.1 1 -1.1 1 -1 1 -.8 1 -1 1 -.7 1 -.7 1 .5 1 .9 1 2 1 1.5 1 1.9 1 1.3 1 1.2 .6 .5 .4 .3 1 .8 1 .9 1 .6 1 .1 1 .3 .9 .2 1.1 .5 1 .3 1 .3 1 .4 .5 -0 .5 -.1 1 -.3 1 -0 1 .4 1 -.1 1 -0 1 -.1 1 .1 1 -0 1 -.1 1 -.2 1 -.1 1 -0 1 .4 1 .2 1 -0 1 -.1 1 -.1 1 -0 1 -.1 1 -1.1 1 -1.3 1 -1.3 1 -1.4 1 -1.7 .9 -2 1.1 -2.9 1 -3.4 1 -2.8 1 -1.3 1 1.4 1 3.3 1 3.9 1 3.3 1 1.6 1 -.7 1 -2.1 1 -2.5 1 -2.5 1 -1.4 1 .7 1 2.5 1 3.7 1 3.2 1 2.3 .4 .3 .6 .3 1 .8 1 .8 1 .7 1 .2 1 -0 1 -.3 1 .1 1 .1 1 -0 1 -.2 1 .1 1 -.1 1 .1 1 .1 1 .2 1 -.1 1 -0 1 -.2 1 -0 1 -.3 1 .1 1 .4 1 .3 1 .1 1 -0 1 .2 1 -.3 1 -.3 1 -.2 1 -.2 1 .1 1 -0 1 .4 1 -.2 1 .1 1 -.2 1 -0 1 .1 1 .1 1 .1 1 -.2 1 .1 1 -.2 1 .1 1 -.1 1 .1 1 .2 1 -.1 1 -.1 1 -.2 1 -0 1 .2 1 -.2 1 -0 1 -.1 1 .3 1 -.4 1 .3 1 .2 1 .3 1 -.4 1 -.2 1 .3 1 .3 1 .3 1 -.5 1 0 1 -.4 1 .2 1 -.1 1 0 1 -.1 1 -.4 1 -.1 1 0 1 .6 1 -.1 1 .3 1 -.4 1 .3 1 -.1 1 .2 1 -.1 1 -.1 1 -.2 1 -.3 1 .1 1 .3 1 .2 1 -0 1 -.4 1 -.1 1 -.5 1 .2 1 -.2 1 .1 1 0 1 .4 1 -.1 1 .2 1 -.4 1 -0 1 -.1 1 -0 1 -.2 1 -.2 1 .3 1 .1 1 -.2 1 -.3 1 -.2 1 .3 1 .2 1 .1 1 -.4 1 -.4 1 .1 1 .2 1 .1 1 -.2 1 -.4 1 .1 1 -.2 .8 .1 1.2 -.1 1 0 1 .1 1 -.2 1 .4 1 -.4 1 .3 1 -.4 1 .3 1 -.1 1 .2 1 0 1 -.2 1 0 1 .2 1 -.2 1 .1 1 0 1 .3 1 -.3 1 -.2 1 0 1 .2 1 -.3 1 -.4 1 0 1 .4 1 .3 1 -.3 1 0 1 .2 1 .1 1 -.3 1 -.1 1 .1 1 .1 1 -.2 1 -.2 1 0 1 .1 1 0 1 .3 1 -.2 1 -.2 1 0 1 .3 1 -.1 1 -.2 1 .1 1 -.3 1 -.2 1 -.4 1 .3 1 .2 1 .2 1 0 1 -.3 1 -.1 1 -.2 1 -.3 1 -.1 1 .1 1 .2 1 0 1 .1 1 .1 1 .1 .5 -.2 .5 .1 1 .3 1 -.2 1 -.2 1 -.4 1 .1 1 -.2 1 0 1 .2 1 .1 1 -.2 1 -.2 1 .1 1 0 1 .1 1 -.1 1 .2 1 -.1 1 -.1 1 -.3 1 0 1 -.2 1 -.2 1 .1 1 -.1 1 .1 1 -.3 1 .1 1 -.2 1 -.1 1 .1 1 .1 1 -.1 1 -.1 1 0 1 .2 1 -.3 1 .1 1 .3 1 .1 1 -.6 1 -.1 1 .1 1 .3 1 -.3 1 -.2 1 -.2 1 -.2 1 .1 1 -.1 1 .3 1 -.2 1 .2 1 -.4 1 0 1 -.3" fill="none" stroke="#FF6A1A" stroke-width="1.5" stroke-linejoin="round" stroke-linecap="round" />
<path d="M729.5 1181.8l1 .1 1 -.1 1 .4 1 .1 1 .1 1 -.3 1 -.2 1 .1 1 .2 1 -.1 1 -.2 1 -.4 1 .2 1 0 1 .3 1 -.1 1 0 1 -.1 1 0 1 .3 1 0 1 0 1 -.3 1 0 1 .1 1 -.1 1 0 1 -.1 1 .3 1 .1 1 -.1 1 -.2 1 -.3 1 .1 1 0 1 0 1 0 1 .4 1 .2 1 -.1 1 -.4 1 .1 1 .1 1 0 1 -.4 1 .1 1 -.2 1 .2 1 -.2 1 .4 1 0 1 0 1 0 1 -.2 1 .2 1 -.1 1 -.1 1 -.3 1 -.3 1 .3 1 .1 1 .1 1 .2 1 -.1 1 -.2 1 -.5 1 -.1 1 .1 1 .2 1 .3 1 0 1 -.1 1 -.2 1 -.1 1 .6 1 .2 1 0 1 -.3 1 0 1 -.1 1 .2 1 -.3 1 .3 1 -.1 1 .2 1 -.1 1 -.4 1 .2 1 -0 1 .4 1 -0 1 -.3 1 -.4 1 -.3 1 -.1 1 .3 1 -.1 1 -.1 1 -.4 1 -0 1 -0 1 .3 1 .1 1 .1 1 -.2 1 .1 1 .1 .4 .2 .6 -.1 1 -.4 1 -.6 1 -.3 1 -.3 1 -.3 1 -.7 1 -1 1 -1.1 .9 -.9 1.1 -3 1 -4.7 1 -4.9 1 -2.8 1 .9 1 4 1 5.1 1 3.9 .6 1.2 .4 .3 1 1.1 1 .6 1 .1 1 .1 1 .1 1 .4 1 -.4 1 -.8 1 -1.5 1 -1.4 1 -1.4 .4 -.8 .6 -2.3 1 -7.4 1 -6.9 .6 -2 .4 -.9 1 -1.6 1 -1.2 1 -.3 1 1.4 1 3.6 1 5 1 4.2 .5 1.1 .5 .7 1 .3 1 .4 .7 -.1 1.3 -.5 1 -.9 1 -.9 .6 -.4 .4 0 1 1.1 1 1.9 1 2.3 1 1.9 1 1.8 1 1.1 1 1.2 1 1 1 1.3 1 1 1 .8 1 .6 1 .3 1 .3 1 -.4 1 .1 1 -.1 1 0 1 -.2 1 -.2 1 .4 1 .1 1 .2 1 -.1 1 .4 1 -.2 1 -.3 1 -.2 1 .2 1 .5 1 -.2 1 .1 1 -.3 1 .1 1 -.7 1 -.2 .7 -.1 1.3 -1.4 1 -2.3 1 -2.6 .7 -1.3 1.3 -2.7 1 -1.6 1 -.7 1 .7 1 2.1 1 2.5 1 1.6 .6 .2 .4 -.3 1 -1.9 1 -3.5 1 -3.5 1 -2.7 .8 -.8 1.2 2.4 1 4 1 4.2 1 2 1 2 1 1.3 1 1.4 1 .9 1 .8 .6 0 .4 -.3 1 -.3 1 .1 1 -.1 1 -.3 1 -.3 1 .2 1 .2 .5 -.4 .5 -.2 1 -.5 1 -.2 1 -.6 1 -.3 1 -.8 1 -.9 1 -1.5 1 -.7 1 -.8 1 -1 1 -1.7 1 -2 1 -1.3 .7 -.4 1.3 .8 1 1.4 1 1.9 1 1.9 1 1.8 1 1.7 1 1.5 .6 .5 .4 .2 1 .5 1 .1 1 .3 1 .4 1 .5 1 .2 1 .2 .5 .1 .5 .5 1 .2 1 0 .5 0 .5 -.4 1 .1 1 -.3 1 .5 1 -.2 1 .2 1 0 1 .1 1 -.2 1 -.3 1 0 1 0 1 -.1 1 .1 1 .2 1 -.1 1 -.3 1 -.1 1 .2 1 .1 1 0 1 .2 1 .1 1 0 1 -.8 1 -1.3 1 -2.2 1 -2.3 1 -2.9 1 -2.2 1 -3.4 1 -2.6 1 -1.8 .5 -.1 .5 .3 1 2.4 1 3.8 1 3.9 1 2.6 .6 .2 .4 -.2 1 -2 1 -2.8 1 -2.2 .8 -.8 1.2 1.3 1 1.9 1 2.5 1 2.9 1 2.3 1 1.8 .6 .3 .4 .3 1 .3 1 .6 1 .6 1 .2 1 .1 1 -.4 .4 0 .6 -.1 1 .3 1 -.1 1 0 1 0 1 -.1 1 .1 1 -.3 1 .6 1 -.2 1 -.1 1 0 1 .2 1 .2 1 .1 1 -.3 1 -.1 1 -.3 1 -.1 1 0 1 0 1 .4 1 -.2 1 .1 1 -.6 1 .1 1 -.1 1 .2 1 0 1 0 1 -.1 1 .1 1 0 1 .1 1 .1 1 -.1 1 .2 1 -.1 1 -.1 1 0 1 -.2 1 -.1 1 -.1 1 .2 1 .1 1 .3 1 -.1 1 -.3 1 -.3 1 -0 1 .2 1 .1 1 -.1 1 -.1 1 -0 1 .2 1 -0 1 -.1 1 -.3 1 .2 1 -.1 1 .1 1 -.1 1 -.1 1 -.5 1 .1 1 .2 1 .2 1 -.1 1 -.3 1 -0 1 .2 1 .2 1 -.2 1 -.1 1 -.2 1 .6 1 -.1 1 -.1 1 -.4 1 -.1 1 -.1 1 -.1 1 .1 1 -.1 1 .2 1 -.1 1 -.2 1 -.1 1 -.3 1 .2 1 -.2 1 .1 1 -.1 1 -0 1 -.1 1 -0 1 .1 1 -0 1 .1 1 .3 1 -.2 1 -.1 1 -.4 1 .3 1 -.2 1 -.1 1 -.2 1 .3 1 -.1 1 -0 1 -.2 1 -0 1 -0 1 .3 1 .2 1 -.2 1 -.1 1 -.3 1 .3 1 -.4 1 .1 1 -.1 1 .1 1 -.2 1 -.1 1 .3 1 .2 1 .1 1 -.3 .7 -.1 1.3 -.1 1 .2 1 -.3 1 -.1 1 -.3 1 .1 1 .2 1 -.1 1 .1 1 -.2 1 .1 1 -.2 1 -.2 1 .2 1 .2 1 .1 1 -.4 1 -.2 1 -0 1 -0 1 .1 1 -0 1 -0 1 -.1 1 -.1 1 .1 1 -0 1 -.3 1 -0 1 -.1 1 .2 1 -0 1 -0 1 .1 1 -.3 1 .1 1 -.1 1 .3 1 -.1 1 -0 1 -0 1 -0 1 -0 1 -.1 1 .1 1 -0 1 -.2 1 -.2 1 -.2 1 .1 1 -.2 1 .2 1 -.4 1 .1 1 -0 1 .2 1 -.1 1 -.1 1 -.1 1 -.4 1 -0 1 .1 1 .1 1 -0 1 -0 1 .1 1 -.1 .4 .1 .6 -.2 1 .2 1 -.1 1 .1 1 -.3 1 -.3 1 .3 1 -.2 1 .1 1 -.4 1 .4 1 -0 1 -0 1 -.3 1 .1 1 -0 1 -.1 1 -.1 1 -.1 1 -.1 1 -.2 1 -.1 1 -.2 1 -.2 1 .1 1 -0 1 -0 1 -0 1 .2 1 -.2 1 -.4 1 .1 1 -0 1 .2 1 -.2 1 -.1 1 -0 1 .2 1 .1" fill="none" stroke="#2FAE55" stroke-width="1.5" stroke-linejoin="round" stroke-linecap="round" />
<path d="M729.5 1227.2l1 0 1 .2 1 0 1 .2 1 .3 1 0 1 -.2 1 -.2 1 -.2 1 -.1 1 0 1 .2 1 .2 1 -0 1 -.5 1 -.2 1 -.1 1 .4 1 -0 1 .1 1 -.1 1 .2 1 -.1 1 .2 1 -.2 1 .2 1 -.2 1 .2 1 -.4 1 -0 1 -0 1 -.2 1 .1 1 -0 1 .7 1 -0 1 .2 1 -.4 1 -.1 1 -.1 1 .1 1 .3 1 -.3 1 -.3 1 -.1 1 .3 1 .4 1 -.2 1 -0 1 -.1 1 -.1 1 -.2 1 -.2 1 .1 1 .2 1 .1 1 -.4 1 -0 1 .2 1 -.1 1 -.1 1 -.2 1 .5 1 .2 1 -.1 1 -.3 1 -.5 1 .2 1 .1 1 .4 1 -.3 1 -.3 1 -.1 1 .2 1 .2 1 -.1 1 -0 1 .1 1 .2 1 .2 1 .1 1 -.3 1 -.5 1 -.1 1 -.1 1 -.2 1 -0 1 .1 1 .4 1 -.3 1 -.3 1 .1 1 .3 1 .1 1 -.3 1 -.3 1 .2 1 .4 1 .2 1 -0 1 -.3 1 -.2 1 -.2 1 .2 1 -0 1 -0 1 -.2 .4 .2 .6 -0 1 -.3 1 -.6 1 -.3 1 -.4 1 -.6 1 -.6 1 -.9 1 -.9 .9 -.8 1.1 -2.7 1 -4.1 1 -4.5 1 -3.4 1 -1.3 1 2.6 1 5.1 1 4.8 .6 1.4 .4 .8 1 1.3 1 1.2 1 1.2 1 .9 1 .5 .9 -.1 1.1 -.3 1 -.8 1 -.9 1 -1.1 1 -1.7 1 -1.8 1 -2.2 1 -4.7 1 -7.7 .9 -5.7 1.1 -4.6 1 -3.1 .6 -.5 .4 .5 1 3.8 1 5.2 .7 3 1.3 3.8 1 3.2 1 1.6 .7 .9 1.3 -.8 1 -.7 1 -1 1 -.4 1 .8 1 1.7 1 2.2 1 2.5 1 1.9 1 1.1 1 .8 1 .9 1 1.3 1 1.1 1 .7 1 .8 1 .2 1 .4 1 -0 1 .6 1 -0 1 .2 1 .2 1 .3 1 .1 1 -.3 1 -0 1 -.2 1 -.1 1 -.1 1 .2 1 .2 1 -0 1 -.2 1 -.2 1 -.1 1 -.1 1 -0 1 -.2 1 -.3 1 -.5 1 -.1 1 -.6 1 -2 1 -2.6 1 -2.9 1 -2.7 1 -1.9 .6 -.4 .4 -0 1 1.4 1 2 1 2.3 1 1.4 .4 .2 .6 -.2 1 -1.2 .8 -1.4 1.2 -4.7 1 -4.8 .9 -2.1 1.1 2.5 1 4.7 1 5 .9 2.9 1.1 1.2 1 1.4 1 .9 1 .6 1 .3 1 .2 1 .2 1 .1 1 -.2 1 .2 1 -.1 1 .2 .5 -0 .5 .2 1 -.3 1 -.6 1 -.7 1 -.8 1 -.6 1 -.8 1 -1.2 1 -1 1 -.9 1 -.8 1 -1.9 1 -1.7 1 -1.7 1 -.9 .5 .2 .5 .1 1 .8 1 .9 1 1.5 1 1.9 1 2 1 1.6 .6 .4 .4 .2 1 .6 1 .7 1 .7 1 1.1 1 .8 1 .5 1 .2 .5 .1 .5 .1 1 .1 1 .1 .5 -.1 .5 .3 1 -0 1 .3 1 -.4 1 .3 1 -.1 1 .3 1 -.2 1 -.6 1 -.3 1 .1 1 .7 1 -0 1 -0 1 -.3 1 .3 1 -0 1 .2 1 -.4 1 -.4 1 -.2 1 -.1 1 .3 1 -.1 1 .2 .9 -.3 1.1 -.6 1 -1.5 1 -1.4 1 -2 1 -2.1 .8 -1.5 1.2 -3.1 1 -3 1 -2.7 1 -1.9 .4 .1 .6 .6 1 4.2 1 4.8 1 3.2 1 -.1 1 -1.1 1 -2.3 1 -2.3 1 -1.6 .9 -.5 1.1 1.5 1 2.6 1 3.5 1 3.2 1 1.8 1 .6 1 .8 1 .7 1 .5 1 .4 1 .3 1 .1 1 -.3 1 -0 1 -0 1 -0 1 -.1 1 -.1 1 -0 1 .1 1 .4 1 -.1 1 -.2 1 -.1 1 -.2 1 .2 1 .1 1 .4 1 -0 1 -.2 1 -.3 1 -.2 1 -.1 1 .5 1 -.1 1 -.1 1 -.6 1 .4 1 .2 1 .2 1 -0 1 -.1 1 .1 1 .1 1 -0 1 -.1 1 -.1 1 .1 1 .1 1 -.1 1 -.1 1 -.1 1 .2 1 -.1 1 -0 1 -.3 1 -.1 1 -0 1 .2 1 .2 1 -0 1 .3 1 -.3 1 .3 1 -.2 1 -.1 1 -.2 1 -.3 1 .2 1 .2 1 .3 1 .2 1 -.3 1 -.1 1 -.2 1 -.1 1 .1 1 .2 1 .1 1 -.1 1 -.3 1 .1 1 .1 1 -.3 1 -.2 1 .2 1 .2 1 .3 1 -.2 .9 -.1 1.1 -.2 1 .2 1 -0 1 -.2 1 -.2 1 -.1 1 .4 1 -.1 1 -.1 1 -.4 1 .1 1 .1 1 .1 1 .1 1 -0 1 .4 1 .2 1 -.1 1 -.1 1 -.3 1 .2 1 -.4 1 -0 1 .1 1 .2 1 -.1 1 -0 1 -0 1 -.3 1 -.2 1 -0 1 .1 1 .3 1 -0 1 -0 1 -.3 1 -0 1 -.1 1 -.1 1 -.3 1 .1 1 .1 1 .1 1 -.1 1 -0 1 .1 1 -.3 1 .2 1 .2 1 .2 1 -.2 1 -.2 1 -.1 1 .1 1 -.1 1 -.1 1 -.1 1 -.2 1 -0 1 -.3 1 .2 1 -.1 1 -0 1 -.1 1 .2 1 .2 1 .2 .6 -0 .4 -.2 1 -.3 1 -.1 1 .3 1 .3 1 .2 1 -.2 1 -.4 1 -0 1 -.2 1 -0 1 -.3 1 -0 1 .1 1 .3 1 .1 1 .2 1 -.2 1 -.1 1 -.4 1 -.3 1 -.1 1 .2 1 -.1 1 -0 1 -.1 1 .1 1 .1 1 .2 1 -0 1 -.1 1 -.2 1 -0 1 -0 1 -.2 1 -.1 1 -0 1 .1 1 .4 1 -.2 1 -0 1 -.3 1 .1 1 .1 1 .1 1 -0 1 -0 1 -.3 1 .1 1 -.1 1 -.2 1 -0 1 .1 1 -0 1 -.1 1 -0 1 .1 1 .1 1 -.3 1 .2 1 -.2 1 -.3 1 -.3 1 -.1 1 .4 1 -.1 1 .2 1 -.1 1 .1 1 -.2 1 -.1 1 -.1 1 -0 1 -.2 1 -0 1 -.2 1 .3 1 .2 1 -0 1 -.2 1 -.5 1 -.1 1 .1 1 .5 1 .1 1 -0 1 -.6 1 .3 1 .2 1 .2" fill="none" stroke="#FF3030" stroke-width="1.5" stroke-linejoin="round" stroke-linecap="round" />
<path d="M729.8 1270.6l1 .3 1 .1 1 -.3 1 -.2 1 -.3 1 .3 1 0 1 .4 1 0 1 0 1 -.2 1 0 1 -.1 1 0 1 .3 1 -.3 1 .1 1 -.5 1 .2 1 0 1 .1 1 .2 1 -.2 1 0 1 -.2 1 .4 1 -.2 1 -.3 1 -.2 1 .1 1 .2 1 -.1 1 .2 1 .1 1 .2 1 0 1 -.1 1 -.5 1 0 1 -.1 1 .2 1 -.1 1 .4 1 .4 1 -.2 1 -.2 1 -.4 1 .1 1 0 1 .5 1 -.1 1 -.1 1 -.2 1 -.1 1 -0 1 -.2 1 .1 1 .2 1 -.2 1 -.1 1 -.2 1 -0 1 .1 1 .3 1 .3 1 .1 1 -.1 1 .3 1 -.3 1 -.2 1 -.3 1 .1 1 .2 1 -.1 1 -.3 1 -.4 1 -.2 1 .2 1 .1 1 .5 1 -.2 1 .3 1 -.1 1 .2 1 0 1 -.2 1 -.1 1 -.2 1 -.1 1 -.1 1 .1 1 0 1 .2 1 -.3 1 -.1 1 -.4 1 .3 1 .1 1 .2 1 -.1 1 -.2 1 -.1 1 -0 1 .3 1 -0 1 -.1 1 -.1 1 .1 1 -.4 1 -.2 1 0 1 -.1 1 -.4 1 -.8 1 -.8 1 -.9 .6 -.7 .4 -.8 1 -3.3 1 -4.9 1 -4.6 1 -2.6 1 .7 1 3.2 1 4 1 3.4 1 1.8 1 1.8 1 1.5 1 1 1 .3 1 .1 1 -.1 1 -.4 1 -.6 1 -.4 1 -.5 1 -.8 1 -1.2 .7 -.7 1.3 -4.8 1 -6.4 1 -6.9 1 -7.3 1 -6.6 1 .9 1 4.4 .6 2.4 .4 1.8 1 5.7 1 5.4 .8 1.4 1.2 -.4 1 -.4 1 -.4 1 -0 .5 -.1 .5 .4 1 .7 1 1.5 1 1.7 1 1.7 1 1.9 .8 .9 1.2 1.5 1 .9 1 1.2 1 .9 1 1.4 1 .9 1 .7 .7 .1 1.3 .4 1 .2 1 .3 1 .1 1 .1 1 -.1 1 .1 1 .5 1 -.1 1 -0 1 -.1 1 .3 1 .1 1 -0 1 -0 1 .1 1 -.1 1 -0 1 -.2 1 -.1 1 -0 1 -.6 1 -.4 1 -.8 1 -.6 1 -.6 .6 -.6 .4 -.2 1 -2.2 1 -2.6 1 -2.7 1 -2 1 -.9 1 .6 1 1.7 1 2.5 1 1.9 .9 .4 1.1 -1.9 1 -4.3 1 -4.5 1 -3.7 .6 -.5 .4 .5 1 2.6 1 4.4 1 3.9 .6 1.7 .4 .8 1 1.7 1 1.1 1 .8 1 1 1 1.3 1 .9 1 .3 .5 -0 .5 -.2 1 .1 1 .1 1 -.2 1 -.5 1 -.5 1 -.7 1 -.3 1 -.5 1 -.3 1 -.6 .5 -.5 .5 -.3 1 -.9 1 -1.5 1 -1.5 1 -1.4 1 -1.3 1 -1 1 -.6 .4 .3 .6 -.3 1 .5 1 1.2 1 1.8 1 1.8 1 1.8 1 1.3 1 .7 1 .3 1 .8 1 .9 1 .8 1 .5 1 .4 1 .3 1 .3 1 .2 .8 .2 1.2 -.1 1 -.2 1 -0 1 .5 1 .3 1 -.1 1 -.4 1 -.1 1 .3 1 .3 1 -.1 1 -.2 1 -.3 1 -.2 1 .1 1 .1 1 .3 1 -.1 1 -.1 1 -0 1 -0 1 .2 1 .1 1 -0 1 -.2 1 -.3 1 .3 1 -.2 1 -.3 1 -.7 1 -.2 .7 .1 1.3 -1.4 1 -2.5 1 -3.7 1 -2.9 .8 -1.9 1.2 -2.6 1 -2.4 1 -1.2 1 1.4 1 2.3 1 3 1 2.2 1 2.1 .6 .3 .4 -0 1 -1.6 1 -2 1 -2.1 1 -.8 1 1 1 2.9 1 3 1 3.2 1 2.3 .4 .6 .6 .4 1 .3 1 .6 1 .4 1 .6 1 .2 1 .3 1 .2 1 .2 1 .1 1 -.1 1 -.1 1 -.3 1 .2 1 -0 1 .2 1 -.1 1 -.2 1 -0 1 -.1 1 .3 1 .2 1 -0 1 -.1 1 -.3 1 .1 1 -0 1 -0 1 -0 1 -0 1 .2 1 .1 1 -.1 1 -.1 1 -.3 1 -0 1 .1 1 .3 1 -.1 1 .1 1 -.2 1 -.1 1 -.1 1 -.5 1 .1 1 -0 1 .5 1 .2 1 -0 1 -.2 1 -.1 1 .1 1 .3 1 -.2 1 -.1 1 .2 1 .1 1 .3 1 -.2 1 -.1 1 -.2 1 .1 1 -0 1 .2 1 .1 1 .3 1 -.6 1 -.3 1 -.3 1 .2 1 .2 1 .3 1 .2 1 -.2 1 .1 1 -.2 1 -0 1 -.3 1 .3 1 -.3 1 .2 1 -.3 1 .3 1 -.6 1 -0 1 .1 1 .3 1 -.1 1 -0 1 -.1 1 .2 1 .1 1 .5 1 -0 1 -0 1 -.2 1 .3 1 -.4 1 -.3 1 -.4 1 .3 1 .3 1 -.2 1 -.1 1 .2 1 .3 1 .1 1 -.4 1 .1 1 -.3 1 .1 1 -.3 1 .3 1 .4 1 .1 1 -.1 1 -.4 1 -0 1 -0 1 .1 1 .1 1 -0 1 .1 1 .3 1 .1 1 -0 1 -.5 1 -.2 1 -.1 1 .1 1 .2 1 -.1 1 -.1 1 -0 1 .1 1 -0 1 .1 1 .1 1 -.1 1 .1 1 -0 1 .2 1 -.4 1 -.2 1 -.3 1 .6 1 .1 1 .2 1 -.2 1 -.1 1 -.2 1 0 1 -.2 1 -.1 1 -.1 1 .3 1 -0 1 -.1 1 -.1 1 -.1 1 -0 1 .3 1 .1 1 .3 1 -.4 1 .3 1 -.3 1 .3 1 -.3 1 .2 1 .1 1 0 1 .1 1 -.1 1 -.1 1 -.1 1 -.2 1 -0 1 .1 1 .1 1 .2 1 -.2 1 -.1 1 -.1 1 .2 1 .1 1 -0 1 -.2 1 .1 1 .1 1 0 1 -.1 1 .1 1 .4 1 0 1 -.3 1 -.3 1 -.1 1 .2 1 -0 1 -0 1 -0 1 -.2 1 -.1 1 .3 1 -0 1 .1 1 -.5 1 .1 1 0 1 0 1 .1 1 .2 1 .2 1 -.3 1 -.3 1 -.1 1 .3 1 .1 1 -.1 1 .1 1 -.3 1 .3 1 -.1 1 .1 1 -0 1 .2 1 -.2 1 -.1 1 -.6 1 .2 1 .1 1 .2 1 -0 1 -.3 1 .1 1 .1 1 .2 .7 .1" fill="none" stroke="#2A52E2" stroke-width="1.5" stroke-linejoin="round" stroke-linecap="round" />
<path d="M729.8 1318.2l1 0 1 .2 1 .2 1 .2 1 -0 1 -.1 1 -.1 1 -.2 1 .2 1 -.1 1 -0 1 -.2 1 .1 1 .1 1 -.2 1 .1 1 0 1 0 1 -.5 1 0 1 0 1 .2 1 -.2 1 .2 1 .1 1 0 1 .3 1 -.2 1 .3 1 0 1 .2 1 .1 1 -.5 1 -.3 1 -.1 1 .2 1 .4 1 -0 1 -0 1 -.2 1 -.1 1 -0 1 -.2 1 -0 1 -0 1 .3 1 0 1 .1 1 .1 1 .1 1 -.1 1 -.1 1 0 1 0 1 0 1 0 1 0 1 .1 1 -.1 1 -.4 1 0 1 0 1 .2 1 0 1 .1 1 0 1 .1 1 -.4 1 0 1 -.1 1 .2 1 -.1 1 .2 1 -.3 1 0 1 .1 1 .2 1 .1 1 -.2 1 .2 1 -.1 1 -.1 1 -.5 1 .2 1 0 1 .4 1 -.4 1 0 1 .1 1 0 1 .2 1 -.4 1 -.1 1 -.1 1 -0 1 .1 1 0 1 -.1 1 .2 1 -0 .8 -0 1.2 -.1 1 -.1 1 .5 1 -.1 1 -.1 1 -.3 1 -.6 1 -.6 1 -.6 1 -.3 1 -.1 1 -.2 1 -0 1 -.7 1 -1.8 1 -3.6 1 -4.1 1 -4.1 1 -3.7 1 -1.8 1 .9 1 4.1 1 5.1 1 3.8 1 2.3 1 1.9 1 1.5 1 .8 1 -.1 1 -.2 1 -.5 1 -.7 1 -.8 1 -1 1 -.7 1 -1 1 -1.3 .7 -1.2 1.3 -5.5 1 -7.4 1 -7.5 1 -7 1 -6.3 .7 -1.4 1.3 6.8 1 8.1 .4 2 .6 2.1 1 3.2 1 2.8 1 1.8 .4 .2 .6 -.2 1 -.5 1 -.2 1 -.2 1 -0 1 .7 1 1.8 1 2.2 1 2.3 .8 1.1 1.2 1.7 1 1.1 1 1.2 1 1 1 1.2 1 .7 1 .6 .7 .3 1.3 .6 1 .2 1 -0 1 .2 1 .2 1 .2 1 .2 1 .4 1 .3 1 -0 1 -.2 1 .2 1 .2 1 .2 1 -.2 .5 -.1 .5 -.3 1 -0 1 -.2 1 -.2 1 -.6 1 -.5 1 -.5 1 -.3 1 -.4 1 -.6 1 -.9 .6 -.6 .4 -.5 1 -1.7 1 -2.5 1 -2.5 1 -2.4 1 -1.1 1 .9 1 2.3 1 2.6 1 1.8 .9 .9 1.1 -1.8 1 -3.8 1 -4.7 1 -4.2 1 -2 1 1.8 1 4.9 1 4.9 .6 1.8 .4 .8 1 1.9 1 2.1 1 1.5 1 1.6 1 .7 .9 .1 1.1 -.4 1 -.1 1 .2 1 -.4 1 -.4 1 -.6 1 -.3 1 -.5 1 -.4 .4 -.2 .6 .1 1 -.9 1 -.7 1 -1.3 1 -1.1 1 -1.5 1 -1.5 1 -1.5 1 -1 1 -.8 1 -0 .4 -.2 .6 .2 1 .9 1 1.5 1 1.9 1 1.3 1 1.3 1 1.2 1 1.1 1 1 1 .6 1 .5 1 .4 1 .3 1 .7 1 .3 1 .8 1 .1 .8 .2 1.2 -.2 1 .3 1 .3 1 .6 1 -.2 1 -0 1 -.1 1 .3 1 -.2 1 -0 1 -.2 1 -.1 1 -.1 1 .2 1 -0 1 .1 1 -.4 1 .2 1 .1 1 -.1 1 .2 1 -.5 1 .4 1 -.4 1 .8 1 -.3 1 -.2 1 -.6 1 -.1 1 -0 1 .2 1 -.2 1 .2 .4 .2 .6 -.1 1 -.9 1 -1.7 1 -1.7 1 -2.1 .8 -1.9 1.2 -5.9 1 -6.1 .8 -1.6 1.2 2 1 4.5 1 3.9 1 3.3 .6 .3 .4 -0 1 -1.4 1 -1.8 1 -2.1 1 -1.3 .6 -.3 .4 .2 1 1.2 1 2.6 1 2.6 1 2.8 1 1.6 1 1 1 .9 1 1 1 1 1 .9 1 .3 .8 .2 1.2 -.3 1 -.3 1 -0 1 .2 1 .4 1 -.4 1 -0 1 -.1 1 .5 1 -.2 1 .1 1 -.2 1 .2 1 .1 1 -0 1 .1 1 -.1 1 -0 1 -.1 1 -.1 1 -0 1 -0 1 .1 1 -.1 1 -.2 1 -.1 1 -.2 1 .5 1 -.1 1 .1 1 -.1 1 .1 1 .1 1 .1 1 -.1 1 .3 1 -.3 1 .2 1 -.3 1 -0 1 -.3 1 .2 1 .2 1 -0 1 .1 1 -.2 1 .2 1 -.4 1 -.1 1 .4 1 -0 1 .1 1 -.1 1 .1 1 -.1 1 -0 1 .4 1 .3 1 -.3 1 -.5 1 -.2 1 -0 1 -0 1 -0 1 .2 1 .1 1 .4 1 -.2 1 -0 1 -.2 1 -0 1 .2 1 .1 1 -0 1 -0 1 -.3 1 .3 1 -0 1 .1 1 .1 1 -.4 1 -.1 1 -.2 1 .1 1 .4 1 .4 1 -.2 1 -.5 1 -.2 1 -0 1 .1 1 -.1 1 .2 1 .2 1 -.1 1 -.1 1 .2 1 .2 1 .1 1 -.2 1 -.1 1 -.1 1 -.1 1 -0 1 .1 1 .3 1 .1 1 -.1 1 -.2 1 -.1 1 .3 1 .1 1 -0 1 -.3 1 -.3 1 -0 1 -0 1 -.1 1 -0 1 .3 1 .6 1 -.1 1 -.3 1 -.3 1 -0 1 .3 1 .1 1 -0 1 -.1 1 -.1 1 .2 1 -.3 1 -.4 1 .1 1 .1 1 .3 1 -0 1 .1 1 .2 1 .1 1 -.3 1 -.3 1 -0 1 .4 1 -0 1 -.1 1 -.1 1 -0 1 .2 1 -0 1 -0 1 -.1 1 -.1 1 .2 1 -.1 1 .4 1 -.2 1 .1 1 -.3 1 .2 1 .1 1 -.1 1 .1 1 .1 1 .2 1 -.3 1 -.4 1 .1 1 -.1 1 .3 1 -.4 1 -0 1 .1 1 .4 1 .2 1 -.1 1 -.3 1 .3 1 -.2 1 -0 1 -.4 1 .2 1 .2 1 -.1 1 -0 1 -0 1 .4 1 -.1 1 -.1 1 -.3 1 -.3 1 .3 1 .2 1 .2 1 -.1 1 -0 1 -0 1 -.1 1 .1 1 -.2 1 -.4 1 -.1 1 .5 1 -0 1 -.1 1 .1 1 .3 1 -0 1 .1 1 -.2 1 -0 1 -.2 1 -0 1 -.1 1 -0 1 .2 1 .1 1 -.3 1 .1 1 -0 1 .3 1 -.2 1 .1 1 -.1 1 -0 1 -.3 1 .3 1 .2 1 -0 .7 -.1" fill="none" stroke="#262626" stroke-width="1.5" stroke-linejoin="round" stroke-linecap="round" />
<defs><clipPath id="clipCR"><rect x="1340" y="964.4" width="430" height="360"/></clipPath></defs>
<g clip-path="url(#clipCR)"><path d="M1372.5 940.2l1 19.2 .5 4.7 .5 1.7 1 2.6 1 1.7 1 1.2 1 1.1 .7 1 1.3 1.3 1 .8 1 .7 1 .8 1 1 1 .9 1 .9 1 .4 1 .6 1 .1 1 .5 1 -0 1 .3 1 .4 1 .1 1 .3 1 -0 1 .2 1 .2 1 .2 1 .2 1 .1 1 -0 1 .1 1 -.2 .9 .2 1.1 -0 1 .3 1 -.1 1 -.1 1 -.1 1 -.1 1 -.1 1 .2 1 -0 1 .1 1 -.2 1 -.1 1 .2 1 .1 .5 -.1 .5 -.3 1 -.1 1 -.2 1 -.1 1 -.2 1 .1 1 -.3 1 -.2 1 -.2 1 .1 .7 -.1 1.3 .1 1 -0 1 .1 1 -0 1 .1 1 -.1 1 .4 1 .2 1 .3 1 -.1 1 .2 1 -0 1 .4 1 -0 1 -.1 1 .2 1 -0 1 .4 1 -0 1 .6 1 -.1 1 .2 1 -0 1 .2 1 -0 1 -.3 1 -.1 1 -.3 1 -0 1 -0 1 .3 1 .1 1 .2 1 -.4 1 -.3 1 -.4 1 -.2 1 .2 1 -0 1 .1 1 -.3 1 -.2 1 -0 .6 -.1 .4 .1 1 -.4 1 -.3 1 -.4 1 -.6 1 -.4 .5 -.3 .5 -.3 1 -1.5 1 -1.7 1 -1.4 1 -.9 .6 -0 .4 -0 1 .5 1 1.3 1 1.7 1 1.7 1 1.5 1 .9 .9 .3 1.1 -.2 1 -.2 1 -.1 1 -.1 1 -.2 1 -.1 1 -.1 1 -.5 1 -1 1 -1.8 1 -1.7 1 -1.8 1 -1 1 -.4 1 .7 1 1.6 1 1.7 1 1.6 1 1.1 .4 -0 .6 -0 1 -.9 1 -1 1 -1.8 1 -1.6 1 -1.7 1 -.7 1 .1 1 1.3 1 1.4 1 1.6 1 1.3 1 .8 .8 .2 1.2 -.6 1 -0 1 -.4 1 -.1 .7 -.5 1.3 .2 1 .7 1 .6 1 .7 1 .5 1 1.2 1 1 1 .8 1 .4 1 .3 .6 .3 .4 .2 1 -0 1 -.2 1 .1 1 -.2 1 -0 1 -.1 1 .2 1 -.1 1 -.1 1 -0 1 -0 1 -0 1 -.1 1 -.1 1 .1 1 -0 1 -0 1 -.1 1 -.1 1 -.1 1 .2 1 .1 1 .1 1 .1 1 -.3 1 -0 1 -.3 1 -0 1 -0 1 .2 1 -0 1 -.1 1 .1 1 -0 1 -0 1 -.1 1 .1 1 -0 1 -.1 1 -.2 1 .1 1 .1 1 .2 1 -.3 1 -.1 1 -.1 1 .2 1 -0 1 -.2 1 -0 1 -.1 1 .4 1 -.1 1 .1 1 -.4 1 .1 1 .2 1 .1 1 .1 1 -.2 1 .1 1 -.2 1 .1 1 -.1 1 .4 1 -.2 1 .1 1 -.4 1 .1 1 -.2 1 .1 1 -.2 1 -0 1 -0 1 -0 1 .2 1 -0 1 -0 1 -.3 1 .3 1 -0 1 .1 1 -.4 1 .1 1 -.1 1 .3 1 .1 1 .1 1 -.2 1 -.1 1 -.1 1 .2 1 -.1 1 -0 1 .2 1 .2 1 -0 1 -.3 1 -.1 1 -0 1 .1 1 .3 1 -0 1 -.1 1 -0 1 .1 1 -.1 1 -.1 1 .1 1 .4 1 -.2 1 -0 1 -.1 1 .2 1 -.1 1 .2 1 -0 1 .1 1 -.1 1 .2 1 .1 1 -.1 1 -.3 1 .3 1 .3 1 -0 1 -0 1 -.1 1 .2 1 .1 1 -.1 1 -0 1 -.3 1 -0 1 -.1 1 .2 1 .5 1 .3 1 -.1 .8 -.1 1.2 -.2 1 .2 1 -0 1 -.1 1 -.1 1 .1 1 -0 1 -0 1 -.3 1 .3 1 -.2 1 .1 1 -.1 1 .3 1 -.1 1 -.1 1 -.2 1 -.3 1 -.3 1 .2 1 .4 1 -0 1 -.1 1 -.1 1 -0 1 .1 1 -0 1 .3 1 .1 1 -.1 1 .1 1 -.1 1 -0 1 -.2 1 -0 1 .2 1 -0 1 .3 1 -0 1 -0 1 -.2 1 -.2 1 .1 1 -0 1 .2 1 -.1 1 -0 1 -0 1 -.1 1 .2 1 -.1 1 .2 1 -.2 1 -.2 1 .2 1 -.1 1 .3 1 -0 1 -0 1 -0 1 -0 1 -.1 1 -0 1 -.2 1 .2 1 -.2 1 .1 1 -.2 1 .2 1 -0 1 .1 1 -.2 1 -.3 1 .1 1 .1 .4 .3" fill="none" stroke="#2A52E2" stroke-width="1.5" stroke-linejoin="round" stroke-linecap="round" />
<path d="M1368.3 939.8l.5 24.2 .5 6.1 1 6.6 1 3.8 1 3.6 1 3.4 1 2.6 1 2 1 1.7 1 1.5 1 1.2 1 1.2 1 1 1 1.5 1 1.1 1 1.1 1 .8 1 .6 1 .4 .8 .5 1.2 .7 1 .5 1 .3 1 .6 1 .7 1 .6 1 .2 1 .2 1 -0 1 .4 1 .3 1 .1 .8 .1 1.2 -0 1 .2 1 -0 1 -.1 1 .1 1 -.1 1 .2 1 -.1 1 .1 1 -0 1 -0 1 .1 1 -.2 1 .1 1 -.2 1 .3 1 -.1 1 .2 1 -.3 1 .2 1 -.3 1 -.2 1 -.5 1 .1 1 -0 1 -0 1 -.4 1 -.2 1 -0 1 -0 1 -.2 1 .1 1 .2 1 .4 1 -0 1 .1 1 .3 1 .3 1 .5 1 .2 1 .6 1 .1 1 .2 1 -0 1 .2 1 -0 1 .1 1 .1 1 -0 1 -0 1 -0 1 .6 1 .1 1 .1 1 -.3 1 -0 1 .2 1 .1 1 .1 1 -0 1 .2 .6 .1 .4 -0 1 -0 1 -.2 1 -.2 1 .2 1 .2 1 -0 1 -.6 1 .1 1 .1 1 .2 1 -0 1 -.1 1 -.3 1 -.4 1 -.1 1 .5 1 -.3 1 -.1 1 -.5 1 -0 1 -.2 1 -.1 1 -.2 1 -.2 1 -.5 1 -.9 1 -1 1 -.9 1 -1.2 1 -1.1 1 -1 1 -1.2 1 -.8 .7 -.3 1.3 1 1 1.6 1 1.6 1 1.7 1 1.5 1 1.4 1 .4 1 -.2 1 -.3 1 -.1 1 -.4 1 -.3 1 -.7 1 -.7 1 -.7 1 -1.4 1 -1.8 1 -1.7 1 -1.2 1 -.6 .4 -.2 .6 -0 1 1.2 1 1.9 1 1.7 1 1.1 1 -.1 1 -1.4 1 -1.3 1 -1.8 1 -1 .9 -.8 1.1 .8 1 1.6 1 1.9 1 1.8 1 1.7 1 1.3 .5 .3 .5 -0 1 -.8 1 -1 1 -1.2 1 -1.1 1 -1.1 1 -.9 .8 -.5 1.2 .3 1 .9 1 1.4 1 1.3 1 1.5 1 1.1 1 1 1 .5 .4 .6 .6 .3 1 .4 1 -.2 1 .1 1 -.1 1 .2 1 -0 1 .1 1 -.1 1 -.2 1 -0 1 .2 1 .2 1 .3 1 -.3 1 .2 1 -0 1 -0 1 -.2 1 -.1 1 .3 1 .2 1 -.1 1 -0 1 .1 1 -.2 1 -.2 1 -.2 1 .2 1 .1 1 -0 1 -.1 1 .1 1 .1 1 .3 1 -0 1 -.3 1 .1 1 .1 1 .1 1 -.2 1 -.2 1 -.1 1 -0 1 .1 1 -0 1 .2 1 -.1 1 -.2 1 -.1 1 -0 1 .1 1 -.2 1 -.1 1 -0 1 -.1 1 .1 1 .1 1 .3 1 -0 1 -.1 1 -.1 1 .2 1 -.1 1 -0 1 -0 1 -.1 1 -.2 1 -.1 1 -0 1 -.1 1 -.1 1 .2 1 .2 1 -0 1 -0 1 -.1 1 .2 1 -.2 1 .1 1 .2 1 -0 1 -.2 1 -.3 1 .1 1 .3 1 -0 1 -0 1 -.1 1 -.1 1 .1 1 -0 1 .3 1 -.2 1 -.1 1 -.1 1 .2 1 .2 1 .1 1 -0 1 -.3 1 .1 1 -0 1 -0 1 -.2 1 -.2 1 .3 1 -0 1 .2 1 -.2 1 .1 1 -0 1 -.1 1 -.1 1 -0 1 -.1 1 .2 1 -.1 1 .1 1 -.1 1 -0 1 -.1 1 -.2 1 .2 1 -.1 1 .2 1 -.1 1 -.1 1 -0 1 -.1 1 .1 1 -.1 1 .3 1 .2 1 -0 1 -.2 1 -.2 1 -.1 1 .1 1 -.2 1 .1 1 .1 1 .3 1 .3 1 0 1 -.2 1 -.1 1 -.4 1 0 1 0 1 .3 1 0 1 .1 1 0 1 .1 1 -.2 1 .2 1 0 1 -.1 1 -.2 1 0 1 0 1 .1 1 .2 1 .2 1 .2 1 -.4 1 -.2 1 -.2 1 .1 1 .3 1 -.3 1 .1 1 -.1 1 .3 1 .1 1 -.1 1 0 1 -.1 1 0 1 .1 1 0 1 -.1 1 -.1 1 .1 1 .3 1 .1 1 -.2 1 -.2 1 .2 1 .1 1 .2 1 -.2 1 -.1 1 -.1 1 -.1 1 .2 1 .1 1 -.1 1 -.1 1 0 1 .2 1 .1 1 .1 1 .2 1 -.3 1 0 .6 -.1" fill="none" stroke="#262626" stroke-width="1.5" stroke-linejoin="round" stroke-linecap="round" />
<path d="M1365.8 940.1l1 37.9 1 10.1 1 5.9 1 5.8 1 4.7 1 4.1 1 3.1 1 2.8 1 2.3 1 2 1 2 1 1.9 1 1.9 1 1.3 1 1.4 1 .9 1 .8 1 .9 1 1 1 1.2 1 .9 1 .8 1 .6 1 .2 1 .3 1 .6 .5 .2 .5 .3 1 .4 1 .6 1 .5 1 .2 1 .2 1 .3 1 .2 1 .2 1 -0 1 .2 1 .1 1 .5 1 .1 1 .3 1 -.3 .5 .1 .5 .2 1 .1 1 .1 1 -.3 1 -.1 1 -.3 1 0 1 -.3 1 -.3 1 -.3 1 0 1 -.1 1 -.2 1 -.2 1 -.1 1 -.1 1 -.4 1 -.2 1 -0 1 -0 1 .1 1 -.2 .4 .1 .6 -.2 1 .3 1 .4 1 .4 1 -.2 1 -.2 1 .2 1 .4 1 .4 1 .5 1 .3 1 .3 1 .3 1 .4 1 .2 1 .2 1 -0 1 .3 1 -.2 .9 .2 1.1 -0 1 .1 1 .2 1 -.2 1 -.1 1 -.4 1 .3 1 .1 1 .3 1 -.2 1 -.1 1 -.3 1 .1 1 .1 1 0 1 0 1 .1 1 .1 1 -.1 1 0 1 .1 1 0 1 -.1 1 .2 1 .1 1 0 1 -.4 1 -.1 1 -.2 1 .2 1 .1 1 .1 1 0 1 -.1 1 -.3 1 .3 1 -.1 1 .3 1 -.2 1 .1 1 -.1 1 -.1 1 -.4 1 -.2 1 .1 1 .1 1 .3 1 -.3 .7 .1 1.3 -.9 1 -.8 1 -1.3 1 -1.2 1 -1.4 1 -1.2 1 -.9 1 -.8 .7 -.2 1.3 .5 1 1.2 1 1.7 1 1.8 1 1.4 1 .7 .5 .4 .5 0 1 -.3 1 -.4 1 -.5 1 -.5 1 -.5 1 -.5 1 -1.3 1 -1.7 1 -1.5 1 -1.3 1 -1 1 -.6 .9 -.2 1.1 .6 1 .8 1 1.1 1 1.1 .8 .3 1.2 -.8 1 -2.1 1 -1.4 .4 -.4 .6 .6 1 1.4 1 2.1 1 2 1 1.9 1 1.2 .5 .3 .5 .1 1 -.8 1 -1.3 1 -1.7 1 -1.5 1 -1.6 1 -1.2 .9 -.7 1.1 .6 1 1.4 1 2 1 2.2 1 1.7 1 1.5 1 .4 1 .3 1 .3 1 .2 1 .1 1 0 1 .3 1 .1 1 .2 1 .1 1 .4 1 .1 1 .1 1 -.2 1 .1 .8 -.1 1.2 .1 1 -.1 1 0 1 .2 1 -.3 1 0 1 -.1 1 .3 1 0 1 -.2 1 -.3 1 -.2 1 -.5 1 0 1 -.1 1 .2 1 -.2 1 0 1 -.1 1 .1 1 -.4 1 -.1 1 -.2 1 0 1 .1 1 0 1 -.2 1 -.2 1 0 1 .2 1 0 .5 .2 .5 -.4 1 0 1 -.2 1 .2 1 -.1 1 .2 1 0 1 .2 1 0 1 .2 1 .2 1 .1 1 -.1 1 .3 1 0 1 .2 1 -.3 1 .2 1 .2 1 .2 1 .2 1 -.1 1 .2 1 .1 1 .1 1 -.2 1 0 1 .2 1 .4 1 .1 1 -.1 1 0 1 -.2 1 .2 1 0 1 .3 1 -.1 1 .3 1 .1 1 0 1 0 .9 0 1.1 -.1 1 -.1 1 .1 1 0 1 0 1 -.3 1 0 1 .3 1 .3 1 .2 1 0 1 -.2 1 -.1 1 -.1 1 .1 1 -.2 1 0 1 .1 1 0 1 .2 1 -.2 1 0 1 .1 1 0 1 0 1 0 1 .1 1 .1 1 -.2 1 -.2 1 0 1 0 1 0 1 0 1 .1 1 0 1 0 1 -.2 1 -.1 1 0 1 .4 1 .1 1 -.2 1 -.1 1 0 1 0 1 0 1 0 1 .1 1 0 1 0 1 -.1 1 .1 1 -.1 1 .1 1 -.1 1 0 1 -.1 1 .2 1 0 1 -.1 1 .1 1 .1 1 .4 1 -.2 1 -.2 1 -.2 1 .2 1 .1 1 0 1 .1 1 0 1 -.2 1 -.2 1 0 1 .1 1 .3 1 -.2 1 -.3 1 0 1 0 1 .1 1 .1 1 .1 1 0 1 0 1 0 1 .1 1 .1 1 0 1 -.2 1 -.2 1 .2 1 .3 1 .2 1 -.1 1 -.1 1 -.3 1 -.3 1 -.1 1 0 1 .2 1 -.1 1 .2 1 -.2 1 0 1 .1 1 .1 1 .1 1 -.1 1 0 1 .1 .1 0" fill="none" stroke="#CC66FF" stroke-width="1.5" stroke-linejoin="round" stroke-linecap="round" />
<path d="M1364.5 940.2l1 40.5 1 12.5 1 9 1 9.7 1 9 1 7.5 .9 5.1 1.1 4.9 1 4 1 4 1 3.1 1 2.6 1 1.7 .4 .5 .6 .8 1 1.2 1 1.2 1 .9 1 .8 1 .7 1 .6 1 .5 1 .7 1 .6 1 .5 1 .5 1 .7 1 .3 .8 .3 1.2 .6 1 .7 1 .9 1 .6 1 .7 1 .3 1 .4 1 .5 1 .6 1 .3 1 .2 1 -.1 1 .1 1 .1 1 .2 1 -.2 1 0 1 -.2 1 -.1 1 .1 1 -.1 1 -.2 1 -.4 1 -.1 1 -.2 1 -.1 1 -.3 1 -.3 1 -.1 1 -.1 1 .1 1 -.2 1 .1 1 -.3 1 -.2 1 -.1 1 .3 1 .2 1 .2 1 .1 1 .2 1 .1 1 .6 1 .8 1 .5 1 .3 1 -.1 1 .6 1 .3 1 .5 1 .3 1 .2 1 0 1 0 .8 .2 1.2 .1 1 0 1 -.1 1 0 1 -.2 1 -.1 1 0 1 .3 1 .2 1 0 1 -.1 1 -.2 1 .1 1 .1 1 .3 1 -.1 1 .1 1 -.1 1 .2 1 -.2 1 -.2 1 .1 1 .1 1 .1 1 -.3 1 0 1 .1 1 0 1 -.1 1 0 1 0 1 .1 1 .2 1 .1 1 0 1 -.2 1 -.1 1 .2 1 -.1 1 .3 1 -.1 1 0 1 -.4 1 0 1 .2 1 .2 1 .1 1 0 1 0 1 0 1 .1 1 0 1 .1 1 -.4 1 .1 1 0 1 0 1 -.1 1 -.3 1 .2 .7 -.1 1.3 -.1 1 -.5 1 -.8 1 -1.3 1 -1.2 1 -1.5 1 -1.2 1 -1.3 1 -1 1 -.7 1 -.4 .9 -.1 1.1 .5 1 1.2 1 1.6 1 1.9 1 1.8 1 1.5 1 .7 1 -.2 1 -.5 1 -.8 1 -.9 1 -1.5 .5 -.7 .5 -.8 1 -1.5 1 -2.1 1 -1.9 1 -1.4 .5 -.2 .5 .1 1 1.1 1 1.3 .6 .1 .4 .2 1 -.9 1 -1 1 -1.5 .8 -.4 1.2 1.5 1 2.9 1 2.6 1 1.4 1 -.3 1 -.9 1 -1.1 1 -1.8 1 -1.8 1 -1.9 1 -.8 .5 .1 .5 .3 1 1.5 1 2.2 1 2.8 1 2.8 1 2.1 1 1.6 .8 .4 1.2 .1 1 .1 1 0 1 -.1 1 -.1 1 0 1 .2 1 .1 1 -.1 1 -.1 1 -.3 1 0 1 .1 1 .2 1 -.3 1 -.2 1 -.2 1 .3 1 0 1 -.2 1 -.3 1 -.2 1 0 1 .1 1 -.2 1 -.2 1 -.3 1 -.2 1 0 1 .1 1 0 1 -.3 1 -.2 .9 .2 1.1 .4 1 .3 1 -.1 1 -.1 1 0 1 .2 1 .4 1 0 1 .2 1 .2 1 0 1 0 1 .2 1 .6 1 .3 1 .2 1 0 1 .1 1 .1 1 -.1 1 0 .8 .2 1.2 .2 1 .2 1 -.1 1 .1 1 -.1 1 -.4 1 .1 1 0 1 .4 1 0 1 .3 1 -.2 1 -.1 1 0 1 0 1 .1 1 -.2 1 .1 1 -.3 1 -.1 1 -.1 1 .1 1 -.1 1 0 1 .2 1 -.1 1 .1 1 -.1 1 0 1 0 1 0 1 .1 1 -.2 1 .1 1 0 1 .2 1 -.2 1 .2 1 -.2 1 .3 1 -.2 1 0 1 -.1 1 .3 1 .3 1 .2 1 -.2 1 -.1 1 -.3 1 .2 1 .1 1 .1 1 -.1 1 -.2 1 .1 1 .1 1 .3 1 -.1 1 0 1 -.2 1 0 1 0 1 -.1 1 .2 1 .2 1 0 1 0 1 -.1 1 -.1 1 -.3 1 0 1 .1 1 .1 1 -.1 1 0 1 -.1 1 .1 1 0 1 .1 1 -.1 1 -.2 1 0 1 .3 1 .1 1 .1 1 -.4 1 .3 1 -.2 1 .1 1 -.3 1 .2 1 .1 1 -.1 1 -.2 1 -.1 1 .2 1 .1 1 0 1 .1 1 0 1 .1 1 -.1 1 .3 1 -.3 1 -.2 1 -.4 1 .2 1 .4 1 .2 1 .1 1 -.1 1 .1 1 -.2 1 -.1 1 -.1 1 .1 1 0 1 .1 1 0 1 -.3 1 .4 1 0 1 .1 1 -.5 1 .1 1 .2 1 .2 1 -.2 1 -.1 1 -.2 1 -.1 1 -.2 1 0 1 .1 1 .2 1 .1 .4 .1" fill="none" stroke="#FF6A1A" stroke-width="1.5" stroke-linejoin="round" stroke-linecap="round" />
<path d="M1363.2 940l1 42 1 14.1 .9 10.9 1.1 17.1 1 15.2 1 12.6 .9 7.6 1.1 5.5 1 4.2 1 3.4 1 3.1 1 2.1 1 2 .4 .7 .6 1.2 1 1.5 1 1.2 1 1.2 1 .9 1 1.3 1 .8 1 .7 1 .4 1 .5 .9 .7 1.1 .4 1 .5 1 .4 1 .4 1 .3 1 .2 1 .4 1 .2 1 .5 1 .1 1 .4 1 .2 1 .3 1 .4 1 .1 1 .2 1 -0 1 .1 1 .2 1 .4 1 .1 1 .3 1 -0 1 .2 1 .3 .9 -0 1.1 -0 1 -.3 1 .2 1 -.2 1 -.3 1 -.5 1 -0 1 -.2 1 -.2 1 -.2 1 -.5 1 -.2 1 -.1 1 .2 .6 .2 .4 -0 1 -.1 1 -0 1 -.2 1 .1 1 .1 1 .5 1 -0 1 .2 1 -0 1 .3 1 .2 1 .3 1 .3 1 .5 1 .4 1 .2 1 .1 1 .2 1 .5 1 .5 1 .1 1 -0 1 -.1 1 .2 1 .2 1 .5 1 .4 1 .2 .8 -.3 1.2 -.1 1 -.2 1 .2 1 -.3 1 .2 1 -.2 1 .1 1 .2 1 -.1 1 -.2 1 -.2 1 -0 1 .4 1 .2 1 .1 1 -.2 1 -.3 1 .1 1 -.4 1 .2 1 -.2 1 .3 1 -.2 1 .2 1 -0 1 .5 1 -.4 1 -0 1 -.1 1 .1 1 .2 1 -.4 1 -0 1 -.1 1 -0 1 .1 1 .2 1 -0 1 -0 1 -.1 1 .1 1 -0 1 -0 1 -0 1 -.1 1 -.2 1 -.1 1 .1 1 -.1 1 -.1 1 .1 1 .1 1 .2 1 .1 1 -.1 1 -.3 1 .1 1 .1 1 -0 1 -.1 1 -.3 1 .4 1 -.1 1 .2 1 -.4 1 -0 1 -.1 1 .2 1 -.3 1 -1.3 1 -1.9 1 -2.1 1 -2.3 1 -1.6 1 -1.1 .4 -0 .6 .1 1 .9 1 1.5 1 1.9 1 1.8 1 1.5 1 .9 .7 .3 1.3 -.7 1 -1.6 1 -2 .8 -1.3 1.2 -2.7 1 -2.9 1 -3 1 -1.3 1 .6 1 1.4 .6 .3 .4 -.2 1 -1.5 1 -1.1 1 .9 1 2.1 1 2.9 1 2.2 1 1.1 1 -.9 1 -2.1 1 -2.7 1 -2.2 .9 -.8 1.1 1.9 1 3.9 1 4.3 1 3.7 .7 .9 1.3 .3 1 -0 1 .3 1 -0 1 -.1 1 -.2 1 -.1 1 -0 1 -.1 .5 -.1 .5 -0 1 .4 1 .2 1 -.1 1 -.1 1 .2 1 .2 1 -.1 1 -.2 1 .1 1 .4 1 -0 1 -.1 1 -0 1 .1 1 .2 1 .1 1 -0 1 -.1 1 -.1 1 -0 1 -0 1 .2 1 -.1 1 .6 1 -.1 1 .1 1 -.3 1 .2 1 .1 1 -.1 1 -.1 1 -.1 1 .1 1 .1 1 -0 1 .2 1 -.1 1 -0 1 -0 1 .3 1 -0 1 -0 1 .1 1 .1 1 .2 1 -.3 1 .1 1 -.2 1 -0 1 .1 1 -0 1 .1 1 -0 1 .1 1 -.2 1 .1 1 -0 1 .3 1 -.3 1 -.2 1 -.1 1 .2 1 .3 1 .3 1 -0 1 -0 1 -.1 1 .1 1 .1 1 -.2 1 .1 1 -.2 1 -0 1 -0 1 .1 1 .1 1 .1 1 .1 1 .1 1 -.2 1 -.2 1 -.1 1 .2 1 .1 1 .1 1 .2 1 -.2 1 .4 1 -.2 1 .1 1 -.2 1 .1 1 .1 1 -0 1 -0 1 -0 1 -.2 1 -0 1 -0 1 .5 1 .2 1 -0 1 -.1 1 -.1 1 -.1 1 -.1 1 -.1 1 .3 1 .1 1 .1 1 -.2 1 -0 1 -.1 1 .2 1 -0 1 .1 1 -.2 1 -.2 1 -.1 1 -.1 1 .1 1 -0 1 .2 1 -0 1 .2 1 -.2 1 .1 1 -.2 1 .1 1 -0 1 -0 1 .2 1 .1 1 .3 1 .1 1 -.1 1 .1 1 -0 1 .3 1 -.4 1 -0 1 -.3 1 .2 1 -.2 1 -0 1 .1 1 .3 1 .1 1 -.3 1 -.1 1 -0 1 .4 1 -0 1 .1 1 -.1 1 -0 1 -.3 1 -.1 1 -.1 1 .2 1 .2 1 -0 1 -0 1 -.2 1 .1 1 -.1 1 -0 1 -.1 1 .1 1 -0 1 -.1 1 .2 1 .1 1 .3 1 -.2 1 -.1 1 -.1 1 .1 .7 -0" fill="none" stroke="#FF7F7F" stroke-width="1.5" stroke-linejoin="round" stroke-linecap="round" />
<path d="M1362 939.9l1 57.7 1 23.1 .8 12.8 1.2 18.3 1 12.8 1 10 .8 5.8 1.2 6.7 1 5.1 1 4.4 1 3.7 1 3.1 1 2.7 1 2.6 .6 1 .4 .6 1 1.2 1 1.5 1 1.2 1 1 1 1 1 1.2 1 .7 1 .7 1 .2 1 .6 1 .4 1 .4 1 .3 1 0 1 .2 1 .3 1 .6 1 -.1 1 .2 1 .1 1 .3 1 .1 1 .1 1 .3 1 .1 1 0 1 .2 1 .1 .4 .4 .6 -.2 1 .5 1 .2 1 .8 1 .5 1 .6 1 .2 1 0 1 -.2 1 .1 1 0 1 -.1 1 -.4 1 -.3 1 .1 1 0 1 -.4 1 -.4 1 -.2 1 .3 1 -.1 1 -.2 1 -.5 1 0 1 .2 1 .1 1 -.2 1 -.1 1 0 1 .5 1 .3 1 .3 1 .2 1 .3 1 .5 1 .3 1 0 1 .2 1 .3 1 .5 1 .1 1 0 1 .3 1 .8 1 .4 1 .1 1 -.1 1 .4 1 .2 1 .1 1 .2 1 -.3 1 -.1 1 .1 1 0 1 .1 1 -.3 1 .2 1 -.1 1 0 1 .1 1 -.2 1 .1 1 -.1 1 .2 1 0 1 -.1 1 0 1 -.1 1 0 1 .1 1 0 1 .3 1 0 1 -.1 1 -.1 1 -.2 1 .1 1 -.2 1 .3 1 .2 1 .1 1 -.1 1 -.2 1 -.1 1 .1 1 .1 1 .1 1 .1 1 0 1 -.1 1 -.3 1 -.1 1 0 1 .1 1 -.2 1 -.1 1 .1 1 .2 1 .2 1 0 1 .1 1 0 1 .1 1 -.2 1 0 1 -.2 1 .2 1 -.1 1 .1 1 0 1 .3 1 -.2 1 0 1 .1 1 0 1 -.1 1 -.1 1 0 1 0 1 -.1 1 .1 1 -.3 1 -.2 1 -.1 1 .1 1 .2 1 0 1 0 1 .1 1 -.2 1 -1.1 1 -2 1 -2.2 1 -2.2 1 -1.8 1 -1.5 1 -.8 .6 -.1 .4 0 1 1 1 1.8 1 2.1 1 2.1 1 1.5 .7 .4 1.3 -1.6 1 -3.4 1 -3.5 1 -4.1 1 -3.1 1 -2.4 .5 -.5 .5 -.1 1 .1 1 0 1 -.1 .6 -.2 .4 .1 1 3.7 1 3 1 -.2 1 -1.3 1 -2.1 1 -1.7 1 -.8 .4 0 .6 .7 1 3.1 1 4.5 1 4.7 1 3.6 1 1.5 1 -.1 1 .1 1 -.1 1 .2 1 -.2 1 .1 1 -.1 1 0 1 0 .8 -.1 1.2 -.1 1 0 1 0 1 .1 1 -.1 1 .2 1 .4 1 -.1 1 0 1 -.1 1 .3 1 -.2 1 .2 1 .2 1 .1 1 0 .8 .2 1.2 .4 1 .3 1 -.2 1 -.2 1 .1 1 .2 1 .1 1 .1 1 .2 1 .3 1 .2 1 .1 1 .3 1 .2 1 .1 1 .1 1 .2 1 .2 1 .1 1 0 1 .1 1 -.1 1 .2 1 .2 1 .2 1 -.2 1 0 1 .4 1 .1 1 .3 1 -.1 .5 .3 .5 -.2 1 .2 1 -.2 1 0 1 -.2 1 .1 1 .1 1 .3 1 -.2 1 0 1 -.2 1 .3 1 .1 1 0 1 -.2 1 -.1 1 .2 1 .2 1 .1 1 -.2 1 .1 1 -.1 1 .1 1 -.3 1 0 1 .1 1 .1 1 .1 1 0 1 -.1 1 .2 1 0 1 -.2 1 0 1 -.1 1 .1 1 -.2 1 .1 1 .1 1 -.1 1 .2 1 -.2 1 .3 1 -.3 1 0 1 -.1 1 .2 1 0 1 -.1 1 0 1 .2 1 .1 1 .1 1 .1 1 0 1 0 1 .1 1 .1 1 -.1 1 -.3 1 -.1 1 .2 1 -.1 1 0 1 -.1 1 .3 1 0 1 0 1 0 1 -.3 1 .1 1 -.1 1 .1 1 0 1 .2 1 .1 1 .1 1 -.1 1 .2 1 -.1 1 0 1 -.4 1 .2 1 .3 1 .1 1 -.2 1 -.3 1 0 1 .3 1 0 1 .1 1 -.1 1 0 1 -.1 1 0 1 .1 1 0 1 -.2 1 .4 1 .2 1 .3 1 -.4 1 -.1 1 -.2 1 -.1 1 -.1 1 -.1 1 0 1 -.1 1 .2 1 .2 1 .1 1 -.1 1 -.2 1 .1 1 0 1 .2 1 -.2 1 0 1 -.1 1 .1 1 -.1 1 -.1 1 -.2 .9 .1" fill="none" stroke="#FF6A1A" stroke-width="1.5" stroke-linejoin="round" stroke-linecap="round" />
<path d="M1360.7 940l1 77.3 1 45.4 .8 22.9 1.2 23.3 1 12.7 .4 3.3 .6 3.7 1 5.1 1 4.2 1 3.3 1 3 .7 1.3 1.3 3.1 1 2.2 1 2.6 1 1.9 1 1.3 1 .9 1 1 .5 .3 .5 .5 1 .6 1 .8 1 .3 1 .4 1 .4 1 .5 1 .4 1 .3 1 .4 1 .3 1 .2 1 .4 .6 -.2 .4 .1 1 -.3 1 .3 1 0 1 0 1 .1 1 .1 1 .1 1 -.1 1 -.1 1 -.1 1 0 1 .2 1 0 1 .1 1 -.3 1 -.3 1 -.2 1 .1 1 0 1 .1 1 0 1 -.1 1 -.3 1 -.2 1 0 1 .1 1 -.3 1 -.1 1 -.2 1 .2 1 0 1 0 1 -.2 1 -.3 1 .1 1 0 1 .3 1 0 1 .2 1 0 1 0 1 .1 1 .1 1 .3 1 .3 1 .2 1 .2 1 .2 1 .3 1 .2 1 .2 1 .4 1 .5 1 .3 1 .1 1 .2 1 .3 1 0 1 .2 1 .2 1 .1 1 0 1 .2 1 .5 1 .3 1 -.1 1 .1 1 0 1 .1 1 -.1 1 -.1 1 -.1 1 -.2 1 -.2 1 .1 1 .1 1 .3 1 .1 1 .1 1 -.1 1 -.1 1 -.2 1 0 1 0 1 .4 1 .1 1 .2 1 0 1 -.4 1 -.1 1 0 1 .1 1 0 1 -.1 1 .2 1 .2 1 -.1 1 0 1 -.1 1 .1 1 -.1 1 -.4 1 .1 1 0 1 .2 1 -.3 1 0 1 .1 1 .2 1 .2 1 -.1 1 -.1 1 -.3 1 .2 1 -.2 1 0 1 -.1 1 -0 1 .4 1 -0 1 .1 1 -0 1 -.2 1 -.2 1 0 1 .1 1 .1 1 -.1 1 0 1 -.1 1 -.1 1 -.1 1 .1 1 .1 1 -.2 1 -.2 1 -.3 1 .2 1 .1 1 .3 1 -.2 1 -.1 1 -.3 1 .2 1 .1 1 .1 1 0 1 0 1 0 .6 -.1 .4 -.1 1 -.4 1 -.6 1 -.9 1 -.9 1 -1.3 1 -1.7 1 -1.5 1 -2.2 1 -2.6 1 -1.5 1 .4 1 1.6 1 1.9 1 1.8 1 1.2 .5 .1 .5 -.1 1 -2.1 1 -3.8 1 -4.4 1 -4.5 1 -3.2 1 -1.5 1 1.1 1 3.4 1 4.2 1 3.2 .5 .7 .5 -.5 1 -2.5 1 -2.8 1 -1.5 1 1.3 1 4.2 1 4.7 1 4.2 1 1.7 1 .2 1 .3 1 -.2 1 -.1 1 -0 1 .1 1 .1 1 -0 1 .2 1 -.4 1 -0 1 -.2 1 .3 1 .1 1 .2 1 .1 1 .2 1 .6 1 .8 1 .4 1 .1 1 0 1 .3 1 .3 1 .3 1 .3 1 .2 1 .4 1 0 1 .1 .5 0 .5 -.1 1 .3 1 0 1 .2 1 -.3 1 .1 1 -.2 1 .2 1 -.1 1 .3 1 -.1 1 .3 1 -.2 1 -.3 1 -.1 1 0 1 .4 1 -.1 1 .2 1 .1 1 -.1 1 -.1 1 -.1 1 .2 1 .3 1 -.2 1 -.1 1 -.1 1 .1 1 .3 1 -.1 1 -.1 1 -0 1 .3 1 .1 1 -.1 1 .2 1 -0 1 -0 1 -.2 1 .2 1 -0 1 -.2 1 -0 1 .2 1 .1 1 -.2 1 -.1 1 -.1 1 -0 1 .1 1 .2 1 .3 1 -.1 1 -0 1 .2 1 .1 1 -.1 1 -.4 1 -0 1 .2 1 .1 1 -.2 1 -.3 1 -.2 1 .1 1 -0 1 -0 1 -0 1 .1 1 .2 1 .2 1 -.1 1 -.2 1 -0 1 .2 1 .4 1 .2 1 -.1 1 -.2 1 -.1 1 .2 1 .2 1 -.2 1 -0 1 -.1 1 .2 1 .1 1 .1 1 -.4 1 .1 1 -.1 1 .1 1 -.2 1 .1 1 .1 1 .1 1 -.2 1 .3 1 -.2 1 .2 1 -.5 1 0 1 0 1 .1 1 .1 1 0 1 .1 1 .1 1 0 1 0 1 -.1 1 0 1 -.1 1 .1 1 -.2 1 .2 1 -.1 1 .3 1 .1 1 0 1 .1 1 -.2 1 0 1 -.3 1 0 1 0 1 0 1 .1 1 0 1 0 1 .1 1 .1 1 0 1 -.1 1 .2 1 0 1 -.2 1 -.2 1 .1 1 .2 1 .1 1 -.2 1 .1 1 0 1 .2 1 0 1 0 1 0 .2 -.1" fill="none" stroke="#2FAE55" stroke-width="1.5" stroke-linejoin="round" stroke-linecap="round" />
<path d="M1359.4 939.9l1 71.9 .5 21.7 .5 22.3 1 39.4 .6 17.1 .4 8.2 1 18.3 1 13.5 .7 6.4 1.3 8.7 1 5.3 1 4 1 3.3 1 2.2 1 2.6 1 1.6 1 1.7 1 1 1 1.3 1 1 1 .9 .8 .6 1.2 1 1 .7 1 .6 1 .6 1 .7 1 .7 1 .4 1 .5 1 .3 1 .4 1 .4 1 .1 .9 0 1.1 -.2 1 .2 1 .1 1 0 1 .1 1 .2 1 -.3 1 -.3 1 -.4 1 .2 1 .1 1 .3 1 -.4 1 -.1 1 -.3 1 .4 1 .2 1 .1 1 -.1 1 0 1 -.2 1 -.3 1 .1 1 -.1 1 .1 1 -.1 1 .2 1 0 1 -.1 1 .1 1 0 1 -.1 .9 0 1.1 0 1 0 1 -.2 1 .1 1 -.1 1 0 1 .3 1 .2 1 .3 1 .1 1 .2 1 .1 1 0 1 .1 1 -.1 1 .3 1 .4 1 .3 1 .1 1 0 1 .3 1 .2 1 .4 1 .1 1 .1 1 -.2 1 .1 1 .4 1 .3 1 .3 1 -.2 1 .3 1 -.1 1 .2 1 -.4 1 0 .5 -.2 .5 .1 1 .2 1 -.1 1 -.1 1 -.1 1 .2 1 0 1 .2 1 0 1 -.1 1 0 1 0 1 -.1 1 .1 1 0 1 0 1 -.2 1 0 1 0 1 0 1 0 1 0 1 -.3 1 .2 1 .1 1 .2 1 .3 1 0 1 -.2 1 -.3 1 .1 1 .1 1 .1 1 .1 1 -.1 1 0 1 -.1 1 0 1 -.2 1 0 1 0 1 .1 1 .2 1 .2 1 0 1 -.3 1 .2 1 -.1 1 .1 1 -.3 1 .2 1 .1 1 0 1 0 1 0 1 -.3 1 -.1 1 -.2 1 -.1 1 -.1 1 .2 1 .6 1 -.1 1 -.2 1 -.2 1 .2 1 .3 1 -.1 1 .1 1 -.2 1 -.1 1 .1 1 .3 1 .3 1 -.2 1 -.2 1 -.2 1 .1 1 0 1 .1 1 -.1 1 -.3 1 -.2 1 .1 1 .2 .8 .1 1.2 -.2 1 -.3 1 -.2 1 -.3 1 -.4 1 -.8 1 -1 1 -.9 1 -1.1 .6 -.2 .4 -.4 1 -1.7 1 -2.9 1 -3.1 1 -2.5 .9 -.9 1.1 .8 1 1.5 1 .8 1 -2.1 1 -6.1 1 -6.4 1 -3.7 1 2.4 1 6.7 1 5.7 .4 .8 .6 -.4 1 -2.1 1 -1.9 .6 -.2 .4 .3 1 3.6 1 5.4 1 4.9 .7 1.4 1.3 .5 1 .6 1 .5 1 .3 1 0 1 .3 1 .2 1 .2 1 -.1 1 0 1 .2 1 .3 1 .3 1 0 1 .4 .6 -.2 .4 .2 1 .3 1 .7 1 .2 1 .1 1 .2 1 .8 1 .3 1 .1 1 .1 1 .2 1 .2 .8 0 1.2 .1 1 .3 1 -.2 1 -.1 1 -.4 1 .2 1 .1 1 .2 1 .2 1 0 1 .2 1 -.3 1 0 1 -.2 1 .4 1 .2 1 .1 1 -.2 1 -.1 1 -.1 1 0 1 .2 1 .1 1 .1 1 -.1 1 -.2 1 -.1 1 0 1 .4 1 -.1 1 .2 1 -.2 1 .2 1 -.1 1 .1 1 -.3 1 .2 1 -.1 1 .3 1 -.1 1 0 1 -.3 1 .1 1 .1 1 .3 1 -.1 1 -.2 1 .3 1 0 1 .5 1 -.3 1 -.1 1 -.2 1 0 1 .1 1 0 1 0 1 .1 1 .1 1 0 1 0 1 .1 1 -.1 1 .2 1 -.1 1 .3 1 -.3 1 -.1 1 -.1 1 .2 1 .2 1 .3 1 -.1 1 -.1 1 -.3 1 0 1 0 1 .1 1 .2 1 -.1 1 -.1 1 .1 1 0 1 -.1 1 -.1 1 0 1 0 1 .1 1 .2 1 0 1 -.2 1 0 1 .2 1 -.2 1 -.1 1 0 1 .1 1 -.1 1 0 1 .1 1 .2 1 0 1 .2 1 .3 1 -.2 1 -.1 1 -.3 1 0 1 .1 1 .4 1 -.2 1 .1 1 -.4 1 .5 1 -.1 1 0 1 -.3 1 -.1 1 .2 1 0 1 -.2 1 0 1 .1 1 .4 1 0 1 -.3 1 -.2 1 -.1 1 .3 1 0 1 -.2 1 -.4 1 -.1 1 .2 1 .2 1 .2 1 -.1 1 .1 1 -0 1 -0 1 -.1 1 .1 1 .1 1 .2 1 -.1 1 -.1 1 -.1 1 .2 .5 -.1" fill="none" stroke="#FF3030" stroke-width="1.5" stroke-linejoin="round" stroke-linecap="round" />
<path d="M1356.8 940.2l1 93.4 1 52 1 28.9 1 21.5 1 20.2 1 17.2 .7 9.5 1.3 13.7 1 8.8 1 7.3 .7 3.6 1.3 5.9 1 4 1 3.7 1 3.2 1 2.2 1 1.7 1 1.2 1 1.3 1 1 1 .9 1 1.1 1 .6 1 .6 1 .5 1 .7 1 .4 .6 -0 .4 -0 1 .3 1 .3 1 .2 1 .1 1 .3 1 -0 1 .3 1 -0 1 .5 1 -.1 1 -.1 1 .1 1 .3 1 -0 1 .1 1 .1 1 .1 1 .1 1 -.1 1 .4 .6 .1 .4 .1 1 -.2 1 -.2 1 -.2 1 0 1 -.4 1 -.2 1 -.4 1 -.2 1 -.2 1 0 1 .1 1 -.4 1 -.7 1 -.8 1 -.1 1 .3 1 -.1 1 -.1 1 -.4 1 .1 1 -.1 1 0 1 -.1 1 -.1 1 0 1 .2 1 .5 1 .2 1 .1 1 .1 1 .4 1 .4 1 -.1 1 .2 1 .4 1 .5 1 .5 1 .1 1 .5 1 .3 1 .3 1 .1 1 .2 .9 .1 1.1 .1 1 .3 1 .1 1 .3 1 .3 1 .4 1 .1 1 .1 1 .1 1 .3 1 .2 1 .3 1 .1 1 .1 1 .2 1 .5 1 .1 1 .1 1 -.3 1 .2 1 .1 1 .4 1 0 1 -.1 1 -.4 1 -.1 1 .1 1 .2 1 .1 1 -.1 1 0 1 -.1 1 0 1 0 1 .2 1 .2 1 -.1 1 0 1 -.2 1 .2 1 0 1 -.1 1 -.1 1 -.1 1 .4 1 -.3 1 .1 1 -.3 1 .2 1 -.1 1 .1 1 0 1 .1 1 0 1 -.2 1 -.1 1 0 1 0 1 0 1 -.1 1 .1 1 -.2 1 .2 1 0 1 .2 1 .1 1 -.2 1 0 1 -.2 1 0 1 -.3 1 -.1 1 .1 1 .1 1 .2 1 -.2 1 .1 1 -.2 1 -.2 1 -.2 1 0 1 .1 1 .1 1 -.1 1 -.1 1 0 1 0 1 -.1 1 -.1 1 -.3 1 .1 1 .1 1 .2 1 -.1 1 -.2 1 -.1 1 -.1 1 -.1 1 0 1 -.2 1 -.1 1 .2 1 .1 1 .1 1 -.3 1 -.2 1 -.2 1 -.2 1 -.3 .6 -.1 .4 .1 1 -.3 1 -.7 1 -.8 1 -1.3 1 -1.4 1 -2.1 1 -1.9 1 -2.4 1 -4.2 1 -7.2 1 -7.5 1 -6.3 1 -6.2 1 -3.2 1 4.5 1 12.2 1 8.8 1 0 1 -1.3 1 -1.6 1 -.6 1 1.5 1 4.1 1 5.3 1 5.1 1 3.5 .4 .2 .6 .1 1 .3 1 .7 1 .5 1 .3 1 .1 1 .2 1 .2 1 .3 1 .1 1 .5 1 .1 1 0 1 -.2 1 0 1 .5 1 .5 1 0 1 -.3 1 -.1 1 .2 1 .2 .4 .2 .6 .3 1 .1 1 -.2 1 -.1 1 .1 1 .2 1 -.1 1 .3 1 .1 1 .6 1 0 1 0 1 -.3 1 -.1 1 .2 1 .4 1 .1 1 0 1 .2 1 .1 1 .3 1 -.1 1 .2 1 -.2 1 .1 1 -.1 1 0 1 .1 1 .3 1 .3 1 .2 1 .1 1 .1 1 -.3 1 0 1 .2 1 .3 1 -.1 1 0 1 0 1 0 1 -.1 1 0 1 .1 1 .2 1 .1 1 .1 1 -.1 1 0 1 0 1 -.1 1 0 1 -.1 1 -.1 1 -.1 1 0 1 .1 1 -.1 1 -.1 1 -.1 1 0 1 0 1 .1 1 .1 1 -.1 1 0 1 .1 1 .1 1 .1 1 0 1 0 1 0 1 .1 1 0 1 -.3 1 -.1 1 .1 1 .1 1 0 1 -.2 1 0 1 0 1 .2 1 .1 1 .3 1 0 1 -.1 1 -.2 1 0 1 -.3 1 0 1 -.1 1 .2 1 0 1 .2 1 .1 1 -.1 1 -.1 1 -.2 1 0 1 0 1 .1 1 0 1 .3 1 0 1 -.2 1 -.1 1 -.2 1 0 1 0 1 .1 1 .1 1 .1 1 .1 1 .1 1 -.1 1 .1 1 -.2 1 .4 1 -.1 1 -.4 1 -.2 1 .1 1 .3 1 0 1 .2 1 .1 1 -.1 1 -.4 1 -.1 1 .1 1 0 1 0 1 .1 1 -.1 1 .3 1 -.1 1 0 1 -.3 1 0 1 .3 1 .1 1 .2 1 -.3 1 0 1 -.3 1 .3 1 -.1 1 .4 .1 -.2" fill="none" stroke="#2A52E2" stroke-width="1.5" stroke-linejoin="round" stroke-linecap="round" />
<path d="M1352.3 940l.8 54.2 1.2 48.4 1 43.6 .4 18.1 .6 30 .7 30 1.3 31.2 1 16.9 1 12.5 1 10.2 .9 7.3 1.1 8.5 1 6.6 1 5.4 .8 3.1 1.2 3.4 1 2.8 1 2.1 1 2.1 1 1.5 1 1.8 1 1.4 .7 .8 1.3 1.6 1 1.2 1 1.1 1 1 1 1.2 1 1.2 1 .8 1 .7 1 .7 1 .7 1 .9 1 .5 1 .4 1 .4 1 .4 1 .5 1 -0 1 .3 1 .4 1 .5 1 .5 1 .5 1 .4 1 .3 1 .2 1 .1 1 .2 1 .3 1 .1 1 .4 1 .1 1 .2 1 .1 1 .1 1 -.2 1 -.3 1 0 1 0 1 -.1 1 -.5 1 -.4 1 -.4 1 -.2 1 -.3 1 -.3 1 -.6 1 -.3 1 -.2 1 -.2 1 -.1 1 -.6 1 -.5 1 -.4 1 -.1 1 .1 .9 -0 1.1 .1 1 .1 1 0 1 .3 1 .4 1 .2 1 -.3 1 -.3 1 .1 1 .5 1 .3 1 .4 1 .3 1 .4 1 .4 1 .1 1 .2 1 -.1 1 .2 .4 .2 .6 .2 1 .1 1 .2 1 .3 1 .1 1 .4 1 .3 1 .3 1 -0 1 .3 1 .1 1 .2 1 .1 1 .6 1 .4 1 .4 1 .2 1 .1 1 .3 1 .1 1 0 1 -.4 1 0 1 .2 .8 .3 1.2 .2 1 -.1 1 0 1 -.1 1 .1 1 .1 1 -.1 1 -.2 1 .1 1 0 1 -.1 1 0 1 -.1 1 0 1 0 1 .1 1 .2 1 -.1 1 -.1 1 -0 1 .4 1 .1 1 -.2 1 -.2 1 -.1 1 -.1 1 .1 1 .1 1 -.1 1 -0 1 -.1 1 -0 1 -.2 1 .3 1 .1 1 -0 1 -.1 1 -0 1 -.2 1 -.1 1 -0 1 .1 1 -0 1 -.3 1 -0 1 -.1 1 -.1 1 .5 1 -0 1 .1 1 -.6 1 -.1 1 -.1 1 .2 1 .1 1 .1 1 -.1 1 -.1 1 -.1 1 -.3 1 .1 1 -0 1 .1 1 -.2 1 .2 1 -0 1 -0 1 -.1 1 .2 1 -0 1 -0 1 -.4 1 -0 1 -.2 1 -0 1 -.4 1 -0 1 -.2 1 .1 1 -.1 1 -.1 1 .1 1 -.2 1 .2 1 -0 1 -.2 1 -.8 1 -.4 1 -.4 1 -.4 1 -.7 1 -.7 1 -1.1 1 -1.3 1 -1.5 1 -1 1 -1.7 1 -2.2 1 -3.9 1 -4.6 1 -5.4 1 -5.2 1 -5.9 1 -6.9 1 -5.8 .8 -1.9 1.2 3.3 1 6.4 1 7 .5 3.1 .5 2.6 1 5.8 1 5.7 1 4.3 1 3.1 1 2.5 1 2.1 1 1.3 1 1 1 .7 1 .5 1 .2 1 .5 1 .2 1 .2 1 0 1 .3 1 .2 1 .2 1 .1 1 .3 1 .1 1 -.1 1 -.2 .9 -.1 1.1 .2 1 .1 1 .4 1 0 1 .2 1 -.3 1 .3 1 .3 1 .2 1 0 1 0 1 .3 1 0 1 .1 1 -.1 1 .1 1 .2 1 0 1 .2 1 .1 1 .3 1 0 1 0 1 -.2 1 .1 1 .1 1 .3 1 0 1 .1 1 0 1 .1 1 -.4 1 .3 1 -.1 1 .4 1 -.3 1 .2 1 -.1 1 0 1 .2 1 .3 1 0 1 .1 1 0 1 .1 1 -.2 1 .3 1 -.1 .6 .2 .4 0 1 0 1 -.2 1 -.2 1 .2 1 0 1 0 1 -.1 1 0 1 0 1 -.2 1 .3 1 -.2 1 .3 1 -.1 1 .1 1 0 1 -.2 1 0 1 -.2 1 .3 1 0 1 .3 1 -.1 1 0 1 -.2 1 -.2 1 0 1 .1 1 .4 1 .2 1 -.2 1 -.4 1 0 1 .3 1 .2 1 -.1 1 0 1 0 1 .3 1 -.1 1 0 1 0 1 .1 1 -.1 1 -.3 1 0 1 .4 1 .1 1 -.2 1 -.3 1 .1 1 -.1 1 0 1 .1 1 -.1 1 .2 1 .2 1 .1 1 .1 1 -.1 1 0 1 0 1 0 1 0 1 -.2 1 -.1 1 -.1 1 .1 1 -.1 1 .2 1 .1 1 .2 1 -.3 1 -.1 1 .2 1 .4 1 0 1 -.2 1 -.3 1 .1 1 -.1 1 -.1 1 -.1 1 .1 1 0 1 0 1 -.1 1 -.1 1 -.1 1 .4 1 0 1 .3 1 -.3 1 -.1 1 -.1 1 0 1 .2 1 .1 1 0 .6 -.1" fill="none" stroke="#262626" stroke-width="1.5" stroke-linejoin="round" stroke-linecap="round" /></g>
</svg>
</body></html>
